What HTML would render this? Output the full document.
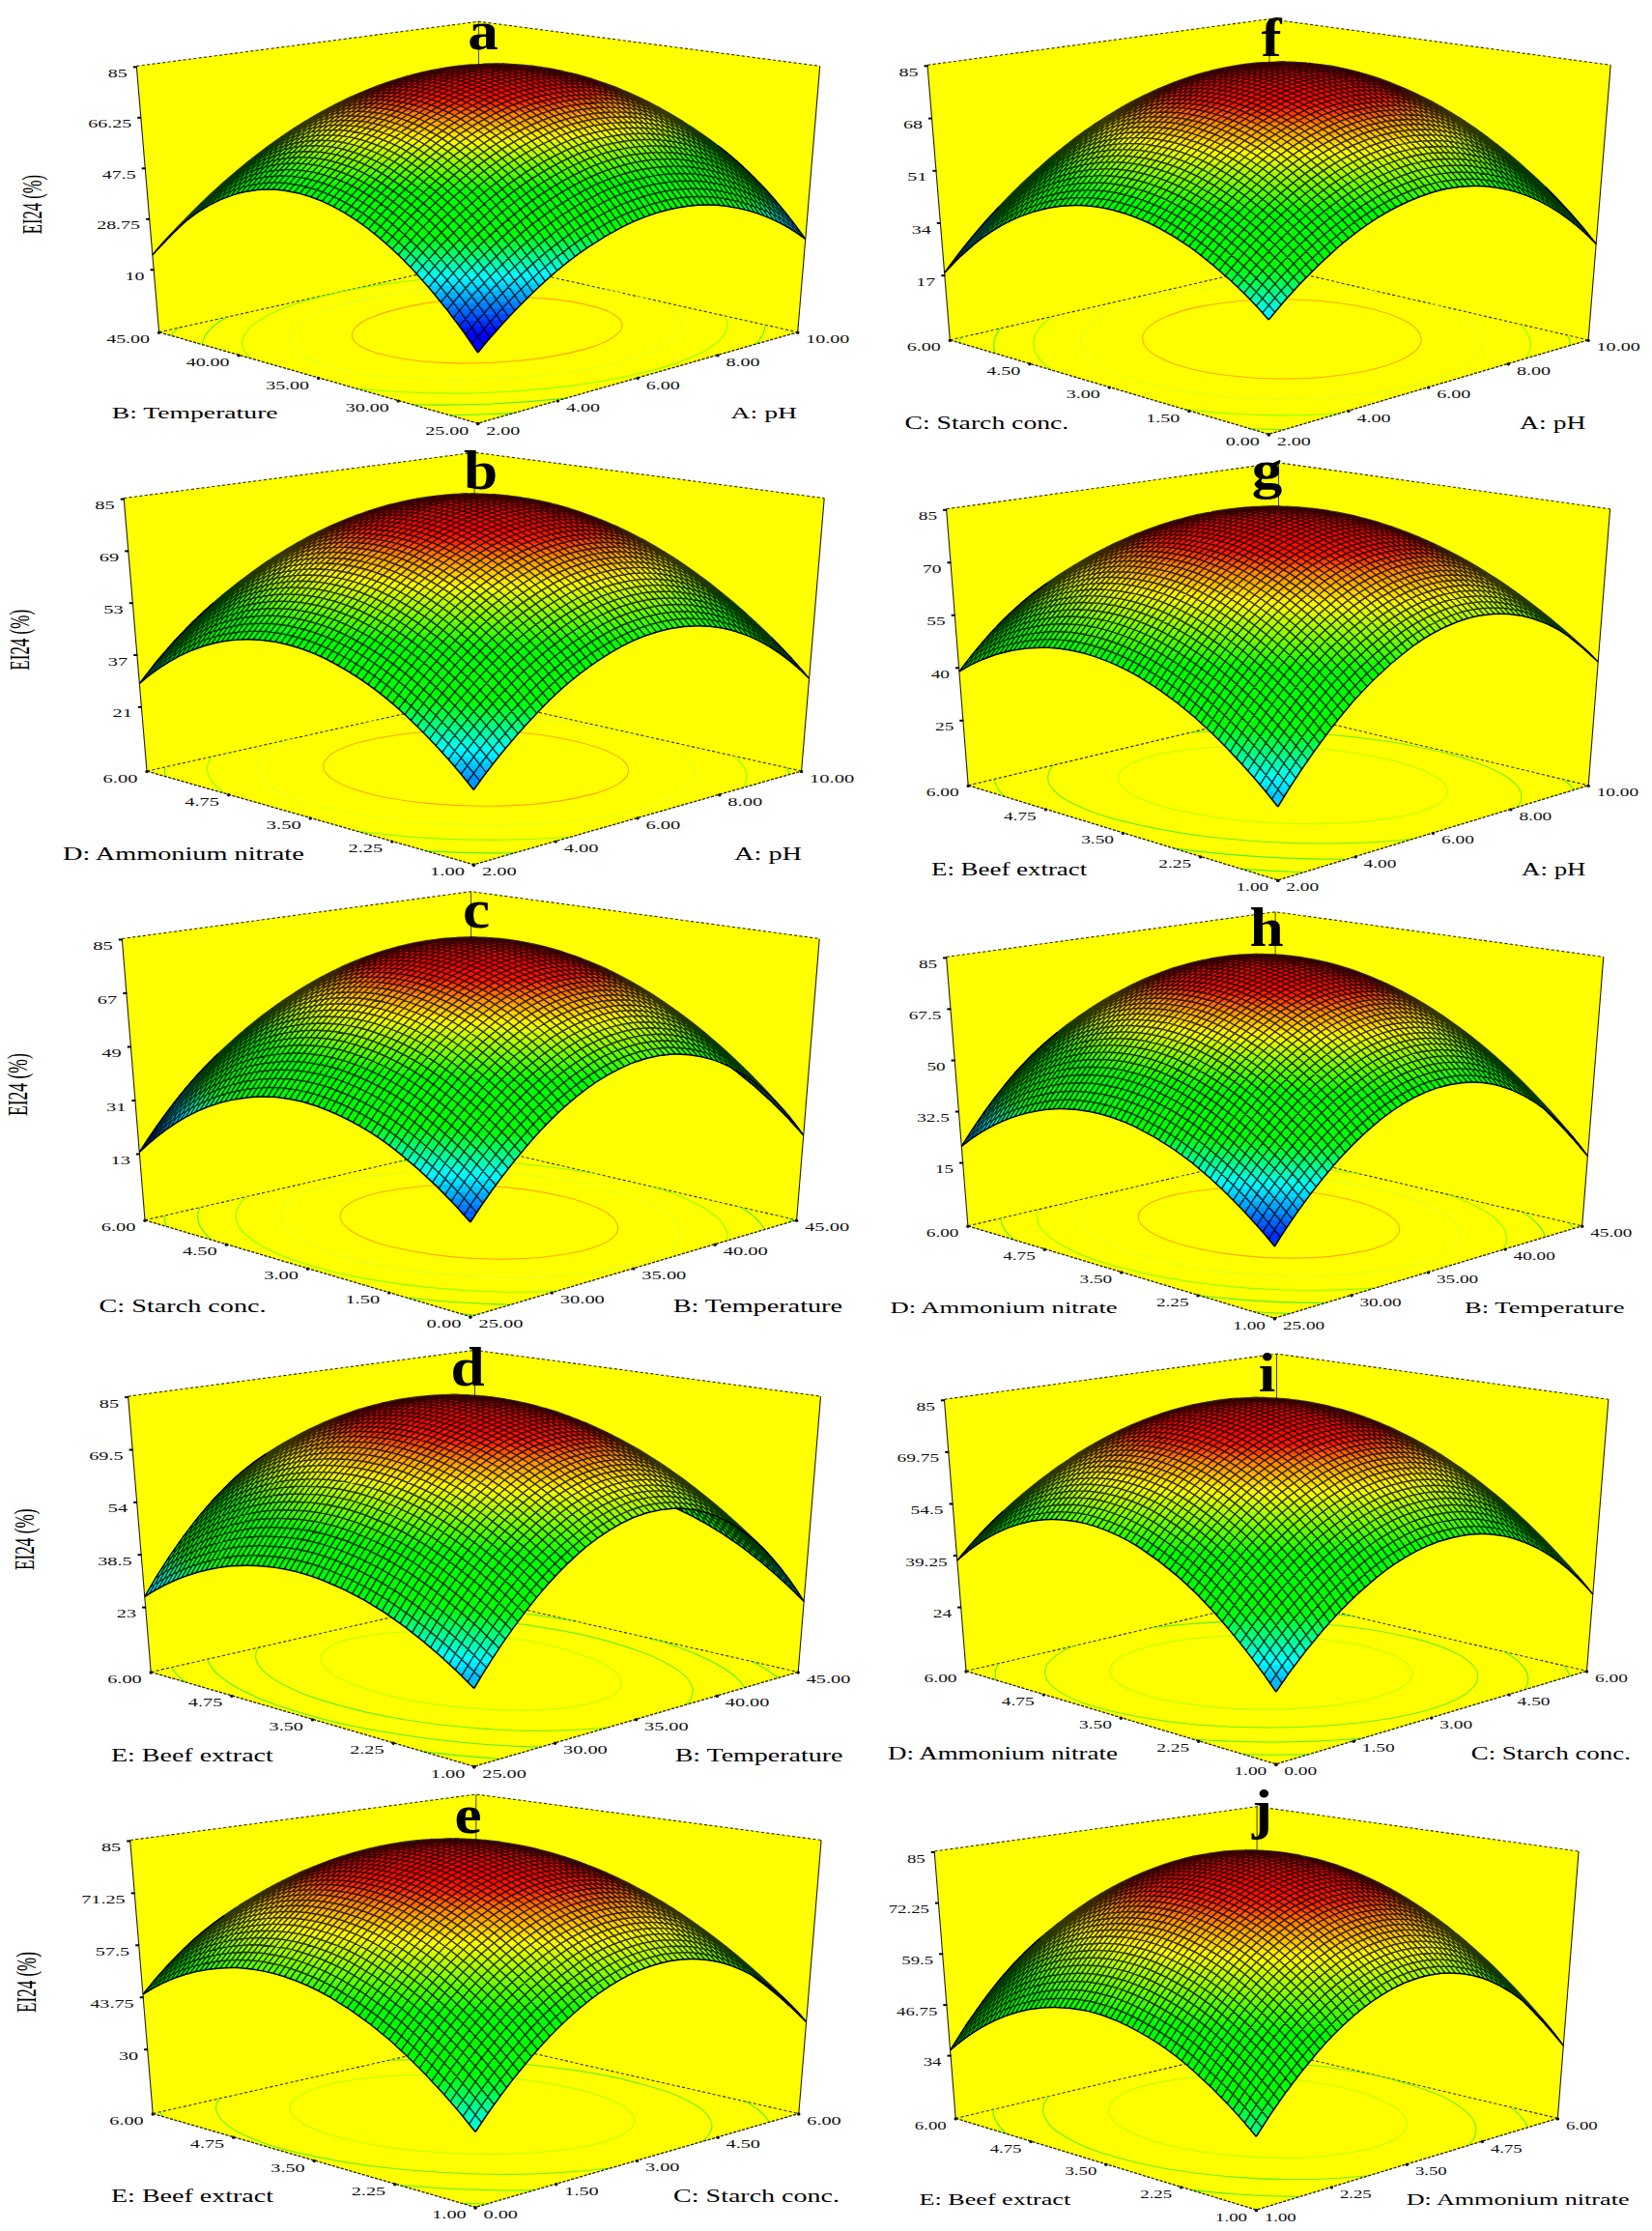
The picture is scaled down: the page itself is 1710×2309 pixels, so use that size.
<!DOCTYPE html>
<html><head><meta charset="utf-8"><title>Response surface plots</title>
<style>html,body{margin:0;padding:0;background:#fff}svg{display:block}text{font-family:"Liberation Serif",serif}</style>
</head><body>
<svg width="1710" height="2309" viewBox="0 0 1710 2309">
<rect width="1710" height="2309" fill="#fff"/>
<g id="pa">
<path d="M141.3 68.4L495.4 22.3L848.7 68.4L825.7 343.8L494.7 438.1L164.6 343.8z" fill="#ff0"/>
<path d="M141.3 68.4L495.4 22.3L848.7 68.4M164.6 343.8L495.5 270.1L825.7 343.8" fill="none" stroke="#330" stroke-width="1.1" stroke-dasharray="3.2 2.2"/>
<path d="M495.4 22.3L495.5 270.1" fill="none" stroke="#442" stroke-width="1"/>
<path d="M848.7 68.4L825.7 343.8M141.3 68.4L164.6 343.8" fill="none" stroke="#221" stroke-width="1.1"/>
<g fill="none" stroke-width="1.1" opacity=".85"><path d="M177.2 347.4q3.2-4.4 7.3-8M495.1 270.2l.7 0M532.4 427.4q-33.4 2-66.8 2.4" stroke="#3e3"/><path d="M209.1 356.5q1.8-10.3 10.1-17.2 7.1-6.4 15.6-11.1M453.4 279.5q34.7-2.6 69.5-3.2M792.2 336.3q-.9 12.2-10.8 20.1M586.2 412.1q-79.6 8.7-159.7 6.6" stroke="#3e3"/><path d="M260.4 371.2q-5-3.8-8-9.2-2.6-5.1-1.4-10.8 3.8-10.8 13.7-17.1 17.9-11.9 38.5-18.5 41.9-13.8 85.5-20.2 84.7-12.9 170.4-11.1M749.6 326.8q4.6 6.3 2.8 13.8-2 6.2-6.8 10.8-10 9.3-22.5 15-24.3 11.2-50.3 17.6-50.2 12.5-101.8 17.6-101.4 10.9-202.9 .4" stroke="#7f0"/><path d="M334.3 377.2q-13-3.9-24.3-11.2-5.5-3.5-8.7-9.1-3-6.1 .2-12.2 3.6-6.2 9.7-10.3 5.2-3.7 11-6.6 10.9-5.4 22.5-9.2 48.3-14.9 98.8-19.7 50.4-5.5 101.1-4.8 49.5 .2 98.1 8.9M659.6 306.7q14.6 3.6 28.1 9.9 6.3 2.9 11.6 7.4 5.6 4.4 6.8 11.4-.1 7.6-5.9 12.9-5.3 5.1-11.7 8.7-11.6 6.4-24.2 10.7-26.9 9.1-54.9 14-27.6 5-55.4 7.7-56.4 5.5-112.9 3.3-27.3-1-54.4-4.5-26.7-3.2-52.4-11" stroke="#dcff2a"/><path d="M389.3 365.2q-9.6-2.7-18-8-4.4-2.8-6.5-7.4-1.6-4.8 1.5-8.9 6.8-7.8 16.4-11.6 8.2-3.6 16.7-6.2 36.1-10.2 73.6-13.2 37.8-3.4 75.6-1.8 36.4 .9 71.4 10.5 9.4 2.7 17.5 8.1 4.1 2.7 6.1 7.2 1.4 4.8-1.7 8.8-6.5 7.5-15.8 11.2-8.5 3.9-17.4 6.5-35.9 10.2-73.1 13.1-37.9 3.5-76 1.9-35.8-.9-70.3-10.2" stroke="#ff9a00"/></g>
<path d="M164.6 343.8L494.7 438.1L825.7 343.8" fill="none" stroke="#220" stroke-width="1.3" stroke-dasharray="3.2 1.4"/>
<g><path d="M833.7 247.5q-30.2-43.4-69.2-79.1-37.6-35.2-86.3-50.9-52-14.7-101.7 6.5-46.5 21.5-81 59.5-40.4-28.2-88.7-37.3-48.4-7.9-95 7.5-45.7 15.6-84 45.1-38.2 29.2-70 65.2 17.4-21.8 39.4-38.9 21.3-16.5 46.9-24.3 26-7.5 52.8-3.3 26.5 4.4 50.1 17.2 47.5 26.9 83.7 68 35.1 38.7 64 82.3 32.4-40.1 70.5-74.8 36.7-33.7 80.9-56.4 45.8-23.6 97.1-21.4 50.2 4.4 90.5 35.1z" fill="#00f"/><path d="M484.8 350.6q-29.6-42.9-65.9-80.3-36-38.1-83-61-48.7-22.9-99.4-6-24.4 9.2-44.5 25.9-18.8 15.6-34.2 34.8 32.7-37 72.1-66.7 38.3-29.2 83.9-44.3 46.8-14.9 95-6.4 47.1 9.4 86.7 36.9 18.6-19.9 40.5-36.1 20.7-15.3 44.5-25 49.1-19.5 99.8-4.3 25.7 8.1 48.3 22.8 21.5 13.9 40.2 31.3 36.3 34.3 64.9 75.3-39.3-30-88.3-34.9-48.4-2.9-92.3 17.9-43.8 20.9-80.2 53-35.3 30.7-65.6 66.4l-22.5 .7z" fill="#00f"/><path d="M480.5 344.6q-29.5-42.1-65.8-78.5-35.2-36.2-80.7-57.6-48.9-22.2-99.3-4.5-23.3 9.1-42.6 25.1-18.9 15.7-34.3 34.9 32.7-37 72.1-66.7 38.3-29.2 83.9-44.3 46.8-14.9 95-6.4 47.1 9.4 86.7 36.9 18.6-19.9 40.5-36.1 20.7-15.3 44.5-25 49.1-19.5 99.8-4.3 25.7 8.1 48.3 22.8 21.5 13.9 40.2 31.3 36.3 34.3 64.9 75.3-38.6-29.5-86.8-34.8-47.1-3.4-90.3 16.3-42.6 19.4-78.2 49.8-35.3 29.8-65.6 64.8l-32.3 1z" fill="#0016ff"/><path d="M476.2 338.6q-29.5-41.3-65.8-76.7-35.1-35.1-80.5-55.1-48.2-20.3-97-2.1-23.3 9.5-42.5 25.8-17.9 15.2-32.6 33.5 32.7-37 72.1-66.7 38.3-29.2 83.9-44.3 46.8-14.9 95-6.4 47.1 9.4 86.7 36.9 18.6-19.9 40.5-36.1 20.7-15.3 44.5-25 49.1-19.5 99.8-4.3 25.7 8.1 48.3 22.8 21.5 13.9 40.2 31.3 36.3 34.3 64.9 75.3-37.7-28.7-84.6-34.6-45.6-4-87.8 14.1-42.2 18.1-77.6 47.5-35.2 28.8-65.3 62.7l-42.2 1.4z" fill="#0030ff"/><path d="M495.5 183.5q18.6-19.9 40.5-36.1 20.7-15.3 44.5-25 49.1-19.5 99.8-4.3 25.7 8.1 48.3 22.8 21.5 13.9 40.2 31.3 36.3 34.3 64.9 75.3-37-28.2-83-34.4-44.4-4.4-85.8 12.4-42.2 17.4-77.6 46.1-33.9 27.2-63.1 59.3-26.2 1.2-52.5 1.6-29.4-40.2-65.5-74.5-34.3-33.3-78-51.9-47.2-19.2-94.8-1.6-22.3 8.9-40.8 24.2-17.9 14.8-32.7 32.8 32.4-35.9 71-65 38.2-28.8 83.6-43.7 46.6-14.7 94.6-6.2 47 9.5 86.4 36.9z" fill="#004aff"/><path d="M495.5 183.5q18.6-19.9 40.5-36.1 20.7-15.3 44.5-25 49.1-19.5 99.8-4.3 25.7 8.1 48.3 22.8 21.5 13.9 40.2 31.3 36.3 34.3 64.9 75.3-76.7-55.9-166-23-40.5 16-74.9 42.9-33.7 26-62.7 57.1-31.4 1.6-62.9 2-28.5-38.1-63.2-70.6-34.3-32.7-77.9-50.6-45.3-17.7-90.9-1.5-22.3 8.6-40.9 23.6-17.1 13.6-31.2 30.3 17-17.6 35-34.3 17.2-15.6 36-29.2 38.4-28.4 83.9-42.4 45.8-13.6 92.7-4.8 46.1 9.6 84.8 36.5z" fill="#0065ff"/><path d="M495.5 183.5q18.6-19.9 40.5-36.1 20.7-15.3 44.5-25 49.1-19.5 99.8-4.3 25.7 8.1 48.3 22.8 21.5 13.9 40.2 31.3 36.3 34.3 64.9 75.3-73.5-54-160.1-25.1-40.4 14.6-74.7 40.4-33.7 25-62.6 55.3-36.9 1.9-73.8 2.3-28.4-37.2-63-68.5-32.6-30-73.4-46.6-44.2-17.3-89-2.2-41.7 16.5-70.8 50.9 17.1-16.9 34.8-33.3 17.1-15.3 35.9-28.6 38.3-27.7 83.6-41.1 45.7-12.9 92.3-3.6 44.8 9.9 82.6 36.1z" fill="#007fff"/><path d="M495.5 183.5q35.3-39 83.1-60.3 49-20.2 99.9-5.7 25.7 7.8 48.3 22.3 21.5 13.6 40.2 30.8 36.4 33.9 65.1 74.6l-.4 .8q-72.1-51.7-156.5-24.2-39 13.7-72.4 38.2-32.2 23.3-60.2 51.6-42.4 2.4-84.9 2.7-27.4-35-60.6-64.5-32.5-29.4-73.1-45.3-42.2-15.8-85-2.1-40.5 15.2-69.3 47.9 17-16.6 34.7-32.5 17.2-15.1 36-28.1 37.6-26.4 81.7-39.1 44.9-12.3 90.6-3.3 44.9 9.9 82.8 36.2z" fill="#09f"/><path d="M495.5 183.5q35.1-38.8 82.7-60.2 47.5-19.7 97.2-6.6 49.7 15.2 88.1 50.7 36.2 32.9 64.8 72.6l-1.4 2.7q-69.6-47-149.6-21.6-37.7 12.8-70.2 35.9-31 21.7-57.9 48.1-48.2 2.9-96.4 3.1-26.5-33.1-58.5-60.8-31.8-28.1-71.3-43.2-40.4-14.8-81.4-2.6-39.8 13.9-68.4 45 3.9-4.9 9.2-8.4l8.4-8.1 16.9-15.2q17.2-14.7 35.9-27.3 37.5-25.8 81.3-37.7 44.8-11.7 90.1-2.1 43.6 10.1 80.5 35.7z" fill="#00b3ff"/><path d="M490.7 180.3l8.1-.3q34.7-37.2 81.2-57.4 46.7-18.8 95.4-5.9 47.1 14.2 84 47.2 36.3 31.9 65 70.8-.9 2.5-2.5 4.6-66.9-42.2-142.5-18.8-36.4 11.8-67.9 33.5-29.6 20-55.5 44.6-54.1 3.4-108.3 3.5-26.4-32.1-58.2-58.7-30.8-26.2-68.6-40-39.4-13.7-79.1-1.9-37.4 12.9-65 41.4 3.8-5.2 9.2-8.8 4.6-3.3 8.5-7.4l16.9-14.9q16.3-13.6 33.9-25.4 36.8-24.9 79.5-36.5 43-11.2 86.6-2.8 42.8 9 79.3 33.2z" fill="#00ceff"/><path d="M485.6 177.1l16.7-.6q34.2-35.6 79.6-54.6 44.8-17.5 91.4-5.8 47.1 13.6 84.1 46.1 35.1 30.2 63 67.3-1.3 3.6-3.9 6.5-63.9-37.4-135-16.2-33.7 10.6-63.3 29.8-29.3 18.9-55 42.4-60.3 4.1-120.7 3.9-25.5-30.1-56-55-30-24.8-66.6-37.8-37.5-12.8-75.5-2.4-36.4 11.6-63.8 38.5 3.3-5.1 8.3-8.6 5-3.2 9.4-7.4l14.8-12.8q16.1-13.4 33.7-24.9 35.7-24 77.1-35.4 41.8-11.1 84.3-3.6 41.5 7.9 77.4 30.6z" fill="#00e8ff"/><path d="M480.2 173.8l25.7-.8q33.7-34 77.9-51.9 44-16.4 89.5-5 44.5 12.7 79.9 42.6 35.1 29.2 63.1 65.5-1.6 5-5.5 8.5-61.4-33-128.4-13.2-32.4 10-61.1 28.1-26.8 16.9-50.6 37.7-66.7 4.8-133.6 4.4-24.6-28.1-53.8-51.3-29.2-23.4-64.4-35.6-35.5-11.9-71.8-2.8-35.4 10.2-62.5 35.5 2.9-5.4 7.9-9 5.1-3.3 9.8-6.9l14.9-12.5q16.1-13.1 33.7-24.3 34-22 73-32.7 40.8-10.8 82.4-4 39.5 7.1 73.9 27.7z" fill="#00fffa"/><path d="M474.6 170.6l35-1.2q32.4-31.5 74.3-48.3 42.8-16 87.4-5.5 44.3 12 79.8 41.4 33.8 27.6 60.9 61.9-1.8 6.5-7.3 10.6-58.6-28.6-121.2-10.3-29.9 9-56.7 25.1-25.4 15.3-48.2 34.3-73.5 5.6-147.2 4.8-24.3-26.9-53.1-48.8-27.2-20.8-59.6-31.9-34.2-11.4-69.3-3.3-34 9.1-60.6 32.5 5.3-10 15.7-14.9 5.7-3.6 10.7-8.3l6.3-5.1q15.2-11.9 31.6-22.2 33.1-20.9 70.8-31.3 79.3-19.6 150.7 20.5z" fill="#00ffd4"/><path d="M468.7 167.5l44.7-1.6q32.6-30.7 74.5-46.2 41.1-14.2 83.3-4.1 43 11.5 77.6 39.6 32.6 26 58.9 58.3-2.2 8.3-9.7 12.9-54.8-24.1-112.5-7.7-54.4 16.7-98.4 53.1-80.7 6.6-161.5 5.4-23.5-25.1-51.2-45.4-26.4-19.5-57.6-29.7-32.5-10.3-65.8-3.1-32.2 8-57.8 29.2 3.8-9.5 13.3-14.3 8.4-4.3 15.5-10.6 15.2-12 31.7-22.2 32.3-20.4 69-30.7 76.2-19.5 146 17.1z" fill="#00ffae"/><path d="M462.4 164.3q27.5-1.4 54.9-1.9 32.1-29.1 72.7-43.4 40.1-13.2 81.2-3.4 40.2 10.7 73.2 36.3 32.5 24.9 58.8 56.3-.7 5.4-4.8 9.2-3.5 3.4-7.6 5.9-50.7-19.5-103.3-5.2-50 14.7-91.4 46.8-88.2 7.7-176.7 5.9-22.3-23-48.5-41.5-25.5-18.1-55.2-27.5-31.4-9.7-63.5-3-30 7-54.3 25.8 .9-5.4 5-9.1 3.3-3.2 7.3-5.6l9.4-5.1q3.8-2.4 7.3-5.3 14.2-10.8 29.5-20.1 30.3-18.6 64.4-28.4 73.3-19.8 141.6 13.3z" fill="#00ff87"/><path d="M455.8 161.2q32.8-1.8 65.6-2.3 30.8-26.9 69.3-40.2 39.3-12.7 79.5-3.3 39.1 10 71.4 34.4 31.4 23.4 56.9 53-.5 6.6-5.8 10.8-4.5 4-9.8 6.8-46.8-15.3-94.3-2.6-44.8 12.7-82.7 40-96.2 9-192.9 6.7-21.4-21.2-46.3-38-24.6-16.8-53.1-25.3-59.9-16.1-110.8 19.8 1.2-9.4 10-14.3 7.3-4.8 15.4-8.2 14.1-10.6 29.4-19.8 29.3-17.9 62.2-27.5 69.8-19.3 136 10z" fill="#00ff61"/><path d="M448.6 158.2q38.5-2.3 77.1-2.9 30.1-25.1 67.3-37.3 37.1-11.4 75.1-3.1 38.8 9.3 71.1 33.1 29.9 21.8 54.5 49.5-.3 8-7.4 12.7-5.8 4.4-12.5 7.4-41.5-11-83.2-.3-39.6 10.6-73.8 33.2-105 10.6-210.5 7.5-21.4-20.1-46.2-35.7-22.7-14.4-48.5-21.7-55.4-14.2-103.5 16.9-.8-4.8 2.1-8.6 2.6-3.4 6.1-5.9 6.7-4.7 14.2-7.9 8.7-3.7 16.3-9.6l12.6-7.9q28.5-17 60.4-26.3 65.5-18.4 128.8 6.9z" fill="#00ff3b"/><path d="M440.8 155.2q44.6-2.9 89.3-3.4 29.6-23.6 65.8-34.6 35.3-10.1 71.2-2.5 36.3 8.4 66.9 29.8 30 20.7 54.8 47.6 .7 4.9-2.7 8.8-3 3.6-7.1 6.2-7.4 4.8-15.7 8-34.9-6.8-69.6 1.5-34.3 8.3-64.6 26.4-114.7 12.6-230 8.5-19.3-17.2-41.4-30.7-21.7-13.4-46.2-20.2-51.6-13.5-97.7 13.4-2.2-8.8 5.7-14.3 6.4-5 13.7-8.2l8.9-3.8q3.8-1.2 7-3.7l12.6-7.7q26.6-15.6 56.1-24.5 62-18.2 123 3.4z" fill="#00ff15"/><path d="M432.2 152.3q51.2-3.6 102.6-4 29-22.1 64-32 34.5-9.1 69.3-1.4 33.9 8 62.8 27.5 28.8 19.2 52.7 44.2 1.3 6.3-3.6 10.9-3.9 3.8-8.7 6.4-10 5.6-20.9 9.2-28.7-3.2-56.7 3.5-26 6.2-49.8 18.4-125.9 15.2-252.5 9.9-18.3-15.4-39.1-27.3-20.7-11.9-43.8-17.8-46.2-11.1-88.4 10.7-4.2-7.7 2.6-13.8 5.7-5.2 12.7-8.4 7.1-3.5 14.5-6.1 6.9-2.4 12.9-6.5 25.6-14.9 53.9-23.6 57.8-17.3 115.5 .2z" fill="#0f0"/><path d="M422.5 149.6q58.5-4.5 117.1-4.8 28.4-20.5 62.3-29.2 32.5-7.9 65.2-.9 32.5 7.4 60.6 25.6 27.4 17.7 50.5 40.9 2.1 8.4-5.6 13.6-6 4.5-12.9 7.5-13.4 5.9-27.6 9.7-23.2 .2-45.5 6.4-11.5 3.1-22.6 7.5l-19.7 2.8q-42.8 5.4-85.9 8.1-87.7 5.6-175.4 1.4-33.3-27-74.5-38.4-42.1-10.3-81.6 7.4-5.7-6.3-.8-13.1 4.7-5.5 11.1-8.7 12.7-6.6 26.4-10.6 24.5-13.4 51.1-22.1 53.5-16.7 107.8-3.1z" fill="#0f0"/><path d="M411.3 147.1q66.6-5.7 133.4-5.7 26.9-18.3 58.4-26.1 31.3-7.4 62.9-.9 31.2 6.9 58.3 23.8 26.1 16.2 48.2 37.5 3.2 7.3-3.2 12.6-5 4.5-11.2 7.3-11.7 5.6-24.2 9.2-25.3 7.4-51.3 11.8-51 8.6-102.6 12.4-103 8.1-206.2 2.4-30.6-22.7-67.4-32.1-36.6-8.4-71.7 4.7-6.6-4.6-4.8-11.9 3.1-6 9-9.3 11.2-6.6 23.5-10.4l13.1-4q6.1-2.4 12-5.4 11.2-5 22.9-8.9 49.6-16.7 100.9-7z" fill="#0f0"/><path d="M550.1 137.9q36.2-23.3 79-26.3 41.5-1.5 78.6 17.4 18.9 9.5 35.7 22.1 8.7 6.5 16.9 13.5 3.8 3 6.9 6.6 2.5 4.4-.2 8.8-7 8.3-17.4 12.2-9.4 4-19.2 6.9-19.3 5.7-39 9.4-82.1 14.7-165.6 17.5-81.3 3.7-162.5-1.7-27.2-18.1-58.9-25.4-30.7-6.7-60.8 2.1-5.2-2.8-8-7.9-1.9-5.9 2.8-10.3 8.3-7.3 18.8-11.1 10.6-4.2 21.5-7.1 9.9-2.2 19.3-6 39.3-15.8 81.6-15.1l11.9 .7q5.3 1 10.5 .2l22.2-1.9 41.4-2.6q42.2-2.1 84.5-2z" fill="#0f0"/><path d="M555.8 134.4q77.1-43.9 156.1-3.2 18.9 10 35.8 23.1l8.4 6.8q4.2 2.5 6.3 6.7 1.7 5.3-2.3 9.4-3.3 3.4-7.4 5.7-18.5 9.6-39 14.2-19.2 4.8-38.8 8.1-80.5 12.8-162.1 15.1-81 3.1-161.9-3.4-22.4-12.8-47.5-18.2-24.4-5.1-48.9-.4-5.2-2.3-9.6-5.9-5-3.8-3.8-9.8 2.4-5.3 7.5-8.3 4.5-3 9.5-5.2 20.4-8.5 42-13 11.3-2.2 22.2-5.5 9.9-2.7 20.1-4.4 10.8-1.9 21.8-2.5 10.3 .1 20.6-1 85.3-9 171-8.3z" fill="#0f0"/><path d="M561.9 131q37.2-20.4 79.5-19.5 41 2.2 76.6 23 18.8 10.8 35.6 24.5 4.5 3.6 3.5 9-1.8 4.6-6 7.3-7.7 5.3-16.6 8.5-38.2 12.9-78.2 18-80 11.2-160.7 12.7-80.8 2.4-161.1-5.8-31.1-14.1-65.1-12.4-11-3-19.7-10.2-4.7-4.5-1.9-10.3 3.2-4.6 8.1-7.3 19.9-10.4 42-15 43.3-9.8 87.6-14.3 87.9-9.3 176.4-8.2z" fill="#0f0"/><path d="M568.5 127.7q63-30.3 127.6-3.9 15.3 6.4 29.3 15.1l14.7 9.8q6.5 3.6 10.7 9.5 2 4.2-.9 8-2.6 3.2-6.1 5.3-7 4.3-14.8 7.1-14.9 5.4-30.5 8.9-64.2 13.4-129.7 17.3-64.7 4.6-129.6 3.6-65.8-.2-130.9-10-16.2-2.6-31.9-7.3-7.8-2.3-14.9-6.2-3.6-1.8-6.4-4.7-2.9-3.1-2.2-7.1 3.7-7.6 11.8-11 7.1-3.6 14.6-6.1 15.2-5.1 30.9-8.4 64.6-12.9 130.4-16.7 63.9-4.3 127.9-3.2z" fill="#0f0"/><path d="M575.8 124.4q62.6-26.4 124.8 1.3 15.4 6.9 29.6 16.2 6.4 4 12.3 8.6 6.3 6.3-.1 12.6-13 9.8-29 13.7-14.8 4.3-29.9 7.3-62.1 11.7-125.3 15.2-63 4-126.1 2.7-64-.5-127-11-15.7-2.8-30.6-8.3-7.9-2.6-13.7-8.5-2.8-3.4-1.1-7.5 1.7-3.3 4.8-5.5 13.5-8.5 29.1-12.4 15.1-4.3 30.6-7.3 62.2-11.3 125.5-14.7 63-3.9 126.1-2.4z" fill="#0f0"/><path d="M583.8 121.1q61.7-22 121 6.5 14 6.9 27.1 15.2 3.7 2 6.3 5.2 2.4 3.3 .7 7-4.4 6.3-11.8 9.3-28.4 11.7-58.9 16.2-60.9 10.2-122.5 13.2-61.1 3.4-122.3 1.7-31.6-.9-63.1-3.7-30.6-2.4-60.6-8.9-15.7-2.9-29.2-10.9-8.1-5.4-2.7-12.8 5.5-5.3 12.7-8.1 28.7-11 59.2-15.6 60.9-9.9 122.5-12.8 60.8-3.2 121.6-1.5z" fill="#1cff00"/><path d="M592.9 118q60.7-17.3 116.9 12.1 6.7 3.7 13.5 7.1 3.5 1.6 6.4 3.9 3.1 2.3 3.6 6.1-.3 4-3.6 6.6-2.9 2.4-6.2 4.1-6.5 3.4-13.5 5.7-28.2 8.9-57.5 13-118.9 16.9-238.9 12-30.5-1.1-60.9-4.2-29.5-2.7-58.2-10.3-7.5-2.1-14.5-5.7-3.4-1.8-6-4.6-2.7-3-1.5-6.7 4-6.5 11.4-9.4 6.7-3.2 13.8-5.5 28.3-8.5 57.7-12.6 118.2-16.4 237.5-11.6z" fill="#3bff00"/><path d="M603.7 115.1q29.5-6.7 59.3-1.3 14.9 2.9 29.1 8.4 12.3 5.4 24.6 10.5 3.6 1.6 6.7 4.1 3.2 2.3 3.4 6.1-2.2 7.1-9.7 10-13 6.3-27.1 9.6-28 6.8-56.7 10.5-115.7 14.4-232.2 8.6-29.5-1.4-58.9-5.2-14.2-1.8-28.3-4.7-14.2-2.7-27.2-8.8-3.5-1.7-6.1-4.7-2.6-3-1-6.6 4.2-6.1 11.2-8.8 13.2-5.8 27.3-9.1 27.8-6.6 56.1-10.1 114.4-14.1 229.5-8.5z" fill="#5aff00"/><path d="M321.2 166q-14.3-2.5-27.5-8.5-3.4-1.7-6-4.5-2.6-2.9-1.1-6.4 4-5.8 10.8-8.4 26.2-10.5 54.4-14.5 55.7-9 112.1-11.6 56-3 112.1-1.5l28.8 1.2q13.5 1.2 26.8-.3 28.1-.8 54.6 8.5 6.8 2.7 13.8 4.6 6.7 1.9 13 5.2 3.1 1.6 5.5 4.2 2.5 3 .9 6.5-4 5.6-10.6 8.2-25.9 10.4-53.6 14.4-55.2 9-111.1 11.6-56.5 3.1-113.2 1.6-55.3-.7-109.7-10.3z" fill="#79ff00"/><path d="M327.6 160.2q-13.9-2.5-26.7-8.2-3.1-1.6-5.6-4-2.7-2.7-1.5-6.1 3.7-5.8 10.4-8.3 25.3-10.1 52.4-13.9 53.1-8.5 106.9-11.1 54.4-2.9 108.8-1.5 27.1 .7 54.1 2.9 26.8 1.6 53.1 7 13.8 2.4 26.4 8.3 3.1 1.5 5.5 4 2.6 2.8 1.2 6.2-4 5.6-10.6 8.1-25.1 9.9-51.9 13.7-53.4 8.6-107.4 11.1-54.5 3-109.1 1.5-53.4-.6-106-9.7z" fill="#98ff00"/><path d="M334.3 154.2q-13.5-2.2-25.9-7.7-3.1-1.5-5.5-3.8-2.6-2.5-1.6-5.8 3.5-5.6 9.9-8 24.4-9.6 50.5-13.2 51.3-8.2 103.2-10.6 52.6-2.8 105.2-1.5 51.7 .6 102.7 9.3 13.1 2.3 25.3 7.6 3.2 1.5 5.7 3.9 2.7 2.5 1.7 5.9-3.5 5.6-10 8-24.5 9.6-50.8 13.2-51.4 8.2-103.4 10.6-52.4 2.8-104.9 1.4-51.5-.6-102.1-9.3z" fill="#b8ff00"/><path d="M341.2 148.3q-12.7-2.1-24.5-7.1-3.1-1.4-5.6-3.6-2.7-2.2-2-5.5 3.2-5.5 9.5-7.8 23.4-9.2 48.4-12.6 49.4-7.8 99.4-10.1 50.7-2.7 101.4-1.5 49.8 .6 98.9 9 12.6 2.1 24.2 7.2 3.1 1.4 5.5 3.7 2.5 2.3 1.5 5.6-3.5 5.3-9.7 7.5-23.8 9.2-49 12.6-49.4 7.7-99.3 10-50.3 2.7-100.7 1.4-49.4-.6-98-8.8z" fill="#d7ff00"/><path d="M348.3 142.4q-12.1-2.1-23.5-6.8-3-1.3-5.4-3.4-2.6-2.1-2-5.2 3-5.2 8.9-7.3 22.3-8.8 46.2-12 47.4-7.4 95.4-9.6 48-2.6 96-1.4 48.1 .5 95.5 8.3 12.2 2.1 23.6 6.8 2.8 1.3 5.1 3.3 2.7 2.1 2 5.3-3.1 5.2-9.1 7.4-22.5 8.7-46.4 11.9-47.8 7.4-96.2 9.6-48.1 2.5-96.2 1.3-47.3-.6-93.9-8.2z" fill="#f6ff00"/><path d="M355.8 136.4q-11.8-2-22.9-6.6-2.8-1.2-5.1-3.2-2.4-2-1.7-4.9 3.1-4.9 8.8-6.9 21.6-8.2 44.5-11.3 45.5-6.9 91.6-9 45.9-2.3 91.8-1.2 45.3 .5 89.9 7.9 11.6 1.9 22.4 6.4 2.8 1.2 5.1 3.3 2.4 2.1 1.5 5-3.2 4.8-8.8 6.7-21.5 8.2-44.4 11.3-45.6 6.9-91.7 9-45.7 2.3-91.5 1.2-45.1-.5-89.5-7.7z" fill="#ffe900"/><path d="M363.7 130.3q-11-1.8-21.5-5.9-2.7-1.1-5-3-2.4-1.7-2-4.5 2.7-4.9 8.2-6.8 20.4-7.7 42.2-10.6 42.6-6.4 85.7-8.4 43.7-2.3 87.5-1.2 43.3 .4 86 7.3 11.2 1.8 21.6 6 2.6 1.1 4.7 2.9 2.4 1.8 1.9 4.6-2.7 4.7-8.1 6.6-20.2 7.7-41.7 10.5-43 6.6-86.5 8.5-43.3 2.3-86.7 1.3-43.4-.5-86.3-7.3z" fill="#ffc900"/><path d="M372 124.3q-10.4-1.7-20.3-5.5-5.6-1.6-6.9-6.7 2-4.7 7.3-6.4 19.3-7.5 40-10.1 40.3-6.1 81-7.9 41.4-2.1 82.9-1.2 40.6 .5 80.6 6.7 10.4 1.7 20.2 5.4l4.8 2.7q2.2 1.5 2.2 4.1-2.2 4.8-7.5 6.5-19.4 7.4-40 10-40.5 6.1-81.4 7.9-41.5 2.1-83 1.1-40.2-.4-79.9-6.6z" fill="#fa0"/><path d="M380.9 118.1q-9.9-1.5-19.2-5-5.4-1.4-6.6-6.3 2.1-4.4 7.1-6 18.3-6.8 37.8-9.3 37.9-5.6 76.3-7.3 38.3-1.9 76.7-1 38 .4 75.6 6.2 9.7 1.6 18.8 5.1l4.4 2.4q2.2 1.5 2 4.1-2.4 4.2-7.2 5.8-18.2 6.7-37.6 9.2-37.8 5.6-76.1 7.2-38.6 2-77.3 1.1-37.6-.5-74.7-6.2z" fill="#ff8900"/><path d="M390.4 112q-9.2-1.4-17.9-4.6-4.9-1.3-6.3-5.6 1.7-4.2 6.4-5.7 16.9-6.3 34.9-8.5 35.3-5.1 70.9-6.7 35.6-1.7 71.3-.9 35 .3 69.5 5.6 9.1 1.4 17.7 4.6 5.2 1.3 6.1 5.9-2.2 4-6.8 5.5-17 6.1-35 8.4-35 5.1-70.4 6.6-35.7 1.7-71.4 .9-34.7-.4-69-5.5z" fill="#ff5900"/><path d="M400.6 105.7q-8.2-1.2-16-4-4.3-1.1-6.2-4.7 .9-4 5.3-5.4 15.1-5.7 31.3-7.7 32.1-4.8 64.6-6.2 32.7-1.6 65.5-.9 32.2 .3 64 5 8.3 1.2 16.1 4 4.4 1.1 6.1 4.9-1.1 3.9-5.4 5.2-15.3 5.7-31.5 7.8-32.2 4.7-64.7 6.1-32.5 1.6-65 .9-32.2-.3-64.1-5z" fill="#ff2a00"/><path d="M412 99.3q-7.4-1.1-14.5-3.5-3.9-.9-5.7-4.2 .9-3.6 4.9-4.8 13.7-5.1 28.2-6.9 29-4.1 58.3-5.4 28.9-1.4 58-.8 28.9 .3 57.4 4.5 7.4 1.1 14.3 3.6 4.2 1 5.4 4.6-1.6 3.3-5.4 4.4-13.6 5-28 6.7-28.8 4.2-57.8 5.4-57.8 3.6-115.1-3.6z" fill="#ff1000"/><path d="M424.8 92.8q-6.5-.9-12.6-3-3.5-.8-5.1-3.6 .7-3.2 4.3-4.2 12-4.3 24.7-5.8 24.9-3.5 50-4.6 50.2-3.1 100 3.1 6.4 .9 12.5 3 3.5 .8 4.8 3.8-1.2 3-4.6 4-12 4.3-24.7 5.8-24.8 3.5-49.9 4.5-49.9 3.1-99.4-3z" fill="#ff0200"/><path d="M439.9 86.1q-5.2-.8-10.1-2.3-2.7-.7-4.4-2.7-.2-2.6 2.8-3.5 9.6-3.7 19.9-4.9 20.3-2.9 40.8-3.7 41.2-2.6 82 2.3 5.3 .8 10.3 2.4 2.8 .6 4.3 2.7-.2 2.7-3.1 3.5-9.7 3.6-20 4.8-20.4 2.9-41 3.7-40.9 2.5-81.5-2.3z" fill="#fb0000"/><path d="M459.4 78.8l-7.2-1.6q-1.9-.4-3.2-1.7-.4-2 1.9-2.6 6.9-2.6 14.2-3.4 14.5-2.1 29.1-2.7 28.9-1.7 57.7 1.7l7.2 1.6q5.4 1.7 1.1 4.3-6.9 2.6-14.2 3.4-14.3 2-28.7 2.6-29.1 1.8-57.9-1.6z" fill="#f70000"/></g>
<path d="M501.1 357.3q-30-45.3-66.7-85.1-18.2-19.6-38.9-36.6-20.4-16.8-43.9-29.1-24.6-12.9-52.1-16.6-26.4-3.2-51.7 4.8-26.1 8.6-47.5 26-20.3 16.4-36.6 36.8M488.3 355.6q32-39.6 69.7-73.8 37.2-34.3 82.3-57.1 22.9-11.2 47.7-17 24.5-5.5 49.5-3.7 50.2 4.7 90.5 35.5M507.5 349.7q-29.4-44.1-65.1-83.2-17.6-19-37.4-35.6-19.2-16.1-41.1-28.3-22.7-12.8-48.2-18.1-25.7-5.1-51.1 .6-24.9 5.9-46.1 20.3-20.9 14.2-37.8 32.9M176.2 243.3l-6.6 7.9M481.9 346.5q32-39.5 69.7-73.6 37.3-34.2 82.4-56.8 23-11.2 47.9-16.8 24.5-5.5 49.5-3.6 50.5 5.1 90.8 36.1M513.8 342.4q-28.6-43.1-63.5-81.4-17.5-19.1-37.4-35.8-19.2-16.3-41.1-28.7-22.8-13-48.4-18.4-25-5.2-50-.1-25 5.4-46.4 19.4-21 13.8-38.1 32.3M179.9 239.8l-4.4 5.3M475.5 337.6q32.1-39.4 69.8-73.4 37.3-34 82.5-56.5 23-11.1 47.9-16.6 24.6-5.4 49.7-3.3 50.6 5.2 91 36.5M520.2 335.3q-28.6-43.1-63.5-81.2-33.7-37.7-77.1-63.5-22.1-12.7-47.1-18.5-25-5.6-50.2-1-25.1 4.9-46.7 18.6-21.2 13.4-38.4 31.6M184.7 235.1l-3.3 4.1M469.1 329.1q32.1-39.4 69.9-73.3 37.3-33.9 82.5-56.2 23.1-11 48-16.4 24.7-5.3 49.8-3.2 50.8 5.6 91.2 37M526.6 328.3q-28-42-61.9-79.3-33.8-37.9-77.2-64-22.2-13-47.2-18.9-24.4-5.7-49.1-1.7-25.2 4.4-47 17.8-20.6 12.5-37.6 29.7M462.8 320.7q32-39.2 69.8-73 37.4-33.9 82.7-56 23.1-10.9 48-16.2 24.8-5.2 49.9-2.9 50.9 5.7 91.5 37.4M532.9 321.6q-28-41.9-61.9-79.2-33.2-37.1-75.7-62.9-21.6-12.7-45.8-18.9-24.4-6.1-49.3-2.6-25.3 3.9-47.4 16.9-20.7 12.1-37.9 29M456.4 312.7q32.7-40 71.5-74.3 37.4-33.4 82.6-54.9 23.1-10.7 48.1-15.7 24.8-4.9 49.9-2.3 50.3 6.3 90.4 37.7M539.2 315.1q-27.9-41.9-61.8-79-32.6-36.4-74.2-61.9-21.7-12.8-46-19.2-23.8-6.1-48.1-3.2-24.6 3.3-46.4 15.3-20.9 11.5-38.2 28M450.1 304.9q32.7-40 71.4-74 37.5-33.4 82.7-54.7 46.8-22.1 98.2-17.6 50.4 6.5 90.6 38.1M545.5 308.7q-27.3-40.7-60.2-77.1-32.7-36.6-74.3-62.4-21.7-13-46.1-19.6-23.1-6.1-46.8-3.7-24.7 2.8-46.7 14.4-21.1 11.1-38.6 27.3M443.7 297.4q32.8-39.9 71.5-73.9 37.5-33.2 82.8-54.4 46.9-21.9 98.3-17.2 50.6 6.7 90.9 38.5M551.8 302.6q-27.3-40.7-60.2-76.9-32.1-35.9-72.8-61.3-21-12.8-44.7-19.6-23.1-6.6-47-4.6-24.8 2.3-47 13.5-21.2 10.7-38.8 26.6M437.4 290.1q32.8-39.8 71.5-73.6 37.5-33.1 82.9-54.2 47-21.8 98.4-16.9 50.8 7 91.1 38.9M558.1 296.7q-27.3-40.6-60.2-76.7-31.5-35.1-71.3-60.2-21-13-44.8-20-22.4-6.5-45.8-5.1-24 1.8-45.9 12-21.3 10.1-39.2 25.5M431.1 283.1q32.8-39.6 71.5-73.4 37.6-33 82.9-53.9 47.2-21.6 98.6-16.5 50.9 7.2 91.3 39.2M564.3 291q-26.5-39.6-58.5-74.9-31.5-35.3-71.3-60.7-20.5-12.7-43.5-19.9-22.5-7-46-6-24.1 1.3-46.2 11.1-21.4 9.7-39.4 24.8M424.8 276.4q32.8-39.6 71.6-73.2 38.2-33.5 84.4-54.3 47.3-21.1 98.6-15.4 50.2 7.7 90.2 39.4M570.6 285.5q-26.6-39.5-58.5-74.7-31-34.5-69.8-59.6-20.5-12.9-43.5-20.3-21.9-6.9-44.8-6.4-23.4 .8-45.1 9.7-21.5 9-39.8 23.6M418.6 270q32.7-39.5 71.5-73 38.2-33.4 84.5-54.1 47.4-20.9 98.7-15 50.4 7.9 90.4 39.7M576.8 280.2q-26.5-39.4-58.5-74.5-30.9-34.5-69.8-59.4-19.8-12.4-42-19.7-21.9-7.1-44.9-6.8-23.5 .6-45.3 9.4-20.9 8.5-38.7 22.2M412.3 263.8q32.7-39.4 71.5-72.8 38.3-33.3 84.6-53.8 47.5-20.8 98.8-14.7 50.5 8 90.6 40M583 275.1q-25.9-38.4-56.9-72.6-30.3-34-68.3-59-19.9-12.8-42.2-20.5-21.2-7.3-43.5-7.7-23.6-.1-45.7 8-20.9 7.8-39 21.1M406.1 257.9q32.7-39.3 71.5-72.6 38.3-33.2 84.6-53.5 47.6-20.7 98.9-14.4 50.6 8.2 90.8 40.3M589.2 270.2q-25.9-38.3-56.9-72.5-30.3-33.9-68.3-58.8-19.2-12.2-40.7-19.8-21.2-7.5-43.6-8-46.2 .2-83.8 27.4M399.9 252.3q32.7-39.2 71.5-72.4 38.3-33.1 84.6-53.2 47.7-20.6 99-14.2 50.8 8.4 91.1 40.6M595.3 265.5q-25.8-38.2-56.8-72.3-29.7-33.1-66.7-57.6-19.3-12.5-40.8-20.2-20.5-7.4-42.3-8.3-45.4-.8-82.9 24.9M393.7 246.9q32.7-39.1 71.5-72.1 38.3-33 84.6-53 47.1-20.2 97.8-14.1 50.1 7.9 90.2 39.2M601.4 261q-25.1-37.1-55.1-70.4-29.7-33.4-66.8-58.1-19.2-12.7-40.8-20.6-20.6-7.5-42.4-8.7-44.6-1.2-81.9 23.4M387.6 241.8q32-38.2 69.8-70.6 37.8-32.6 83.2-52.8 46.5-20.5 96.8-15.6 49.5 6.6 89.6 36.4M607.5 256.7q-25.1-37.1-55.1-70.2-29.1-32.6-65.2-57-18.6-12.3-39.4-20.3-19.9-7.7-41.1-9.4-44.5-2.7-82.4 20.9M381.5 237q31.9-38.1 69.8-70.4 36.5-31.4 80.2-51.3 45.1-20.5 94.3-17.2 48.8 5 89.2 33M613.6 252.6q-25.1-37-55-70-28.5-31.8-63.7-55.8-18.6-12.4-39.4-20.7-19.9-7.8-41.2-9.7-43.7-3.1-81.4 19.4M375.4 232.5q31.3-37.2 68.2-68.9 35.8-31 78.7-51.1 44.5-20.7 93.3-18.5 48.1 3.7 88.6 30.1M619.7 248.7q-24.5-35.9-53.5-68.1-28.4-32-63.6-56.3-18-12.1-38-20.4-19.9-8.2-41.3-10.6-42.8-3.9-80.5 17.1M369.3 228.2q30.6-36.3 66.6-67.3 35.2-30.6 77.3-50.8 43.1-20.7 90.7-20 47.4 2.1 88.1 26.8M625.7 245q-24.4-35.8-53.4-67.9-27.8-31.2-62.1-55.1-35.3-25-77.9-31.5-42-4.7-79.5 14.8M363.2 224.2q30.6-36.2 66.6-67.1 34.6-30 75.8-49.9 42.4-20.6 89.5-20.6 45.9 1.3 85.9 24.2M631.7 241.5q-23.7-34.7-51.8-66-27.8-31.4-62.1-55.6-34.7-24.8-76.5-31.9-41.9-5.7-79.9 13.2M357.2 220.5q29.9-35.4 65-65.6 33.9-29.6 74.2-49.6 41.2-20.4 87-21.8 45.2-.2 85.3 20.9M637.6 238.2q-23.6-34.6-51.6-65.8-27.3-30.6-60.6-54.4-34-24.6-75.1-32.3-41.1-6.4-78.9 11M351.2 217q29.2-34.4 63.3-64 33.4-29.2 72.8-49.3 39.8-20.3 84.3-22.9 44.5-1.6 84.7 17.6M643.6 235.1q-23.7-34.5-51.6-65.7-26.6-29.7-59-53-33.4-24.4-73.8-32.8-40.2-7.1-77.7 8.9M345.3 213.8q28.5-33.5 61.7-62.5 32.7-28.7 71.3-48.8 39.1-20.5 83-24.1 43-2.6 82.6 14.6M649.5 232.2q-23-33.5-50-63.8-26.6-29.9-58.9-53.5-32.8-24.1-72.4-33.1-40.1-7.9-78.1 7.3M339.3 210.9q27.9-32.7 60.1-60.9 32.1-28.4 69.8-48.5 38.5-20.7 81.8-25.1 42.3-3.6 81.7 12.2M655.4 229.5q-22.9-33.4-50-63.6-25.9-29.2-57.3-52.2-32.2-24-70.9-33.4-39.3-8.7-77 5.2M333.4 208.2q27.8-32.5 60.1-60.7 30.7-27.1 66.7-46.7 37.1-20.4 79-25.9 41.6-4.9 80.9 9.2M661.2 227q-22.2-32.3-48.3-61.7-25.9-29.4-57.3-52.7-31.5-23.7-69.5-33.7-38.4-9.2-75.9 3.3M327.6 205.8q27.1-31.6 58.4-59.2 30.1-26.6 65.1-46.2 35.9-20.1 76.4-26.6 40.7-6.1 80 6.3M667 224.7q-22.2-32.3-48.2-61.5-25.2-28.6-55.7-51.4-30.9-23.4-68.1-33.9-37.5-9.8-74.7 1.2M321.8 203.7q26.4-30.8 56.7-57.6 29.5-26.2 63.6-45.8 35.2-20.2 75-27.5 39.3-6.7 77.8 3.8M672.8 222.6q-22.1-32.2-48.1-61.3-24.6-27.8-54.2-50.2-30.2-23.1-66.6-34-36.7-10.4-73.5-.7M316 201.8q25.7-29.8 55.1-56.1 28.8-25.7 62.1-45.2 33.8-19.8 72.2-28 38.5-7.7 76.8 1.1M678.6 220.7q-21.5-31.1-46.6-59.4-24.5-28-54.1-50.6-30.2-23.4-66.6-34.6-35.9-10.5-72.3-1.7M310.2 200.2q25-29 53.5-54.5 28.1-25.3 60.5-44.7 33.2-19.9 70.8-28.7 37.1-8.3 74.4-1.3M684.3 219q-21.4-31.1-46.5-59.3-23.9-27.1-52.5-49.2-29.5-23.1-65.1-34.8-35.1-11-71.1-3.4M304.5 198.9q24.9-28.9 53.4-54.4 27.4-24.6 59-43.6 31.8-19.2 67.8-28.4 35.7-8.8 71.9-3.5M690 217.5q-20.8-30-44.9-57.4-23.9-27.3-52.4-49.6-28.9-22.9-63.7-34.9-34.3-11.4-69.8-5.2M298.8 197.8q24.2-28 51.8-52.8 26.1-23.5 55.8-42 31.2-19.6 66.6-29.6 34.1-9.5 69.4-6M695.6 216.1q-20.7-29.9-44.7-57.2-23.3-26.5-50.9-48.3-28.3-22.5-62.2-34.9-33.5-11.8-68.6-6.8M293.2 197q23.5-27.2 50.1-51.3 25.4-23 54.3-41.4 29.8-19 63.6-29.6 33.4-10.3 68.3-8.2M701.2 215q-20.6-29.9-44.6-57.1-22.6-25.6-49.3-46.9-27.6-22.2-60.7-34.9-32.7-12.2-67.3-8.4M287.6 196.4q22.8-26.3 48.5-49.7 24.7-22.5 52.7-40.7 29.2-19 62.2-30.1 32-10.5 65.6-9.8M706.8 214q-19.9-28.8-43-55.1-22.6-25.8-49.3-47.3-26.9-21.9-59.1-34.9-31.9-12.6-66-9.8M282 196.1q22.1-25.4 46.9-48.1 24.6-22.7 52.6-41 27.9-18.3 59.2-29.5 30.6-10.8 63-11.3M712.4 213.3q-20-28.8-43-55-21.9-25-47.6-46-26.3-21.6-57.7-34.7-31.1-12.9-64.7-11.3M276.5 196q41.8-49.1 94.8-85.8 26.5-17.9 56.2-29.6 29.9-11.7 61.9-13.7M717.9 212.7q-19.3-27.7-41.4-53.1-21.8-25.1-47.5-46.3-25.7-21.3-56.2-34.6-30.3-13.2-63.3-12.7M271 196.2q40.6-47.5 91.6-83.4 25.8-17.9 54.7-29.8 28.5-11.8 59.1-14.9M723.4 212.3q-19.2-27.6-41.3-52.9-21.2-24.4-46-44.9-25-20.9-54.6-34.5-29.6-13.4-62-13.9M265.6 196.6q39.3-45.8 88.3-81 24.5-17.2 51.8-29.3 27.1-12 56.3-16.3M728.8 212.1q-18.5-26.6-39.7-51-21.1-24.5-45.9-45.3-24.3-20.5-53-34.2-28.9-13.7-60.7-15.1M260.2 197.3q38.1-44.2 85.1-78.6 23.8-17.1 50.3-29.4 25.7-11.9 53.5-17M734.2 212.1q-18.5-26.5-39.6-50.9-20.5-23.6-44.3-43.8-23.7-20.2-51.5-34-28.1-13.9-59.3-16.2M254.8 198.2q36.8-42.6 81.9-76.1 22.4-16.4 47.3-28.6 24.3-12 50.7-18.1M739.6 212.2q-35.3-51.8-82.3-93.1-23.6-20.4-51.5-34.4-26.6-13.4-56.3-16.6M249.5 199.4q35.5-41 78.7-73.7 42.4-32.4 93.6-47M744.9 212.5q-34.7-50.8-80.6-91.5-23-20-49.9-34.1-26-13.5-54.9-17.5M244.3 200.8q33.5-38.7 73.9-70 40.5-31.7 89.2-47.7M750.2 213q-34.1-49.7-78.9-89.9-22.3-19.6-48.4-33.7-25.2-13.6-53.5-18.4M239.1 202.4q32.2-37 70.7-67.4 37.9-30.1 83.2-47M755.4 213.7q-32.8-47.9-75.7-87-21.6-19.4-46.8-33.7-25.2-14.4-53.6-20M233.9 204.3q30.9-35.4 67.5-64.8 35.4-28.5 77.2-45.8M760.6 214.6q-32.2-46.9-74-85.4-21-18.9-45.3-33.3-23.8-14-50.6-20.4M228.8 206.4q28.9-33.1 62.8-60.9 33.4-27.6 72.7-45.6M765.8 215.6q-31.6-45.9-72.4-83.7-20.3-18.5-43.7-32.8-23.1-14.1-49.2-21M223.7 208.7q27.6-31.4 59.6-58.2 30.8-25.8 66.7-43.7M770.9 216.8q-31-44.8-70.7-82.1-19.6-18-42.2-32.2-22.3-14-47.6-21.6M218.7 211.3q25.5-29.1 54.9-54.2 28.8-24.7 62.1-42.9M776 218.2q-30.3-43.9-69.1-80.4-18.9-17.6-40.6-31.6-21.6-14.1-46.2-22.1M213.7 214.1q24.2-27.5 51.8-51.4 26.1-22.8 56-40.3M781 219.8q-29.1-42-65.9-77.4-18.9-18-40.5-32.4-20.3-13.5-43.2-21.9M208.8 217.1q22.1-25.1 47.1-47.3 24.1-21.5 51.4-38.7M786 221.5q-28.4-41-64.2-75.7-18.2-17.5-39-31.7-19.6-13.5-41.7-22.2M203.9 220.3q39-44.9 87.7-78.9M791 223.4q-27.8-40-62.6-74.1-34-33.8-77.6-53.3M199.1 223.7q35.3-40.4 78.5-72.3M795.9 225.4q-26.6-38.1-59.5-70.9-32.7-33.2-74.5-53.5M194.3 227.4q31.6-36 69.3-65.4M800.8 227.6q-25.9-37.1-57.9-69.2-31.5-32.1-71.4-52.7M189.5 231.3q27.1-30.7 58.7-56.9M805.6 230q-25.2-36.1-56.2-67.5-30.3-31.1-68.4-51.7M184.9 235.3q22.5-25.3 47.9-47.7M810.4 232.5q-24-34.2-53.1-64.3-29-30.3-65.3-51.3M180.2 239.6q18.5-20.7 38.9-39.6M815.2 235.2q-23.4-33.2-51.5-62.5-27.8-29.3-62.2-50.2M175.6 244.1q13.7-15.3 28.4-29.6M819.9 238.1q-22.7-32.3-49.9-60.9-26-27.4-57.7-47.9M171.1 248.8q8.7-9.8 17.8-19.1M824.5 241.1q-21.4-30.4-46.8-57.6-25.3-27.2-56-48M166.6 253.7l7.4-8.2M829.2 244.2q-20.8-29.4-45.3-55.8-23.4-25.3-51.5-45.4M162.2 258.7q10.1-11.2 20.7-21.9" fill="none" stroke="#000" stroke-opacity=".78" stroke-width="1.5"/>
<path d="M494.7 365q-30-45.3-66.7-85.3-18.2-19.6-38.9-36.6-20.4-16.9-43.8-29.3-24-12.6-50.7-16.6-27-3.7-52.9 4.4-26.1 8.5-47.4 25.8-20.3 16.3-36.5 36.6M494.7 365q32-39.7 69.6-74 36.6-33.8 80.8-56.6 22.8-11.6 47.7-17.6 24.4-5.9 49.4-4.5 50.8 4.2 91.5 35.2M833.7 247.5q-19.4-27.5-42.1-52.4-22.2-24.4-48.5-44.2M157.8 264q16.9-18.9 35.4-36.1" fill="none" stroke="#000" stroke-width="1.5" stroke-linejoin="round"/>
<g font-size="11.5" fill="#111"><path d="M159.5 279.3h-4" stroke="#000" stroke-width="2"/><text transform="translate(149.5,289.8) scale(1.740,1)" text-anchor="end">10</text><path d="M155.1 226.8h-4" stroke="#000" stroke-width="2"/><text transform="translate(145.1,237.3) scale(1.740,1)" text-anchor="end">28.75</text><path d="M150.7 174.3h-4" stroke="#000" stroke-width="2"/><text transform="translate(140.7,184.8) scale(1.740,1)" text-anchor="end">47.5</text><path d="M146.2 121.8h-4" stroke="#000" stroke-width="2"/><text transform="translate(136.2,132.3) scale(1.740,1)" text-anchor="end">66.25</text><path d="M141.8 69.4h-4" stroke="#000" stroke-width="2"/><text transform="translate(131.8,79.9) scale(1.740,1)" text-anchor="end">85</text><circle cx="494.7" cy="438.6" r="1.7"/><text transform="translate(503.2,449.6) scale(1.740,1)">2.00</text><circle cx="577.4" cy="415.1" r="1.7"/><text transform="translate(585.9,426.1) scale(1.740,1)">4.00</text><circle cx="660.2" cy="391.5" r="1.7"/><text transform="translate(668.7,402.5) scale(1.740,1)">6.00</text><circle cx="742.9" cy="367.9" r="1.7"/><text transform="translate(751.4,378.9) scale(1.740,1)">8.00</text><circle cx="825.7" cy="344.3" r="1.7"/><text transform="translate(834.2,355.3) scale(1.740,1)">10.00</text><circle cx="494.7" cy="438.6" r="1.7"/><text transform="translate(485.2,449.6) scale(1.740,1)" text-anchor="end">25.00</text><circle cx="412.2" cy="415.1" r="1.7"/><text transform="translate(402.7,426.1) scale(1.740,1)" text-anchor="end">30.00</text><circle cx="329.6" cy="391.5" r="1.7"/><text transform="translate(320.1,402.5) scale(1.740,1)" text-anchor="end">35.00</text><circle cx="247.1" cy="367.9" r="1.7"/><text transform="translate(237.6,378.9) scale(1.740,1)" text-anchor="end">40.00</text><circle cx="164.6" cy="344.3" r="1.7"/><text transform="translate(155.1,355.3) scale(1.740,1)" text-anchor="end">45.00</text></g>
<text transform="translate(825,433.1) scale(1.590,1)" font-size="17.4" text-anchor="end">A: pH</text>
<text transform="translate(115.7,433.1) scale(1.590,1)" font-size="17.4">B: Temperature</text>
<text transform="translate(500,51) scale(1.11,1)" font-size="57" font-weight="bold" text-anchor="middle">a</text>
<text transform="translate(43.3,211.6) rotate(-90) scale(0.566,1)" font-size="29.3" text-anchor="middle">EI24 (%)</text>
</g>
<g id="pf">
<path d="M960 67.3L1314 19.7L1667.2 67.3L1644.1 351.9L1313.3 449.4L983.3 351.9z" fill="#ff0"/>
<path d="M960 67.3L1314 19.7L1667.2 67.3M983.3 351.9L1314.1 275.8L1644.1 351.9" fill="none" stroke="#330" stroke-width="1.1" stroke-dasharray="3.2 2.2"/>
<path d="M1314 19.7L1314.1 275.8" fill="none" stroke="#442" stroke-width="1"/>
<path d="M1667.2 67.3L1644.1 351.9M960 67.3L983.3 351.9" fill="none" stroke="#221" stroke-width="1.1"/>
<g fill="none" stroke-width="1.1" opacity=".85"><path d="M992.8 354.7l1.7-5.4" stroke="#3e3"/><path d="M1329.9 444.5q-17.6 0-35.3-.7M1029.8 365.6q-3.7-14.1 5.5-25.7M1622.3 346.8q2.7 4.9 3.4 10.5" stroke="#3e3"/><path d="M1339 429.8q-56.8 .6-113.1-6.3M1088.4 382.9q-7.4-5-12.9-12.1-5.7-7.1-5.7-16.2 .7-8.9 6.6-15.7 5.5-6.5 12.5-11.3M1279.5 283.8q32.6-1.7 65.2-.9M1573.2 335.5q8 6.9 10.7 17 1.8 10-4.1 18.3M1385.6 428q-23.2 1.5-46.6 1.8" stroke="#7f0"/><path d="M1336.5 413q-72.1 1.4-142.4-14.1-17.6-4-34.5-10.4-16.2-5.9-29.8-16.4-7.5-5.7-10.6-14.5-2-8.3 2.8-15.4 10.4-13.2 26-19.7 33.3-14.4 69.1-19.8 34-5.8 68.4-7.6 70-4 139.4 6.2M1484.4 315q18.2 5.7 34.3 15.8 8 5.1 13.3 12.7 4.8 7.2 2.7 15.5-3.5 9.6-11.9 15.5-6.7 5.1-14.2 8.8-15.5 7.5-32.1 12.1-34.8 9.7-70.8 13.5-34.5 3.8-69.2 4.1" stroke="#dcff2a"/><path d="M1333.3 392q-39.8 .5-79.1-5.8-19.4-3.1-38.1-9.3-9.6-3.2-18.4-8.1-8.7-4.4-13.7-12.6-2.6-5.3-.4-10.7 2.1-4.4 5.9-7.6 7.7-6.3 16.9-10 17.9-7.2 36.8-10.8 38.5-7.2 77.8-7.3 40.1-.5 79.6 6 19.5 3.2 38.2 9.5 9.5 3.2 18.3 8.2 8.1 4.4 12.8 12.2 2.5 5.4 .2 10.8-2.3 4.6-6.2 7.8-7.8 6.2-17.1 9.8-17.7 7.1-36.4 10.6-38.2 7.1-77.1 7.3" stroke="#ff9a00"/></g>
<path d="M983.3 351.9L1313.3 449.4L1644.1 351.9" fill="none" stroke="#220" stroke-width="1.3" stroke-dasharray="3.2 1.4"/>
<g><path d="M1652.2 252.5q-31.2-40.6-69.6-74.4-36.7-32.7-82-51.4-47.3-19-97.5-10.6-49.2 10.1-89 41-43-29.9-95.1-34.1-51.7-2-97.4 22.7-45.4 24.8-81.4 62.1-34.3 34.8-62.6 74.7 33.5-39.2 80.6-59.5 47.7-18.3 97-4.8 47.9 14.1 87.1 45.3 38.7 30.3 70.9 67.5 32.3-40.5 71.2-74.6 38.3-34.1 85.7-53.1 49.5-19 100.2-4.4 47.6 16.4 81.9 53.6z" fill="#0056ff"/><path d="M981.8 276.7q30-41.5 66.8-77.2 35.2-34.6 79.2-56.9 45.1-22.6 95.2-19.4 49.8 5.2 91.1 33.9 40.6-31.6 91-41.3 50.3-7.9 97.6 11.7 46.6 19.9 84.1 54.3 35.8 32.4 65.4 70.7-18.2-19.1-40.2-33.7-21.1-14-45.4-21-50.2-13-98.6 6.3-47.6 19.6-85.8 54.2-37.6 33.4-69 72.7-33-38.2-73-69.1-38.3-30-84.8-43.7-49.2-13.5-96.8 4.7-44.9 19-77.4 55.7l.6-1.9z" fill="#006eff"/><path d="M1314.1 157.1q40.6-31.6 91-41.3 50.3-7.9 97.6 11.7 46.6 19.9 84.1 54.3 35.8 32.4 65.4 70.7-18.2-19.1-40.2-33.7-21.1-14-45.4-21-50.2-13-98.6 6.3-47.6 19.6-85.8 54.2-37.6 33.4-69 72.7-32.1-37.1-70.7-67.3-38.3-30.5-84.8-44.9-48.1-13.8-95.2 2.6-45 17.7-77.9 53.5 .7-3.6 3.3-6.4l4.2-5.4 8.3-10.6 14.6-17.5q15.9-18.5 33.5-35.4 35.2-34.6 79.2-57 45.1-22.6 95.3-19.4 49.8 5.2 91.1 33.9z" fill="#0086ff"/><path d="M1314.1 157.1q40.6-31.6 91-41.3 50.3-7.9 97.6 11.7 46.6 19.9 84.1 54.3 35.8 32.4 65.4 70.7-18.2-19.1-40.2-33.7-21.1-14-45.4-21-50.2-13-98.6 6.3-47.6 19.6-85.8 54.2-37.6 33.4-69 72.7-32.1-37.1-70.6-67.3-37.4-29.6-82.6-44.2-46.9-14.3-93.5 .5-45.1 16.3-78.3 51.3 .7-4.7 3.8-8.1l4.2-5.4 6.2-7.8 16.7-19.8q15.9-18 33.5-34.5 34.5-32.9 77.2-54.1 45.1-22.1 95.1-18.2 48.7 5.6 89.2 33.7z" fill="#009dff"/><path d="M1314.1 157.1q40.6-31.6 91-41.3 50.3-7.9 97.6 11.7 46.6 19.9 84.1 54.3 35.8 32.4 65.4 70.7-18.2-19.1-40.2-33.7-21.1-14-45.4-21-50.2-13-98.6 6.3-47.6 19.6-85.8 54.2-37.6 33.4-69 72.7-31.3-36.1-68.7-65.8-36.6-29.4-81-44.6-46.9-15.4-94.2-1.4-44.4 15-77.4 48.4 .9-7.3 6.4-12.5l8.3-10.3 14.7-17q15.9-17.8 33.4-34 35.4-33.4 79.2-54.1 44.4-20.6 93-16.1 47.6 6 87.2 33.5z" fill="#00b5ff"/><path d="M1314.1 157.1q40.6-31.6 91-41.3 50.3-7.9 97.6 11.7 46.6 19.9 84.1 54.3 35.8 32.4 65.4 70.7-18.2-19.1-40.2-33.7-21.1-14-45.4-21-50.2-13-98.6 6.3-47.6 19.6-85.8 54.2-37.6 33.4-69 72.7-31.2-36-68.5-65.7-35.7-28.6-78.8-43.9-45.7-15.8-92.4-3.5-44.4 13.6-77.8 46 .7-8.3 6.9-14.1l6.3-7.6 14.6-16.8q15.9-17.7 33.4-33.6 35.4-32.9 79.2-53 44.4-20 92.8-15 46.5 6.5 85.2 33.3z" fill="#00cdff"/><path d="M1314.1 157.1q40.6-31.6 91-41.3 50.3-7.9 97.6 11.7 46.6 19.9 84.1 54.3 35.8 32.4 65.4 70.7-18.2-19.1-40.2-33.7-21.1-14-45.4-21-50.2-13-98.6 6.3-47.6 19.6-85.8 54.2-37.6 33.4-69 72.7-30.2-34.8-66.1-63.8-35.6-29-78.7-45-44.5-16-90.5-5.4-44.4 12-78.2 43.5 0-7.7 5.2-13.4l8.4-9.9 14.6-16.4q15.9-17.2 33.4-32.7 34.6-31.2 77-50.1 43.5-19 90.7-14 46.4 6.5 85.1 33.3z" fill="#00e4ff"/><path d="M1311.7 329.2q-30.4-34.7-66.5-63.4-34.9-28.1-76.8-43.6-42.8-15.4-87.2-6.2-43.6 10.7-77.4 40.7-.5-7 3.6-12.7l8.3-9.8 14.6-16.2q15.9-17 33.4-32.2 34.5-30.7 76.8-48.9 43.6-18.4 90.5-12.8 45.3 6.8 83.1 33 40.6-31.6 90.9-41.3 49.1-7.7 95.4 10.8 46.5 19.3 84 53.1 35.8 31.9 65.4 69.7l.4 1q-18.3-18.8-40.4-33.1-21.3-13.6-45.7-20.1-49.4-11.9-96.8 7.2-47.7 19.8-85.9 54.7-36.3 32.3-66.7 70.2l-3-.1z" fill="#00fcff"/><path d="M1305.7 322.6q-29.3-32.6-64-59.5-33.9-26.6-74.4-41.3-41.8-14.7-85.1-6-41.4 9.7-74 37.2-1.1-6.5 2.3-12.3 3.4-5.1 7.7-9.5l14.6-15.9q15.9-16.7 33.4-31.6 34.5-30.1 76.6-47.8 42.7-17.3 88.4-11.8 45.2 6.9 82.9 33 39.7-30.9 88.8-40.9 48.9-8.4 95.3 9.6 46.4 18.6 83.9 51.9 18.9 16.3 35.9 34.6l16.8 18.9 6.3 7.6q3.9 3.3 5.3 7.9-34.8-35.7-82.5-49.6-48.1-11.6-94.4 6.5-45.9 18.4-83.2 51.2-36 31.1-66.3 68l-14.3-.2z" fill="#00ffe1"/><path d="M1299.5 315.9q-28.2-30.5-61.4-55.5-32.9-25.2-71.9-38.9-39.7-13.7-81-6.4-40.2 8.6-72.5 34.3-1.8-7 1.9-13.3 3.6-5.6 8.4-10.3l14.7-15.5q15-15.4 31.4-29.1 33.9-28.9 74.9-45.7 43-17.2 88.7-11.2 44.3 7.2 81.4 32.8 38.8-30.2 86.8-40.5 48.6-9 95.1 8.3 45 17.4 81.6 49 18.9 15.8 35.9 33.7l16.8 18.4 8.4 9.8q3 3.1 3.9 7.2-34.7-34-81.5-46.6-46.2-10.2-90.6 6.8-44.6 17.5-81 48.9-34.7 29.4-64 64.2l-26-.4z" fill="#00ffbe"/><path d="M1293.1 309.2q-28.2-29.6-61.4-53.5-31.2-22.6-67.6-34.9-37.9-12.6-77.1-6-38.3 7.6-69.6 31.1-2.4-6.6 .6-12.9 3-5.8 7.8-10.2l14.7-15.3q14.9-15.1 31.3-28.5 33.8-28.3 74.7-44.5 42.9-16.5 88.4-9.8 43.1 7.4 79.2 32.4 38.8-30.1 86.7-40.5 47.4-8.8 92.8 7.5 44.9 16.7 81.5 47.7 18.9 15.6 35.8 33.1l16.9 18.2 8.4 9.7q1.8 3 2.4 6.5-33.8-31.6-78.4-43.1-45.2-9.7-88.6 6.6-43.3 16.7-78.8 46.6-33.3 27.6-61.6 60.3l-38.1-.5z" fill="#00ff9c"/><path d="M1286.4 302.5q-27-27.4-58.6-49.5-30-21.1-64.9-32.6-75.4-22.8-140.5 21.9-3-6.1-.8-12.6 2.5-5.8 7.2-10.2l14.6-15q14.9-14.7 31.3-27.8 33.7-27.7 74.4-43.1 41.9-15.4 86-8.9 43 7.5 79 32.4 38.1-29.6 85.1-40.2 46.4-9.1 91.1 6.1 45 15.9 81.9 46.4 18.9 15.3 35.9 32.7l16.9 18 6.4 7.1q2.5 3.9 3 8.4-33.5-29.8-77-40-43.3-8.5-84.8 6.8-40.4 15.3-74.1 42.5-33.3 26.5-61.5 58.3-25.3 .1-50.6-.7z" fill="#00ff79"/><path d="M1279.5 295.6q-26-25.3-56.2-45.6-29-19.7-62.5-30.2-70.8-20.8-133.1 19-6.1-11.4 2.9-21.1l16-16.3q15-14.5 31.4-27.3 33.8-27.1 74.6-41.7 41.2-14.3 84.2-7.4 42 7.7 77.3 32.1 37.2-28.9 83-39.8 46-9.6 90.8 4.9 44.8 15.2 81.6 45.1 17.7 14 33.8 29.9l16.8 17.5 6.8 7.6q3 4.4 3.1 9.7-33.2-28.1-75.6-37-41.2-7.2-80.7 7-39 14.4-71.7 40.2-31.8 24.6-59 54.3-31.7 .3-63.5-.9z" fill="#00ff57"/><path d="M1272.2 288.8q-25.1-23.5-54-42.1-27.3-17.6-58.3-27.2-66.7-19.4-126.5 15.8-7.8-10.9 .8-21.4l15.7-15.6q14.9-14.2 31.2-26.6 32.9-25.7 72.2-39.6 41.1-14 83.8-7.1 41.9 7.8 77 32.1 37.1-28.8 82.7-39.7 44.8-9.5 88.5 4 44.6 14.4 81.4 43.7 17.6 13.7 33.7 29.3l16.8 17.1q8.4 6.6 8.2 16.8-32.3-25.7-72.7-33.6-39.3-6.4-77 6.7-37.7 13.4-69.6 37.7-30.6 23-56.8 50.8-38.6 .5-77.1-1.1z" fill="#00ff34"/><path d="M1264.5 281.8q-24.1-21.5-51.7-38.4-25.4-15.6-54-24.2-62.3-18-119.4 12.7-9.1-9.9-2-21 7.4-8.5 16.1-16 14.9-13.8 31.2-26 33.1-25 72.3-38 40.3-12.8 81.9-5.6 40.8 8.1 75.2 31.8 36.4-28.2 81.1-39.3 44.7-10 88.7 3.1 43.4 13.7 79.5 41.7 17.7 13.4 33.8 28.7l16.8 16.9q7.8 6.6 6.6 16.5-66-48.2-143.7-23.7-36.2 12.5-67 35.3-29 21.2-54.1 46.9-45.7 .8-91.3-1.4z" fill="#00ff12"/><path d="M1256.3 274.8q-23-19.6-49.1-34.7-24.4-14.2-51.5-21.8-56.9-15.4-109.8 10.2-9.8-8.2-5.5-19.6 2.7-5.1 7.3-8.7l7.5-6.8q14.9-13.8 31.3-25.8 32.3-24.1 70.5-36.7 39.3-12.5 80.1-5.9 39.9 7.4 73.7 30l6.2-.1q35.8-26.9 79.3-37.4 43.7-9.4 86.6 3.1 42 13 77.2 39.6 17.7 13 33.8 28l16.8 16.5q7.2 7 4.8 16.4-63.3-43.1-136.5-20.8-33.5 11.1-62.5 31.4-28.9 20-53.9 44.8-53.2 1.2-106.3-1.7z" fill="#0f0"/><path d="M1247.6 267.6q-41.6-34.4-93.1-49.6-52.1-13.9-101.6 7.2-4.4-3.3-7.3-8-2.7-4.7-1.6-9.9 1.5-5.4 5.5-9.2l7.6-6.5q14-12.7 29.3-23.9 31.4-23.4 68.5-36.1 38.3-12.7 78.3-7.2 38.9 6.2 72.3 27.2l16.4-.1q35.2-25.3 77.5-34.6 41.6-8.3 82.4 3.4 41.9 12.7 77 38.9 17.7 12.9 33.7 27.7l14.1 13.6q7.2 7.6 3.4 17-60.4-38.1-128.9-17.9-32.1 10.2-60.1 29-27.4 18.3-51.3 41.1-61.1 1.8-122.1-2.1z" fill="#0f0"/><path d="M1238.1 260.3q-38.3-29.4-84.6-42.6-47.1-12.3-92.8 4.4-9.5-5.4-12.1-15.6 .3-10.4 9.4-16.3 15-12.4 30.6-24.1 30.5-22.3 66.3-34.5 76-23.5 144.9 16.6l27.1-.2q34.9-23.8 76.2-31.9 41-7.1 80.9 4.9 39.6 12.3 73.1 37 16.5 11.9 31.6 25.5 7.4 6.4 14 13.4 6.8 8.1 1.5 17.1-57.9-33.5-122.1-14.7-30.9 9.6-58 27.4-25 16.1-47 36.1-69.6 2.5-139-2.5z" fill="#0f0"/><path d="M1227.6 252.9q-35.4-25.1-77.2-35.9-40.8-10-80.9 2.1-9.1-4.6-14.5-13.1-4-9.7 3.9-17.1 14.8-11.8 30.1-23.1 29.5-21.5 64-33.6 73.1-23.8 140.8 12.7l38.4-.3q34.5-22.2 74.8-29.1 39.1-5.9 77 5.5 38.5 11.9 71.2 35.6 16.5 11.7 31.7 25.2 7.3 5.6 12.7 12.8 4.6 8.4-1.6 15.9-55.1-28.8-114.8-11.5-28.4 8.6-53.7 24.2-23.5 14.6-44.5 32.7-78.8 3.3-157.4-3z" fill="#0f0"/><path d="M1215.7 245.2q-30.9-19.7-66.3-28.5-34.9-8.2-69.8-.4-8.8-3.9-15.9-10.5-7.5-7.1-3.7-16.3 5-8 13.5-12.3 7.3-5.1 14.4-10.5 28.6-21.1 62-33.4 70.5-24.6 137.6 8.3 25.1-.7 50.3-.4 33.1-20 71.2-26 38.1-5.3 75 5.8 37.2 11.5 69 34.1 15.4 10.7 29.6 23l7.3 6.2q3.4 2.9 5.5 7 3.3 9.1-4.1 15.8-50.8-23.7-104.9-9-51.6 15.7-92.9 50.8-89 4.3-177.8-3.7z" fill="#0f0"/><path d="M1201.6 237q-25.2-13.9-53.3-20.5-27.9-6.5-56.3-2.5-8.7-3.4-16.7-8.4-8.4-4.6-11.4-13.5-.3-9.8 8.4-15.4 3.9-2.9 8.2-5.2 3.6-1.7 6.7-4.4 27.7-20.4 59.7-32.7 67.7-25.1 133.7 4 31.5-1.1 63.1-.6 67.9-38 142.3-16.2 34.7 11.1 64.7 31.9 15.3 10.4 29.4 22.5 8.2 4.6 11 13.2 .6 9.1-7.2 14.6-46.7-18.9-95.5-6.2-47.2 13.5-85.8 44.1-100.7 5.8-201-4.7z" fill="#0f0"/><path d="M1183 227.9q-35.4-15.9-74.1-15.4-17.4-4.8-32.1-15-8.2-5.5-7.4-14.9 3-8.2 11-12.6l8-4.5q3.8-1.6 7.1-4.1l14.5-9.2q14.8-8.8 30.8-15.4 65.9-27.2 132.3-1.6 38.4-1.5 76.9-.7 66.1-34.1 137.1-12.6 33.6 11 62.7 31 14.1 10.1 28 20.4 8.2 5.4 8.1 14.7-2.6 8.2-10.3 12.7-42.5-14.5-86.1-3.4-41.8 11.5-76.9 37.1-115.1 7.8-229.6-6.5z" fill="#0f0"/><path d="M1264.8 132.2q46-2.2 91.9-1.1 65.1-30.4 133.5-8.2 32.4 11.1 60.6 30.6l14.7 10.7q6.6 3.4 11.6 8.8 6.1 7 1.2 14.8-4.9 6.3-12.1 9.9-37.2-10-74.6-.9-36.5 9.3-67.9 30.1-72.6 5.5-145.3 2.4-70.8-2.1-140.1-16.1-17.7-3.8-34.7-10-8.8-3.2-16.9-8-8.1-4.2-11.7-12.2-1.3-4.9 1.4-9.1 2.5-3.7 6.1-6.3 7.4-5.3 15.9-8.7 8.3-4.6 16.5-9.6l14.5-7.5q65.9-32.2 135.4-9.6z" fill="#0f0"/><path d="M1255.5 129.2q54.2-3 108.5-1.3 63.7-26.6 129-4 31 11.1 58.2 29.9 6.4 4.6 13.3 8.4 7.2 4 10.2 11.5 .9 8.4-6.5 13.5-6.1 4.8-13.3 7.9-30.8-5.8-61.3 1.2-30.1 7.2-56.9 22.7-70.2 6.3-140.6 4.3-69.9-1.4-138.8-13.2-18-3.3-35.7-8.3-16.7-4.4-31.4-13.2-8.4-4.6-10.1-13.6 1.5-9 9.9-13.5 7.6-4.8 15.9-7.9 7.8-3.1 15-7.5 31.8-17.2 67.6-22.1 34-4.2 67 5.2z" fill="#02ff00"/><path d="M1244.6 126.5q63.6-4.2 127.4-1.8 62.2-22.6 124.4 .4 15 5.5 29.1 13.1l14.7 8.5q5.9 4.2 12.3 7.2 7.5 3.4 13.3 9.2 6.1 6.8 1.1 14.3-5.2 6.2-12.6 9.7-6.8 3.4-14 5.9-45.9-2.9-87.3 17.5-138.3 15.1-276-4-34.9-4.6-67.8-16.6-8-3.1-15.1-8-8.3-4.9-8-13.9 3.2-8.5 11.7-12.6 7.1-4 14.9-6.8 9.2-2.8 17.8-7.3l14.4-6.1q15.8-6.2 32.5-9.4 33.6-6.5 67.2 .7z" fill="#1eff00"/><path d="M1380.9 121.7q62.3-18.9 122.6 6.1 15 6.2 29.1 14.4 6.6 4.1 13.9 6.9 6.6 3 12.1 7.8 7.1 6 3.2 14.1-4.6 6.3-11.8 9.7-13.6 6.9-28.3 10.6-7.9 2.3-16.2 2.8-7.9 1.2-15.7 3.1-15 4.3-30.7 5.8-30.2 3.7-60.5 5.4-61.6 3.5-123.2 .7-62.3-2.2-123.4-14.1-15.4-3.2-30.3-8.2-15.5-4.3-27-15-5.7-7.1 .1-14.1 5.3-5.6 12.4-8.9 13.9-6.5 28.9-10.1 29.4-12.9 61.3-15.6 15.9-1.1 31.6 .7 7.2 .2 14.4-.7l14.1-.9q61.7-3.4 123.4-.5z" fill="#3aff00"/><path d="M1391.1 118.7q62.2-14.6 120.3 12.5 13.3 7 27.4 12.5 7.1 3 13.1 7.8 6.8 5 4.6 12.8-3.9 6.7-11.1 10.2-6.6 3.6-13.8 6.1-13.8 4.8-28.1 7.9-59.2 11.9-119.6 13.9-59.9 2.7-119.8-.6-60.5-2.6-119.5-15.8-15.1-3.5-29.3-9.7-6.9-2.9-12.7-7.8-6.6-5.4-3.7-12.9 4.2-6.4 11.2-9.8 6.6-3.5 13.7-6 14-4.9 28.6-8 15.4-4.2 31-7.1 14.3-2.1 28.8-2.2 29.6-3.1 59.3-4.4 59.8-2.7 119.6 .6z" fill="#56ff00"/><path d="M1335.7 196.8q-59.4 .5-118.5-5.6-29.3-3-58.2-9.1-14.2-2.9-28-7.6-13.6-3.8-23.9-13.1-5.7-6.8 0-13.5 5.2-5.2 12-8.2 13.3-6 27.5-9.4 28.6-6.9 57.8-10.2 57.8-6.6 116-6.6 30-.2 59.9 1.3l17.2 .9q6.9 .8 13.7-.8 13.9-1.8 27.9-1.4 29.5 1.2 57.1 11.5l14.5 5.9q6.2 2.8 12.7 4.6 13.4 3.9 24 12.7 6.3 6.3 1.2 13.5-5 5.6-12 8.6-13.5 6.2-28 9.7-28.1 6.8-56.9 10.1-57.8 6.7-116 6.7z" fill="#73ff00"/><path d="M1335.5 190.1q-57.6 .4-114.9-5.5-28.4-2.8-56.4-8.6-13.8-2.8-27.3-7.3-13.2-3.7-23.4-12.6-5.7-6.7 .2-13.2 5.2-5.1 11.9-7.9 13.1-5.8 27.1-9 27.2-6.5 55-9.6 56.2-6.4 112.9-6.4 29.2-.1 58.3 1.3l29.8 1.8q13.3 1.2 26.7 .3 28.9 .6 56.3 10 6.8 2.6 13.9 4.2l12.4 3.7q13.2 3.7 23.5 12.5 5.8 6.7 0 13.3-5.2 5.1-11.9 7.9-12.8 5.7-26.5 9-27.3 6.5-55.2 9.6-56 6.4-112.4 6.5z" fill="#8fff00"/><path d="M1335.2 183.3q-55.6 .4-111-5.2-27.5-2.7-54.6-8.2-13.5-2.7-26.5-7-12.9-3.5-22.8-12.1-5.7-6.3-.1-12.7 5-4.8 11.4-7.5 12.7-5.6 26.2-8.7 27.1-6.3 54.7-9.3 54-6 108.3-6 55.1-.4 110.1 5.1 27.4 2.8 54.4 8.2 13.3 2.7 26.2 6.9 13.2 3.5 23.4 12.3 5.6 6.4-.1 12.7-5.1 4.9-11.6 7.6-12.5 5.4-25.8 8.5-26.5 6.2-53.5 9.2-54.2 6.1-108.7 6.2z" fill="#abff00"/><path d="M1335 176.5q-53.7 .3-107.1-4.9-26.6-2.7-52.8-7.9-13-2.6-25.7-6.6-12.4-3.4-22.2-11.5-5.7-6.3 .1-12.5 4.9-4.6 11.2-7.2 12.5-5.3 25.6-8.3 25.7-5.9 52-8.7 52.3-5.7 104.9-5.8 53.5-.3 106.7 5 26.6 2.6 52.7 7.9 12.8 2.5 25.3 6.5 12.7 3.4 22.5 11.8 5.3 6.2-.3 12.2-5 4.6-11.4 7.2-12.1 5.2-25 8.2-25.6 5.9-51.7 8.7-52.3 5.8-104.8 5.9z" fill="#c7ff00"/><path d="M1334.7 169.6q-51.6 .4-103-4.6-25.6-2.5-50.9-7.5-12.6-2.4-24.8-6.3-12.3-3.2-21.9-11.2-5.1-5.9 .2-11.6 4.7-4.4 10.8-6.9 11.9-5 24.6-7.9 24.8-5.6 50.1-8.4 50.5-5.5 101.4-5.5 51.7-.3 103.2 4.8 25.6 2.5 50.9 7.5 12.3 2.5 24.3 6.3 11.9 3.2 21.3 11 5.4 6-.2 11.9-4.9 4.4-11.1 6.8-11.7 5-24.2 7.8-24.7 5.6-49.9 8.3-50.2 5.5-100.8 5.5z" fill="#e3ff00"/><path d="M1334.4 162.8q-49.5 .3-98.8-4.4-24.6-2.4-48.9-7.1-12.1-2.3-23.9-5.9-11.8-3.1-21.2-10.7-5.1-5.8 .3-11.3 4.7-4.2 10.5-6.5 11.2-4.7 23-7.3 23.9-5.4 48.2-8 48.8-5.3 97.8-5.3 49.2-.3 98.2 4.4 24.8 2.4 49.3 7.1 11.9 2.4 23.6 6 11.8 3 21.1 10.7 5.1 5.8-.5 11.3-4.7 4.2-10.7 6.5-11.3 4.7-23.3 7.3-23.8 5.4-48 7.9-48.2 5.2-96.7 5.3z" fill="#ff0"/><path d="M1334.1 155.9q-47.3 .3-94.4-4.2-23.6-2.2-46.8-6.6-11.6-2.2-23-5.6-11.3-2.9-20.4-10.1-5.1-5.4 0-10.7 4.5-4 10-6.2 11.2-4.6 22.9-7.1 23.1-5.1 46.5-7.6 46.3-4.8 92.8-4.9 47.3-.2 94.3 4.3 23.3 2.2 46.3 6.5 11.5 2.2 22.8 5.6 11.4 2.9 20.5 10.2 5.2 5.6-.3 10.9-4.6 4-10.4 6.2-10.9 4.4-22.4 6.9-22.8 5-46 7.4-46 4.9-92.4 5z" fill="#ffe300"/><path d="M1333.8 148.9q-45 .3-89.8-3.9-22.5-2-44.7-6.2-11.1-2.1-21.9-5.3-10.9-2.7-19.7-9.5-5-5.2 .1-10.3 4.4-3.7 9.8-5.8 10.3-4.2 21.2-6.5 22-4.9 44.4-7.2 44.2-4.6 88.7-4.6 45.3-.3 90.3 4 22.3 2.1 44.2 6.2 11 2.1 21.8 5.3 10.6 2.7 19.1 9.3 5.1 5.2 .1 10.4-4.4 3.7-9.7 5.8-10.3 4.2-21.2 6.5-21.5 4.8-43.4 7.1-44.5 4.7-89.3 4.7z" fill="#ffc600"/><path d="M1333.5 141.9q-43.3 .3-86.4-3.7-21.1-2-42-5.9-10.4-1.9-20.6-5-10.2-2.5-18.3-8.9-4.7-4.9 .3-9.6 4.3-3.6 9.5-5.5 9.9-3.9 20.3-6.1 20.5-4.4 41.4-6.5 42.1-4.4 84.5-4.4 43.1-.3 86 3.8 21.2 1.9 42 5.8 10.4 2 20.6 5 10 2.5 18.1 8.8 4.7 4.9-.2 9.7-4.2 3.5-9.3 5.4-9.8 3.9-20.2 6.1-20.4 4.4-41.2 6.6-42.2 4.4-84.5 4.4z" fill="#fa0"/><path d="M1333.1 134.9q-40.7 .2-81.2-3.5-19.9-1.8-39.6-5.4-9.9-1.8-19.5-4.7-9.6-2.3-17.4-8.2-4.5-4.6 .1-9.1 4-3.2 8.8-5.1 9.3-3.6 19.1-5.6 19.4-4.2 39.1-6.2 39.9-4.1 80-4.1 40.2-.2 80.3 3.4 20.1 1.9 39.9 5.5 10 1.8 19.7 4.6 9.5 2.4 17.3 8.2 4.7 4.7-.2 9.2-4 3.3-8.9 5.1-9.3 3.6-19.1 5.7-19.3 4.1-38.9 6.1-39.6 4-79.5 4.1z" fill="#ff8d00"/><path d="M1332.7 127.7q-37.9 .3-75.7-3.1-18.6-1.7-37-5-9.3-1.7-18.3-4.3-9.1-2.1-16.5-7.6-4.4-4.4 .1-8.6 3.8-3 8.4-4.7 8.8-3.3 18.1-5.2 18.3-3.8 36.8-5.7 37-3.7 74.2-3.7 37.8-.2 75.5 3.2 18.8 1.7 37.4 5.1 9.3 1.6 18.3 4.3 8.9 2.1 16.1 7.5 4.2 4.3-.2 8.4-3.6 3-8.1 4.7-8.6 3.3-17.7 5.2-18.4 3.9-37.2 5.8-37 3.7-74.2 3.7z" fill="#ff6300"/><path d="M1332.4 120.5q-35.1 .2-70-2.9-17.2-1.5-34.2-4.5-8.6-1.5-17-3.9-8.5-1.9-15.5-6.9-4.1-3.9-.1-7.9 3.5-2.7 7.7-4.3 8.1-3.1 16.7-4.8 16.9-3.5 34.2-5.2 34.4-3.4 68.9-3.4 35.2-.2 70.3 2.9 17.4 1.6 34.7 4.7 8.2 1.5 16.3 3.8 8.3 1.9 15.1 6.9 4.1 3.9-.1 7.8-3.5 2.8-7.7 4.3-8 3-16.4 4.8-17.1 3.5-34.4 5.2-34.2 3.4-68.5 3.4z" fill="#ff3800"/><path d="M1331.9 113.2q-31.8 .2-63.6-2.6-16.1-1.4-32-4.2-7.8-1.4-15.4-3.5-7.6-1.7-13.9-6.3-3.6-3.4-.1-6.8 3.1-2.6 6.9-4 7.4-2.8 15.2-4.3 15.5-3.2 31.2-4.7 31.6-3.2 63.3-3.2 31.8-.1 63.5 2.6 16.1 1.4 32 4.2 7.6 1.4 15.1 3.5 7.6 1.7 13.9 6.2 3.8 3.5 .1 7-3.1 2.5-6.9 3.9-7.5 2.8-15.5 4.4-15.6 3.2-31.4 4.7-31.1 3.1-62.4 3.1z" fill="#ff1600"/><path d="M1331.5 105.7q-28.9 .2-57.6-2.4-14.3-1.2-28.4-3.7-13.9-1.6-25.8-8.4-3.4-3.1-.1-6.3 2.9-2.2 6.3-3.4 6.7-2.5 13.7-3.9 14-2.8 28.2-4.2 28-2.7 56.1-2.7 28.6-.1 57.2 2.4 14.1 1.2 28 3.6l14.1 3.2q6.7 1.5 12.3 5.5 3.3 3.1-.1 6.2-2.9 2.2-6.3 3.4-6.5 2.4-13.4 3.8-13.8 2.8-27.8 4.1-28.2 2.8-56.4 2.8z" fill="#ff0900"/><path d="M1330.9 98q-24.8 .1-49.6-2-12.4-1.1-24.6-3.2-12.2-1.3-22.6-7.3-3-2.7 0-5.3 2.5-1.9 5.4-3 5.9-2.1 12-3.3 11.9-2.3 24-3.5 24.4-2.3 48.9-2.3 24.9-.2 49.8 2 12.2 1 24.3 3.1 12.2 1.4 22.6 7.3 3 2.8-.2 5.5-2.5 1.9-5.5 2.9-5.7 2-11.7 3.2-12 2.4-24.1 3.5-24.3 2.3-48.7 2.4z" fill="#fe0000"/><path d="M1330.3 89.9q-20.2 .1-40.3-1.6-10.1-.9-20.1-2.5-10-1.1-18.7-5.9-2.5-2.2 0-4.4 2-1.6 4.5-2.4 4.8-1.7 9.9-2.7 9.8-1.9 19.7-2.8 19.8-1.8 39.7-1.8 20.2-.1 40.3 1.6 10.1 .8 20.1 2.5 10 1.1 18.6 5.9 2.4 2.2-.1 4.4-2.1 1.5-4.5 2.3-4.8 1.7-9.9 2.7-9.8 1.9-19.7 2.8-19.7 1.8-39.5 1.9z" fill="#fa0000"/><path d="M1329.5 81q-14.4 .1-28.7-1.1l-14.1-1.8q-7-.7-13.1-4-1.8-1.6-.1-3.1l3.2-1.7 6.7-1.8 14-2q14.1-1.3 28.3-1.3 14.2-.1 28.4 1.1l14.3 1.8q7.1 .7 13.3 4.1 1.7 1.6-.1 3.1l-3.2 1.6-6.9 1.8-13.9 2q-14 1.3-28.1 1.3z" fill="#f60000"/></g>
<path d="M1319.7 323.1q-33.1-38.3-73.2-69.2-20.5-15.5-43.2-27.4-21.4-11.1-44.7-17.1-50-12.6-97.6 7-22.6 9.7-42.1 24.8-19.3 15.1-35.5 33.4M1306.8 323.8q31.9-40.1 70.3-74 19.9-17.2 42-31.4 20.8-13.3 43.8-22.1 48.9-19.1 99.4-5.3 24.4 7.3 45.5 21.6 21 14.2 38.5 32.5M1326.2 315.5q-33.2-38.4-73.3-69.3-20.4-15.6-43.2-27.4-21.4-11.2-44.8-17.1-50.1-12.7-97.8 6.9-22.7 9.7-42.2 24.9-19.4 15-35.7 33.4M1300.3 316.8q32-40.1 70.4-74 19.8-17.3 42-31.5 20.8-13.3 43.8-22.1 49.1-19.2 99.6-5.4 24.5 7.3 45.7 21.6 21.1 14.2 38.7 32.6M1332.6 308.1q-33.1-38.5-73.3-69.4-20.5-15.6-43.2-27.4-21.5-11.2-44.8-17.2-50.3-12.7-98.1 6.9-22.8 9.7-42.4 24.9-19.5 15.1-35.8 33.5M1293.9 310q31.9-40.1 70.4-74.1 19.8-17.3 42-31.5 20.8-13.3 43.9-22.1 49.1-19.3 99.8-5.5 24.5 7.3 45.8 21.6 21.1 14.2 38.8 32.6M1339 300.9q-33.1-38.5-73.3-69.5-20.5-15.6-43.3-27.4-21.4-11.2-44.8-17.2-50.4-12.7-98.4 6.9-22.8 9.7-42.5 24.9-19.5 15.1-35.9 33.4M1287.5 303.5q31.9-40.2 70.4-74.2 19.8-17.3 42-31.5 20.9-13.4 43.9-22.2 49.2-19.3 100-5.5 24.6 7.3 46 21.5 21.2 14.2 39 32.6M1345.5 293.9q-33.2-38.5-73.4-69.5-20.5-15.6-43.3-27.5-21.5-11.2-44.9-17.2-50.5-12.7-98.6 6.9-22.9 9.6-42.6 24.9-19.6 15-36.1 33.4M1281.1 297.2q31.9-40.2 70.4-74.2 19.8-17.4 42.1-31.6 20.8-13.4 43.9-22.3 49.3-19.3 100.2-5.6 24.7 7.3 46.1 21.6 21.3 14.2 39.1 32.6M1351.9 287.2q-33.2-38.5-73.4-69.6-20.5-15.6-43.4-27.5-21.5-11.2-44.9-17.3-50.6-12.7-98.8 6.8-23 9.7-42.8 24.9-19.6 15.1-36.2 33.5M1274.7 291.1q32.6-41.1 72-75.6 19.8-17.3 42-31.3 20.9-13.2 43.9-21.9 49.5-18.9 100.3-4.7 24.7 7.5 46.1 21.9 20.6 14 38 31.8M1358.2 280.7q-33.1-38.6-73.3-69.7-20.5-15.6-43.4-27.5-21.6-11.3-45.1-17.3-50.6-12.8-98.9 6.7-23.1 9.7-42.9 24.9-19.8 15.1-36.4 33.5M1268.4 285.3q32.5-41.2 71.9-75.8 19.9-17.2 42.1-31.3 20.8-13.2 43.9-21.9 49.5-18.9 100.4-4.8 24.8 7.5 46.3 21.9 20.7 13.9 38.1 31.7M1364.6 274.5q-33.1-38.7-73.4-69.8-20.5-15.6-43.4-27.6-21.5-11.2-45.1-17.3-50.7-12.9-99.1 6.6-23.2 9.7-43.1 24.9-19.8 15.1-36.5 33.5M1262 279.7q32.5-41.2 71.9-75.8 19.9-17.3 42.1-31.4 20.9-13.2 44-22 49.6-19 100.6-4.9 24.8 7.5 46.4 21.9 20.7 13.8 38.2 31.7M1370.9 268.5q-33.1-38.7-73.3-69.9-20.6-15.7-43.5-27.6-21.5-11.3-45.1-17.4-50.8-12.9-99.3 6.6-23.2 9.6-43.2 24.8-19.9 15.1-36.7 33.5M1255.7 274.3q32.5-41.2 71.9-75.9 19.9-17.3 42.1-31.4 20.9-13.3 44-22 49.7-19.1 100.8-5.1 24.8 7.5 46.5 21.8 20.8 13.9 38.4 31.7M1377.3 262.7q-33.1-38.7-73.4-69.9-20.5-15.7-43.5-27.7-21.6-11.3-45.1-17.5-50.1-12.7-98.2 6-23.3 9.4-43.5 24.4-19.9 14.9-36.8 33.2M1249.4 269.1q31.9-40.4 70.3-74.6 37.8-34.1 84.7-53.7 48.9-19.8 99.9-7.5 25 6.7 46.9 20.5 21 13.3 38.8 30.6M1383.6 257.1q-32.5-38-71.8-68.8-19.9-15.3-42-27.3-21.6-11.7-45.3-18.3-49.3-13.6-97.4 3.5-23.4 8.8-43.8 23.3-20.1 14.3-37.2 32.1M1243.2 264.2q31.8-40.5 70.2-74.6 37.2-33.7 83.3-53.3 48.1-20 98.8-8.9 24.3 6 45.9 18.8 21.2 12.7 39.2 29.5M1389.9 251.8q-32.5-38-71.8-68.9-38.7-30.8-85.9-45.3-48.5-13.9-96.3 2.1-23.6 8.2-44.1 22.4-19.6 13.4-36.4 30.3M1236.9 259.5q31.2-39.6 68.6-73.3 36.7-33.5 81.9-53.5 47.3-20.7 97.8-11.2 24.5 5.3 46.3 17.5 21.4 12 39.6 28.4M1396.1 246.7q-31.8-37.3-70.1-67.7-38.1-30.7-84.6-45.8-47.7-14.6-95.4-.2-23.7 7.5-44.5 21.1-19.7 13-36.7 29.4M1230.7 255q31.1-39.6 68.5-73.4 36.1-32.9 80.4-52.9 46.6-20.9 96.8-12.5 24.5 4.7 46.5 16.5 20.8 11.2 38.7 26.6M1402.4 241.9q-31.2-36.6-68.6-66.6-37.5-30.5-83.1-46.2-47-15.4-94.6-2.5-45.7 14.1-80.7 47.1M1224.5 250.8q30.4-38.9 66.9-72.1 36.1-33.2 80.5-53.8 45.2-20.6 94.2-14 24.6 4 46.9 15.2 20.9 10.6 39 25.5M1408.6 237.2q-31.2-36.5-68.6-66.6-36.8-30-81.6-45.8-46.2-15.6-93.4-3.9-45.2 12.9-80.1 44.5M1218.3 246.8q29.8-38 65.3-70.7 35.5-33 79-54 44.5-21.2 93.2-16.1 47.6 7.1 85.4 37.2M1414.8 232.9q-30.5-35.8-67-65.5-36.2-29.9-80.2-46.2-45.4-16.2-92.4-6-45.3 11.5-80.7 42.3M1212.2 243q29.7-38.1 65.2-70.8 34.2-31.8 76-52.6 43.7-21.8 92.1-18.2 47.7 5.6 86 34.7M1420.9 228.7q-30.4-35.8-66.9-65.5-35.6-29.4-78.7-45.8-44.7-16.4-91.3-7.3-44.6 10.3-79.9 39.7M1206 239.4q29.1-37.2 63.7-69.3 34.2-32.2 76-53.5 43-21.9 90.9-19.3 46.9 4.4 85.2 32M1427.1 224.8q-29.8-35.1-65.3-64.3-35-29.2-77.3-46-43.9-17.1-90.2-9.5-44.8 9-80.6 37.4M1200 236.1q29-37.2 63.5-69.4 33.6-31.7 74.5-52.9 42.3-21.9 89.7-20.4 46.1 3.3 84.4 29.5M1433.2 221.1q-29.1-34.3-63.7-63.1-34.4-29-75.8-46.2-42.5-17.4-87.8-11.7-44.8 7.2-81.3 34.4M1193.9 233q29-37.3 63.5-69.5 32.9-31 72.9-52.2 40.9-21.6 87-21.5 46.2 1.9 85 27M1439.3 217.6q-29.1-34.3-63.6-63.1-33.8-28.5-74.4-45.8-41.7-17.5-86.5-12.8-44.1 6.1-80.5 31.9M1187.9 230.1q28.3-36.4 61.8-68.1 32.3-30.7 71.4-52.1 40.2-22.1 85.9-23.3 45.3 .3 84.3 23.7M1445.3 214.4q-28.4-33.6-61.9-61.9-33.2-28.3-72.9-45.9-41-18-85.4-14.7-43.4 4.6-79.8 28.8M1181.9 227.4q27.6-35.5 60.2-66.6 32.3-31.1 71.4-52.9 39.5-22.1 84.5-24.2 44.6-.7 83.4 21.2M1451.3 211.3q-28.3-33.5-61.9-61.9-32.5-27.7-71.3-45.3-40.2-18.2-84.1-15.8-42.6 3.6-78.9 26.4M1175.9 225q27.6-35.6 60.1-66.7 31.1-29.9 68.4-51.3 38.7-22.5 83.3-25.9 44.4-2.1 83.9 18.7M1457.3 208.6q-27.6-32.8-60.2-60.7-32.5-28.1-71.4-46.1-38.8-17.9-81.4-16.8-42.6 2.2-79.4 24M1169.9 222.8q26.9-34.8 58.5-65.3 31.1-30.2 68.4-52 38.1-22.5 81.9-26.7 42.9-3 81.7 15.6M1463.3 206q-27.7-32.8-60.2-60.7-31.2-27-68.3-44.9-38.1-18.2-80.2-18.4-41.8 .9-78.5 21M1164 220.8q26.9-34.8 58.4-65.3 30.4-29.6 66.8-51.3 36.8-22 79.2-27.3 42.8-4.4 82.1 13.2M1469.2 203.7q-26.9-32.1-58.5-59.5-30.6-26.7-66.8-44.8-37.4-18.7-79-20.1-41.7-.4-79 18.8M1158.2 219q26.1-33.9 56.7-63.8 29.7-29.3 65.3-51.1 36-22.3 77.8-28.8 41.9-5.6 81.2 10.2M1475.1 201.6q-26.2-31.3-56.9-58.2-30.5-27-66.8-45.5-36.6-18.7-77.6-20.9-40.2-1.3-76.7 15.8M1152.3 217.4q26.1-33.9 56.7-63.8 29.1-28.6 63.6-50.2 35.4-22.3 76.5-29.5 41.1-6.4 80.2 8M1481 199.7q-26.2-31.3-56.9-58.2-29.2-25.9-63.7-44.1-35.9-19-76.2-22.4-39.5-2.5-75.8 13M1146.5 216.1q25.4-33.1 55-62.4 28.4-28.2 62.1-49.9 34.7-22.5 75.1-30.8 40.3-7.5 79.2 5.1M1486.8 198q-25.5-30.5-55.2-56.9-29.2-26.1-63.7-44.7-35.2-19-74.9-23.2-38.6-3.2-74.7 11M1140.8 214.9q24.7-32.1 53.3-60.8 28.4-28.5 62.1-50.6 34-22.4 73.7-31.3 39.4-8.2 78.1 3M1492.6 196.6q-24.8-29.7-53.6-55.6-28.5-25.8-62.1-44.5-33.8-19-72.1-24.4-38.5-4.7-75.1 8.1M1135 214q24.7-32.1 53.3-60.8 27.7-28 60.4-49.7 32.8-21.9 70.8-31.5 38.6-9.3 77.1 .3M1498.4 195.3q-24.8-29.7-53.5-55.5-27.9-25.3-60.6-43.9-33.1-18.8-70.7-24.9-36.9-5.4-72.6 5.6M1129.3 213.3q24-31.3 51.7-59.3 27-27.5 58.8-49.3 32.7-22.5 70.9-33 37.8-9.8 75.9-1.6M1504.1 194.3q-24.1-28.9-51.9-54.2-27.1-24.9-58.9-43.6-32.4-19.1-69.4-26.1-36.1-6.3-71.5 3.1M1123.7 212.8q23.9-31.3 51.5-59.3 26.4-26.9 57.3-48.3 31.3-22 67.9-33 36.9-10.8 74.8-4.2M1509.8 193.6q-24.1-29-51.8-54.3-26.5-24.3-57.4-42.8-31.7-19-67.8-26.6-35.4-7-70.4 1.3M1118 212.6q23.2-30.5 49.9-57.8 25.7-26.5 55.7-47.9 30.7-22 66.5-33.9 36.1-11.6 73.7-6.6M1515.4 193q-23.3-28.1-50.1-52.9-25.8-24-55.8-42.4-31-19.3-66.5-27.7-34.5-7.9-69.2-1.1M1112.5 212.5q22.4-29.5 48.2-56.2 25.6-26.8 55.6-48.5 30-21.9 65-34.1 34.6-11.9 71-8.6M1521 192.6q-22.6-27.3-48.4-51.5-25.8-24.2-55.8-43-29.7-18.7-63.5-27.7-33.7-8.7-68.1-3.4M1106.9 212.6q22.4-29.5 48.2-56.2 24.9-26.1 54-47.4 29.3-21.7 63.5-34.4 33.8-12.3 69.7-10.1M1526.6 192.5q-22.6-27.3-48.4-51.5-24.4-23-52.6-41.2-29-18.8-62.1-28.6-32.9-9.4-66.9-5.6M1101.4 212.9q21.7-28.6 46.5-54.6 24.3-25.6 52.4-46.8 28.7-21.8 62.1-35.1 33-13 68.5-12.3M1532.1 192.5q-21.8-26.4-46.7-50-24.4-23.3-52.6-41.8-28.3-18.6-60.6-28.8-31.4-9.7-64.2-7.2M1095.9 213.5q21.7-28.6 46.4-54.7 23.6-24.9 50.8-45.7 28-21.5 60.6-35.2 31.6-13.1 65.8-13.7M1537.6 192.8q-21.1-25.6-45.1-48.6-23.7-22.9-50.9-41.3-27.6-18.7-59.2-29.5-30.6-10.4-62.9-9.2M1090.5 214.2q21-27.7 44.8-53 22.8-24.4 49.2-45.1 27.3-21.5 59-35.7 30.8-13.8 64.5-15.7M1543.1 193.3q-21.1-25.7-45-48.7-23-22.2-49.4-40.3-26.2-18.1-56.1-29.1-29.9-11-61.7-11.1M1085.1 215.2q40.1-54.4 92.3-97 25.9-20.8 56-35.1 30.1-14.2 63.2-17.5M1548.5 194q-39.8-49.6-91.1-87-25.6-18.1-54.7-29.7-29.1-11.5-60.4-12.8M1079.8 216.3q39.4-53.5 90.5-95.8 25.3-20.5 54.5-35 28.7-14.2 60.4-18.5M1553.9 194.9q-38.6-48.1-87.9-84.9-24.9-18.1-53.2-30.2-27.7-11.7-57.6-14.4M1074.5 217.6q38.1-51.8 87.3-93.4 24.6-20.4 52.9-35.2 28-14.7 59.1-20.1M1559.2 196q-37.9-47.4-86.2-83.9-24.2-17.8-51.6-30.1-26.3-11.7-54.8-15.3M1069.2 219.2q37.5-51.1 85.6-92.2 23.9-20.1 51.4-35.1 26.6-14.4 56.2-20.7M1564.5 197.3q-36.6-45.8-83-81.7-23.5-17.8-50.1-30.4-25.5-12.1-53.4-16.7M1064 220.9q36.3-49.4 82.3-89.7 23.3-20 49.9-35.2 25.2-14.5 53.3-21.7M1569.7 198.8q-35.3-44.3-79.7-79.4-22.8-17.7-48.6-30.7-24.8-12.5-52-18M1058.8 222.8q35-47.7 79.1-87.1 22.6-19.8 48.3-35.3 24.6-14.8 52-22.9M1574.9 200.4q-34.7-43.4-78-78.2-21.4-16.9-45.5-29.7-23.4-12.4-49.1-18.8M1053.7 224.9q34.3-46.8 77.4-85.8 21.2-18.9 45.2-34 23.9-15 50.5-23.9M1580.1 202.3q-33.4-41.9-74.8-75.9-20.7-16.7-44-29.7-22.7-12.7-47.7-19.9M1048.6 227.2q33.1-45.2 74.2-83.1 20.5-18.7 43.7-33.9 23.1-15.3 49-24.9M1585.2 204.4q-32.1-40.3-71.6-73.5-39-33.1-87.2-50M1043.5 229.7q31.9-43.5 71-80.4 19.9-18.4 42.2-33.8 21.7-14.9 46.1-25.1M1590.3 206.7q-30.9-38.8-68.4-71-37.7-32.8-84.2-50.7M1038.5 232.3q31.2-42.6 69.4-78.9 37.1-35.9 83.6-58M1595.3 209.1q-30.1-37.9-66.7-69.7-35.2-30.9-78.1-49.3M1033.6 235.2q29.8-40.9 66.1-76.2 35.3-34.7 79.2-57.4M1600.3 211.8q-28.8-36.4-63.5-67.2-33.3-29.8-73.6-48.9M1028.7 238.2q28.5-39.1 62.9-73.2 34-34.2 76.1-57.5M1605.3 214.6q-27.6-34.8-60.4-64.5-32-29.3-70.5-48.9M1023.8 241.4q27.3-37.4 59.8-70.3 32.1-32.8 71.5-56.4M1610.2 217.6q-26.3-33.1-57.3-61.8-30-28-65.9-47.9M1019 244.7q25.9-35.6 56.6-67.2 30.3-31.5 67-55.1M1615 220.8q-24.9-31.5-54-59.1-28.2-26.7-61.4-46.6M1014.2 248.3q25.2-34.8 55-65.7 28.4-29.8 62.4-52.9M1619.8 224.1q-23.5-29.8-50.9-56.2-26.2-25.3-56.8-45M1009.5 252q23.9-33 51.8-62.6 26.5-28.3 57.8-51M1624.6 227.7q-22.2-28.2-47.8-53.3-24.2-23.9-52.2-43.2M1004.8 255.9q21.9-30.3 47.2-57.9 25.2-27.6 54.8-50.3M1629.3 231.4q-20.2-25.7-43.2-48.9-22.8-23.2-49.1-42.4M1000.1 259.9q20.7-28.5 44.2-54.6 23.2-25.9 50.2-47.8M1634 235.3q-37.1-48.2-84.7-85.9M995.5 264.1q37.8-53.3 86.8-96.4M1638.6 239.3q-34.2-44.2-77-80M991 268.5q34.9-49.2 79.1-90M1643.2 243.6q-30.6-39.5-68-72.6M986.5 273q31.9-44.9 71.6-83.2M1647.7 248q-27.5-35.5-60.4-66.1M982 277.7q29-40.7 64.1-76.1" fill="none" stroke="#000" stroke-opacity=".78" stroke-width="1.5"/>
<path d="M1313.2 331q-33.1-38.3-73.2-69.2-20.4-15.5-43.1-27.3-21.3-11.1-44.6-17.1-49.8-12.6-97.3 7-22.6 9.6-42 24.8-19.2 15-35.4 33.3M1313.2 331q32-40 70.4-73.9 19.8-17.2 41.9-31.4 20.8-13.2 43.7-22 48.9-19.1 99.2-5.3 24.4 7.3 45.4 21.6 20.9 14.2 38.4 32.5M1652.2 252.5q-24.4-31.4-52.8-59.1M977.6 282.5q25.9-36.3 56.6-68.6" fill="none" stroke="#000" stroke-width="1.5" stroke-linejoin="round"/>
<g font-size="11.9" fill="#111"><path d="M978.3 285.2h-4" stroke="#000" stroke-width="2"/><text transform="translate(968.3,295.7) scale(1.684,1)" text-anchor="end">17</text><path d="M973.8 231h-4" stroke="#000" stroke-width="2"/><text transform="translate(963.8,241.5) scale(1.684,1)" text-anchor="end">34</text><path d="M969.4 176.8h-4" stroke="#000" stroke-width="2"/><text transform="translate(959.4,187.3) scale(1.684,1)" text-anchor="end">51</text><path d="M965 122.6h-4" stroke="#000" stroke-width="2"/><text transform="translate(955,133.1) scale(1.684,1)" text-anchor="end">68</text><path d="M960.5 68.3h-4" stroke="#000" stroke-width="2"/><text transform="translate(950.5,78.8) scale(1.684,1)" text-anchor="end">85</text><circle cx="1313.3" cy="449.9" r="1.7"/><text transform="translate(1321.8,460.9) scale(1.684,1)">2.00</text><circle cx="1396" cy="425.5" r="1.7"/><text transform="translate(1404.5,436.5) scale(1.684,1)">4.00</text><circle cx="1478.7" cy="401.1" r="1.7"/><text transform="translate(1487.2,412.1) scale(1.684,1)">6.00</text><circle cx="1561.4" cy="376.7" r="1.7"/><text transform="translate(1569.9,387.7) scale(1.684,1)">8.00</text><circle cx="1644.1" cy="352.4" r="1.7"/><text transform="translate(1652.6,363.4) scale(1.684,1)">10.00</text><circle cx="1313.3" cy="449.9" r="1.7"/><text transform="translate(1303.8,460.9) scale(1.684,1)" text-anchor="end">0.00</text><circle cx="1230.8" cy="425.5" r="1.7"/><text transform="translate(1221.3,436.5) scale(1.684,1)" text-anchor="end">1.50</text><circle cx="1148.3" cy="401.1" r="1.7"/><text transform="translate(1138.8,412.1) scale(1.684,1)" text-anchor="end">3.00</text><circle cx="1065.8" cy="376.8" r="1.7"/><text transform="translate(1056.3,387.8) scale(1.684,1)" text-anchor="end">4.50</text><circle cx="983.3" cy="352.4" r="1.7"/><text transform="translate(973.8,363.4) scale(1.684,1)" text-anchor="end">6.00</text></g>
<text transform="translate(1641.5,444.4) scale(1.538,1)" font-size="18" text-anchor="end">A: pH</text>
<text transform="translate(936.5,444.4) scale(1.538,1)" font-size="18">C: Starch conc.</text>
<text transform="translate(1316,57.5) scale(1.11,1)" font-size="57" font-weight="bold" text-anchor="middle">f</text>
</g>
<g id="pb">
<path d="M128.2 515.6L491.1 468.3L853.2 515.6L829.6 798L490.4 894.8L152 798.1z" fill="#ff0"/>
<path d="M128.2 515.6L491.1 468.3L853.2 515.6M152 798.1L491.2 722.5L829.6 798" fill="none" stroke="#330" stroke-width="1.1" stroke-dasharray="3.2 2.2"/>
<path d="M491.1 468.3L491.2 722.5" fill="none" stroke="#442" stroke-width="1"/>
<path d="M853.2 515.6L829.6 798M128.2 515.6L152 798.1" fill="none" stroke="#221" stroke-width="1.1"/>
<g fill="none" stroke-width="1.1" opacity=".85"><path d="M532.8 882.7q-45.5 .7-91-1.8M171.4 803.6q-1.5-4.8-.5-9.7M814.3 794.6q2 3.3 3 6.9" stroke="#3e3"/><path d="M590.6 866.2q-111.1 8.5-221.6-6.1M233.5 821.4q-10.7-6.3-16.9-16.8-5.3-11.5 2.7-21.5M454.3 730.7q39.3-.8 78.6 1.1M759.6 782.4q8.3 6 12.3 15.2 3.1 9.5-2.8 17.7" stroke="#7f0"/><path d="M673.8 834q-30.6 9-62.2 13-29.2 4-58.6 5.5-57.4 3-114.6-1.3-59.6-3.7-117.1-19.5-14.4-4.2-28-10.5-14-5.8-23.6-17.4-4.9-6.8-2.2-14.7 3-6.7 9-11.2 11.7-8.5 25.4-13.2M380.2 747.2q105-12.4 209.9 .9 26.5 3.4 52.6 9.3 24.5 5.3 47.5 15.1 12.8 5.3 22.9 14.5 4.8 4.5 6.4 10.7 1.2 6.4-2.5 11.8-8.5 10.7-21.2 16-10.7 5-22 8.5" stroke="#dcff2a"/><path d="M616.7 821.1q-42.2 11.2-86 12.5-41.9 1.9-83.6-1.7-22.2-1.9-44.2-5.9-20.6-3.5-40.3-10.5-10.2-3.6-19.1-9.6-4.4-3-7.3-7.5-2.6-4.6-.7-9.5 5.5-9.1 15.8-13.2 9.1-4.2 18.8-6.9 41.8-10.8 85-12.1 41.3-1.9 82.5 1.6 42.3 2.9 82.6 15.6 10.2 3.4 19.4 9 4.8 2.9 8.3 7.2 3.2 4 2.6 8.9-1.3 5.3-5.7 8.8-4 3.4-8.8 5.7-9.3 4.7-19.3 7.6" stroke="#ff9a00"/></g>
<path d="M152 798.1L490.4 894.8L829.6 798" fill="none" stroke="#220" stroke-width="1.3" stroke-dasharray="3.2 1.4"/>
<g><path d="M837.6 702.2q-33.1-40.3-73.7-72.8-38.9-31.5-86.2-47.5-49.2-15.9-99.6-4.6-47.9 12.1-86.9 42.6-40-35.9-91.4-50.1-51.1-12.1-100.3 6.4-49.5 19.7-88.4 56.4-36.9 34.3-66.7 74.8 40.2-36.6 93.8-44.7 52.2-4.8 99.2 19.3 47.1 24.1 85.3 60.9 36.6 34.8 67.6 74.6 31.8-45 70.2-84.5 36.9-38.6 83.5-64.3 24.3-13 51.4-18.4 26.2-5.1 52.4-.2 27 5.4 50.4 20.1 21.6 13.6 39.4 32z" fill="#0096ff"/><path d="M478.1 802.3q-31.8-38.9-69.6-72.1-37-33-82.1-53.3-46.3-20.6-96.1-13-48.8 9.9-85.9 43.5 31.5-42.9 71.1-78.6 38.1-34.9 86.2-53.4 50.4-18.3 102.1-4.6 49.1 14.8 87.4 49.1 40.7-31.9 91-43.5 49.6-10 97.7 6.2 48.6 17.1 88.3 50.2 38 31.4 69.4 69.4-18.5-19.1-41.1-33-22.5-13.8-48.4-19-26.1-5-52.2 0-24.4 4.7-46.7 15.9-46.3 24-82.9 61.2-35.5 35.2-65.1 75.4l-23.1-.4z" fill="#00acff"/><path d="M472.8 796q-31.7-38-69.3-70.1-36.9-31.9-81.8-50.9-45.3-18.9-93.5-10.7-47.6 10.3-83.8 43.1 31.5-42.9 71.1-78.6 38.1-34.9 86.2-53.4 50.4-18.3 102.1-4.6 49.1 14.8 87.4 49.1 40.7-31.9 91-43.5 49.6-10 97.7 6.2 48.6 17.1 88.3 50.2 38 31.4 69.4 69.4-18.5-19.1-41.1-33-21.6-13.2-46.4-18.6-50.3-9.2-96.6 13.4-46 22.7-82.6 58.8-35.4 34.3-65 73.7l-33.1-.5z" fill="#00c2ff"/><path d="M467.3 789.6q-31.7-37.2-69.4-68.3-36.1-30.2-79.6-47.6-45.6-18.1-93.5-8.7-45.6 10.9-80.4 42.4 31.5-42.9 71.1-78.6 38.1-34.9 86.2-53.4 50.4-18.3 102.1-4.6 49.1 14.8 87.4 49.1 40.7-31.9 91-43.5 49.6-10 97.7 6.2 48.6 17.1 88.3 50.2 38 31.4 69.4 69.4-17.8-18.3-39.3-31.9-20.7-13-44.4-18.9-49.6-10.6-96 10.6-45.8 21.3-82.4 56.4-35.3 33.3-64.8 71.9l-43.4-.7z" fill="#00d9ff"/><path d="M461.7 783.2q-30.7-35.1-66.8-64.3-36-29.5-79.3-46.2-44.5-16.9-91.1-7.7-45.4 11-80.1 42.4 31.5-42.9 71.1-78.6 38.1-34.9 86.2-53.4 50.4-18.3 102.1-4.6 49.1 14.8 87.4 49.1 40.7-31.9 91-43.5 49.6-10 97.7 6.2 48.6 17.1 88.3 50.2 38 31.4 69.4 69.4-17.1-17.6-37.7-30.9-20.7-13.3-44.6-19.5-48.4-11-94.2 8.9-44.6 19.7-80.4 53-35.5 32.4-65.1 70.3-27 0-53.9-.8z" fill="#00efff"/><path d="M455.9 776.7q-30.6-34.1-66.7-62.3-35.1-27.6-77-42.9-43.6-15.6-88.9-6.2-43.3 10.7-76.8 40.3l0-.9q31.5-42.6 71.1-77.8 38.1-34.4 86.2-52.2 49.4-17.3 100-3.9 49.1 14.8 87.4 49.1 40.7-31.9 91-43.5 49.6-10 97.7 6.2 48.6 17.1 88.3 50.2 38 31.4 69.4 69.4-17.1-17.6-37.7-30.9-20.7-13.3-44.5-19.5-47.1-10.8-92 7.9-44.4 19-80.1 51.8-34.1 30.5-62.7 66.2-32.4 .1-64.7-1z" fill="#00fff6"/><path d="M449.9 770.2q-29.5-32-64.2-58.4-34.1-26.2-74.5-40.7-41.7-14.6-85-6.4-42.2 9.5-75.4 37.4l-.2-2.8q30.7-40.6 69-74.1 38.2-34 86.2-51.2 49.6-16.7 100-2.6 47.8 14.9 85.4 48.5 40.6-31.8 90.7-43.4 49.4-10.1 97.4 5.9 48.4 16.9 88.1 49.7 38.1 31.2 69.3 69.2-32.8-34.5-78-48.6-46.4-12-91.2 5.4-43.9 17.7-79.5 49.2-33.8 29.4-62.2 64.1-38 .2-75.9-1.2z" fill="#00ffd5"/><path d="M443.7 763.7q-29.4-31-63.9-56.2-33-24.3-71.9-37.4-39.6-13.1-80.6-5.6-40 8.5-72 34-.7-2.3-.5-4.6 30.8-39.8 69.1-72.4 38.3-33 86.1-48.9 48.8-15 97.8-.6 46.7 15.1 83.4 47.9 39.7-31.1 88.6-43 49.2-10.6 97.1 4.7 48.4 16.3 88 48.6 19.3 15.3 36.7 32.7l17.3 18 8.6 9.6q3.5 3 5.5 7.1-32.7-32.9-77-45.6-44.6-10.6-87.5 5.8-42.7 16.8-77.4 46.9-32.5 27.7-60 60.4-43.7 .4-87.4-1.4z" fill="#00ffb5"/><path d="M437.3 757.1q-28.4-29.1-61.6-52.5-31.3-22.3-67.7-34.5-80.2-24.6-148.1 24.9-1.2-3.2-.8-6.6 30.9-38.9 69.1-70.4 37.6-31.3 84-46 47.8-14.1 95.6 0 46.7 15.1 83.4 47.9 39.9-31.2 89-43.1 48.3-10.3 95.5 4.5 47.3 15.5 86.2 46.5 19.4 15.1 36.9 32.3l17.4 17.8 8.6 9.5q3 2.8 4.3 6.5-32.5-31.2-75.9-42.6-42.7-9.3-83.7 6.1-40 15.4-72.9 42.8-32.5 26.7-60 58.5-49.7 .7-99.3-1.6z" fill="#00ff94"/><path d="M430.6 750.5q-27.2-26.9-58.8-48.6-30.2-20.8-65-32.2-76.1-23.1-141.9 21.8-2.1-4-1.3-8.5 30.8-38.1 69.1-68.5 37.6-30.3 83.8-43.7 48.1-12.8 95.3 2.4 44.3 15.5 79.4 46.7 39-30.5 86.8-42.6 48-10.9 95.3 3.2 47 14.8 85.9 45.3 19.4 14.8 36.9 31.7l17.3 17.5 8.7 9.3q2 2.7 2.9 6-31.3-28.6-72.1-39.1-41.3-8.9-81.1 5.4-39.6 14.6-72.3 41.3-30.9 24.8-57.2 54.5-55.9 .9-111.7-1.9z" fill="#00ff74"/><path d="M423.7 743.9q-26.2-25-56.4-44.9-29.2-19.4-62.6-29.9-71.6-21.1-134.6 18.9-3.2-4.8-1.9-10.5 30.8-37.1 69-66.5 36.8-28.5 81.6-40.8 47-11.9 93.1 3.1 44.2 15.4 79.3 46.6 38.9-30.4 86.6-42.5 46.8-10.7 92.9 2.4 45.5 13.6 83.6 42.3 19.2 14.2 36.7 30.6l17.3 17 8.7 9.1q2.9 3.4 3.7 7.8-30.4-26.3-69.4-35.8-39.4-8-77.5 5.1-37.1 13.1-68.3 37.3-31 23.8-57.4 52.7-62.2 1.3-124.4-2z" fill="#00ff53"/><path d="M416.4 737.1q-25.3-23.1-54.2-41.4-28.3-18-60.5-27.5-66.6-18.6-126 16.4-4.7-5.6-2.8-12.5 30-35.3 67.1-63.1 36.9-28 81.7-39.5 46.1-10.8 91.1 4.1 43.2 15.2 77.5 45.6l1.8 0q38.1-29.6 84.8-41.6 45.5-10.7 90.7 1.3 45.4 12.9 83.5 40.9 19.3 13.9 36.8 30l17.3 16.7 7.4 7.7q3.2 3.8 3.6 8.7-30.1-24.5-67.9-32.7-37.3-6.8-73.4 5.4-35.7 12.3-65.8 35-29.6 22-54.9 48.9-69 1.6-137.8-2.4z" fill="#0f3"/><path d="M408.7 730.3q-24.3-21.2-51.8-37.8-26.5-16.1-56.3-24.6-62.2-17.2-119 13.3-6.5-6.3-3.9-14.6 30-34.3 66.9-60.9 36-26.2 79.2-36.7 43.9-9.7 86.8 3.8 41.8 14.2 75.5 42.9l10.6 .1q37.7-28 83.2-38.9 44.6-9.7 88.8 2.3 44.1 12.7 81.3 39.8 18.1 13 34.6 27.8l17.3 16.4q3.8 3.4 6.9 7.4 2.9 3.9 2.7 8.7-29.7-22.7-66.3-29.7-35.2-5.6-69.2 5.6-34.1 11.5-63.2 32.7-28.1 20.3-52.3 45.1-75.9 2.1-151.8-2.7z" fill="#00ff12"/><path d="M400.6 723.5q-23.2-19.3-49.3-34.3-24.5-14-51.7-21.6-57.8-15.7-111.6 10.3-8.8-6.9-5.3-16.9 29.2-32.4 64.9-57.4 35.3-25 77.2-34.8 43-9.3 85 3.8 39.6 13.1 72 39.6l19.8 .2q36.2-25.7 79.4-35.8 43.5-9.2 86.6 2.3 42.8 12 79.1 37.8 18 12.5 34.5 27.1l17.3 16q3.6 3.1 6.3 7.1 2.6 4.1 1.7 8.8-59.2-41.4-128.4-21.2-32.8 10.6-61 30.4-26.8 18.7-50 41.5-83.3 2.7-166.5-2.9z" fill="#0f0"/><path d="M391.8 716.5q-41.8-34.1-93.4-49.2-53-14.2-103.5 7.4-4.8-3.4-7.6-8.6-2.5-5.4 .6-10.6 28.2-30.3 62.4-53.7 34.2-23.6 74.6-33.1 41.6-8.9 82.5 3.2 38.3 12 69.9 36.8l29.3 .3q35.9-24.3 78.1-33.1 41.8-8 83 3.1 41.7 11.6 77.2 36.5 18.2 12.4 34.7 26.9l15.2 13.9q8.6 6.1 6.4 15.8-56.4-36.4-121-18.2-31.4 9.6-58.7 28-25.3 17-47.4 37.9-91.2 3.4-182.3-3.3z" fill="#0f0"/><path d="M382.4 709.4q-39.4-30-87-42.9-47.2-11.8-92.8 5.1-4.9-3-8.6-7.4-3.9-4.7-2.6-10.6 1-3.5 4-5.8l4.3-4.3 6.4-6.2q15.4-14.5 32.3-27.2 34.1-26 74.9-38.4 42.2-12.3 85-2.3 40.7 10.5 74.3 35.8l39.3 .4q35.1-22.6 76.1-30.3 40.8-7 80.6 3.9 40.3 11.5 74.8 35.3 16.9 11.4 32.4 24.6l14.9 13.1q8.7 6.7 4.8 16.4-54.5-32.1-115.2-14.7-28.8 8.7-54.1 25-23.8 15.3-44.9 34.3-99.5 4.2-198.9-3.8z" fill="#0f0"/><path d="M372.1 702.1q-35.7-24.9-77.8-35.8-41.9-10.3-83.1 2.3-5.2-2.7-9.5-6.5-4.4-3.6-5.6-9-.5-6.6 4.8-10.9l6.5-6.2q14.5-13.5 30.4-25.4 33.3-25.5 73.2-38.3 41.4-12.5 83.6-3.7 39.8 9.2 73.1 33.1 24.9-.1 49.7 .5 34.7-21 74.6-27.6 38.8-5.7 76.7 4.6 39 11.1 72.7 33.9 16.8 11.2 32.4 24.3l13.9 12q7.2 7.3 1.7 15.7-50.6-26.9-106-12.1-27.4 7.7-51.8 22.6-22.5 13.6-42.5 30.8-108.7 5.2-217-4.3z" fill="#0f0"/><path d="M360.4 694.6q-31.8-20-68.2-28.8-35.6-8.3-71.1 0-10.8-4.2-18.1-12.9-3.4-5-1-10.4 2.5-4.6 6.9-7.8 14.4-13.4 30.3-25.1 32.3-24.5 70.8-37 39.1-12.1 79.4-5 39.7 7.8 73.2 30.6 30.3-.2 60.7 .6 70-39.6 147.4-19 36.6 10.7 68.4 31.8 15.7 10.3 30.2 22.1 7.5 5.5 14.2 11.9 6.6 8.4-.8 16.1-47.4-22.4-98.2-9-48.3 14.3-87.1 46.9-118.7 6.4-237-5z" fill="#0f0"/><path d="M346.6 686.7q-26.2-14.4-55.4-21.2-28.9-6.4-58.1-2-10.2-3.7-19-9.8-4.4-2.9-6.9-7.5-2.2-4.7 .3-9.2 6.9-8.6 16-15.2l15.1-11.8q31.3-23.8 68.4-36.4 38.8-12.8 79.1-6.6 38.3 6.7 71.1 27.7 36.1-.4 72.2 .8 68.3-35.8 142.5-15.4 35.5 10.7 66.5 31.1 15.8 10.2 30.4 22.1 7.6 3.8 11.8 11.1 2.5 8.6-5.2 14.1-43.4-17.7-88.8-6.3-44.1 12.2-80.2 40.4-130.2 8.1-259.8-5.9z" fill="#0f0"/><path d="M328.9 678q-38.1-17.4-79.9-16.2-9.8-2.9-19.2-7.2-9.6-3.9-16.3-11.6-3.4-4.6-1.2-9.8 2.5-4.6 6.9-7.7l15-12.2q30.4-23.8 66.4-37.5 37.5-13.9 77.3-9.9 39.5 4.9 73.6 25.4 42.3-.6 84.5 .9 66.3-31.9 137-11.8 34.4 10.5 64.5 30.2l15.2 10.3q6.1 5 12.9 8.9 8.2 4.2 10.4 12.7-.9 8.6-8.9 12.8-39.2-13.3-79.5-3.4-38.7 10.2-71.3 33.6-144.1 10.2-287.4-7.5z" fill="#0f0"/><path d="M445.5 587.9q48.8-1 97.6 1.1 65.1-28.4 133-7.6 31.9 10.2 60.1 28.3l15.1 10.3q6.4 3.6 12.6 7.7 3.4 2.5 5.5 6.1 2.1 4 .3 8-4.4 7.1-12.2 10.6-33.7-8.9-67.8-1-33.3 8.2-62.2 26.7-85.3 6.8-170.9 3.7-84.2-2-167-16.8-20.9-3.9-41.1-10.4-10.4-3.4-19.9-8.6-4.6-2.5-8.3-6.3-3.8-3.6-3.4-8.7 1.5-5.9 6.8-9.3l8.7-7q8.4-6.6 17.3-12.6 16.5-11.1 34.5-19.6 82-37.3 161.3 5.4z" fill="#0f0"/><path d="M439.1 584.5q55.9-1.3 111.7 1.3 63.1-24.4 127.5-3.7 32 10.6 60.2 29.1 6.6 4.6 14 7.9 7.1 3.4 11.4 9.9 2.9 8.1-4.7 13.4-6.1 4.6-13.3 7.4-28.2-4.9-56.2 1.6-25.8 6.2-49 19-83.7 7.7-167.7 5.4-83.9-1.3-166.7-14.3-20.9-3.5-41.4-9-10.1-2.7-19.8-6.5-9.9-3.6-18-10.1-9.7-9.7 1.3-18.3l17.5-12.9q16.4-11.5 34.4-20.3 79.5-38.6 158.8 .1z" fill="#0f0"/><path d="M432.1 581.2q63.6-1.9 127.2 1.5 62.8-20.9 125.1 1.4 15.4 5.5 29.8 13l15 8.4q5.6 3.8 11.9 6.2 7.5 3 13.7 8.2 7.1 6.1 2.2 13.7-5.2 5.8-12.5 8.8-7 3.2-14.3 5.5-37.6-1.5-72.1 14-166.6 18-332.7-4-20.8-3-41.4-7.5-20.6-4.3-39.8-12.5-5-2.3-9.5-5.5-4.7-3-6.5-8.2-.8-5.8 3.9-9.6 4.1-3.3 8.6-6.1 16.3-12 34.3-21.4 36.7-19.6 78.2-22 41.3-1.4 78.9 16.1z" fill="#0eff00"/><path d="M424.5 577.9q72.2-2.5 144.3 1.8 59.8-16.5 118 5.3 14.3 5.3 27.8 12.3 6.5 3.8 13.4 6.8 6.7 2.3 13 5.6 7.1 3.2 11.3 9.6 2.5 7.7-4.7 12.5-12.1 7.9-26.2 11.5-29.1 7.9-59.1 11.5-28.8 3.7-57.8 5.6-59 3.8-118.2 2.8-59.3-.7-118.4-6.6-29.3-2.9-58.3-7.9-29-4.5-56.4-14.6-7.1-2.8-13.2-7.2-7.4-4.6-5.6-12.5 4-6.5 11.1-9.6l12.1-7.8q25.1-15.9 53.5-24.7 57.7-17.1 113.4 5.6z" fill="#28ff00"/><path d="M416.1 574.7q81.9-3.4 163.7 2.2 57.6-12.1 112.3 10.1l15 6.6q5.1 2.9 10.8 4.5 13.6 3.7 24.9 12 6.6 5.3 2.7 12.4-4.6 5.5-11.2 8.3-12.3 5.6-25.5 8.7-55.1 12.2-111.5 14.8-55.4 3.4-110.8 2.5-56.9-.7-113.4-6.1-28-2.7-55.6-7.3-27.1-4.1-53-12.6-6.9-2.4-13.3-5.7-6.8-3.1-10.7-9.2-2.2-7.7 5.1-12.2 6-3.8 12.4-6.9 23.1-14.6 49-23.2 54.8-17.8 109.1 1.1z" fill="#43ff00"/><path d="M406.6 571.6q65.7-3.2 131.4-.5l34.5 1.8 16.7 1.2q7.1 .4 14.2-.9 31.4-2.6 62 5.2 16.2 4.1 31.7 10.7 7.7 2.5 15.5 4.7 7.3 2.3 14.2 5.4 8.1 3.2 13.1 10 2.1 4-.4 7.8-2.4 3.2-5.7 5.2-13.8 7.8-29.4 11.2-31.4 7.4-63.5 10.6-31.8 3.4-63.8 4.9-65.2 3-130.3 .3-63.6-2.2-126.5-12-16.2-2.7-32.1-6.6-15.8-3.6-30.4-10.4-8.2-3.3-11.8-11-.6-4.5 2.8-7.6 2.7-2.8 6.2-4.7 14.3-6.7 28.3-13.9 59.7-28.7 123.3-11.4z" fill="#5dff00"/><path d="M395.4 568.8q63.1-3.7 126.2-1.8 31.8 .9 63.5 3.3l16 1.3q7.5 1 15.1 1 15.2-.3 30.4 2 15.7 2.4 30.8 7.2 15.5 3.4 30.6 7.9 7.7 2.4 14.9 6 7.5 3.1 11.2 10 1 4.3-2.2 7.5-2.7 2.8-6.2 4.7-6.5 3.5-13.5 5.8-30 9-61.3 12.4-30.5 3.8-61.3 5.6-125.2 7.6-249.6-8.1-31.5-4-61.9-13.1-7.6-2.4-14.7-6-7.7-3.1-11-10.2-.7-4.3 2.5-7.3 2.7-2.7 6-4.5 6.8-3.7 14.2-6 8-3.1 15.7-6.9l15-5.6q14.5-4.9 29.6-7.2 30.2-4.6 60 2z" fill="#78ff00"/><path d="M679.2 624.8q-60.4 10.5-121.8 11.9-60.6 2.1-121.1-.9-61.1-2.5-121.3-13.2-15.2-2.8-29.9-7.3-7.2-2.2-14.1-5.4-7-2.8-11.4-8.9-2-3.9 .6-7.4 2.4-3 5.9-5 6.6-3.8 13.8-6.1 14.2-4 27.9-9.2 29.8-9.7 61.1-8.2 8.4 1.1 16.9 .9l13.7-.9 30.1-1.4q60.5-2.1 120.9 .9 60.5 2.5 120.2 13 15.1 2.8 29.8 7.2 7.4 2.2 14.3 5.4 6.9 2.7 11.6 8.3 2.5 3.6 .4 7.5-2.2 3.2-5.5 5.2-6.4 3.9-13.6 6.2-14 4.7-28.5 7.4z" fill="#92ff00"/><path d="M673.5 618.8q-58.6 10-118.1 11.4-58.7 2-117.4-.9-59.2-2.3-117.6-12.5-14.7-2.8-29.1-7.1-7-2.1-13.7-5.2-6.7-2.6-11.1-8.1-2.2-3.6 .1-7.2 2.2-2.9 5.4-4.8 6.2-3.6 13.1-5.9 13.9-4.5 28.2-7.1 15.5-4 31.3-5.7 14-.7 28-2.1 29.3-2.5 58.7-3.5 58.8-2 117.6 .9 58.9 2.4 116.9 12.5 14.6 2.7 28.9 7 7.1 2.1 13.8 5.1 6.6 2.7 11.1 8 2.4 3.5 .3 7.2-2.1 3.1-5.4 5-6.3 3.7-13.3 6-13.6 4.4-27.7 7z" fill="#adff00"/><path d="M667.6 612.8q-57.7 9.7-116.3 11-56.8 1.8-113.5-1-57-2.3-113.2-12.2-14.1-2.6-27.8-6.7-6.7-2.1-13.1-5-6.7-2.6-10.7-8.4-1.6-4 1.4-7.1 2.4-2.6 5.6-4.3 6.1-3.3 12.8-5.3 13.2-4.2 26.9-6.6 57.1-9.5 115-10.7 56.3-1.8 112.6 .9 57.1 2.3 113.4 12 14.2 2.7 28 6.7 6.8 2.1 13.3 5 6.5 2.5 10.8 7.9 2.1 3.5-.2 6.9-2.1 2.8-5.1 4.5-6.2 3.6-12.9 5.7-13.3 4.3-27 6.7z" fill="#c7ff00"/><path d="M661.5 606.8q-55.7 9.3-112.3 10.4-54.8 1.8-109.5-.9-55-2.2-109.3-11.6-13.6-2.5-27-6.4-6.5-2-12.7-4.7-6.5-2.5-10.5-8.1-1.6-3.7 1.3-6.8 2.3-2.5 5.3-4.1 5.9-3.1 12.3-5.1 12.8-4 26-6.3 55.3-9.1 111.4-10.3 54.6-1.7 109.1 .9 55.3 2.2 109.8 11.6 13.7 2.5 27 6.4 6.6 1.9 12.8 4.7 6.3 2.5 10.4 7.6 2 3.6-.6 6.9-2.2 2.6-5.3 4.3-5.7 3.2-12.1 5.1-12.8 4.1-26.1 6.4z" fill="#e2ff00"/><path d="M655.2 600.8q-53.7 8.8-108.2 9.9-52.6 1.6-105.3-.9-53.6-2.1-106.5-11.2-13-2.4-25.7-6.2-6.5-1.9-12.6-4.8-6.3-2.3-9.5-7.9-.9-3.6 1.9-6.2 2.3-2.2 5.1-3.6 5.8-3 12-4.9 12.5-3.7 25.4-6 52.9-8.5 106.5-9.6 52.8-1.7 105.6 .9 53.3 2 105.9 11 13.2 2.4 26 6.1 6.4 1.9 12.4 4.6 6.1 2.3 10 7.5 1.6 3.4-.9 6.3-2.2 2.5-5.1 4-5.6 3.1-11.7 4.9-12.5 3.9-25.3 6.1z" fill="#fcff00"/><path d="M648.7 594.8q-51.6 8.3-104 9.3-50.4 1.6-100.9-.8-51.5-2-102.3-10.7-12.6-2.2-24.8-5.8-6.3-1.8-12.2-4.5-5.8-2.2-9.1-7.3-1.2-3.3 1.4-5.9 2.2-2.3 5-3.7 5.5-2.9 11.5-4.6 12-3.6 24.3-5.7 51-8.2 102.6-9.2 50.9-1.6 101.8 .8 50.8 2 101 10.3 12.8 2.3 25.2 5.9 6.2 1.7 12 4.3 5.9 2.1 9.8 6.8 1.9 3.3-.4 6.3-2 2.3-4.8 3.8-5.6 3.1-11.8 4.9-12 3.7-24.3 5.8z" fill="#ffe700"/><path d="M641.9 588.7q-48.6 7.7-97.8 8.8-49.1 1.5-98.2-.8-49.2-1.9-97.9-10-12-2.1-23.8-5.5-6-1.7-11.7-4.3-5.8-2.1-9-7.1-1-3.2 1.5-5.6 2.2-2.1 5-3.5 5.4-2.7 11.2-4.4 11.6-3.4 23.6-5.4 48.4-7.5 97.4-8.5 49-1.6 97.9 .7 48.7 1.9 96.9 9.9 12.2 2.1 24.1 5.5 5.9 1.7 11.4 4.1 5.7 2.1 9.4 6.7 1.6 3.2-.9 5.9-2.1 2.3-4.8 3.7-5.3 2.7-11 4.4-11.5 3.4-23.3 5.4z" fill="#fc0"/><path d="M634.7 582.6q-46.3 7.2-93.1 8.2-46.7 1.4-93.4-.7-47-1.8-93.3-9.4-11.6-2-22.8-5.2-5.8-1.6-11.3-4-5.4-1.9-8.6-6.5-1.2-3.1 1.2-5.5 2.1-2 4.7-3.3 5.2-2.5 10.7-4.1 11-3.2 22.4-5.1 47-7.2 94.6-8.2 46.1-1.3 92.2 .8 46.6 1.8 92.6 9.4 11.6 2 23 5.2 5.6 1.5 10.9 3.8 5.5 2 8.9 6.6 1.2 3.2-1.3 5.6-2 1.9-4.5 3.2-5.1 2.5-10.5 4.1-11.1 3.2-22.4 5.1z" fill="#ffb100"/><path d="M627.2 576.5q-44.6 6.8-89.8 7.7-44.2 1.2-88.4-.8-44.3-1.7-88-8.9-11.1-1.9-22-5-5.3-1.6-10.4-3.8-5.2-1.9-7.7-6.6-.4-3.1 2.3-5.1l4.7-2.8q4.9-2.3 10.1-3.7 10.3-2.9 20.9-4.6 44.3-6.7 89.1-7.5 43.9-1.3 87.8 .7 44.4 1.7 88.1 8.8 11 1.9 21.8 4.9l10.2 3.6q5.2 1.9 8.3 6.2 1.2 3-1.3 5.3-1.9 1.8-4.3 2.9-4.9 2.4-10.1 3.9-10.5 3-21.3 4.8z" fill="#ff9700"/><path d="M619.3 570.3q-42 6.3-84.6 7.1-41.6 1.2-83.1-.7-41.7-1.6-82.9-8.2-10.2-1.8-20.3-4.5-5.1-1.4-10-3.5-5.1-1.8-7.8-6.1-.6-2.9 1.8-4.8l4.2-2.7q4.8-2.2 9.8-3.6 9.7-2.7 19.7-4.3 41.9-6.2 84.2-7.1 41.6-1.2 83.2 .8 41.9 1.5 83.2 8.2 10.4 1.8 20.5 4.6l9.6 3.4q5 1.7 7.8 5.9 .8 2.9-1.6 4.9l-4.4 2.8q-4.7 2.2-9.8 3.6-9.6 2.6-19.5 4.2z" fill="#ff7300"/><path d="M610.9 564.1q-39.3 5.8-79.1 6.5-38.8 1.1-77.5-.7-39.4-1.4-78.4-7.7-9.8-1.6-19.3-4.3l-9.1-3.3q-4.7-1.6-6.8-5.8 .9-5 6.4-6.7 4.3-1.9 8.9-3.1 9.2-2.5 18.6-4 38.9-5.7 78.3-6.4 39-1.1 78.1 .6 39.3 1.5 78.1 7.7 9.6 1.6 19.1 4.3l8.9 3.1q4.8 1.6 7.2 5.7 .5 2.8-1.9 4.5l-4.3 2.5-8.9 3.2q-9 2.4-18.3 3.9z" fill="#ff4b00"/><path d="M601.9 557.8q-72.1 9.3-144.7 5.3-36.5-1.3-72.5-7-9.1-1.5-18-4l-8.4-2.9q-4.6-1.5-6.5-5.5 .9-4.6 6.1-6.1l8.4-2.9q8.6-2.3 17.4-3.6 72-9.2 144.6-5.2 36.1 1.3 71.7 6.9 9 1.5 17.9 3.9l8.3 2.9q4.5 1.4 6.9 5.2 .5 2.5-1.7 4.1l-3.8 2.3q-4.2 1.9-8.7 3-8.4 2.2-17 3.6z" fill="#ff2300"/><path d="M592.1 551.4q-66.2 8.4-132.9 4.7-33.1-1.2-65.7-6.3-8.2-1.4-16.3-3.6l-7.9-2.8q-4.2-1.4-5.5-5.1 1.5-4.1 6.1-5.4l8-2.6q7.7-1.9 15.5-3.1 65.7-8.2 131.9-4.6 33 1.2 65.6 6.3 8.3 1.4 16.3 3.5l7.9 2.8q4 1.2 5.9 4.7-.7 4.4-5.6 5.8l-7.7 2.5q-7.7 2-15.6 3.2z" fill="#ff1000"/><path d="M581.4 544.9q-59.1 7.4-118.6 4.2-29.5-1.1-58.7-5.6-7.4-1.2-14.6-3.2l-6.9-2.3q-3.8-1.2-5.4-4.5 1.1-3.8 5.3-4.9l7.1-2.3 13.9-2.7q59-7.3 118.5-4.1 29.6 1 58.9 5.6 7.3 1.2 14.5 3.1l7 2.4q3.7 1.2 5.1 4.5-1.1 3.7-5.2 4.8l-6.9 2.2-14 2.8z" fill="#ff0400"/><path d="M569.2 538.3q-51 6.2-102.4 3.5-25.8-.9-51.3-4.8l-12.6-2.7-6.1-2.1q-3.3-1-4.3-4 1.3-3.1 5-4l5.9-1.9 12.1-2.3q51.2-6.3 102.6-3.5 25.8 .9 51.2 4.8l12.5 2.7 6 2.1q3.3 1 4.3 3.9-1.2 3.1-4.7 4l-6 1.9-12.2 2.4z" fill="#fd0000"/><path d="M554.8 531.4q-41.8 5-83.9 2.8-21.2-.8-42.1-4l-10.3-2.2-4.8-1.8q-3-.9-2.9-3.5 3.8-3.6 9.2-4.3l10.1-1.9q41.6-4.9 83.4-2.7 20.9 .8 41.5 3.9l10.3 2.1 5 1.7q2.7 .8 3.5 3.3-1.1 2.5-4 3.2l-5 1.5-10 1.9z" fill="#f90000"/><path d="M536.2 524.1q-29.6 3.4-59.5 1.8-14.8-.5-29.5-2.7l-7.3-1.6-3.4-1.3q-2.1-.6-1.9-2.4 2.8-2.5 6.7-3l7-1.3q29.5-3.4 59.1-1.8 14.8 .5 29.4 2.7l7.3 1.5 3.6 1.3q2 .5 2.2 2.4-2.6 2.6-6.6 3.1l-7.1 1.3z" fill="#f60000"/></g>
<path d="M496.9 808.4q-32.6-41.7-71.4-77.8-37.8-35.6-84.2-58.5-24.1-11.5-50.3-16.3-25.1-4.5-50.3-.8-26.1 4-49.5 16.3-22.1 11.7-40.9 28.3M483.8 809.3q31.7-44.9 70-84.2 36.8-38.4 83.3-64 24-12.8 50.7-18.3 26.7-5.3 53.5-.2 26.5 5.4 49.5 19.6 22.4 14 40.8 32.9M503.5 799.6q-32.6-41.7-71.5-77.6-37.8-35.6-84.3-58.3-24.1-11.4-50.3-16.2-25.2-4.4-50.5-.6-26.1 4.2-49.6 16.6-22.2 11.8-41 28.5M477.2 801.3q31.7-44.8 70.1-84 36.8-38.4 83.3-63.8 24.1-12.8 50.8-18.1 26.8-5.2 53.6-.1 26.6 5.5 49.7 19.9 22.4 14 40.8 33M510 791.1q-32.6-41.7-71.4-77.5-37.9-35.5-84.4-58.1-24.2-11.3-50.5-16-25.2-4.3-50.5-.4-26.3 4.3-49.8 16.8-22.3 11.9-41.1 28.7M470.7 793.6q31.7-44.8 70-83.9 19.5-19.8 41.5-36.7 20.4-15.9 43.5-27.7 24.8-12.8 52.2-17.7 26.2-4.4 52.1 1 26.7 5.8 49.8 20.5 21.7 13.9 39.7 32.4M516.6 782.8q-32.6-41.6-71.5-77.4-37.9-35.3-84.5-57.8-24.2-11.3-50.5-15.8-25.3-4.2-50.7-.2-26.3 4.4-49.9 16.9-22.3 12-41.2 28.9M464.2 786q31.7-44.7 70-83.7 19.5-19.7 41.5-36.6 20.4-15.8 43.5-27.6 24.8-12.7 52.3-17.5 26.2-4.3 52.3 1.1 26.7 6 49.8 20.8 21.8 13.9 39.9 32.6M523.1 774.7q-32.6-41.5-71.5-77.2-37.9-35.3-84.6-57.6-24.2-11.2-50.5-15.6-25.4-4.2-50.8-.1-26.4 4.5-50 17.2-22.4 12.1-41.5 29.1M457.7 778.7q31.6-44.6 70-83.6 19.5-19.6 41.5-36.5 20.5-15.7 43.5-27.4 24.9-12.7 52.4-17.4 26.3-4.2 52.4 1.3 26.8 6.1 49.9 20.9 21.9 14.1 40.1 32.8M529.6 766.9q-32.6-41.5-71.5-77-38.6-35.8-86.1-58.1-24.3-10.9-50.6-15-25.5-3.9-50.8 .6-25.7 4.7-48.8 17.1-22.5 12.2-41.6 29.2M451.2 771.6q31.6-44.5 70-83.4 19.5-19.6 41.5-36.4 20.5-15.7 43.6-27.3 24.9-12.6 52.4-17.2 26.4-4.2 52.5 1.4 26.8 6.2 50.1 21.1 21.9 14.1 40.1 32.9M536.1 759.3q-32.6-41.4-71.5-76.8-38.6-35.8-86.2-57.9-24.4-10.8-50.7-14.8-25.5-3.8-50.8 .7-25.9 4.8-49 17.3-22.5 12.3-41.7 29.4M444.7 764.7q31.6-44.4 70-83.2 36.9-38 83.6-62.7 24.3-12.5 51.1-17.4 26.4-4.6 52.7 .6 27 5.6 50.5 20.2 22.1 13.7 40.4 32.3M542.6 752q-32.6-41.3-71.5-76.7-38.7-35.6-86.3-57.6-24.4-10.8-50.7-14.7-25.6-3.7-51 .9-25.9 4.9-49 17.5-22.6 12.3-41.9 29.5M438.2 758.1q31-43.5 68.4-81.5 36.9-38.3 83.7-63.3 24.3-12.7 51.2-17.8 25.8-4.7 51.6-.1 26.3 5.1 49.4 18.7 22.3 13.1 40.9 31.2M549.1 744.9q-32.6-41.2-71.5-76.5-38.7-35.6-86.4-57.4-24.4-10.7-50.8-14.5-25.6-3.6-51 1-26 5-49.2 17.6-22.7 12.5-41.9 29.8M431.8 751.7q30.9-43.4 68.3-81.3 36.4-37.6 82.2-62.4 23.7-12.4 49.9-17.8 25.8-5.2 51.8-1 26.4 4.5 49.8 17.8 22.4 12.7 41.2 30.5M555.5 738.1q-32.5-41.2-71.5-76.4-38.7-35.4-86.4-57.1-24.4-10.7-50.8-14.4-25.7-3.6-51.2 1.2-26 5-49.3 17.8-22.7 12.5-42 29.8M425.4 745.5q30.9-43.3 68.3-81.2 35.8-36.8 80.7-61.3 23.7-12.6 50-18.2 25.1-5.2 50.5-1.6 25.8 3.9 48.8 16.2 22.6 12.2 41.6 29.5M562 731.5q-33.2-41.9-73.1-77.6-38.8-35-86.4-56.1-49.3-21.5-102-12.1-26.1 5.4-49.3 18.4-22.1 12.4-40.9 29.3M419 739.5q30.2-42.3 66.6-79.4 35.8-37 80.8-61.9 23.1-12.4 48.6-18.3 25.2-5.6 50.8-2.5 25.8 3.5 49.1 15.4 22 11.4 40.6 27.7M568.4 725.2q-33.2-41.9-73.1-77.4-38.7-35-86.4-55.9-49.4-21.4-102.2-11.8-26.1 5.4-49.4 18.5-22.1 12.4-41 29.4M412.6 733.7q30.2-42.2 66.6-79.2 35.2-36.3 79.2-60.9 23.2-12.6 48.8-18.6 24.5-5.7 49.4-3.1 25.2 3 48.1 13.9 22.2 10.8 41 26.7M574.8 719.1q-33.2-41.8-73.1-77.2-38.8-34.9-86.4-55.7-49.5-21.3-102.3-11.5-25.5 5.3-48.2 17.9-22.2 12.3-41.3 29.2M406.2 728.2q29.6-41.2 65-77.4 35.2-36.6 79.3-61.5 22.5-12.4 47.3-18.7 23.8-5.9 48.3-4 25.2 2.2 48.4 12.6 22.3 10.1 41.4 25.5M581.2 713.3q-32.5-40.9-71.5-75.6-38.2-34.6-85-55.7-48.1-21.3-99.9-13.6-25.6 4.5-48.7 16.4-22.4 11.6-41.7 27.9M399.9 722.9q29.5-41.1 64.9-77.2 34-35.2 76.2-59.7 21.8-12.3 46-19.1 23.8-6.5 48.5-5.3 25.3 1.4 48.7 11.2 22.5 9.5 41.8 24.5M587.5 707.8q-32.5-40.9-71.4-75.5-37.6-33.9-83.5-54.8-47.4-21.3-98.8-14.5-24.9 4-47.6 15-22.6 11-42.1 26.9M393.6 717.8q28.8-40.1 63.2-75.4 34-35.4 76.3-60.2 21.8-12.6 46-19.5 23.2-6.5 47.2-5.8 24.7 1 47.7 9.9 22.6 8.8 42.1 23.3M593.8 702.4q-31.8-39.8-69.7-73.9-37-33.5-82.1-54.6-46.7-21.7-97.7-16.2-49.6 7.5-89.2 38.8M387.3 713q28.8-40 63.2-75.3 33.4-34.7 74.7-59.2 21.2-12.2 44.6-19.3 23.2-7 47.4-6.7 49 1.9 89 30.7M600.2 697.4q-31.2-39-68.2-72.3-36.3-33.2-80.6-54.5-45.3-21.7-95.2-18-49.7 5.7-90 35.8M381 708.4q28.1-39 61.6-73.6 33.4-34.8 74.7-59.7 21.2-12.4 44.6-19.7 22.6-6.9 46.1-7 48.2 .9 88.2 28.2M606.4 692.6q-31.1-38.9-68.1-72.2-35.7-32.4-79-53.5-44.6-21.7-94-18.8-49 4.8-89.2 33.6M374.8 704q28-39 61.5-73.4 32.7-34.1 73.1-58.6 20.5-12.2 43.2-19.6 22.5-7.3 46.2-7.9 47.4 0 87.4 25.9M612.7 688q-30.4-38-66.5-70.6-35.1-32-77.5-53.3-43.9-22-92.9-20.3-48.3 3.4-88.5 30.5M368.5 699.8q28.1-38.9 61.5-73.2 32.1-33.4 71.6-57.5 20.5-12.4 43.2-20 21.9-7.2 44.8-8.2 46.7-.9 86.5 23.5M618.9 683.7q-30.4-37.9-66.4-70.4-34.4-31.4-76-52.4-42.5-21.6-90.1-21.1-47.6 2.1-87.9 27.6M362.3 695.8q27.4-37.8 59.8-71.4 31.5-32.9 70-57.1 19.9-12.2 41.9-20.2 21.8-7.8 45-9.4 46.6-2.3 87 21.1M625.1 679.6q-29.7-36.9-64.7-68.8-33.8-31-74.5-52.1-41.9-21.9-89-22.6-46.8 .8-87.1 24.7M356.2 692.1q27.3-37.8 59.7-71.3 30.9-32.1 68.4-56 39.3-25.2 85.5-30.1 45.8-3.3 86.1 18.7M631.3 675.8q-29-36-63.1-67.2-33.2-30.6-72.9-51.8-41.2-22.1-87.8-24-46-.4-86.4 21.9M350.1 688.6q26.6-36.8 58-69.5 30.9-32.3 68.4-56.5 38.6-25.1 84.2-30.7 44.9-4.1 85.1 16.5M637.5 672.2q-29-35.9-63.1-67-32.5-29.9-71.3-50.8-39.9-21.6-85-24.5-45.2-1.6-85.6 19M343.9 685.3q26.6-36.7 58.1-69.3 30.1-31.6 66.8-55.4 37.2-24.5 81.2-31 44-5.3 84.3 13.5M643.6 668.9q-28.3-35-61.4-65.4-31.9-29.5-69.8-50.5-39.2-21.8-83.7-25.7-44.5-2.8-84.8 16.3M337.9 682.2q25.9-35.7 56.3-67.5 30.2-31.8 66.8-55.8 36.6-24.3 79.9-31.6 43.1-6 83.2 11.4M649.7 665.8q-27.6-34-59.8-63.8-31.8-29.6-69.8-50.9-38.5-21.7-82.3-26.2-42.9-3.5-82.4 13.7M331.8 679.3q25.9-35.5 56.3-67.3 28.9-30.3 63.6-53.6 36-24.5 78.5-32.8 43.1-7.2 83.7 9.1M655.7 663q-27.5-34-59.6-63.6-30.6-28.4-66.7-49.1-37.1-21.5-79.5-27.2-42.9-4.9-83 10.9M325.8 676.7q25.2-34.6 54.6-65.5 28.9-30.5 63.6-54.1 35.3-24.3 77.1-33.1 42.2-8 82.5 6.9M661.7 660.4q-26.8-33.1-58-62-30.5-28.5-66.6-49.5-36.5-21.3-78.1-27.6-41.3-5.5-80.5 8.6M319.8 674.3q25.1-34.5 54.6-65.3 28.2-29.8 61.9-53 34.7-24 75.6-33.4 40.7-8.4 80.1 4.5M667.7 658q-26.1-32.1-56.3-60.3-29.9-28.1-65.1-49.1-35.7-21.4-76.7-28.6-40.5-6.4-79.5 6.1M313.9 672.1q24.4-33.5 52.8-63.5 28.2-30 62-53.4 33.9-23.9 74.1-33.7 39.8-9.1 79 2.5M673.7 655.9q-26.1-32-56.3-60.2-29.2-27.3-63.4-47.9-34.5-20.9-73.9-28.7-39.6-7.3-78.4 3.7M308 670.1q24.3-33.4 52.8-63.4 27.5-29.2 60.3-52.2 33.3-23.6 72.6-33.9 39-9.6 77.8 .7M679.6 654.1q-25.4-31.1-54.6-58.6-28.5-26.9-61.9-47.4-33.7-20.9-72.4-29.6-38.8-8.1-77.4 1.4M302.1 668.3q23.6-32.4 51.1-61.5 26.8-28.7 58.7-51.6 32.6-23.6 71.2-34.8 38.2-10.5 76.7-1.8M685.5 652.5q-25.3-31.1-54.5-58.4-27.9-26.3-60.3-46.4-33-20.7-70.9-29.7-37.4-8.5-74.8-.6M296.3 666.7q23.6-32.2 51-61.3 26.1-27.9 57-50.3 32-23.4 69.8-35 37.3-11 75.4-3.6M691.3 651.1q-24.6-30.1-52.8-56.8-27.2-25.7-58.7-45.8-31.7-20.3-68-30.1-36.5-9.5-73.7-3.3M290.5 665.4q22.8-31.3 49.3-59.5 26.1-28.1 57-50.7 31.3-23.2 68.3-35.1 36.5-11.5 74.1-5.3M697.1 649.9q-23.8-29.1-51.1-55.1-26.5-25.2-57.1-45.2-31-20.3-66.5-30.7-35.8-10.3-72.6-5.5M284.7 664.2q22.8-31.1 49.3-59.3 25.4-27.3 55.3-49.5 30-22.3 65.2-34.6 35.7-12.2 73-7.5M702.9 649q-23.8-29.1-51.1-55-25.7-24.5-55.4-44-30.3-20.1-65-30.8-34.3-10.4-69.9-7M278.9 663.3q22.2-30.1 47.6-57.5 25.4-27.5 55.4-49.9 29.9-22.5 65.2-35.2 34.1-11.9 70.1-8.5M708.6 648.4q-23.1-28.2-49.4-53.4-25-24-53.8-43.3-29.6-20.1-63.6-31.4-32.7-10.7-67.1-8.9M273.2 662.6q22.1-30.1 47.6-57.4 24-25.9 52.1-47.4 29.2-22.5 63.7-35.8 33.3-12.6 68.9-10.6M714.3 647.9q-22.4-27.2-47.7-51.7-24.4-23.5-52.2-42.6-29-20.1-62.1-31.9-32-11.3-65.9-10.6M267.6 662.1q21.4-29.1 45.8-55.6 24.1-26 52.1-47.7 28.6-22.3 62.1-35.7 32.6-13 67.6-12M720 647.7q-21.7-26.3-46.1-50-23.6-23-50.6-41.9-27.6-19.5-59-31.7-31.2-12.1-64.7-12.9M262 661.8q21.3-29 45.7-55.4 23.4-25.3 50.4-46.4 27.3-21.4 59.1-35 31.8-13.5 66.3-13.9M725.6 647.7q-41.5-51.6-95-90.6-26.8-19.1-57.4-31.5-29.8-12-61.8-13.8M256.4 661.7q20.6-28 44.1-53.6 22.6-24.7 48.8-45.5 26.5-21.3 57.5-35.4 31-14 64.9-15.7M731.1 648q-40.2-49.9-91.6-88.1-25.5-18.6-54.4-31.2-29-12.6-60.5-15.8M250.8 661.8q20.6-28 44.1-53.5 21.9-23.8 47.1-44.1 25.9-21 55.9-35.2 30.3-14.2 63.6-16.8M736.7 648.5q-39.6-49-90-86.8-24.8-18.2-52.8-30.9-27.6-12.4-57.6-16.4M245.3 662.1q38.7-53.8 89.5-96.1 25.2-20.6 54.3-34.9 28.9-14 60.7-17.7M742.1 649.2q-38.3-47.4-86.6-84.3-24.1-18-51.3-31-26.2-12.4-54.7-17.4M239.9 662.5q37.5-51.8 86.1-93.2 24.5-20.5 52.8-35.1 28.1-14.4 59.3-19.1M747.6 650.1q-37.1-45.6-83.4-81.7-22.7-17.3-48.1-30.3-25.5-12.9-53.4-18.9M234.5 663.2q36.8-50.8 84.4-91.7 23.8-20 51.2-34.6 27.3-14.6 57.8-20.1M753 651.2q-35.8-43.9-80.1-79-22.7-17.7-48.1-31.1-24.1-12.5-50.4-19M229.1 664.1q36.2-49.9 82.7-90.2 23.1-19.6 49.6-34.2 25.9-14.2 54.8-20.5M758.3 652.6q-34.4-42.2-76.8-76.4-21.2-16.9-45-30.1-23.3-13-48.9-20.4M223.8 665.2q34.9-48 79.4-87.3 22.4-19.4 48-34.2 25.2-14.6 53.4-21.7M763.6 654.1q-33.1-40.5-73.5-73.6-40.1-33.5-89.4-50.6M218.5 666.5q34.2-47.1 77.7-85.7 21.6-19 46.4-33.7 23.8-14.2 50.4-21.8M768.9 655.9q-31.8-38.8-70.2-70.9-38.3-32.3-84.8-50.3M213.2 668q33-45.3 74.4-82.8 21-18.7 44.9-33.6 23.1-14.3 48.9-22.7M774.1 657.9q-30.4-37.1-67-68.1-36.2-31.2-80.1-49.9M208 669.6q32.3-44.2 72.7-81.1 20.3-18.3 43.3-33 21.7-13.8 45.8-22.5M779.3 660.1q-29.1-35.3-63.8-65.3-34.3-30-75.5-49.1M202.8 671.5q31.1-42.4 69.5-78.2 19.6-17.9 41.7-32.6 20.9-14 44.3-23.3M784.4 662.6q-27.8-33.7-60.5-62.5-32.3-28.7-70.9-48.1M197.7 673.5q30.4-41.4 67.8-76.5 36.1-34.3 81.3-54.7M789.5 665.2q-26.4-32-57.3-59.6-30.3-27.4-66.2-46.8M192.6 675.7q29.1-39.6 64.6-73.4 34.8-33.6 78.2-54.8M794.5 668q-25-30.2-54-56.7-28.4-25.9-61.6-45.2M187.6 678.1q27.8-37.7 61.3-70.3 33.5-32.9 75.1-54.6M799.5 671q-23.7-28.5-50.8-53.7-26.4-24.4-56.9-43.4M182.6 680.7q27.1-36.8 59.7-68.7 31.5-31.2 70.3-52.7M804.4 674.3q-21.6-26-46.1-49.3-24.3-23.1-52.1-41.8M177.7 683.4q25.7-34.9 56.4-65.4 30.3-30.5 67.2-52.3M809.3 677.7q-39.6-48.7-90.4-85.6M172.8 686.3q25-33.9 54.7-63.7 28.4-28.7 62.6-50M814.1 681.3q-36-44-81-78.7M167.9 689.4q23.7-32 51.6-60.5 27-27.7 59.4-49.1M818.9 685.1q-32.9-40-73.2-72.6M163.1 692.7q22.4-30.2 48.4-57.2 25.1-26.2 54.7-47.1M823.7 689.1q-29.8-36-65.4-66.2M158.4 696.1q21-28.3 45.2-53.9 23.8-25.1 51.5-45.7M828.3 693.3q-25.8-31.2-56-58.2M153.7 699.7q19.6-26.4 42.1-50.5 22.3-24.1 48.3-44.3M833 697.6q-21.9-26.3-46.9-49.8M149 703.5q36-49.4 82.7-88.6" fill="none" stroke="#000" stroke-opacity=".78" stroke-width="1.5"/>
<path d="M490.3 817.5q-31.9-41-69.7-76.5-37.8-36-84.2-59.5-24.1-11.8-50.3-17-25-4.8-50.3-1.4-26 3.7-49.4 15.6-22.8 11.8-42 28.7M490.3 817.5q31.8-44.9 70.1-84.3 36.7-38.6 83.2-64.3 24-12.9 50.6-18.4 26.7-5.4 53.4-.4 26.4 5.2 49.4 19.4 22.3 13.8 40.6 32.7M837.6 702.2q-18.5-22.2-39.2-42.5M144.4 707.4q33.6-45.9 76.4-83.3" fill="none" stroke="#000" stroke-width="1.5" stroke-linejoin="round"/>
<g font-size="11.8" fill="#111"><path d="M146.9 731.8h-4" stroke="#000" stroke-width="2"/><text transform="translate(136.9,742.3) scale(1.739,1)" text-anchor="end">21</text><path d="M142.3 678h-4" stroke="#000" stroke-width="2"/><text transform="translate(132.3,688.5) scale(1.739,1)" text-anchor="end">37</text><path d="M137.8 624.2h-4" stroke="#000" stroke-width="2"/><text transform="translate(127.8,634.7) scale(1.739,1)" text-anchor="end">53</text><path d="M133.2 570.4h-4" stroke="#000" stroke-width="2"/><text transform="translate(123.2,580.9) scale(1.739,1)" text-anchor="end">69</text><path d="M128.7 516.6h-4" stroke="#000" stroke-width="2"/><text transform="translate(118.7,527.1) scale(1.739,1)" text-anchor="end">85</text><circle cx="490.4" cy="895.3" r="1.7"/><text transform="translate(498.9,906.3) scale(1.739,1)">2.00</text><circle cx="575.2" cy="871.1" r="1.7"/><text transform="translate(583.7,882.1) scale(1.739,1)">4.00</text><circle cx="660" cy="846.9" r="1.7"/><text transform="translate(668.5,857.9) scale(1.739,1)">6.00</text><circle cx="744.8" cy="822.7" r="1.7"/><text transform="translate(753.3,833.7) scale(1.739,1)">8.00</text><circle cx="829.6" cy="798.5" r="1.7"/><text transform="translate(838.1,809.5) scale(1.739,1)">10.00</text><circle cx="490.4" cy="895.3" r="1.7"/><text transform="translate(480.9,906.3) scale(1.739,1)" text-anchor="end">1.00</text><circle cx="405.8" cy="871.1" r="1.7"/><text transform="translate(396.3,882.1) scale(1.739,1)" text-anchor="end">2.25</text><circle cx="321.2" cy="847" r="1.7"/><text transform="translate(311.7,858) scale(1.739,1)" text-anchor="end">3.50</text><circle cx="236.6" cy="822.8" r="1.7"/><text transform="translate(227.1,833.8) scale(1.739,1)" text-anchor="end">4.75</text><circle cx="152" cy="798.6" r="1.7"/><text transform="translate(142.5,809.6) scale(1.739,1)" text-anchor="end">6.00</text></g>
<text transform="translate(830,889.8) scale(1.589,1)" font-size="17.8" text-anchor="end">A: pH</text>
<text transform="translate(65,889.8) scale(1.589,1)" font-size="17.8">D: Ammonium nitrate</text>
<text transform="translate(497.5,506) scale(1.11,1)" font-size="57" font-weight="bold" text-anchor="middle">b</text>
<text transform="translate(30.2,662.3) rotate(-90) scale(0.566,1)" font-size="30" text-anchor="middle">EI24 (%)</text>
</g>
<g id="pg">
<path d="M979.6 526.8L1323.5 478.9L1666.6 526.8L1644.2 812.9L1322.8 910.9L1002.2 812.9z" fill="#ff0"/>
<path d="M979.6 526.8L1323.5 478.9L1666.6 526.8M1002.2 812.9L1323.6 736.4L1644.2 812.9" fill="none" stroke="#330" stroke-width="1.1" stroke-dasharray="3.2 2.2"/>
<path d="M1323.5 478.9L1323.6 736.4" fill="none" stroke="#442" stroke-width="1"/>
<path d="M1666.6 526.8L1644.2 812.9M979.6 526.8L1002.2 812.9" fill="none" stroke="#221" stroke-width="1.1"/>
<g fill="none" stroke-width="1.1" opacity=".85"><path d="M1349.6 902.7q-32.3-.9-64.5-3.3M1320.9 737l6.2 .2" stroke="#3e3"/><path d="M1394 889.2q-90.1 .8-179.3-11.3M1040.6 824.7q-9.2-7.1-11.4-18.2M1286 745.3q45.3 .3 90.5 3.7M1618.6 806.8q6.3 4.5 10.9 10.6" stroke="#3e3"/><path d="M1461.8 868.5q-104.3 10.1-208.5-2.3-50.5-5.5-99.6-18.6-24.7-6.5-47.3-18.2-11.8-5.8-19.4-16.3-6.3-12 4.1-21.3M1232.5 758.1q93.7-5.3 186.8 6.9 46.9 5.7 92.3 18.6 22.3 6.3 42.7 17.2 10.7 5.6 17.9 15.1 6.2 10.2-1.5 19.4" stroke="#5e2"/><path d="M1488.2 832.5q-11.1 6.1-23.5 9.2-11.5 3-23.2 4.9-22.2 3.6-44.7 5-44.8 2.6-89.5-.6-45.7-2.8-90.3-12.9-22.3-4.9-42.7-14.7-5.3-2.7-9.9-6.3-4.5-3.4-6.6-8.5-1.8-6.1 2.6-10.9 3.5-3.7 8-6.2 21.3-10.3 44.9-13.5 22.3-3.6 44.8-5 45.3-2.7 90.6 .5 45.5 2.8 89.8 12.9 22.2 4.8 42.6 14.5 5.2 2.6 9.8 6.1 4.6 3.4 7 8.5 2 5.7-1.8 10.4-3.3 4.1-7.9 6.6" stroke="#b4ff00"/></g>
<path d="M1002.2 812.9L1322.8 910.9L1644.2 812.9" fill="none" stroke="#220" stroke-width="1.3" stroke-dasharray="3.2 1.4"/>
<g><path d="M1654.2 685q-33.6-32.2-73.6-55.8-40.4-23.8-86.5-31.2-47.1-6.8-92.2 8.2-42.9 14.9-78.4 43.2-33.5-38.8-78.9-62.3-46.5-22.8-97-12.2-25 5.8-47.3 18.4-22.1 12.6-41.4 29.2-37 32.6-66 72.5 43.3-27.2 94.3-24.6 50 4.4 92.9 30.8 43 26.1 78.6 61.7 34.4 34 64.1 72.1 28.1-47.1 62.2-90.1 33.7-43.5 77.7-76.4 21.9-16.1 47.4-25.5 25.5-9.5 52.5-7.6 27 2.5 50.5 16.3 23 13.6 41.1 33.3z" fill="#00c9ff"/><path d="M1309.9 819q-30.4-37.4-65.9-70-33.7-31.2-73.9-53.4-42.1-23.6-90.2-25.5-47.1-.2-87 24.9 30.5-42.2 70.2-75.9 38-32.9 86.5-44.6 50.7-9.9 97 13.6 44.1 23.4 76.9 61.3 37.1-29.6 82.2-44.4 44.4-13.9 90.4-6.7 46.3 7.9 86.6 32.2 38.8 23.2 71.5 54.5-18.1-19.7-41.1-33.3-22.5-13.2-48.5-16.1-26.9-2.4-52.4 6.6-24.1 8.6-45.1 23.2-42.5 30.4-75.2 71.1-32.7 39.8-59.9 83.5l-22.1-1z" fill="#00dfff"/><path d="M1304.4 812.4q-30.2-36.4-65.5-68-33.6-30.2-73.5-51.2-41.2-22-87.6-23.1-46 .4-84.9 24.9 30.5-42.2 70.2-75.9 38-32.9 86.5-44.6 50.7-9.9 97 13.6 44.1 23.4 76.9 61.3 37.1-29.6 82.2-44.4 44.4-13.9 90.4-6.7 46.3 7.9 86.6 32.2 38.8 23.2 71.5 54.5-18.1-19.7-41.1-33.4-21.8-12.7-46.8-15.8-25.7-2.7-50.3 5.2-24 7.8-45 21.8-42.4 29.2-75.2 69-32.7 39-59.9 82l-31.5-1.4z" fill="#00f4ff"/><path d="M1298.8 805.8q-29.4-34.6-63.5-64.4-33.5-29.7-73.4-50-40.5-20.7-85.7-21.3-45.1 .9-83.3 24.9 30.5-42.2 70.2-75.9 38-32.9 86.5-44.6 50.7-9.9 97 13.6 44.1 23.4 76.9 61.3 37.1-29.6 82.2-44.4 44.4-13.9 90.4-6.7 46.3 7.9 86.6 32.2 38.8 23.2 71.5 54.5-17.5-18.9-39.5-32.4-21.6-13.1-46.6-16.6-25.6-3.1-50.3 4.4-24 7.5-45 21.2-42.4 28.6-75.2 68.1-31.4 37-57.6 77.9l-41.2-1.8z" fill="#00fff1"/><path d="M1293 799.1q-29.2-33.5-63-62.3-33.4-28.6-72.9-47.7-39.4-19.1-83.1-19-43.9 1.5-81.1 24.9 30.5-42.2 70.2-75.9 38-32.9 86.5-44.6 50.7-9.9 97 13.6 44.1 23.4 76.9 61.3 37.1-29.6 82.2-44.4 44.4-13.9 90.4-6.7 46.3 7.9 86.6 32.2 38.8 23.2 71.5 54.5-17.4-18.9-39.3-32.2-21.5-13.1-46.3-16.7-25.4-3.2-50 4.1-22.6 6.8-42.7 19.5-42 27.3-74.6 65.7-31.2 36-57.3 76l-51-2.3z" fill="#00ffd2"/><path d="M1287 792.4q-29.1-32.7-62.9-60.5-32.5-26.8-70.7-44.5-39.5-18.3-82.9-17.2-42 2.4-77.6 24.8 30.5-42.2 70.2-75.9 38-32.9 86.5-44.6 50.7-9.9 97 13.6 44.1 23.4 76.9 61.3 37.1-29.6 82.2-44.4 44.4-13.9 90.4-6.7 46.3 7.9 86.6 32.2 38.8 23.2 71.5 54.5-16.7-18.1-37.6-31.2-20.6-12.9-44.4-17.2-25.1-4-49.8 2.5-22.5 6.1-42.5 18.2-41.9 26.1-74.4 63.5-31.3 35.1-57.3 74.3-30.6-.9-61.2-2.7z" fill="#00ffb3"/><path d="M1280.9 785.7q-28.2-30.8-60.7-56.9-32.5-26.2-70.6-43-38.7-17.1-80.9-15.5-41 2.8-75.8 24.7 30.5-42.2 70.2-75.9 38-32.9 86.5-44.6 50.7-9.9 97 13.6 44.1 23.4 76.9 61.3 37.1-29.6 82.2-44.4 44.4-13.9 90.4-6.7 46.3 7.9 86.6 32.2 38.8 23.2 71.5 54.5-16.7-18.1-37.6-31.2-20.6-12.9-44.5-17.2-24.1-3.9-47.8 2.1-22.4 5.7-42.4 17.4-40.6 24.6-72.2 60.1-31.2 34.2-57.2 72.6-35.9-.9-71.6-3.1z" fill="#00ff95"/><path d="M1274.5 778.9q-28.1-29.9-60.5-54.9-31.5-24.4-68.3-39.8-37.8-15.9-78.7-13.8-40.1 3.2-74.1 24.6 30.5-42.2 70.2-75.9 38-32.9 86.5-44.6 50.7-9.9 97 13.6 44.1 23.4 76.9 61.3 37.1-29.6 82.2-44.4 44.4-13.9 90.4-6.7 46.3 7.9 86.6 32.2 38.8 23.2 71.5 54.5-16.8-18.1-37.6-31.3-19.8-12.3-42.6-16.8-23-4.1-45.8 .9-22.3 4.9-42.2 16-40.5 23.3-72.1 57.8-31.1 33.4-57.1 71-41.2-1-82.3-3.7z" fill="#00ff76"/><path d="M1267.9 772.1q-27.9-28.9-60.3-52.8-30.5-22.7-65.9-36.7-37-14.6-76.6-12-39 3.5-72.2 24.4 29.7-41 68-74.1 37.8-33.3 86.3-45.9 50.5-10.7 97 11.9 44.1 22.6 77 60l5.5 .1q37.3-29.1 82.5-43.1 43.8-12.8 88.7-5.3 45.2 8.1 84.7 31.8 38.9 23.3 71.6 54.6-16.1-17.4-35.9-30.2-18.9-12.1-40.7-17.1-22.6-4.9-45.4-.7-22.2 4.2-42.1 14.7-40.3 21.9-71.8 55.4-31.1 32.4-57 69.2-46.7-1-93.4-4.2z" fill="#00ff57"/><path d="M1261.1 765.2q-27.9-27.8-60-50.6-30.4-21.6-65.5-34.2-74.9-26.1-142.7 14.6 29.7-41 68-74.1 37-32.6 84.4-45.4 49.1-11.3 95.1 9.7 44.3 21.3 77.4 58l13.5 .4q36.7-27.6 80.7-40.5 43.8-12.1 88.5-4.1 45.2 8.7 84.4 32.8 37.5 22.8 69.3 53.2-16.1-17.3-35.9-30.2-18.8-12.1-40.6-17.1-44.8-8.4-85.5 12.9-40.2 21.2-71.6 54.2-29.8 30.5-54.8 65.1-52.4-.9-104.7-4.7z" fill="#00ff38"/><path d="M1254 758.3q-26.8-25.9-57.6-46.8-30.3-20.8-65.1-32.6-72.9-23.5-138.4 16.1 28.9-39.9 65.9-72.4 37-33.1 84.4-46.6 49.1-12 95.3 8.3 43.2 20.2 75.8 55.2l21.7 .7q37.1-26.8 81.3-38.5 43.2-10.7 87-2 44.2 9.4 82.6 33.3 36.4 22.5 67.3 52-15.4-16.6-34.2-29.1-17.9-11.8-38.6-17.3-44.1-10-85 10-39.9 19.8-71.3 51.7-29.7 29.5-54.6 63.3-58.3-.9-116.5-5.3z" fill="#00ff1a"/><path d="M1246.5 751.3q-25.8-23.9-55.3-43.2-29.4-19.4-62.9-30.1-69-21.2-131.6 14.7l-1-1.5q28.9-39.2 65.8-70.9 35.4-30.7 80.1-43.9 47.7-12.3 93.2 6.4 43.2 18.9 75.9 53.1l30.3 .9q36.6-25.4 79.8-35.9 42.6-9.7 85.3-.8 43.1 9.5 80.7 32.8 36.4 22.5 67.4 52.1-29.3-32.8-70.9-45.9-42.5-10.6-82.6 7.6-39.7 18.4-71 49.1-29.6 28.6-54.4 61.4-64.5-.7-128.8-5.9z" fill="#0f0"/><path d="M1238.7 744.3q-24.8-22-52.8-39.6-27.6-17.4-58.6-27-64.8-19.7-124.7 11.7l-2.6-3.8q28.3-37.3 64.1-67.4 34.8-29.6 78.5-42.1 45.7-11.5 89.7 5.7 42.3 17.7 74.7 50.4l39.1 1.2q37-24.5 80.3-33.7 42-8.3 83.7 1.3 42.1 10.1 78.8 33.2 35.2 22.1 65.3 50.8-28.7-32.2-69.5-45.5-41.3-11-80.9 5.8-38.4 16.9-69 45.8-29.7 27.6-54.5 59.7-70.9-.6-141.6-6.5z" fill="#0f0"/><path d="M1230.4 737.2q-23.8-20.2-50.6-36.2-25.7-15.3-54.4-23.9-60-17.6-116.4 9-2.9-2.6-4.6-6.1 27.5-35.3 62-63.6 34.7-29 78.2-40.8 44.7-10.6 87.6 6.1 39.9 16.6 70.9 46.8l48.4 1.5q36.3-22.8 78.5-31 40.9-7.3 81.5 2.3 40.8 10 76.4 32.3 35.4 22 65.6 50.7-28-31-67.4-44.4-39.6-11.2-78.2 3.9-38 15.4-68.4 43.1-29.5 26.4-54.1 57.5-77.7-.4-155-7.2z" fill="#0f0"/><path d="M1221.6 729.9q-43.9-36.5-98.2-53.4-54.9-15.5-107.5 6.4-4.6-3.4-7-8.5 27.5-34.3 61.9-61.5 33.1-26.4 73.9-37.3 42.4-10.1 83.4 4.6 39.9 15.3 71.1 44.6 28.9 .5 57.9 1.8 35.8-21.2 76.8-28.3 40.1-6.3 79.6 3.5 39.6 10.1 74.3 31.7 33 20.8 62 46.9-27.9-29.3-66.3-41.3-37.9-9.7-74.6 4.3-36.8 14.5-66.4 40.9-28.2 24.6-51.9 53.7-84.7-.2-169-8.1z" fill="#0f0"/><path d="M1212 722.6q-40.5-31.7-89.6-46.3-50.1-14-98.8 3.6-6.9-4.1-10-11.2 26.7-32.4 60-57.9 32.4-25.2 72-35.4 41.6-9.7 81.8 4.5 37.7 14.2 67.6 41.3 34 .4 68 2.1 70.7-39.4 149.5-21.8 38.5 9.6 72.5 30.3 16.3 9.8 31.4 21.2 14.8 11.7 29.4 23.5-26.9-26.8-63.2-37.6-36.9-9.2-72.7 4.1-35.4 13.7-64.2 38.6-26.9 22.8-49.6 49.9-92.3 .2-184.1-8.9z" fill="#0f0"/><path d="M1201.6 715q-37.2-26.8-81.1-39.2-44.5-12-88.5 1.2-9.6-4.5-13.6-13.9 26-30.5 58.1-54.5 31.7-23.8 70.1-33.5 39.5-8.9 78 3.9 36.7 13 66.2 38.5 39.2 .4 78.4 2.5 68.9-35.8 144.4-18.2 36.2 9.2 68.3 28.2 16.4 9.6 31.6 20.8 14.3 10.7 28.2 21.9-26.7-25.1-61.9-34.5-35-7.9-68.9 4.5-32.7 12.2-59.8 34.5-26.8 21.7-49.4 47.8-100.3 .6-200.1-10z" fill="#0f0"/><path d="M1189.9 707.2q-33.6-22-72.4-32.2-37.8-9.5-75.7-.7-5.9-2.8-11.1-6.7-5.6-3.8-7.2-10.2 25-28.4 55.6-50.6 30.8-22.5 67.6-31.7 38.2-8.6 75.5 3.1 35.4 11.8 64.1 35.7 44.8 .3 89.6 2.8 66.8-32 138.7-14.7 35 9.1 66.2 27.3 15.1 8.8 29.3 19.1l14.8 11.1q7.1 3.6 12.4 9.4-25.8-22.8-59.1-31.1-33.2-7-65.4 4.2-31.5 11.3-57.8 32.2-25.6 20-47.4 44.2-109.2 1.2-217.7-11.2z" fill="#0f0"/><path d="M1176.4 699.1q-28.2-16.4-59.8-24.3-31.4-7.7-63.2-2.8-7.8-3.1-14.9-7.6-8-4.3-9.8-12.7 25-27.5 55.6-48.5 29.1-20.1 63.4-28.3 36.1-8 71.6 2.4 34.2 10.7 62.4 32.9 50.7 .2 101.2 3.3 64.4-28.1 132.6-11.3 33.6 8.9 63.8 26.3 15 8.6 29.1 18.7 6.1 4.9 12.9 8.5 6.7 3.5 11.3 9.3-25.4-20.8-57.4-27.8-31.2-5.8-61.3 4.4-30 10.5-55.3 29.9-24.2 18.2-44.8 40.3-119.2 1.9-237.4-12.7z" fill="#0f0"/><path d="M1159.4 690.2q-43.1-21.6-91-19.9-10.9-3.5-20.9-8.8-5-2.7-9.2-6.6-4.1-3.6-4.2-9 24.4-25.6 53.9-45.1 28.5-18.9 61.7-26.3 34.3-7.1 68 2.4 32.2 9.5 59.1 29.7 57 .1 113.8 3.7 61.8-24.2 126.1-7.8 31.5 8.5 60 24.6 14.1 7.8 27.3 17 6.5 4.2 13.4 7.7 6.5 3.4 10.3 9.5-51-38.1-111.8-20.3-28.7 9.5-53.2 27.4-22.8 16.6-42.5 36.8-131 2.7-260.8-15z" fill="#0f0"/><path d="M1039.8 640.2q23.5-23.7 51.6-41.6 27.5-17.5 59.4-24.3 32-6.4 63.7 1.7 31 8.4 57.2 27 63.7-.2 127.2 4.2 59.1-20.4 119.6-4.2 29.1 8 55.5 22.6 12.9 7.1 25.3 15.2 6.9 2.7 13.2 6.5 6.7 3.6 9.9 10.2-48.3-33-104.5-17.1-27.3 8.5-50.8 25-21.4 14.8-40.1 33-101.1 2.4-201.7-6.9-25.9-2.4-51.6-5.8l-24.5-3.6q-11.8-1.5-23.2-4.8-12.1-3.6-24.6-5.4-12-1.5-23.4-5.5-12.1-3.7-23.5-9.2-5.5-2.8-10.2-6.8-5.1-4-4.5-10.2z" fill="#0f0"/><path d="M1045.8 634.4q22.7-21.9 49.6-38.2 25.8-15.7 55.3-21.9 31.1-6.3 62 1.2 28.8 7.4 53.6 23.9 71-.5 141.8 4.9 56.1-16.5 112.5-.7 26.9 7.7 51.5 20.9l12.5 7.1q5.7 3.5 12.1 5.7 6.3 2.6 12 6.4 6.2 3.5 8 10.1-45.9-28.2-97.8-13.7-25 7.6-46.7 21.9-20.2 13.3-38 29.7-101 2.9-201.7-6-51-4.3-101.4-13.4-25-4.5-49.2-11.8-11.7-3.5-22.6-8.9-5.6-2.8-10.2-7-4.8-4.2-3.3-10.2z" fill="#13ff00"/><path d="M1052.1 628.5q21.8-20 47.5-34.7 25-14.4 53.2-19.9 57.8-9.4 107.8 21.9 79.1-.8 157.9 5.6 51.9-12.2 103.1 2.5 25.8 7.5 49.5 20.1 5.9 3.6 12.4 5.5l11 4.6q5.6 2.5 10.4 6.2 5.4 3.7 5.6 9.9-43.2-23.5-90.6-10.4-43.7 14-77.9 45-102.6 3.6-204.8-5.2-50.3-4.1-99.9-12.8-24.7-4.3-48.8-11.4-12.2-3.5-23.5-9-5.8-2.8-10.4-7.2-5-4.6-2.5-10.7z" fill="#2cff00"/><path d="M1254.5 592.2q88.3-1.2 176.3 6.7 47.7-8.2 94 5.9 11.6 3.5 22.7 8.1l12.5 5.5q4.5 2.4 9.4 3.6 11.2 3.3 21.6 8.4 5.2 2.6 9.5 6.5 4.8 4 3.1 9.8-39.5-18.6-81.7-7.4-39.7 11.8-71.5 38.5-79.1 3.3-158.1-.9-76.7-3.5-152.4-16.4-20-3.5-39.6-8.7-18.8-4.5-35.4-14.1-4.8-2.8-7.2-7.6-1.9-5.7 3.2-9.2l14.4-11.3q15.5-11.6 32.8-20.4 74-36.6 146.4 3z" fill="#45ff00"/><path d="M1247.9 588.7q91.7-1.7 183 6.5 12.5 2 25 .8 11.7-.5 23.5 .3 22.4 1.7 44 8.1 11.3 3.3 22.3 7.8 10.2 3 20.5 6 10.8 3.2 20.7 8.5 5.2 2.6 8.9 7 3.6 4.8 .1 9.6-35.8-13.9-73.1-4.3-34.5 9.8-63.1 31.6-76.9 4-153.9 .4-75.6-2.9-150.4-14.5-38.4-5.2-74.6-18.7-9.4-3.4-16-10.7-3.2-4.7 .2-9.3 3.2-3.3 7.2-5.9 14.6-11.2 30.8-20 34-18.9 72.9-20.4 38.1-.4 72 17.2z" fill="#5eff00"/><path d="M1240.7 585.3q93.1-2.3 185.9 5.9 23.6 2.4 47.2 4.8 22 1 43.3 6.7 11.6 2.9 23.5 5.4 10.5 2.5 20.9 5.8 11 3.3 20.9 8.9 5.2 2.8 8 7.9 1.6 5.8-3.6 9.4-30.7-9.2-62-1.6-29.4 7.7-54.5 24.8-150.2 9.2-299.3-11-36.9-4.9-72.6-15.5-9.1-2.9-17.5-7.2-4.3-2.1-7.8-5.3-3.7-3.1-3.4-7.7 2.2-6 8.2-9l6.2-4.3 14.5-9q33.1-19.5 71.3-22.6 37.1-2 70.8 13.6z" fill="#7f0"/><path d="M1232.7 581.9q94-2.9 187.7 5.1 46.8 3.8 93 12.1 23 4 45.1 11.1 11.3 3.4 20.8 10.1 5.4 3.6 4.3 9.6-2.6 5-7.9 7.4-24.5-4.8-48.9 .8-23.2 5.5-43.9 17.4-147.4 10.7-294.2-7.4-36.9-4.5-72.9-13.5-17.9-4-33.7-13.3-4.2-2.6-5.8-7.1-.6-4.8 3.5-7.8 7.2-5.3 14.9-9.8 32-19.7 69.2-24.4 35.6-3.5 68.8 9.7z" fill="#90ff00"/><path d="M1560.2 635.3q-31.4-1.4-60.2 11.6-72.6 7.3-145.7 5.8-72.2-.9-143.9-8.7-36-3.8-71.5-10.9-17.8-3.6-35-9.6-8.6-2.9-16-7.9-9.3-7-.9-14.3 31.2-20.8 67.8-27.8 35.1-5.9 68.9 5.2 96.3-3.7 192.4 4.3 48 3.8 95.3 12.4 23.6 4.1 46.2 12.1 5.7 2.1 11 5.1 5.6 2.8 8.1 8.3 .3 6.6-6.2 9.6-4.9 2.9-10.3 4.8z" fill="#a9ff00"/><path d="M1213 575.6q125.1-6.1 249.5 8.7 31.1 3.7 61.6 10.6 15.4 3.3 30 9.1 7.2 2.7 13 7.8 5.5 7.1-2.5 12.2-14.2 7.8-30.4 10.5-14.8 3-29.7 4.9-30.1 3.7-60.4 5.1-124.1 5.9-247.3-8.8-31.1-3.7-61.6-10.5-15.2-3.3-29.6-9-7.2-2.6-13-7.6-6.1-7 1.9-12.4 14.1-7.8 29.1-13.9 14.7-5.8 30.2-8.6 29.8-5.3 59.2 1.9z" fill="#c2ff00"/><path d="M1548.5 622.5q-29.6 9.3-60.6 11.8-29.7 3.1-59.5 4.2-59.8 2.2-119.7-.4-60.2-2.2-120-10.2-29.8-3.8-59-11.3-14.5-3.4-27.3-10.9-3.3-2-5-5.4-1.2-3.6 1.5-6.4 5.3-4.8 12.1-6.9 15.2-5.9 30.7-10.7 13.9-3.6 28.1-4.6 15.6-.8 31 1.2l29.5-1.6q59.3-2.3 118.5 .2 60.6 2.3 120.7 10.2 29.6 3.9 58.5 11.2 14.5 3.3 27.4 10.4 3.4 2 5.6 5.2 2 3.4-.4 6.6-5 5.2-12.1 7.4z" fill="#dbff00"/><path d="M1540.9 616.7q-28.7 8.8-58.7 11.2-28.6 2.9-57.4 3.9-57.7 2.2-115.5-.3-58.1-2.2-115.8-9.7-28.9-3.7-57.1-10.8-13.8-3.3-26.1-10.1-3.2-1.9-5.1-4.9-1.8-3.5 .8-6.4 5.1-4.8 11.9-6.9 28.1-9.4 57.7-11.2 28.8-2.7 57.6-3.9 57.5-2.1 115 .3 57.9 2.1 115.3 9.6 28.9 3.6 57 10.6 14.2 3.2 26.9 10 3.2 1.7 5.5 4.6 2.3 3.3 0 6.6-4.9 5.2-12 7.4z" fill="#f4ff00"/><path d="M1533 610.8q-27.7 8.4-56.7 10.6-27.6 2.8-55.2 3.8-55.6 2-111.1-.3-56-2.1-111.5-9.3-27.9-3.5-55.2-10.3-13.6-3.1-25.8-9.8-3.1-1.9-4.8-5-1.3-3.4 1.4-6.1 5.1-4.3 11.5-6.3 27.1-8.1 55.3-10.3 27.7-2.8 55.4-3.8 55.6-2.1 111.1 .2 56 2 111.5 9.2 27.8 3.5 55 10.1 13.5 3.1 25.7 9.6 3.2 1.7 5.4 4.6 2 3.3-.5 6.3-4.8 4.8-11.5 6.8z" fill="#fff100"/><path d="M1524.8 604.9q-26.7 7.9-54.6 10-26.4 2.6-53 3.6-53.3 1.9-106.5-.3-53.8-2-107.1-8.8-26.8-3.3-53.1-9.7-12.9-2.9-24.5-9.1-3-1.7-4.9-4.5-1.8-3.2 .8-6 4.8-4.4 11.1-6.3 26-7.7 53.2-9.8 26.6-2.7 53.3-3.7 53.6-1.9 107.2 .3 53.9 1.9 107.4 8.7 26.7 3.3 52.8 9.7 12.9 2.9 24.6 9.1 3 1.6 5 4.4 1.9 3.2-.5 6-4.8 4.5-11.2 6.4z" fill="#ffd700"/><path d="M1516.3 598.9q-25.7 7.5-52.4 9.5-25.3 2.5-50.8 3.3-50.9 1.8-101.7-.2-51.4-1.9-102.4-8.3-25.8-3.1-51-9.2-12.6-2.8-24-8.8-3-1.7-4.7-4.5-1.3-3.3 1.3-5.7 4.8-3.9 10.8-5.7 25.2-7.3 51.5-9.3 25.7-2.5 51.5-3.4 50.7-1.7 101.5 .3 51.8 1.9 103.1 8.4 25.5 3.1 50.5 9.1 12.4 2.8 23.5 8.6 2.9 1.6 4.7 4.2 1.7 3.1-.6 5.7-4.7 4.2-10.8 6z" fill="#ffbe00"/><path d="M1507.3 592.9q-24.5 7.1-50 8.9-24.2 2.3-48.4 3.2-48.4 1.7-96.8-.3-49.7-1.7-98.9-7.9-24.4-3-48.2-8.7-11.9-2.6-22.6-8.3-2.7-1.6-4.3-4.2-1.1-3 1.3-5.2 4.5-3.7 10.2-5.4 24-6.9 49-8.7 24.6-2.4 49.3-3.3 48.6-1.7 97.2 .3 49.5 1.8 98.6 7.9 24.3 3 48.1 8.7 11.9 2.6 22.6 8.3 2.8 1.6 4.3 4.2 1.2 2.9-1.1 5.1-4.6 3.8-10.3 5.4z" fill="#ffa500"/><path d="M1497.9 586.9q-22.7 6.5-46.4 8.2-23.4 2.3-47 3.1-46.7 1.5-93.3-.4-46.2-1.6-92.1-7.3-23.1-2.8-45.8-8.1-11.3-2.4-21.6-7.8-2.6-1.4-4.1-3.9-1.2-3 1.3-5.1 4.4-3.5 9.8-5 23.1-6.5 47.1-8.2 22.9-2.2 45.8-3 46.3-1.5 92.6 .3 46.5 1.7 92.6 7.3 23.3 2.8 46.1 8.1 11.4 2.5 21.7 7.9 2.7 1.4 4.3 3.9 1.2 2.8-1.2 5-4.3 3.5-9.8 5z" fill="#ff8b00"/><path d="M1488 580.9q-21.5 6-43.9 7.6-22.1 2.1-44.2 2.8-43.9 1.5-87.8-.3-44.1-1.6-87.9-6.9-21.7-2.6-42.8-7.6-10.6-2.3-20.1-7.3-2.6-1.4-3.9-3.9-.8-2.8 1.7-4.7 4.2-3 9.3-4.4 21.6-5.9 43.9-7.5 21.6-2.1 43.3-2.8 43.8-1.5 87.6 .3 44 1.5 87.6 6.8 22 2.6 43.4 7.6 10.8 2.3 20.4 7.3 2.5 1.3 3.9 3.7 1.1 2.6-1.2 4.6-4.1 3.3-9.3 4.7z" fill="#ff6500"/><path d="M1477.4 574.8q-20.2 5.5-41.1 7-20.6 1.9-41.4 2.6-40.9 1.3-81.9-.3-41.2-1.4-82.1-6.4-20.3-2.4-40.1-7-10.2-2.1-19.3-6.9-6-3.3-1.7-7.9 4-2.8 8.9-4.1 20.4-5.4 41.5-6.9 20.4-1.9 40.8-2.5 40.6-1.3 81.2 .3 41.3 1.4 82.2 6.3 20.5 2.4 40.6 7.1 10 2.1 18.9 6.7 6.1 3.2 2.2 7.9-4 2.8-8.7 4.1z" fill="#ff3f00"/><path d="M1466 568.7q-18.7 4.9-38.1 6.3-19.1 1.8-38.2 2.4-37.8 1.2-75.6-.3-38.1-1.3-75.9-5.8-18.9-2.2-37.3-6.4-9.3-1.9-17.7-6.1-5.8-2.8-2.3-7.2 3.8-2.8 8.3-4 18.9-5 38.4-6.3 19-1.7 38-2.4 37.8-1.2 75.5 .3 38.3 1.3 76.4 5.9 18.9 2.2 37.5 6.4 9.2 1.9 17.4 6.2 5.5 3 1.8 7.2-3.8 2.6-8.2 3.8z" fill="#ff1900"/><path d="M1453.7 562.5q-17.2 4.4-34.9 5.7-17.4 1.5-34.8 2-34.4 1.1-68.8-.2-34.7-1.2-69.2-5.2-17.5-2-34.7-5.8-8.6-1.8-16.3-5.7-5-2.8-1.4-6.5 3.5-2.4 7.6-3.5 17-4.3 34.6-5.6 17.4-1.5 34.8-2.1 34.6-1.1 69.3 .2 34.6 1.2 69.1 5.3 17.4 1.9 34.5 5.8 8.5 1.7 16.1 5.6 5.2 2.7 1.6 6.6-3.4 2.3-7.5 3.4z" fill="#ff0e00"/><path d="M1440.1 556.2q-30.8 6.6-62.4 6.8-31.2 .9-62.4-.3-30.9-1-61.5-4.6-15.6-1.7-30.8-5.2-7.6-1.5-14.4-5-4.6-2.6-1-5.9 3.2-1.9 6.8-2.8 30.9-6.7 62.7-6.8 30.7-1 61.4 .2 31.1 1.1 62.1 4.7 15.5 1.7 30.8 5.1 7.5 1.5 14.3 5 4.6 2.4 1.2 5.8-3.2 2-6.8 3z" fill="#ff0300"/><path d="M1424.6 549.8q-26.6 5.6-54 5.7-26.9 .8-53.8-.2-27-.9-53.9-4-13.3-1.5-26.5-4.4-6.5-1.3-12.3-4.3-3.9-2.3-.7-5 2.8-1.7 5.9-2.5 26.7-5.6 54.1-5.8 26.8-.8 53.6 .3 27 .9 53.9 4 13.3 1.5 26.3 4.3 6.6 1.3 12.6 4.3 4 2.4 .7 5.1-2.7 1.7-5.9 2.5z" fill="#fc0000"/><path d="M1406.4 543.1q-21.8 4.5-44.1 4.6-21.9 .7-43.7-.1-22.3-.8-44.5-3.3-10.8-1.2-21.5-3.6-5.3-1-10.1-3.5-3.1-2.1-.1-4.1l4.9-1.9q22-4.5 44.4-4.6 21.7-.6 43.4 .2 21.9 .7 43.7 3.2 11.1 1.2 21.9 3.6 5.4 1 10.2 3.5 3.2 1.9 .4 4.1-2.3 1.3-4.9 1.9z" fill="#f90000"/><path d="M1382.7 536.1q-15.4 3.1-31.1 3.2-15.6 .4-31.2-.2-15.7-.5-31.2-2.2-7.6-.9-15.1-2.5-3.8-.7-7.2-2.5-2.2-1.4 0-2.9l3.5-1.3q15.4-3.1 31.2-3.2 15.5-.4 31 .2 15.6 .5 31.1 2.2 7.6 .9 15.2 2.5 3.9 .7 7.3 2.5 2.2 1.5 0 2.9l-3.5 1.3z" fill="#f60000"/></g>
<path d="M1329 824.8q-31.2-39.9-67.6-75-34.9-34-76.9-58.7-21.5-12.5-45.1-20.3-23.6-7.8-48.3-9-50.1-1.3-92.5 25.6M1316.5 827.2q28.1-46.7 61.9-89.3 33.3-42.8 76.7-75.3 22.5-16.6 48.8-26.2 25.7-9.3 52.9-7.1 27.6 2.8 51.4 17.2 22.4 13.7 40.1 33.1M1335.2 815q-31.2-39.7-67.6-74.6-35-33.8-77-58.2-21.6-12.3-45.2-20-23.6-7.6-48.4-8.5-50.3-.9-92.7 26.4M1310.4 819.5q27.3-45.4 60.2-86.9 31.8-40.7 72.4-72.5 21.4-16.4 46.2-26.9 23.8-10 49.6-10.5 26.9 0 51.3 11.7 22.8 11.2 41.2 28.8M1635.8 667.5l6.7 6.8M1341.4 805.4q-31.2-39.6-67.7-74.2-35.5-34.2-78.4-58.5-22.3-12.3-46.6-19.6-23-6.9-47.1-7.3-49.8-.1-91.6 27.2M1304.2 812.1q27.3-45.2 60.2-86.6 31.8-40.5 72.4-71.9 20.8-15.8 44.9-26.1 23.8-10.1 49.6-10.6 26.4-.2 50.3 10.9 22.9 10.8 41.6 28.1M1632.2 664.6l4.4 4.6M1347.6 796q-31.2-39.3-67.7-73.8-35.6-33.9-78.5-57.9-22.3-12.1-46.7-19.2-23.1-6.7-47.1-7-50 .4-91.8 28.1M1298 804.9q26.7-44.1 58.7-84.4 31.8-40.6 72.4-72.2 20.9-15.9 45-26.3 23.2-9.9 48.4-10.8 25.7-.6 49.3 9.6 23.2 10.2 42 27M1626.3 659.6l4.4 4.7M1353.8 786.9q-31.2-39.2-67.7-73.3-35.7-33.8-78.7-57.4-22.3-12-46.7-18.9-23.1-6.5-47.2-6.6-50.2 .9-92 28.9M1291.8 797.8q26.7-43.8 58.7-84 31.2-39.7 71-70.6 20.2-15.5 43.6-25.9 23.3-10.2 48.6-11.6 25.8-.9 49.6 8.8 23.3 9.8 42.3 26.4M1360 778.1q-31.2-39-67.8-72.9-35.7-33.5-78.7-56.8-22.3-11.9-46.7-18.6-23.3-6.3-47.3-6.2-50.4 1.3-92.3 29.6M1285.7 790.9q26.7-43.6 58.6-83.5 30.7-38.8 69.5-69.1 20.3-15.6 43.7-26.1 22.7-10.1 47.4-11.7 25.8-1.4 49.9 8 22.6 9.1 41.4 24.8M1366.2 769.5q-31.2-38.8-67.8-72.5-36.4-33.8-80.2-57-22.4-11.5-46.8-17.8-23.3-6-47.3-5.5-49.8 2.1-91.1 30.4M1279.6 784.3q26.6-43.5 58.6-83.2 30.6-38.6 69.4-68.7 20.4-15.4 43.8-25.7 22.1-9.7 46.1-11.4 25.1-1.4 48.7 7.4 22.8 8.7 41.7 24.1M1372.3 761.2q-31.2-38.6-67.8-72.1-36.4-33.6-80.3-56.4-44.3-23.1-94.1-22.6-50 2.5-91.3 31.1M1273.5 777.8q25.9-42.3 57-81 30.6-38.6 69.5-68.9 20.4-15.6 43.8-25.9 22.1-9.8 46.2-11.6 24.5-1.6 47.7 6.7 22.8 8.3 41.9 23.4M1378.5 753.1q-31.2-38.4-67.9-71.6-36.4-33.4-80.3-55.8-22.5-11.2-46.8-17.2-24.1-5.8-48.8-4.7-49.5 3.3-90.2 31.8M1267.4 771.5q25.9-42.1 57-80.6 30-37.7 68-67.3 19.8-15.2 42.4-25.5 22.2-10.1 46.4-12.4 24.6-1.9 47.9 5.9 22.2 7.8 41 22M1384.6 745.3q-31.8-39-69.4-72.5-36.4-32.8-80.3-54.6-44.6-22.3-94.3-20.5-49.6 3.7-90.3 32.5M1261.3 765.4q25.9-41.9 57-80.2 29.4-36.8 66.5-65.8 19.8-15.3 42.5-25.7 21.5-9.9 45.1-12.4 24.6-2.4 48.1 5.1 22.3 7.4 41.3 21.3M1390.8 737.8q-31.9-38.8-69.4-72-36.5-32.7-80.4-54.2-45.4-22.2-95.7-19.6-49 4.4-89.2 33M1255.2 759.5q25.3-40.7 55.4-78 29.5-36.9 66.6-66.1 19.2-14.8 41.1-25.2 21.6-10.2 45.3-13.1 23.9-2.7 47 4 22.5 6.7 41.6 20.1M1396.9 730.6q-31.9-38.6-69.4-71.6-36.5-32.5-80.5-53.6-45.5-22-95.8-19-49.2 4.8-89.4 33.7M1249.2 753.8q25.2-40.6 55.4-77.6 29.4-36.7 66.5-65.7 19.2-14.7 41.1-24.9 21-9.8 43.9-12.7 48-4.6 87.8 22.9M1403 723.6q-31.9-38.4-69.5-71.2-36.5-32.2-80.4-53-45.7-21.7-96-18.3-49.3 5.1-89.5 34.3M1243.2 748.3q25.2-40.4 55.3-77.3 28.9-35.7 65-64 18.6-14.4 39.7-24.5 21.1-10.1 44.1-13.4 47.1-5.4 87 20.7M1409 716.9q-31.8-38.2-69.4-70.7-37.2-32.6-81.9-53.2-45.9-21-96-16.9-48.6 5.8-88.3 34.9M1237.2 743q24.5-39.2 53.7-75.1 28.9-35.9 65.1-64.3 18.6-14.4 39.7-24.7 20.4-9.9 42.8-13.4 46.3-6.1 86.1 18.5M1415.1 710.4q-31.9-38-69.4-70.2-37.2-32.3-82-52.6-46-20.7-96-16.3-48.8 6.2-88.6 35.5M1231.2 737.8q24.5-39 53.7-74.6 28.3-35 63.6-62.8 17.9-14 38.3-24.2 20.4-10.2 42.9-14.1 46.2-6.9 86.5 17.1M1421.1 704.2q-31.8-37.7-69.4-69.8-37.2-32-82-52-45.5-20.1-94.8-15.8-48.9 6.1-88.8 35.4M1225.2 732.9q24.5-38.9 53.7-74.3 27.7-34 62-61.3 18-14 38.4-24.3 19.8-10 41.6-14.1 45.4-7.6 85.6 15M1427.1 698.3q-31.2-36.8-67.9-68.1-36.6-31.5-80.6-51.5-44.9-20.2-93.8-16.8-47.6 5-87.1 32.2M1219.3 728.1q24.5-38.6 53.6-73.9 27.7-33.8 62-60.8 18-14 38.4-24.1 19.2-9.5 40.2-13.6 44.7-7.8 84.6 13.9M1433.1 692.7q-31.2-36.6-67.9-67.7-35.4-30.2-77.7-49.7-43.6-20-91.4-17.9-47 3.6-86.6 29.3M1213.4 723.6q23.8-37.5 52-71.8 27.7-33.9 62-61.1 17.4-13.5 37-23.5 19.2-9.8 40.3-14.2 43.8-8.5 83.7 11.8M1439.1 687.3q-30.5-35.6-66.3-65.9-34.9-29.8-76.4-49.2-43-20.2-90.4-18.9-46.3 2.7-86 27.1M1207.5 719.2q23.8-37.3 52-71.4 27.1-33 60.5-59.5 17.4-13.6 37-23.8 18.5-9.5 38.9-14.1 43-9 82.8 9.8M1445 682.2q-29.8-34.7-64.8-64.2-34.3-29.3-74.9-48.7-41.8-19.9-87.9-19.8-45.8 1.4-85.5 24.2M1201.6 715q23.2-36.1 50.5-69.2 27-33.1 60.4-59.8 17.4-13.7 37.1-23.9 18.5-9.7 38.9-14.3 42.3-9.2 81.7 8.7M1451 677.3q-29.3-33.7-63.3-62.5-33.7-28.8-73.6-48.1-40.5-19.6-85.4-20.6-45 .1-84.9 21.3M1195.8 711.1q23.1-36 50.4-68.9 26.4-32.2 58.9-58.3 16.8-13.2 35.6-23.3 18.6-9.9 39.1-15 41.4-9.7 80.7 6.9M1456.9 672.7q-29.2-33.5-63.3-62-33.1-28.1-72.1-47-39.2-19-82.8-20.8-43.7-.7-82.9 18.7M1190 707.3q23.1-35.9 50.3-68.6 25.9-31.3 57.4-56.7 32.7-26.8 73.3-38.3 40.7-10.2 79.7 5M1462.7 668.4q-28.5-32.5-61.6-60.4-32.5-27.5-70.7-46.3-38.7-19.1-81.7-21.6-42.3-1.5-80.8 16M1184.2 703.7q23-35.7 50.3-68.2 25.8-31.1 57.4-56.4 32.1-26.1 71.8-37.4 39.9-10.3 78.5 4M1468.6 664.4q-27.9-31.6-60.1-58.8-31.9-27-69.3-45.7-37.4-18.8-79.1-22.2-41.6-2.6-80.1 13.4M1178.4 700.2q22.4-34.5 48.7-66 25.9-31.2 57.4-56.6 31.6-25.8 70.5-37.4 39.1-10.8 77.4 2.2M1474.4 660.6q-27.2-30.7-58.6-57.1-31.3-26.5-67.8-45.1-36.8-18.8-77.8-22.9-41-3.4-79.3 11.5M1172.7 697q22.4-34.3 48.7-65.7 25.1-30.3 55.8-55 31-25.4 69.1-37.4 38.3-11.3 76.3 .5M1480.2 657.1q-27.2-30.5-58.6-56.7-30-25.2-64.8-43.3-36.2-18.8-76.6-23.5-39.5-4-77.1 9.1M1167 694q21.7-33.2 47.1-63.6 25.2-30.4 55.8-55.3 30.4-25 67.7-37.3 37.5-11.7 75.2-1.2M1485.9 653.9q-26.5-29.6-56.9-55.1-29.4-24.7-63.4-42.6-34.9-18.5-74-24-38.1-4.8-74.9 6.3M1161.3 691.1q21.7-33 47-63.2 24.6-29.5 54.3-53.7 30.4-25.2 67.7-37.7 36.8-11.7 74.1-2M1491.6 650.9q-25.8-28.7-55.3-53.5-28.8-24.2-61.9-41.9-33.7-18.1-71.3-24.3-37.5-5.8-74.1 4M1155.7 688.4q21.6-32.8 46.9-62.9 24-28.5 52.8-52.1 29.8-24.8 66.2-37.6 36.1-12 73-3.5M1497.3 648.1q-25.1-27.7-53.8-51.8-28.1-23.7-60.4-41.2-33-18.1-70-24.8-36.1-6.2-71.7 2M1150.1 686q20.9-31.8 45.3-60.9 24-28.6 52.7-52.3 29.2-24.4 64.9-37.5 35.2-12.3 71.8-5M1503 645.7q-24.5-26.8-52.3-50.2-27.4-23.2-58.9-40.6-31.7-17.6-67.2-24.9-35.4-7.1-70.8-.2M1144.5 683.7q20.9-31.6 45.3-60.5 23.3-27.8 51.2-50.9 28.6-24 63.4-37.2 34.4-12.7 70.6-6.5M1508.6 643.5q-23.8-25.9-50.7-48.6-26.8-22.7-57.4-39.9-31.1-17.5-65.9-25.3-34-7.4-68.4-1.9M1138.9 681.5q20.3-30.4 43.8-58.4 23.2-27.8 51.1-51 28-23.6 62-37 33.7-13 69.4-7.9M1514.2 641.5q-23.8-25.7-50.6-48.2-25.5-21.4-54.4-37.9-29.9-17-63.2-25.3-33.3-8.1-67.3-3.9M1133.4 679.6q20.2-30.3 43.7-58.1 22.6-26.9 49.6-49.5 27.4-23.2 60.5-36.7 33-13.3 68.2-9.3M1519.8 639.9q-23.1-24.9-49.1-46.7-24.8-20.9-52.9-37.1-28.5-16.6-60.4-25.3-31.9-8.6-64.9-5.9M1127.9 677.8q20.2-30.1 43.6-57.7 22-26 48.1-47.9 26.7-22.8 59-36.6 32.3-13.4 67-10.5M1525.3 638.4q-22.4-24-47.5-45.1-24.2-20.3-51.4-36.3-27.9-16.5-59-25.5-30.6-8.7-62.3-7.2M1122.4 676.3q19.5-29 42.1-55.7 22-26.1 48-48.2 26.8-22.9 59.1-36.8 31.5-13.3 65.6-11M1530.8 637.2q-42.5-46.2-95.8-79-27.3-16.3-57.6-25.7-29.3-8.9-59.8-8.5M1117 674.9q19.5-28.9 42-55.4 21.3-25.2 46.5-46.6 26.1-22.5 57.6-36.5 30.8-13.5 64.3-12.2M1536.2 636.3q-41.2-44.6-92.7-76.7-25.9-15.7-54.7-25.3-27.9-9.2-57.2-10M1111.6 673.7q18.8-27.8 40.5-53.4 21.2-25.2 46.3-46.7 25.6-22.1 56.2-36.2 30.1-13.7 63-13.4M1541.6 635.7q-40-43.1-89.6-74.4-24.6-15.2-51.8-24.9-27.3-9.6-56-11.4M1106.2 672.6q18.8-27.6 40.4-53 20.7-24.4 44.9-45.2 24.9-21.6 54.6-35.8 29.4-13.9 61.8-14.4M1547 635.2q-38.8-41.4-86.5-71.9-24-15-50.5-24.9-25.1-9.4-51.8-12.1M1100.9 671.8q18.1-26.5 38.8-51 20.7-24.5 44.8-45.4 24.3-21.2 53.2-35.4 28.7-14 60.4-15.4M1552.3 635.1q-37.5-39.9-83.4-69.6-45.1-29.4-98.1-37.5M1095.6 671.1q18.1-26.4 38.8-50.7 19.9-23.6 43.2-43.9 23.7-20.7 51.7-34.9 28-14.1 59.1-16.4M1557.6 635.1q-35.7-37.6-78.8-66.2-43.2-28.8-94-38.6M1090.4 670.6q34.4-51.4 80.4-92.7 23-20.3 50.2-34.5 27.2-14.1 57.7-17.2M1562.9 635.5q-34.5-36.1-75.8-63.8-40.6-27.5-88.3-38.5M1085.1 670.3q33.9-50.3 78.8-90.9 22.4-19.8 48.7-34 26.6-14.2 56.4-18M1568.1 636q-33.2-34.4-72.7-61.3-38.7-26.5-84-38.4M1079.9 670.1q33.3-49.2 77.2-89 22.4-20 48.7-34.2 25.2-13.7 53.5-18M1573.2 636.8q-31.2-32.2-68-57.8-36.8-25.8-79.8-38.8M1074.8 670.1q32.7-48.1 75.6-87.2 21.1-18.9 45.7-32.8 24.5-14 52.1-19.2M1578.4 637.9q-30-30.8-65-55.4-34.2-24.3-73.9-37.8M1069.7 670.3q32.1-47 74-85.4 20.4-18.4 44.2-32.2 23.8-13.9 50.7-19.8M1583.4 639.1q-27.9-28.5-60.3-51.8-32.3-23.4-69.6-37.5M1064.6 670.6q30.9-45 70.9-82.2 20.4-18.7 44.2-32.9 23.1-13.9 49.3-20.3M1588.5 640.6q-26.7-27-57.3-49.3-29.7-21.8-63.7-35.9M1059.5 671.1q30.4-43.9 69.4-80.3 19.7-18.2 42.6-32.3 22.5-13.8 47.9-20.8M1593.5 642.4q-24.7-24.8-52.7-45.7-27.8-20.8-59.4-35.2M1054.5 671.8q29.8-42.9 67.8-78.5 19.1-17.7 41.1-31.6 21.8-13.8 46.5-21.1M1598.4 644.3q-23.3-23.3-49.6-43.1-25.1-19.1-53.4-33M1049.5 672.6q29.2-41.8 66.2-76.7 18.5-17.2 39.6-30.8 21.2-13.7 45.1-21.5M1603.3 646.5q-41.8-42.5-94-71.1M1044.6 673.7q28.5-40.8 64.6-75 18.4-17.2 39.6-31 19.8-12.9 42.1-20.7M1608.2 649q-38.2-38.5-85.1-65.8M1039.7 674.8q27.9-39.7 63-73.1 17.1-16.1 36.6-29.3 19.2-13 40.7-21.3M1613 651.6q-34.6-34.5-76-60.1M1034.8 676.1q26.8-37.7 60-69.9 33.2-32.7 75.8-51.2M1617.8 654.5q-30.2-29.9-65.6-53.3M1030 677.6q26.1-36.7 58.4-68.1 32-31.6 72.8-50.4M1622.5 657.6q-26.3-25.9-56.5-47M1025.2 679.3q25.5-35.7 56.8-66.3 30.3-30 68.5-48.9M1627.2 660.9q-22.4-21.8-47.6-40.4M1020.5 681.1q24.8-34.7 55.2-64.5 29.1-28.9 65.5-47.8M1631.8 664.4q-17.7-17.1-37.1-32.3M1015.8 683q23.6-32.8 52.2-61.3 28.5-28.7 63.9-48M1636.4 668.1q-13.6-13-28.2-25M1011.1 685.1q23-31.7 50.7-59.5 26.7-26.9 59.5-45.9M1640.9 672q-8.7-8.3-17.7-16.1M1006.5 687.4q22.3-30.8 49.1-57.7 25.5-25.9 56.5-44.6M1645.4 676.1l-7.4-6.8M1001.9 689.8q21.1-28.9 46.1-54.5 24.8-25.6 55-44.5M1649.8 680.5q-10-9.5-20.6-18.4M997.4 692.3q20.4-27.9 44.5-52.6 23-23.8 50.6-42.1" fill="none" stroke="#000" stroke-opacity=".78" stroke-width="1.5"/>
<path d="M1322.8 835q-31.2-40.1-67.6-75.5-34.8-34.2-76.8-59.3-21.4-12.6-45-20.6-23.5-8-48.3-9.3-49.9-1.9-92.2 24.7M1322.8 835q28-46.9 61.8-89.7 33.4-43 76.7-75.8 21.9-16.2 47.3-26 25.6-9.8 52.9-8.1 27.6 2.2 51.5 16.2 23 13.7 41.2 33.4M1654.2 685q-16.8-15.9-35.2-30M992.9 695q19.2-26.1 41.5-49.4 22.4-23.4 49.1-41.8" fill="none" stroke="#000" stroke-width="1.5" stroke-linejoin="round"/>
<g font-size="11.9" fill="#111"><path d="M997.3 745.8h-4" stroke="#000" stroke-width="2"/><text transform="translate(987.3,756.3) scale(1.627,1)" text-anchor="end">25</text><path d="M993 691.3h-4" stroke="#000" stroke-width="2"/><text transform="translate(983,701.8) scale(1.627,1)" text-anchor="end">40</text><path d="M988.7 636.8h-4" stroke="#000" stroke-width="2"/><text transform="translate(978.7,647.3) scale(1.627,1)" text-anchor="end">55</text><path d="M984.4 582.3h-4" stroke="#000" stroke-width="2"/><text transform="translate(974.4,592.8) scale(1.627,1)" text-anchor="end">70</text><path d="M980.1 527.8h-4" stroke="#000" stroke-width="2"/><text transform="translate(970.1,538.3) scale(1.627,1)" text-anchor="end">85</text><circle cx="1322.8" cy="911.4" r="1.7"/><text transform="translate(1331.3,922.4) scale(1.627,1)">2.00</text><circle cx="1403.1" cy="886.9" r="1.7"/><text transform="translate(1411.6,897.9) scale(1.627,1)">4.00</text><circle cx="1483.5" cy="862.4" r="1.7"/><text transform="translate(1492,873.4) scale(1.627,1)">6.00</text><circle cx="1563.9" cy="837.9" r="1.7"/><text transform="translate(1572.4,848.9) scale(1.627,1)">8.00</text><circle cx="1644.2" cy="813.4" r="1.7"/><text transform="translate(1652.7,824.4) scale(1.627,1)">10.00</text><circle cx="1322.8" cy="911.4" r="1.7"/><text transform="translate(1313.3,922.4) scale(1.627,1)" text-anchor="end">1.00</text><circle cx="1242.6" cy="886.9" r="1.7"/><text transform="translate(1233.1,897.9) scale(1.627,1)" text-anchor="end">2.25</text><circle cx="1162.5" cy="862.4" r="1.7"/><text transform="translate(1153,873.4) scale(1.627,1)" text-anchor="end">3.50</text><circle cx="1082.3" cy="837.9" r="1.7"/><text transform="translate(1072.8,848.9) scale(1.627,1)" text-anchor="end">4.75</text><circle cx="1002.2" cy="813.4" r="1.7"/><text transform="translate(992.7,824.4) scale(1.627,1)" text-anchor="end">6.00</text></g>
<text transform="translate(1641.5,905.9) scale(1.486,1)" font-size="18.1" text-anchor="end">A: pH</text>
<text transform="translate(964,905.9) scale(1.486,1)" font-size="18.1">E: Beef extract</text>
<text transform="translate(1311.5,505) scale(1.11,1)" font-size="57" font-weight="bold" text-anchor="middle">g</text>
</g>
<g id="pc">
<path d="M126.3 971.5L487.6 922.7L848.2 971.5L824.6 1262.7L486.9 1362.6L150 1262.8z" fill="#ff0"/>
<path d="M126.3 971.5L487.6 922.7L848.2 971.5M150 1262.8L487.7 1184.9L824.6 1262.7" fill="none" stroke="#330" stroke-width="1.1" stroke-dasharray="3.2 2.2"/>
<path d="M487.6 922.7L487.7 1184.9" fill="none" stroke="#442" stroke-width="1"/>
<path d="M848.2 971.5L824.6 1262.7M126.3 971.5L150 1262.8" fill="none" stroke="#221" stroke-width="1.1"/>
<g fill="none" stroke-width="1.1" opacity=".85"><path d="M492.8 1360.8l-14.5-.8M172.2 1269.4q-2.3-5.4-2-11.3M485.1 1185.5l6.1 .2M817.1 1261l3.2 3" stroke="#3e3"/><path d="M528.7 1350.2q-53.6-.9-106.9-6.9M218.6 1283.1q-7.6-6.2-11.9-14.9-4.1-9.3 0-18.5M455 1192.4q39 .1 78 2.9M766.5 1249.3q15.7 8.4 25.4 23.1" stroke="#3e3"/><path d="M575.2 1336.5q-96.8 3.8-192.2-12.4-46-7.4-89.5-23.8-11.3-4.4-21.9-10.3-9.9-5.3-18.2-13-9.3-8.1-9.5-20.1 2.2-11.7 12.2-18.6M412 1202.3q103.2-5.2 205 12.5M673.6 1227.8q25.5 7.1 49.1 19 11.6 5.9 21.2 14.8 4.8 4.6 7.6 10.7 2.5 5.6 1.2 11.7" stroke="#7f0"/><path d="M650.3 1310q-55.7 12.3-112.7 12-55.8 .6-111-6.9-28.7-3.8-56.8-10.7-26.7-6.2-51.5-17.8-13.6-6.1-23.4-17.2-9.2-12.8 1.9-24.1 10.5-9.4 24-14.1 12-4.6 24.6-7.6 55.6-12 112.6-11.7 54.7-.5 108.9 6.8 28.4 3.8 56.4 10.5 27.1 6.2 52.4 17.9 13.3 6 23.2 16.6 9.8 12.1-.2 23.9-10.2 9.8-23.6 14.6-12.1 4.8-24.8 7.8" stroke="#dcff2a"/><path d="M601 1295q-39.4 8.4-79.8 8.1-37.9 .2-75.4-5-19.5-2.7-38.7-7.3-19.1-4.4-36.7-12.9-9.2-4.2-15.7-11.9-6.1-9.6 2.8-17.3 7.6-6.1 16.8-9.2 8.8-3.2 17.8-5.3 39-8.1 78.8-7.7 37.7-.2 75.1 4.9 20 2.8 39.6 7.6 18.1 4.3 34.9 12.1 9.3 4.2 16 11.6 6.8 9.1-1.1 17.2-7.5 6.6-17 9.9-8.5 3.2-17.4 5.2" stroke="#ff9a00"/></g>
<path d="M150 1262.8L486.9 1362.6L824.6 1262.7" fill="none" stroke="#220" stroke-width="1.3" stroke-dasharray="3.2 1.4"/>
<g><path d="M831.7 1175q-33.1-38.5-73.5-69.1-38.9-29.8-85.6-44.2-49.2-14.3-98.8-2.1-47.4 12.9-86.1 43.4-18.9-20.6-41.4-37.2-21.8-16.2-47.3-25.6-52.6-18.1-103.9 3.6-26.4 11.4-49 29.4-20.6 16.2-38.4 35.5-35.6 39-63.4 83.8 36.7-37.3 86.7-52.2 49.3-12.4 97.3 4.6 48.9 18 88.8 51.6 37.8 31.2 69.8 68.5 31.2-49.3 70.2-92.5 19.2-21 41.3-38.9 20.6-16.7 44.5-28.4 26.2-12.8 55.2-14.1 28-.8 53.4 11 25.3 12.2 45.4 31.8 19.4 18.9 34.8 41.1z" fill="#0015ff"/><path d="M148.6 1185.8q28.7-45.2 65.6-83.9 18.7-19.4 40.5-35.2 20.9-15.2 44.8-24.7 51.7-19.9 103.5-.3 25.5 10.2 47.1 26.9 20.3 15.6 37.6 34.4 40.3-31.9 90.1-44.3 48.9-10.9 96.9 3.7 48.1 15.3 87.8 46.7 37.9 29.5 69.2 65.9-16.8-24.2-38.3-44.3-20.3-19-45.7-30.2-26.8-11.4-55.8-9.1-27 2.7-51.2 14.9-26.6 13.4-49.1 32.9-20.9 17.8-39.1 38.3-36.2 41.2-65.6 87.5-32.9-38.4-72.1-70.4-38.2-31.5-84.4-48.9-48-17.7-97.6-5.9-47.8 13.5-83.7 48.2l-.5-2.2z" fill="#002eff"/><path d="M152.2 1180.3q28.7-44.4 65.7-82.2 18.8-18.9 40.7-34.1 20.9-14.6 44.8-23.4 51.1-18.2 101.5 1.9 24.3 10 45.2 26.1 20.3 15.6 37.6 34.4 40.3-31.9 90.1-44.3 48.9-10.9 96.9 3.7 48.1 15.3 87.8 46.7 37.9 29.5 69.2 65.9-16.8-24.2-38.3-44.3-20.3-19-45.7-30.2-26.8-11.4-55.8-9.1-27 2.7-51.2 14.9-26.6 13.4-49.1 32.9-20.9 17.8-39.1 38.3-36.2 41.2-65.6 87.5-32.8-38.4-71.9-70.2-37.2-30.8-82-48.2-46.9-17.9-95.8-7.9-47.8 12-84.1 45.6l-.9-4z" fill="#0047ff"/><path d="M482.4 1259.9q-31.9-36.6-69.7-67-36.4-29.6-80.1-46.4-46-17.5-94.1-8-45.8 10.9-81.2 42.1-1.2-2.7-1.4-5.8 28.6-43.4 65.5-80 18.7-18.4 40.4-33 20.8-14.1 44.6-22.3 51.1-16.9 100.9 3.9 46.4 21.3 80.4 59.6 40.3-31.9 90.1-44.3 48.9-10.9 96.9 3.7 48.1 15.3 87.8 46.7 37.9 29.5 69.2 65.9-16.1-23.2-36.5-42.6-20.1-19.4-45.4-31-26.6-11.9-55.5-10.2-26.8 2.1-51 13.8-26.4 12.9-48.9 31.9-20.8 17.3-39 37.4-36.1 40.4-65.4 85.9l-7.6-.3z" fill="#0061ff"/><path d="M476.3 1253.1q-30.9-34.5-67.2-63-35.4-28.1-77.6-44-43.9-16.5-90-8.3-44.7 9.7-79.8 39.2-1.9-3.6-2.1-7.7 28.7-42.6 65.7-78.2 18.7-17.9 40.5-31.9 20.9-13.4 44.5-20.9 50.5-15.1 98.8 5.9 45.3 21.3 78.6 58.8 40.3-31.9 90-44.3 48.7-10.9 96.6 3.5 48 15.3 87.7 46.5 37.9 29.5 69.4 65.8-16.1-23.1-36.6-42.5-20.1-19.3-45.4-30.8-25.6-11.3-53.5-10-26.7 1.7-50.9 13.1-25.1 11.8-46.6 29.3-20.7 16.8-38.9 36.3-36.1 39.3-65.4 84l-17.8-.8z" fill="#007aff"/><path d="M469.9 1246.2q-30.6-33.3-66.8-60.6-34.3-26.1-74.8-40.7-42-14.8-85.7-7.3-42.4 8.7-76.4 35.8-2.7-4.4-2.8-9.6 28.8-41.8 65.8-76.4 36-34.3 83-49.7 49.6-14.1 96.9 6.5 45.2 21.3 78.6 58.8 39.6-31.3 88.3-43.9 47.7-11.2 94.8 2.1 48.1 14.4 87.9 45.1 19.4 14.5 36.9 31.1l17.3 17.1q7.5 8.4 15.6 16-15.6-21.7-35.2-39.9-19.5-18.3-43.8-29.4-51.4-21.2-102.4 2.1-25.1 11.5-46.6 28.7-20.8 16.4-38.9 35.7-34.8 37.4-63.2 79.9l-28.5-1.4z" fill="#0093ff"/><path d="M463.4 1239.3q-28.8-30.3-62.2-55.1-33.5-25.2-72.9-39.3-84.9-27.9-157.3 24.9-3.8-5.2-3.6-11.5 28.8-41 66-74.6 35.3-32.5 81-46.6 48.6-13.1 94.9 7.2 44.1 20.7 76.9 57.1l3.5 .1q38.7-30.1 86.2-42.4 47.4-11.1 94.4 2 46.6 13.8 85.5 43 19.2 14.1 36.7 30.4l17.3 16.8q7.2 8.4 15.7 15.2-15.7-21.1-35.2-38.6-19.7-17.7-43.9-28-49.5-18.9-98.1 2.9-24.9 11.1-46.4 28-19.3 15.1-36.3 32.8-34.6 36.2-62.8 77.6l-39.4-1.9z" fill="#00acff"/><path d="M456.6 1232.3q-28.7-29.2-62.1-52.9-31.6-22.5-68.3-35.2-80.4-25.7-150.1 22-5.2-5.8-4.7-13.4 27.9-38.8 63.6-70.5 35.2-31.9 80.5-45.5 47.3-12.3 92.4 6.9 42.7 19.5 74.8 54l11.7 .4q38.2-28.6 84.5-39.7 46.6-10.1 92.5 3 45.3 13.6 83.3 41.9 19.2 14 36.7 30.1l17.2 16.7q6.4 6.8 13.8 12.4-15.8-20.7-35.5-37.6-18.3-15.6-40.5-25-48.2-18.6-95.9 2-45.7 20.8-80.5 57.2-34.6 35.2-62.7 75.7-25.4-.8-50.7-2.5z" fill="#00c6ff"/><path d="M449.5 1225.3q-27.6-27.1-59.6-49-30.6-21.1-65.8-32.8-75.8-23.5-142.7 19.1-6.6-6.4-5.9-15.4 28-37.9 63.7-68.5 34.5-30 78.4-42.5 45.2-11.1 88.3 6.7 41.6 18.3 73.1 51.1l20.2 .6q37.7-26.9 82.8-36.8 44.5-8.9 88.3 3.3 43.9 12.8 80.9 39.7 19.2 13.6 36.7 29.4l17.2 16.4q3.2 3.7 7.3 6.3l6.9 5.6q-16-20.2-35.9-36.4-18.5-15.1-40.8-23.6-46.6-16.3-92.2 3.4-44.2 20.1-78.2 55-33.2 33.2-60.4 71.5-31.2-.9-62.3-3.1z" fill="#00dfff"/><path d="M442.1 1218.3q-26.5-25.1-56.9-45.1-29.6-19.6-63.3-30.4-71.1-21.4-134.9 16.3-8.4-7-7.2-17.5 27.2-35.8 61.5-64.6 33.8-28.8 76.3-40.8 44.1-10.8 86.3 5.9 40.4 17 71.4 48.2l29 .9q37.3-25.4 81.5-34.2 43.9-7.8 86.7 4.7 42.8 13 79.1 39.4 18.1 12.8 34.6 27.7l15.2 14.1q3.5 3.3 7.7 5.8 3.7 2.6 6.9 5.7-15.4-18.7-34.4-33.7-17.8-14.1-39-22.2-45.3-16-90 2.5-42.6 18.6-75.8 51.5-33.1 32.1-60.3 69.5-37.2-1-74.4-3.7z" fill="#00f8ff"/><path d="M434.3 1211.1q-25.5-23.1-54.6-41.4-27.6-17.5-58.9-27.2-66.6-19.9-127.8 13.2-4.6-3.7-7.5-8.7-2.9-5.3-1.3-11 26.5-33.9 59.8-61.2 33.2-27.5 74.6-38.8 43.2-10.4 84.7 5.8 38.3 15.9 68.1 44.9l38.2 1.1q36.6-23.7 79.5-31.4 41.6-6.6 82.2 5 41.3 12.2 76.6 37.1 18 12.4 34.4 26.8l15.1 13.8q8.5 4.5 15.1 11.3-15.5-18.1-34.6-32.5-18-13.5-39.2-20.8-43.6-13.7-86.1 3.9-41.1 17.8-73.4 49.2-31.7 30.2-57.8 65.3-43.6-1-87.1-4.4z" fill="#00ffe4"/><path d="M426 1203.9q-24.3-21.1-51.9-37.6-25.7-15.4-54.3-24.1-62.2-18.3-120.3 10.1-5.7-4-9.4-9.7-3.6-5.8-1.4-12.2 26.5-33 59.8-59.1 31.5-24.9 70.1-35.3 40.9-9.9 80.5 4.3 38.3 14.6 68.3 42.7l47.7 1.4q33.5-20.4 71.9-27.6 37.1-6.4 73.8 1.9 37.3 8.9 70 28.8 32.4 19.7 60.2 45.6 10.3 5 18 13.3-29-33.8-70.4-49.4-42.3-13.3-83.8 3.1-40.9 17.1-73.1 47.9-30.3 28.1-55.4 61-50.2-.9-100.3-5.1z" fill="#00ffbf"/><path d="M417.2 1196.6q-22.3-18.3-47.4-32.8-24.7-14.2-52.1-22.2-57-16.2-111.2 7.4-6.6-4.1-11.3-10.3-4.8-6.5-1.8-13.9 25.6-30.9 57.5-55.3 31.4-24.3 69.9-34 39.7-9 78.1 4.7 35.8 13.5 64.3 39.1 28.9 .3 57.8 1.7 65.3-37.5 138.9-22.5 36.2 8.4 68.2 27.4 30.1 17.8 56.2 41.2 12.2 5.4 21 15.3-28.8-32.1-69.3-46.2-40.6-11.8-80.2 3.6-38.3 15.5-68.9 43.5-30.3 27.1-55.5 59.2-57.2-.8-114.2-5.9z" fill="#00ff9a"/><path d="M407.8 1189.1q-41.6-33-92.3-48.1-51.5-14.1-101.4 4.8-10.5-5.3-16.3-15.2-2.4-5.4 .1-10.7 3.1-4.2 6.8-7.9 14.1-15.5 29.9-29.3 31.1-28.1 70.3-42.6 41.1-14.4 83.1-3.3 39.5 11.8 70.9 38.8 34.1 .3 68.3 2 62.9-33.5 132.6-19.1 33.7 7.7 63.7 24.8 28.7 16.3 53.8 37.7 14.4 5.8 24.1 17.4-28.4-30.2-67.6-42.9-38.3-10.4-75.8 3.5-38 14.7-68.4 41.9-28.8 25.3-52.9 55.1-64.6-.7-128.9-6.9z" fill="#00ff76"/><path d="M397.4 1181.5q-38.7-28.6-85.1-41.3-45.2-11.6-89.6 2.5-10.2-4.7-17.8-12.9-7.7-9.7 .6-18.7 14.1-15.5 29.9-29.2 30.4-27.1 68.4-41.5 40-14.3 81.3-4.4 38.4 10.5 69.3 35.9 39.7 .2 79.3 2.4 59.9-29.3 125.1-16 31.2 6.9 59.4 22.1 27.5 14.8 51.7 34.5 8 3.4 15.4 8 7.4 4.4 12.1 11.5-27.4-27.6-64.4-39.1-37.4-9.9-73.9 3.3-36.7 13.8-66.4 39.6-27.4 23.5-50.5 51.2-72.6-.4-144.8-7.9z" fill="#00ff51"/><path d="M385.9 1173.6q-34-22.8-73.6-33.4-39.9-10.2-79.9-.3-9.8-4.2-18.2-10.6-4.1-3.2-6.7-7.6-2.6-4.4-1.4-9.3 2-5.4 6.7-9.1l6.4-6.4 14.9-13.8q29.3-26.4 65.7-41.2 38.4-15 78.8-7.3 39.2 8.8 71 33.6 45.6 .1 91.2 2.9 56.4-25.2 116.9-13.1 57.7 13.7 104.3 50.7 9.4 3.7 18 8.9 8.4 4.7 13.2 12.9-27.2-25.9-63.1-36-35.5-8.4-70 3.7-33.9 12.4-61.8 35.5-27.4 22.3-50.4 49.1-81.3-.1-162-9.2z" fill="#00ff2c"/><path d="M372.6 1165.4q-29.3-17.4-62.4-25.7-32.9-8-66.3-2.3-9.7-3.7-18.5-8.8-9.3-4.8-14.2-13.8-2.2-6 1.6-11.2 3.6-4.3 7.7-8l12.8-11.9q28.7-25.8 64.1-40.9 37.5-15.3 77.4-8.9 38.4 7.4 69.9 30.7 51.9-.1 103.7 3.3 52.1-20.9 107.2-10.3 53.7 11.9 97.9 44.8 10.5 3.9 20.3 9.4 10 5 14.9 14.7-26.8-24-61.6-32.7-33.5-7.1-65.9 4.1-32.5 11.5-59.4 33.1-26 20.4-48 45.2-91 .3-181.2-10.8z" fill="#00ff07"/><path d="M356.2 1156.6q-46.1-24-97.8-21.1-19.9-5.7-36.5-18-4-3.3-6-8-1.8-5.1 1-9.7 6-7.5 13.6-13.6 28.5-26.3 63.9-42.1 36.1-15.7 75.2-11 38.1 5.8 69.8 27.9 58.8-.4 117.3 3.7 48.5-16.9 98.9-7.1 48.1 10.4 88.7 38.5 12 4 23.2 10 5.5 2.9 10.2 7 4.7 3.8 6.3 9.5-25.7-21.4-58-29-32.3-6.6-63.7 3.9-30.9 10.7-56.9 30.7-24.5 18.7-45.5 41.3-102.3 .9-203.7-12.9z" fill="#0f0"/><path d="M433.9 1057.4q66.1-.8 132.1 4.4 57.8-16.7 114.9 2.5 28.1 9.6 53.3 25.3 13.4 4.1 26 10.3 6.5 3.2 12 7.7 5.6 4.3 6.8 11.1-24.6-19-54.9-25.5-30.3-5.7-59.7 3.6-29.7 9.7-54.8 28.3-23.2 17-43.2 37.6-76.8 1-153.2-6.1-38.1-3.4-75.8-9.6-9.5-1.8-18.7-5.1-8.3-2.4-16.8-4-9.2-1.7-18.5-2.4-8.2-1.5-16.2-4.2-18.7-5.3-35.4-15.2-9.3-4.9-11.7-14.7 0-5.1 3.6-8.8l6.5-6.1q27.7-25.7 61.9-41.4 35.2-15.9 73.4-12.5 37 4.4 68.4 24.8z" fill="#0f0"/><path d="M427.9 1053.8q74.5-1.2 148.7 5.1 54.7-12.3 107.6 6.6 13.1 4.6 25.6 10.7l12.9 6.7 11.2 3.5q12.4 4 24 10.1 5.8 3 10.7 7.5 5 4.3 5 10.8-49.3-34.4-107.1-18.6-26.9 8.3-50.2 24.3-23.1 15.7-43.1 35.4-74.3 1.3-148.3-4.9-73.3-5.1-144.6-22.9-18.3-4.8-35.4-12.7-8.7-3.9-15.5-10.4-7.5-7.6-1.6-16.2 26.8-25.6 60.1-41.8 71.7-32.8 140 6.8z" fill="#0f0"/><path d="M421.6 1050.2q84-1.8 167.7 6.2 49.5-7.6 96.6 9.7 11.9 4.3 23.3 9.8 12 3 23.7 7.1 11.6 3.9 22.2 9.9 5.3 3 9.5 7.3 4.5 4.6 3.2 10.8-47.4-29.9-101.2-14.8-25.6 7.8-47.9 22.7-20.3 13.4-38.2 30.1-73.4 1.8-146.6-3.9-71.6-4.7-141.5-20.8-18.3-4.4-35.7-11.3-8.5-3.3-16.2-8.3-8.1-4.5-10.3-13 0-5.4 4.1-9.1l7.2-5.7 14.8-11.4q14.2-10 29.7-17.6 68.4-32.8 135.6 2.3z" fill="#0f0"/><path d="M414.7 1046.8q92.3-2.6 184.3 6.9 6.4 1.1 12.8 .4l12.1-.1q11.2 .4 22.4 2 22.3 3.4 43.4 11.5 21.8 5.1 42.9 12.5 10.6 3.7 20 9.7 4.9 3 8.2 7.6 3.2 4.8 .7 10-43.5-24.5-91.8-12-22.9 6.4-43.3 18.8-20.3 12.3-38.2 28-71.6 2.2-143.1-2.8-70.1-4.3-138.8-18.6-17.5-3.8-34.6-9.5-17-4.9-31-15.6-8.7-7.4-2.4-16.4 3.3-3.7 7.6-6.1l7.3-5.3q13.1-9.6 27.6-17.2 66.1-35 133.9-3.8z" fill="#0f0"/><path d="M407.1 1043.4q92.2-3.2 184.1 5.8 46.5 4.3 92.3 13.8 22.6 4.6 44.2 12.3 11 3.8 20.7 10.2 4.9 3.2 7.6 8.2 2.2 5.4-1.4 9.9-40.3-19.6-83.8-8.6-41.2 12-74.1 40-69.2 2.7-138.3-1.5-68.6-3.7-136-16.2-17.3-3.4-34.3-8.2-16.7-4.4-32.2-12-8.3-3.9-13.6-11.1-3.8-9 4.8-14.8 14.5-9.3 29.2-18.2 30.5-17.5 65.4-20.7 34-2.3 65.4 11.1z" fill="#0f0"/><path d="M398.5 1040.1q93.6-4 186.9 4.9 46.7 4.2 92.7 13.4 23.3 4.6 45.6 12.6 10.9 3.8 20.3 10.3 5.1 3.4 6.9 9.2 .5 5.8-4.2 9.6-37-15.1-75.8-5.1-35.6 10.1-64.9 32.8-135.4 6.9-269.1-14.6-33.3-5.4-65-16.8-8.1-3-15.5-7.5-7.9-4.1-10-12.2 0-4.4 3.2-7.5 2.9-3 6.5-5 7.4-3.5 14.3-7.8 29.2-18 62.9-23.2 33.4-4.4 65.2 6.9z" fill="#0f0"/><path d="M388.5 1036.9q95.8-4.9 191.3 3.9 47.5 4.1 94.3 13.3 23.2 4.6 45.4 12.6 11.3 3.9 20.6 11.1 5.3 4.1 4.7 10.4-1.9 5.5-7.1 8.5-32.1-10.2-64.8-2.2-30.4 7.9-56.4 25.8-132.1 7.9-263-11.2-32.7-4.8-64.5-14.1-15.6-4.3-29.3-12.9-3.5-2.4-5.9-5.8-2.5-3.4-1.4-7.5 3.7-7.2 11.4-10.4 8.8-3.6 17.2-8l14.7-6.9q14.2-5.9 29.3-8.9 32-6.3 63.5 2.3z" fill="#0f0"/><path d="M726.7 1093.7q-25.3-5.4-50.6 .1-25 5.7-47.1 18.7-113.6 8.1-226.8-3.8-56.7-4.9-111.3-20.5-13.8-4-25.9-11.8-6.7-3.9-7-11.3 2.2-6.7 8.9-9.8 6.7-3.8 14.1-6.1 6.6-1.8 12.8-4.9 12.2-5.2 25-8.4 28.5-7 57.3-1.8 28.1-1.9 56.2-2.4 56.1-1 112 2.6 56 3.3 111.2 12.7 28 4.7 55 13.6 13.5 4.1 24.4 12.9 6.1 5.4 2.4 12.2-4.3 5.3-10.6 8z" fill="#1cff00"/><path d="M711.7 1091.4q-34.7-2.3-66.2 12.6-114.2 10.4-228.5-.5-56.6-4.5-111.6-18.2-14-3.7-27.1-9.8-6.4-2.9-11.4-7.9-5.6-6.2-.2-12.4 11.3-9.1 25.7-12.2 13.2-3.3 26.3-7 14.4-3.6 29.2-4 13.8 .1 27.6-1.4 28.2-2.1 56.5-2.6 56.5-1 113 2.6 56.6 3.4 112.3 13.3 28.1 4.8 54.8 14.7 6.7 2.7 12.7 6.6 6.4 3.5 7.7 10.3-1.4 7.1-8.4 10.4-5.9 3.4-12.4 5.5z" fill="#3aff00"/><path d="M666.3 1094.2q-59.4 8.2-119.4 8-58.8 .4-117.4-4.4-59.6-4.1-117.5-18-14.7-3.7-28.4-10.1-6.8-3-11.6-8.6-4.3-7.2 2.8-12.4 12.6-8.1 27.5-11.1 13.8-3.4 27.9-5.5 59.3-8.2 119.2-8 58.9-.4 117.5 4.5 59.6 4.1 117.5 18.1 14.4 3.6 27.8 9.8 6.8 3 11.7 8.5 4.7 7.1-2.4 12.5-12.6 8.2-27.5 11.2-13.7 3.4-27.7 5.5z" fill="#58ff00"/><path d="M661 1087.8q-57.5 7.8-115.7 7.6-58 .4-115.8-4.4-57.3-4-113.2-17.4-14-3.5-27.1-9.6-6.7-3-11.3-8.6-3.4-7.3 3.9-11.9 12.4-7.5 26.7-10.4 13.6-3.2 27.4-5.2 57.1-7.6 114.8-7.5 57.2-.3 114.3 4.3 57.3 4 113.1 17.2 14 3.4 27.2 9.4 6.8 2.9 11.8 8.1 4.7 6.7-2 12-12.4 8.2-27.2 11.1-13.3 3.3-26.9 5.3z" fill="#76ff00"/><path d="M655.6 1081.3q-55.7 7.4-111.9 7.3-56.1 .4-112-4.2-55.5-3.8-109.7-16.6-13.6-3.4-26.3-9.3-6.6-2.8-11.1-8.2-3.4-6.9 3.6-11.4 11.9-7.2 25.8-9.9 13.1-3.2 26.5-5.1 55.5-7.3 111.4-7.2 55.6-.3 111.1 4.2 55.5 3.8 109.6 16.5 13.6 3.3 26.4 9 6.6 2.8 11.4 8.1 4.1 6.7-2.6 11.5-12 7.5-26.1 10.3-12.9 3.1-26.1 5z" fill="#94ff00"/><path d="M650 1074.8q-53.8 7.1-108.1 6.9-54 .4-107.9-4-53.7-3.6-106-15.8-13.3-3.2-25.7-8.8-6.3-2.7-10.8-7.8-3.4-6.7 3.3-11 11.5-6.9 24.9-9.5 12.7-3 25.6-4.8 53.7-7.1 107.9-6.9 54-.4 107.7 4 53.7 3.6 106.1 15.8 13.1 3.1 25.3 8.6 6.4 2.7 11 7.8 3.9 6.4-2.7 10.9-11.7 7.2-25.4 9.8-12.5 3-25.2 4.8z" fill="#b2ff00"/><path d="M644.2 1068.3q-51.8 6.7-104.1 6.6-52 .3-103.8-3.9-52.3-3.4-103.2-15.3-12.6-3-24.4-8.4-6.2-2.5-10.3-7.7-2.7-6.6 4.1-10.4 11.2-6.3 23.9-8.8 12.4-2.8 25-4.5 52.2-6.7 104.8-6.5 51.3-.3 102.5 3.8 51.8 3.5 102.4 15.2 12.5 3 24.4 8.2 6.1 2.5 10.4 7.4 3.6 6.5-3.2 10.7-11.3 6.6-24.2 9.1-12.1 2.8-24.3 4.5z" fill="#cfff00"/><path d="M638.1 1061.7q-49.7 6.4-99.8 6.2-49.9 .3-99.6-3.6-50.2-3.3-99.2-14.5-12.2-2.9-23.6-7.9-6-2.5-10-7.4-2.7-6.2 3.7-9.8 10.8-6.1 23-8.4 11.9-2.7 24-4.4 50.3-6.4 101-6.2 49.5-.2 98.9 3.7 49.8 3.3 98.4 14.4 12.1 2.9 23.4 7.9 5.8 2.4 9.9 7 3.4 6.3-3.3 10.2-10.9 6.2-23.3 8.6-11.7 2.6-23.5 4.2z" fill="#edff00"/><path d="M631.8 1055.2q-48.3 6-97.1 5.8-47.7 .2-95.2-3.5-47.7-3.2-94.3-13.8-11.8-2.8-22.8-7.8-5.7-2.3-9.1-7.2-1.6-6.1 4.6-9.1 10.8-5.6 22.8-7.8 11.1-2.5 22.4-4 47.8-5.9 95.9-5.7 47.6-.2 95.1 3.5 47.7 3.1 94.4 13.7 11.7 2.8 22.8 7.7 5.5 2.3 9.2 6.9 2.3 6.1-4 9.4-10.5 5.6-22.2 7.8-11.1 2.5-22.5 4.1z" fill="#fff200"/><path d="M625.3 1048.5q-46.1 5.7-92.5 5.5-45.4 .2-90.6-3.3-45.5-3-90-12.9-11-2.6-21.3-7.1-5.4-2.2-9.1-6.6-2.3-5.9 4-9 10.2-5.4 21.6-7.5 10.6-2.3 21.4-3.7 45.7-5.6 91.8-5.4 45.5-.2 90.9 3.3 45.2 3 89.3 12.8 11.1 2.6 21.5 7 5.5 2.2 9.4 6.5 2.8 5.7-3.4 9.1-10.1 5.5-21.5 7.6-10.7 2.3-21.5 3.7z" fill="#ffd400"/><path d="M618.4 1041.9q-43.7 5.3-87.6 5.1-43 .2-85.7-3.1-43.2-2.8-85.5-12.1-10.7-2.5-20.8-6.9-5.2-2-8.5-6.3-1.7-5.6 4.1-8.3 9.9-5 20.9-6.9 10.2-2.2 20.5-3.5 86.4-9.2 173-1.8 42.9 2.7 84.9 12 10.4 2.4 20.3 6.6 5.1 2 8.8 6.1 2.5 5.4-3.4 8.5-9.7 5.1-20.6 7.1-10.1 2.1-20.4 3.5z" fill="#ffb600"/><path d="M611.1 1035.2q-81.4 8.6-163.1 1.8-40.7-2.6-80.5-11.2-10.2-2.3-19.8-6.4-4.8-1.8-8.1-5.7-2-5.2 3.7-7.9 9.3-4.7 19.6-6.5 9.6-2 19.3-3.2 81.2-8.6 162.5-1.9 40.8 2.6 80.6 11.2 10.2 2.3 19.8 6.4 4.8 1.8 8.2 5.6 2.2 5.2-3.4 7.9-9.2 4.8-19.5 6.6-9.6 2-19.3 3.3z" fill="#ff9700"/><path d="M603.4 1028.4q-76.6 8-153.5 1.6-38.2-2.4-75.6-10.6-9.3-2.1-18-5.9-4.6-1.7-7.2-5.7-.7-5 4.6-7 17.4-7.1 36.2-8.7 75.8-7.8 151.8-1.5 38.2 2.3 75.5 10.3 9.3 2.1 18 5.7 4.6 1.7 7.8 5.3 2.3 4.9-3.1 7.5-17.4 7.5-36.5 9z" fill="#ff6f00"/><path d="M595.1 1021.6q-70.7 7.2-141.7 1.4-35.4-2.2-70-9.6-8.7-2-16.8-5.4-4.3-1.6-6.9-5.2-.8-4.6 4.1-6.5 16.1-6.5 33.5-7.9 70.5-7.2 141.2-1.5 35.4 2.2 70 9.6 8.7 1.9 17 5.4 4.2 1.5 6.9 5 1.3 4.5-3.6 6.6-16.1 6.6-33.7 8.1z" fill="#ff4200"/><path d="M586.2 1014.6q-64.5 6.5-129.1 1.3-32.3-2-63.9-8.6-7.9-1.8-15.4-4.9-4-1.4-6.4-4.7-.8-4.2 3.8-5.9 14.9-5.9 31-7.2 64.3-6.4 128.7-1.2 32.3 2 64 8.7 7.9 1.7 15.4 4.8 3.9 1.4 6.3 4.7 .8 4.2-3.9 5.9-14.7 5.8-30.5 7.1z" fill="#ff1800"/><path d="M576.3 1007.6q-57.9 5.7-116 1-29-1.8-57.4-7.8-7-1.5-13.7-4.4-3.6-1.3-5.2-4.6 .4-3.6 4.3-4.8 13.3-4.9 27.5-6 57.5-5.6 115.1-1 28.7 1.7 56.8 7.5 7.1 1.6 13.9 4.3 3.5 1.3 5.8 4.2 .7 3.7-3.4 5.2-13.3 5.2-27.7 6.4z" fill="#ff0a00"/><path d="M565.2 1000.3q-50 4.8-100.1 .9-25.1-1.5-49.7-6.6-6.2-1.3-12-3.8-3.1-1.1-4.7-3.8 .2-3.1 3.6-4.2 11.5-4.2 23.8-5.2 50-4.8 100.2-.9 24.9 1.5 49.3 6.5 6.1 1.3 11.9 3.7 3.1 1.1 4.9 3.7 .3 3.3-3.3 4.4-11.5 4.3-23.9 5.3z" fill="#fe0000"/><path d="M552.1 992.8q-41 3.8-82.1 .6-20.3-1.2-40.2-5.3-5.1-1.1-9.8-3-2.5-.9-3.7-3.1 .1-2.6 2.9-3.4 9.5-3.4 19.7-4.2 40.9-3.9 81.8-.7 20.4 1.3 40.3 5.3 5 1.1 9.7 3 2.6 .9 3.9 3.1 0 2.6-2.9 3.5-9.5 3.4-19.6 4.2z" fill="#fa0000"/><path d="M535.2 984.7q-29.1 2.6-58.2 .4-14.4-.9-28.5-3.8-3.6-.8-6.9-2.2-4.5-2.4 .2-4.6 6.7-2.2 13.9-2.8 28.8-2.6 57.7-.3 14.4 .8 28.6 3.7l6.8 2.2q4.6 2.3 .2 4.5-6.7 2.3-13.8 2.9z" fill="#f60000"/></g>
<path d="M493.4 1255q-33.1-38.8-72.8-70.9-39-32.1-86.5-49.1-49.7-17.2-100.2-3.2-24.5 7.3-46 21.2-20.4 13.3-37.8 30.5M480.3 1257.6q30.5-48.1 68.5-90.6 19.2-21.3 41.5-39.4 20.8-17.2 45-29.1 25.9-12.8 54.8-14.5 28.2-1.1 53.9 10.6 25.5 11.9 45.7 31.5 20.1 19.3 36 42.1M500 1245.2q-33.2-38.7-72.9-70.7-39.7-32.6-88.1-49.5-49.2-16.4-99-2.4-24.6 7.5-46.1 21.5-20.5 13.4-38 30.6M473.8 1250.3q27.9-43.9 62-83.2 17.2-19.8 36.8-37.3 19-16.9 40.8-30.1 22.7-13.7 48.4-19.7 25-5.7 50.1-.6 25.3 5.5 46.7 20 21.1 14.4 38.2 33.5M801.5 1138.3q9.6 11.2 18.2 23.4M506.6 1235.8q-33.3-38.7-73-70.6-39.8-32.6-88.2-49.3-49.4-16.3-99.3-2.2-24.6 7.6-46.2 21.7-20.6 13.5-38.1 30.8M467.2 1243.3q28-43.8 62-83.1 17.3-19.8 36.9-37.2 18.3-16.4 39.2-29.1 22.1-13.6 47.1-20 25-6.2 50.4-1.7 25.3 4.9 47 19 21.3 13.9 38.5 32.7M798.9 1136q7.7 9.4 14.8 19.3M513.1 1226.6q-33.2-38.6-73-70.5-39.9-32.5-88.4-49.1-49.5-16.2-99.4-1.9-24.7 7.7-46.4 21.9-20.7 13.5-38.2 30.9M460.7 1236.6q27.9-43.9 62-83.1 32.5-38.2 74.6-65.3 22-13.8 47.1-20.4 25.1-6.5 50.6-2.3 25.4 4.7 47.2 18.6 20.7 13.2 37.5 31M792.8 1129.8q7.8 9.4 14.9 19.3M519.6 1217.8q-33.9-39.4-74.6-71.7-39.3-31.6-86.9-47.7-49.7-16.1-99.7-1.6-24.8 7.7-46.5 22-20.7 13.6-38.4 31.1M454.2 1230q27.3-42.7 60.3-81.1 32.6-38.6 74.7-66.1 22.1-14 47.3-20.9 24.4-6.6 49.3-3 25.5 4 47.6 17.5 20.8 12.7 37.8 30.2M789 1126.6q6.6 8.1 12.6 16.6M526.2 1209.2q-34-39.4-74.7-71.6-39.4-31.5-87-47.5-50.6-16.2-101.2-.9-24.2 7.8-45.4 21.7-20.8 13.7-38.5 31.2M447.8 1223.7q27.2-42.7 60.2-81.1 32-37.8 73.2-65 21.4-13.8 45.8-21 23.7-6.9 48.2-4.3 25.5 3.1 48 15.9 20.9 12 38.2 28.9M783 1120.8q6.5 8.1 12.6 16.6M532.7 1201q-33.9-39.4-74.7-71.5-40.1-32-88.6-47.8-50-15.5-100-.3-24.2 7.9-45.4 21.9-20.9 13.8-38.7 31.4M441.3 1217.6q27.2-42.7 60.2-81 31.4-37 71.6-63.9 21.5-14 46-21.5 23.7-7.1 48.3-4.8 24.8 2.7 46.8 14.6 21.2 11.5 38.6 28.1M780.4 1119.6l9.2 12.2M539.2 1193q-34-39.3-74.8-71.4-40-31.9-88.7-47.6-50.1-15.4-100.1 0-24.3 7.9-45.6 21.9-20.9 13.9-38.8 31.5M434.9 1211.7q27.1-42.7 60.1-80.9 31.4-37 71.6-63.8 20.9-13.6 44.5-21 23.1-7.2 47.1-5.5 24.9 2.2 47.1 13.6 21.2 11 38.8 27.3M774.3 1114.2l9.3 12.2M545.7 1185.3q-34-39.2-74.8-71.2-40.1-32-88.8-47.6-50.3-15.2-100.3 .3-24.4 7.9-45.7 22.1-21.1 13.9-39 31.6M428.5 1206q26.4-41.6 58.5-79 31.4-37.2 71.6-64.5 20.9-13.8 44.6-21.5 23-7.4 47.2-5.9 24.1 1.8 45.9 12.4 21.4 10.5 39.1 26.4M770.6 1111.9l6.9 9.3M552.1 1178q-33.9-39.3-74.7-71.2-40.2-31.9-88.9-47.4-50.4-15.1-100.5 .4-24.5 8.1-45.9 22.3-21.1 13.9-39.1 31.7M422.1 1200.6q26.4-41.6 58.4-78.9 30.8-36.5 70.1-63.5 20.2-13.5 43.2-21.4 22.3-7.7 45.9-7.1 24.2 .9 46.3 10.8 21.5 9.8 39.5 25.1M768.1 1111.5l3.4 4.7M558.6 1170.9q-34-39.2-74.8-71.1-40.2-31.8-89-47.2-50.5-15.1-100.7 .6-24.4 8.1-45.9 22.3-21.2 14-39.2 31.8M415.7 1195.3q25.8-40.4 56.8-76.9 30.8-36.8 70.1-64.2 20.2-13.7 43.2-21.9 22.4-7.9 46.1-7.6 24.2 .7 46.5 10.3 20.8 9.2 38.3 23.6M762 1106.7l3.5 4.7M565 1164.2q-33.9-39.2-74.8-71-40.2-31.8-89-47.1-50.6-15-100.9 .8-24.5 8.1-46.1 22.4-21.2 14-39.3 31.9M409.3 1190.3q25.8-40.3 56.8-76.8 30.2-36 68.5-63 19.6-13.5 41.8-21.9 21.7-8.1 44.8-8.6 23.5-.3 45.4 8.1 21.7 8.5 40.1 22.9M571.4 1157.7q-33.9-39.1-74.8-70.9-40.9-32.2-90.6-47.4-50.8-14.4-100.9 1.8-24.5 8.4-46.1 22.9-20.5 13.8-38.1 31.2M403 1185.6q25.7-40.4 56.7-76.8 29.6-35.2 67-61.8 19.5-13.7 41.8-22.3 21.7-8.4 44.9-9.2 23.5-.5 45.6 7.6 21 8 38.9 21.5M577.8 1151.5q-33.9-39.1-74.8-70.7-40.3-31.7-89.1-46.9-50.9-14.8-101.2 1.1-24.7 8.2-46.4 22.6-20.6 13.6-38.3 30.9M396.7 1181q25-39.2 55-74.8 29.6-35.5 67-62.5 19.6-13.9 41.9-22.8 21-8.3 43.5-9.6 23.5-1 45.8 6.6 21.1 7.4 39.2 20.5M584.2 1145.7q-33.3-38.3-73.2-69.5-39.7-31.4-87.8-47-50-15.5-100.3-1-47.7 15.6-84.1 50.4M390.4 1176.7q25-39.2 55-74.7 29-34.7 65.4-61.4 18.9-13.6 40.4-22.6 21-8.8 43.6-10.6 46.1-2.2 84.2 24.3M590.5 1140.1q-33.2-38.2-73.1-69.3-38.5-30.4-84.8-46-48.6-15.8-97.9-3.4-47.2 13.6-83.9 46.6M384.2 1172.5q24.9-39.1 54.9-74.6 28.3-33.8 63.8-60.1 18.9-13.8 40.4-23 20.3-8.7 42.3-11 46-3.4 84.6 22.3M596.8 1134.9q-32.5-37.4-71.5-68-37.9-30.1-83.3-46.2-47.1-16.1-95.6-5.6-47.4 11.9-84.6 43.8M378 1168.6q24.2-38 53.2-72.6 28.3-34.2 63.8-60.8 18.2-13.5 38.9-22.8 20.3-9.1 42.4-11.9 45.1-4.5 83.7 19.5M603.1 1129.9q-31.9-36.5-69.9-66.6-37.2-29.9-81.9-46.3-45.5-16.3-93.1-7.7-46.7 10-84.2 40M371.8 1164.9q24.2-37.9 53.1-72.5 27.7-33.3 62.2-59.5 18.3-13.7 39-23.3 19.6-9 40.9-12.2 45-5.6 84.1 17.6M609.4 1125.3q-31.2-35.8-68.3-65.3-36.6-29.6-80.4-46.4-44.8-16.8-92-9.5-46.1 8.6-83.6 37.1M365.6 1161.5q23.5-36.9 51.5-70.5 27.7-33.7 62.1-60.2 17.6-13.4 37.5-23 19.6-9.5 41.1-13.1 44-6.7 83.1 14.8M615.6 1120.9q-30.5-34.9-66.6-63.9-36-29.3-79-46.4-43.3-17-89.4-11.5-45.5 6.8-83.1 33.4M359.5 1158.2q23.5-36.8 51.4-70.4 27.6-33.6 62.1-60.1 17.6-13.3 37.4-22.9 19-9.1 39.6-12.9 43.2-7 82 13.1M621.8 1116.9q-29.8-34.1-64.9-62.6-34.7-28.4-76-45.8-42.6-17.7-88.4-13.8-44.7 5-82.5 29.8M353.4 1155.2q23.4-36.8 51.3-70.3 26.4-32 58.9-57.7 16.9-13.1 36-22.9 18.9-9.8 39.7-14.3 42.9-8.6 82.4 10.2M628 1113.1q-29.8-34-64.9-62.5-34-27.8-74.4-45-41.2-17.4-85.7-14.8-44 3.7-81.7 26.9M347.3 1152.4q22.7-35.7 49.6-68.3 26.4-32.3 58.9-58.3 33.1-27 74.3-37.7 41.9-9.5 81.3 7.6M634.2 1109.7q-29.2-33.2-63.3-61.1-32.7-27-71.3-44.3-40.5-18.2-84.6-17.1-43.3 2.1-81 23.4M341.2 1149.8q22.7-35.6 49.6-68.2 26.4-32.2 58.8-58.2 32.5-26.4 72.8-37.3 41-9.9 80.1 6.1M640.3 1106.5q-28.4-32.3-61.6-59.7-32.1-26.6-69.8-44.2-39-18.1-81.9-18.5-42.5 .5-80.3 20M335.2 1147.4q22.7-35.6 49.5-68.1 25.7-31.4 57.2-56.8 31.9-26.2 71.3-37.8 40.1-10.7 79 3.7M646.4 1103.7q-27.7-31.6-60-58.4-31.4-26.2-68.3-43.9-37.5-18.1-79.1-19.9-41.7-1-79.5 16.6M329.2 1145.2q22-34.4 47.9-66 25.6-31.7 57.1-57.5 31.8-26.5 71.3-38.5 39.3-11 77.8 2.2M652.4 1101.1q-27-30.7-58.3-56.9-30.7-25.9-66.7-43.8-36.9-18.3-77.8-21.1-40.2-2-77.2 13.4M323.3 1143.3q21.9-34.4 47.7-66 25.1-30.8 55.6-56.1 31.1-26.3 69.8-38.9 38.3-11.6 76.6 0M658.4 1098.8q-26.3-29.8-56.6-55.5-30.1-25.5-65.2-43.5-35.4-18.1-75-22.2-39.3-3.4-76.3 10.3M317.4 1141.5q21.9-34.3 47.6-65.8 24.4-30 53.9-54.7 30.5-26.1 68.3-39.3 37.4-12.2 75.4-2.2M664.4 1096.8q-25.6-29-55-54-29.3-25.2-63.5-43.2-34.8-18.4-73.7-23.3-37.8-4.3-73.9 7.4M311.5 1140q21.2-33.2 46-63.8 24.3-30.2 53.8-55.3 29.9-25.8 66.8-39.4 36.5-12.9 74.2-4.5M670.3 1095.2q-25.5-29-54.9-54-28-24-60.4-41.5-33.3-18.2-70.8-24.2-36.9-5.5-72.9 4.5M305.6 1138.7q21.2-33.2 46-63.7 23.6-29.4 52.1-53.9 29.3-25.5 65.3-39.7 36.4-13.7 74.4-6.1M676.2 1093.8q-24.8-28.2-53.2-52.6-27.3-23.5-58.8-41.1-32-17.9-67.9-24.8-35.4-6.6-70.5 1.2M299.8 1137.5q20.5-32 44.3-61.6 23.6-29.6 52.1-54.4 28.6-25.3 63.7-39.8 35.5-14.3 73.2-8.2M682.1 1092.6q-24.1-27.2-51.6-51-26.6-23.2-57.2-40.7-30.6-17.6-64.9-25.4-34.6-7.6-69.5-1.4M294.1 1136.6q20.3-32 44.1-61.5 23-28.7 50.5-53 27.9-24.9 62.2-39.8 34.6-14.8 71.8-10.2M687.9 1091.8q-23.3-26.4-49.9-49.6-25.9-22.7-55.6-40.2-29.9-17.7-63.5-26.2-33.1-8.1-66.8-3.6M288.3 1135.9q20.4-31.9 44.1-61.4 22.3-27.8 48.8-51.5 27.3-24.7 60.7-39.9 33.7-15.2 70.5-12M693.7 1091.3q-22.6-25.6-48.2-48.2-24.5-21.7-52.5-38.8-28.5-17.5-60.5-26.9-32.3-9.3-65.8-6.6M282.6 1135.4q19.7-30.8 42.4-59.4 22.3-28 48.8-52 26.6-24.3 59.1-39.8 32.9-15.6 69.2-13.8M699.4 1091q-21.9-24.7-46.5-46.6-23.8-21.3-50.8-38.3-27.8-17.5-59.1-27.4-30.8-9.7-63-8.5M277 1135.1q19.5-30.8 42.3-59.3 21.5-27.1 47.1-50.5 26.6-24.6 59-40.5 32.2-15.6 67.8-14.7M705.1 1091q-41.4-47.8-94-82.7-27.1-17.6-57.6-28-29.4-9.9-60.3-10.2M271.3 1135q18.9-29.7 40.7-57.2 21.5-27.4 47-51 26-24.2 57.5-40.4 31.3-16 66.4-16.3M710.7 1091.3q-40.1-46.3-90.7-80.6-25.7-17-54.6-27.8-27.8-10.4-57.4-12.2M265.7 1135.1q18.9-29.6 40.6-57.1 20.9-26.5 45.4-49.5 25.3-23.8 55.9-40.2 30.5-16.3 65-17.9M716.3 1091.9q-38.8-44.7-87.4-78.4-24.3-16.5-51.5-27.6-26.4-10.7-54.7-13.8M260.2 1135.4q18.8-29.6 40.5-57 20.1-25.6 43.7-47.9 24.6-23.5 54.3-40.1 29.8-16.5 63.6-19.3M721.9 1092.8q-37.5-43.2-84.2-76.2-23.5-16.4-49.9-27.8-24.9-10.7-51.8-14.8M254.7 1135.9q18.1-28.4 38.8-55 20.1-25.7 43.7-48.3 23.9-23.1 52.7-39.8 29-16.7 62.2-20.6M727.4 1093.9q-35.6-40.9-79.3-72.8-22.2-15.9-46.8-27.6-24.3-11.4-50.5-16.8M249.2 1136.5q34.5-55.5 80.8-101.5 23.9-23.4 52.7-40.4 27.6-16.2 59.2-21M732.9 1095.3q-34.3-39.3-76-70.4-41.4-31.2-91.3-44.7M243.8 1137.4q33.9-54.5 79.1-99.9 23.2-22.9 51-40 26.9-16.4 57.7-22.1M738.3 1096.9q-32.9-37.7-72.7-67.9-38.7-29.8-85.2-44.5M238.4 1138.5q33.2-53.5 77.4-98.2 22.5-22.5 49.4-39.6 26.1-16.6 56.3-23.2M743.7 1098.8q-30.9-35.3-67.9-64.3-36.7-29-80.6-45.1M233.1 1139.7q32.6-52.3 75.6-96.4 21.9-22.1 47.8-39.2 25.4-16.7 54.8-24.1M749 1101q-29.6-33.7-64.6-61.7-34.1-27.5-74.5-44.2M227.8 1141.2q31.9-51.3 73.9-94.8 21.2-21.6 46.2-38.6 24.7-16.8 53.3-25M754.3 1103.5q-27.5-31.4-59.8-57.9-32-26.6-69.9-44M222.5 1142.8q31.3-50.2 72.2-93 20.5-21.2 44.6-38 23.3-16.4 50.3-25.4M759.5 1106.1q-26.1-29.7-56.5-55.2-29.4-24.8-63.7-42.2M217.3 1144.6q30.7-49.2 70.5-91.2 19.8-20.7 43-37.5 22.6-16.3 48.7-25.9M764.7 1109.1q-24.1-27.4-51.7-51.2-26.7-23.1-57.4-40.5M212.1 1146.6q30-48.1 68.8-89.5 19.1-20.1 41.4-36.7 21.9-16.4 47.2-26.5M769.8 1112.3q-22-25-46.8-47.1-24.7-21.9-52.8-39.1M207 1148.8q29.4-47.1 67-87.7 18.5-19.6 39.9-36 21.1-16.3 45.6-27M774.9 1115.7q-39.2-45.4-88.6-79.2M201.9 1151.1q28.7-45.9 65.4-85.8 17.7-19.1 38.2-35.3 20.4-16.2 44.1-27.3M779.9 1119.4q-35.4-40.9-79.1-72.8M196.8 1153.6q27.5-43.9 62.2-82.4 17.7-19.4 38.1-36 19.1-15.6 41-26.8M784.9 1123.3q-31-35.6-68.2-64.7M191.8 1156.4q26.9-42.9 60.5-80.6 32.8-37.5 76-62.1M789.8 1127.5q-26.4-30.2-57.2-56M186.9 1159.2q26.2-41.8 58.8-78.7 31.6-36.4 72.8-61.2M794.7 1131.9q-21.7-24.8-46.3-46.7M182 1162.3q24.9-39.7 55.6-75.2 30.4-35.6 69.6-60.9M799.5 1136.5q-16.8-19.2-35.4-36.7M177.1 1165.5q24.2-38.7 53.9-73.3 29.2-34.4 66.5-59.7M804.3 1141.3q-11.9-13.4-24.6-26.2M172.3 1168.9q23.6-37.6 52.3-71.4 27.9-33.2 63.3-58.3M809 1146.4l-13.8-15.1M167.5 1172.4q22.3-35.5 49.1-67.6 26.7-32.4 60.2-57.6M813.6 1151.7l-9.1-10.2M162.8 1176.1q21.6-34.4 47.5-65.7 25.4-31.1 57-55.8M818.2 1157.2q-13.8-15.8-28.8-30.5M158.1 1180q20.9-33.3 45.8-63.8 23.6-29 52.4-52.8M822.8 1162.9q-20.7-23.6-43.9-44.7M153.5 1184q19.6-31.2 42.7-60 22.9-28.7 50.7-52.6M827.3 1168.9q-27.1-31.3-58.9-57.7M148.9 1188.2q18.9-30.2 41.1-58 21-26.5 46.1-49.2" fill="none" stroke="#000" stroke-opacity=".78" stroke-width="1.5"/>
<path d="M486.9 1265q-33.2-38.8-72.8-70.9-39-32.2-86.4-49.4-49.5-17.3-99.9-3.5-24.4 7.2-45.8 21.1-20.4 13.2-37.7 30.2M486.9 1265q30.5-48.1 68.5-90.6 19.2-21.3 41.4-39.5 20.8-17.2 45-29.1 25.9-12.9 54.7-14.7 28.2-1.1 53.8 10.5 25.4 11.9 45.6 31.4 20 19.2 35.8 42M831.7 1175q-35.6-41.5-79.7-73.7M144.3 1192.5q17.6-28 38.1-54.1 19.7-25.3 42.9-47.4" fill="none" stroke="#000" stroke-width="1.5" stroke-linejoin="round"/>
<g font-size="12.2" fill="#111"><path d="M144.9 1194.5h-4" stroke="#000" stroke-width="2"/><text transform="translate(134.9,1205) scale(1.679,1)" text-anchor="end">13</text><path d="M140.4 1139h-4" stroke="#000" stroke-width="2"/><text transform="translate(130.4,1149.5) scale(1.679,1)" text-anchor="end">31</text><path d="M135.8 1083.5h-4" stroke="#000" stroke-width="2"/><text transform="translate(125.8,1094) scale(1.679,1)" text-anchor="end">49</text><path d="M131.3 1028h-4" stroke="#000" stroke-width="2"/><text transform="translate(121.3,1038.5) scale(1.679,1)" text-anchor="end">67</text><path d="M126.8 972.5h-4" stroke="#000" stroke-width="2"/><text transform="translate(116.8,983) scale(1.679,1)" text-anchor="end">85</text><circle cx="486.9" cy="1363.1" r="1.7"/><text transform="translate(495.4,1374.1) scale(1.679,1)">25.00</text><circle cx="571.3" cy="1338.1" r="1.7"/><text transform="translate(579.8,1349.1) scale(1.679,1)">30.00</text><circle cx="655.8" cy="1313.1" r="1.7"/><text transform="translate(664.3,1324.1) scale(1.679,1)">35.00</text><circle cx="740.2" cy="1288.2" r="1.7"/><text transform="translate(748.7,1299.2) scale(1.679,1)">40.00</text><circle cx="824.6" cy="1263.2" r="1.7"/><text transform="translate(833.1,1274.2) scale(1.679,1)">45.00</text><circle cx="486.9" cy="1363.1" r="1.7"/><text transform="translate(477.4,1374.1) scale(1.679,1)" text-anchor="end">0.00</text><circle cx="402.7" cy="1338.1" r="1.7"/><text transform="translate(393.2,1349.1) scale(1.679,1)" text-anchor="end">1.50</text><circle cx="318.5" cy="1313.2" r="1.7"/><text transform="translate(309,1324.2) scale(1.679,1)" text-anchor="end">3.00</text><circle cx="234.3" cy="1288.2" r="1.7"/><text transform="translate(224.8,1299.2) scale(1.679,1)" text-anchor="end">4.50</text><circle cx="150" cy="1263.3" r="1.7"/><text transform="translate(140.5,1274.3) scale(1.679,1)" text-anchor="end">6.00</text></g>
<text transform="translate(872,1357.6) scale(1.534,1)" font-size="18.4" text-anchor="end">B: Temperature</text>
<text transform="translate(102.5,1357.6) scale(1.534,1)" font-size="18.4">C: Starch conc.</text>
<text transform="translate(493,960) scale(1.11,1)" font-size="57" font-weight="bold" text-anchor="middle">c</text>
<text transform="translate(28.3,1122.6) rotate(-90) scale(0.587,1)" font-size="29.9" text-anchor="middle">EI24 (%)</text>
</g>
<g id="ph">
<path d="M979.6 990.4L1320.1 943.8L1659.8 990.4L1637.7 1268.8L1319.4 1364.2L1001.9 1268.8z" fill="#ff0"/>
<path d="M979.6 990.4L1320.1 943.8L1659.8 990.4M1001.9 1268.8L1320.2 1194.4L1637.7 1268.8" fill="none" stroke="#330" stroke-width="1.1" stroke-dasharray="3.2 2.2"/>
<path d="M1320.1 943.8L1320.2 1194.4" fill="none" stroke="#442" stroke-width="1"/>
<path d="M1659.8 990.4L1637.7 1268.8M979.6 990.4L1001.9 1268.8" fill="none" stroke="#221" stroke-width="1.1"/>
<g fill="none" stroke-width="1.1" opacity=".85"><path d="M1335.3 1359.4q-19.1-.6-38.2-1.9M1004.5 1269.6l-.5-1.2M1623.7 1265.5l5.4 5.9" stroke="#3e3"/><path d="M1372 1348.4q-65.4 .3-130.3-7.6M1049.9 1283.2q-11.5-8.5-14.4-22.2M1308.7 1197.1l29.6 1.5M1576.3 1254.4q7.7 4.9 14.2 11.4 6.4 6.1 9 14.4" stroke="#3e3"/><path d="M1423.2 1333.1q-95.2 7.1-189.8-6.4-47.2-6.3-92.7-20.4-23-7-43.9-18.9-10.4-5.9-18.1-14.9-7.9-9.3-4.1-20.7M1275.8 1204.7q65.7 .2 130.7 9.9M1499.2 1236.3q22.1 7.3 41.7 19.7 10.4 6.5 16.6 16.9 5.1 10.9-2.1 20.5" stroke="#7f0"/><path d="M1463.2 1309.1q-48.8 11.2-98.9 11.5-49.6 1-98.9-4.7-50-5.1-97.8-20.5-11.7-4-22.8-9.4-10.5-5-19-12.9-4.7-4.2-6.8-10.1-1.7-6 1.3-11.6 6.7-9.6 17.6-14.4M1218.7 1218.1q93.4-8.5 185.7 7.8 24 4.3 47.5 11.2 21.3 6 40.5 16.8 11.1 5.9 17.5 16.4 4.7 11.5-4.8 20-9.2 7.9-20.7 12.1-10.4 4-21.2 6.7" stroke="#dcff2a"/><path d="M1414.2 1294.4q-36.7 8-74.3 7.7-36.9 .2-73.4-5-18.4-2.6-36.4-7.1-18-4.2-34.5-12.3-8.3-3.9-14.3-10.6-6.3-8.3 .8-15.9 6.9-6.3 15.7-9.3 8-3.1 16.4-5 36.2-7.7 73.3-7.4 36.6-.1 72.9 5 18.9 2.7 37.4 7.3 17.1 4.1 32.9 11.6 8.7 4 15.1 11.1 6.2 8-.4 15.6-6.6 6.3-15.2 9.3-7.8 3.1-16 5" stroke="#ff9a00"/></g>
<path d="M1001.9 1268.8L1319.4 1364.2L1637.7 1268.8" fill="none" stroke="#220" stroke-width="1.3" stroke-dasharray="3.2 1.4"/>
<g><path d="M1643.4 1196.5q-30.3-37.3-66.8-68.4-35.4-30.4-78.3-48.5-44.9-18.7-93.1-13.4-46.1 6.3-85.1 32.2-17.8-19.8-39.2-35.7-20.6-15.5-44.7-24.4-51-17.4-100.3 4.9-23.9 11-44.4 27.7-19.5 15.9-36.3 34.5-33.6 37.8-59.9 81.1 38.5-32.2 88.2-38.3 48.9-3.6 92.8 18.6 43.8 22.1 79.7 55.6 34.2 31.5 63.4 67.6 28.4-46 63.7-86.9 18-20.6 38.8-38.4 19.3-16.7 41.8-28.7 24.5-13.1 52-15.7 26.2-1.9 50.4 8.3 24.9 10.9 44.5 29.8 18.3 17.4 32.8 38.1z" fill="#0030ff"/><path d="M1306.5 1274.6q-29.9-35.2-65.2-65-34.9-29.9-76.9-48.1-43.4-18.7-89.9-12.1-44.4 8.1-79.2 37.1 27-44.6 61.9-83.3 17.7-19.3 38.4-35.5 19.6-15.3 42.3-25.4 49.5-21.5 100.2-3.3 24.1 9.3 44.7 25 20.2 15.5 37.3 34.4 40.6-27 88.9-32.6 47.4-4.1 91.2 14.6 44.2 19.2 80.4 51.2 34.2 29.7 62.8 64.9-15.2-21.6-34.4-39.6-19-17.8-42.8-28.3-24.2-10.1-50.3-8.3-25.2 2.2-47.8 13.5-23.6 11.8-43.8 28.9-19.5 16.3-36.5 35.2-32.6 36.6-59.2 77.7l-22.1-1z" fill="#0048ff"/><path d="M1300.9 1268.2q-29.8-34.2-64.8-62.9-33.9-28-74.4-44.9-42.3-17.5-87.5-11-44.2 8.2-78.9 37.1 27-44.6 61.9-83.3 17.7-19.3 38.4-35.5 19.6-15.3 42.3-25.4 49.5-21.5 100.2-3.3 24.1 9.3 44.7 25 20.2 15.5 37.3 34.4 39.7-26.4 86.9-32.4 47.1-4.7 91 13.5 44 18.6 80.2 50 34.6 29.8 63.7 64.9-14.6-20.4-32.9-37.5-18.3-17.2-41.1-27.5-48.4-19.8-96 2.6-23.5 11.1-43.7 27.5-19.4 15.7-36.4 34.1-32.6 35.6-59.2 76l-31.7-1.4z" fill="#0061ff"/><path d="M1295.1 1261.7q-29.8-33.3-64.8-60.9-33.8-27-74.1-42.5-41.7-15.8-85.4-8.3-42.2 8.8-75.5 36.5 27-44.6 61.9-83.3 17.7-19.3 38.4-35.5 19.6-15.3 42.3-25.4 49.5-21.5 100.2-3.3 24.1 9.3 44.7 25 20.2 15.5 37.3 34.4 39.7-26.3 86.7-32.4 45.9-4.6 88.9 12.5 43.9 18 80 48.9 18 15 34.4 31.8l16.1 17.3q6.1 7.4 12.9 14.2-14.6-19.9-33-36.4-18.4-16.6-41.2-26.2-46.4-17.6-91.8 3.4-23.4 10.7-43.5 26.9-18.1 14.4-34.1 31.3-32.4 34.5-58.8 73.9l-41.6-1.9z" fill="#0079ff"/><path d="M1289.1 1255.2q-28.8-31.3-62.5-57.2-32.9-25.6-71.9-40.2-39.9-14.7-81.7-8.2-41.2 7.9-74.2 34.1l-.8-1.5q27-43.8 61.8-81.7 17.7-19 38.3-34.7 19.6-14.9 42.2-24.5 49.7-20.6 99.8-1.5 24.1 9.7 44.6 25.7 19.1 14.9 35.4 32.9 39-25.9 85.2-32.2 46-5.1 89.1 11.9 42.9 17.2 78.4 46.9 18 14.8 34.4 31.3l16.2 17.1q6.1 7.1 12.9 13.5-14.9-19.4-33.4-35.3-17.9-15.4-39.7-24.2-45.7-16.4-90.2 4.1-42.9 20.9-75.5 56.1-31.1 32.6-56.7 69.9-25.9-.7-51.7-2.3z" fill="#0092ff"/><path d="M1282.9 1248.6q-27.7-29.2-59.9-53.3-31.9-24.2-69.4-37.9-81.1-27.4-150.3 23l-2-3.4q27-43.2 62-80.2 17.7-18.5 38.4-33.6 19.6-14.4 42.3-23.3 49.1-18.8 97.9 .6 23 9.6 42.7 24.9 19.2 15 35.5 33 38.9-25.8 85-32.2 44.7-5 86.9 10.9 42.6 16.6 78.1 45.7 18 14.5 34.3 30.8l16.2 16.7q6.2 6.6 12.7 12.8-15-18.9-33.7-34.2-17.3-14.1-38.1-22.1-43.9-15.1-86.5 3.9-41.5 19.3-73.3 52.6-31.1 31.7-56.6 68.1-31.1-.7-62.2-2.8z" fill="#0af"/><path d="M1276.5 1242q-27.6-28.2-59.7-51.2-30.2-21.7-65.2-34.1-76.8-25.3-143.6 20.3-2-2.4-3.3-5.2 27.1-42.5 62.2-78.6 17.7-18 38.4-32.6 19.7-13.8 42.4-22.1 48.5-17 95.9 2.7 44.3 20.3 76.5 57.2 38.2-25.3 83.4-32 44.7-5.4 87.1 10.2 41.6 15.8 76.3 43.7 18 14.2 34.5 30.2l16.2 16.6q2.8 3.5 6.4 6.1 3.4 2.8 6.2 6.2-14.4-17.7-32.2-31.8-17.4-13.9-38.3-21.5-43.1-14-84.7 4.6-40.1 18.6-71.1 50.5-29.8 29.8-54.4 64.1-36.6-.7-73-3.3z" fill="#00c3ff"/><path d="M1269.8 1235.4q-25.9-25.6-55.6-46.4-29.5-20.8-63.5-32.6-73-23.9-137.7 17.3-3.1-3.2-4.9-7.1 27-41.6 62-76.6 17.7-17.5 38.3-31.4 19.6-13.4 42.1-21.1 48.5-15.8 95.4 4.7 42.8 20.3 74.2 56.2 38-25.2 83.1-32 43.4-5.4 84.8 9.3 41.3 15.1 75.9 42.3 18 13.8 34.4 29.6l16.2 16.2q3.1 3.1 6.7 5.7 3.2 2.7 5.8 6.1-14.5-17.1-32.4-30.6-16.9-12.7-36.8-19.5-41-12.7-80.7 4.3-38.7 17.2-68.9 47.2-29.7 28.8-54.2 62.2-42.2-.7-84.2-3.8z" fill="#00dbff"/><path d="M1262.8 1228.7q-25.7-24.5-55.2-44.1-27.5-18.4-58.9-28.9-68.6-21.8-130.5 14.7-4.3-3.8-6.6-9.1 27.1-40.7 62.2-74.8 33.8-33.6 78.4-49.5 47.7-14.9 93.6 5.1 42.9 20.4 74.3 56.3 36.5-24.2 79.5-31.4 43.3-6.4 84.8 7.5 41.3 14.3 76.1 40.9 18 13.5 34.4 29l16.2 15.9q7.4 4.6 12.6 11.5-27.1-31.8-66-46.3-39.8-12.4-78.6 3.5-38.4 16.5-68.6 45.8-28.3 27-51.9 58.3-48-.7-95.8-4.4z" fill="#00f4ff"/><path d="M1255.4 1221.9q-24.6-22.6-52.9-40.6-26.6-17-56.8-26.5-63.6-19.2-121.9 12.4-5.7-4.5-8.5-11.1 27.1-40 62.2-73.1 34-32.7 78.5-47.2 47.1-13.1 91.6 7.1 41.8 20.4 72.5 55.5 36.3-24 79.1-31.4 43-6.4 84.4 7.2 41 14 75.6 40.3 16.9 12.5 32.3 26.7l14.7 13.9q8.5 4.9 14.1 13-27-30.3-65-43.4-38.2-10.9-75.3 3.9-35.9 15-64.6 41.7-28.4 26-52 56.6-54.1-.5-108-5z" fill="#00ffec"/><path d="M1247.7 1215q-22.7-19.8-48.4-35.7-25.7-15.9-54.6-24.8-59.4-17.8-114.9 9.5-7.4-5-10.8-13.2 26.4-38 60.3-69.4 34-32.3 78.5-46.1 47.2-12.4 91.5 8.4 40.6 20.3 70.7 54.6l.3 0q35.5-23.5 77.3-31 41.8-6.7 82.3 5.8 41 13.1 75.6 38.6 16.8 12.2 32.2 26.1l8.1 7.4q3 3.4 6.9 5.6 8.7 5.1 14 13.5-26.6-28.4-63.5-40.2-37.2-9.9-73.1 4.5-34.5 14.3-62.2 39.5-27 24.2-49.5 52.6-60.5-.4-120.7-5.7z" fill="#00ffc8"/><path d="M1239.5 1208.1q-21.8-18.1-46.3-32.4-23.9-13.9-50.4-21.7-54.6-15.8-106.5 6.9-9.5-5.4-13.5-15.4 26.4-37.2 60.4-67.6 33.4-30.5 76.6-43.1 45.2-11.3 87.7 8.1 39.6 19.1 69.2 51.8l8.7 .4q35.9-22.5 77.7-28.6 40.2-5.1 78.8 7.2 38.7 12.7 71.7 36.6 16.8 12 32.2 25.8 6.8 6.9 15.2 11.7 7.8 4.8 11.9 12.8-25.7-26-60.5-36.7-35.1-9.2-69.3 3.6-34.5 13.4-62.2 38.1-25.8 22.4-47.4 48.8-67.2 0-134-6.3z" fill="#00ffa5"/><path d="M1230.6 1201q-40.3-32.7-89.8-47.6-49.5-13.8-97.4 4.5-5.7-3.3-10.6-7.8-4.5-4-6.1-9.9 25.7-35.3 58.5-64 32.7-29.2 74.6-41.4 44.1-11.1 85.8 7.3 38.5 17.9 67.7 49l17.5 .8q71.7-41.8 151.1-18.2 37.4 12.2 69.5 35.1 15.7 11 30.2 23.6 3.6 3.7 7.9 6.3l7.4 4.5q8.3 5 12 13.7-25.4-24.3-59.2-33.7-33.3-7.8-65.6 3.9-31.9 12.1-58 34.1-25.7 21.4-47.4 47-74.2 .2-148.1-7.2z" fill="#00ff81"/><path d="M1221 1193.8q-36.9-27.8-81.2-40.7-44.6-12.2-88.5 2-6.8-3.5-12.6-8.2-6.2-4.7-8-12 25.7-34.4 58.5-62.1 32.1-27.5 72.6-38.5 42.1-9.9 81.9 7 37.4 16.7 66 46.3l26.8 1.1q60.9-33.5 128.8-19.4 33.6 7.7 63.4 25.1 28 16.3 52.4 37.5 7.6 3.7 14.4 8.7 6.9 4.8 9.3 12.6-25.2-22.6-57.8-30.7-31.5-6.5-61.9 4.3-30.5 11.2-55.8 31.8-24.4 19.7-45 43.3-81.9 .6-163.3-8.1z" fill="#00ff5e"/><path d="M1210.3 1186.3q-33.4-23-72.5-33.7-38.8-10.1-77.6-.2-8.2-3.6-15.4-8.9-8-5-10-14 25-32.4 56.5-58.4 31.3-26.2 70.5-36.8 40.9-9.7 80 6.2 36.2 15.6 64.3 43.5l36.4 1.6q58.1-29.6 121.8-16.6 31.4 7.1 59.5 22.7 26.8 14.8 50.4 34.5 8.7 3.8 16.3 9.3 8 5.1 9.9 14-24.1-20.1-54.5-27.2-30.4-6-59.7 4.1-29.2 10.4-53.5 29.6-23 17.9-42.7 39.5-90.1 1.2-179.7-9.2z" fill="#00ff3a"/><path d="M1198.1 1178.6q-29.1-18-62.2-26.5-32.4-8-65.3-2.1-10.2-4-19.5-9.9-4.4-2.9-7.9-6.7-3.7-3.9-4.1-9.2 24.2-30.5 54.4-54.8 30.5-24.9 68.3-35.1 38.7-9.2 76.1 4.6 36.2 14.4 64.4 41.5 23.3 .7 46.7 2.1 55-25.6 114.3-13.7 29.1 6.4 55.4 20.2 25.6 13.4 48.2 31.3 9.5 3.9 17.9 9.6 4.5 3 7.8 7.2 3.2 3.8 3.1 8.7-23-17.8-51.5-23.9-28.5-5.2-56.1 3.9-27.9 9.4-51.5 27.3-21.8 16.2-40.6 36-99.3 1.9-197.9-10.5z" fill="#00ff16"/><path d="M1183.3 1170.3q-23.5-12.4-49.3-18.6-25-5.9-50.4-3.5-12.6-4.3-24.3-10.7-5.6-3.1-10.3-7.5-5.2-4.5-5.5-11.2 24.2-29.5 54.3-52.7 29.7-23.2 66-32.3 37.7-8.3 73.9 5.1 33.8 13.3 60.7 38 28.7 .7 57.5 2.5 52.1-21.9 107.5-10.6 52.7 12.5 95.7 45.6 10.9 4.1 20.6 10.4 4.7 3.1 8.3 7.4 3.6 4.5 2.7 10-47.4-33.1-102.6-16.4-25.5 8.5-47.3 24.3-20.6 14.6-38.4 32.5-110.1 2.8-219.1-12.3z" fill="#0f0"/><path d="M1048.1 1113.4q23.5-27.7 52.5-49.4 29-21.9 64.2-30.4 35.7-7.7 70.2 4.3 32.9 12.2 59.3 35.4 34.6 .7 69.1 3.2 47.9-17.9 98-8.1 48.7 10.8 89.3 40 12.2 4.2 23.1 10.9 5.4 3.2 9.4 8.1 4.2 5.1 2.1 11.3-44.6-28.2-95.2-13.5-24.1 7.6-45 21.9-19.2 13-36 29-95.3 2.8-190.1-7.5-24-2.7-47.8-6.4-6.6-.5-12.5-3l-10-3.5q-10.6-3.4-21.5-5.4-12.3-2.4-24.7-2.8-10.6-2.9-20.8-6.8-11-4-21.1-10-5-3-8.9-7.3-4-4.3-3.6-10z" fill="#0f0"/><path d="M1052.9 1108q23.5-26.8 52.6-47.5 27.5-19.5 60.3-27.1 33.7-7 66.5 3.6 31.9 11 57.7 32.7 40.9 .8 81.7 3.9 58.3-18.2 116.1 2.1 28.5 10 53.8 26.5 13.7 4.4 26.2 11.6 6.1 3.4 10.6 8.7 4.7 6.1 1.1 12.7-42.1-23.6-88.4-10.3-42.2 14-74.7 44.6-95.7 3.5-190.9-6.5-47.5-4.7-94.2-14.6-23.1-4.9-45.4-12.9-11.3-4-21.4-10.2-4.8-2.9-8.5-7.1-4.1-4.4-3.1-10.2z" fill="#0f0"/><path d="M1057.8 1102.6q22.6-24.8 50.2-43.8 26.5-18.3 57.8-25.4 32.5-6.8 64.1 2.9 30.6 9.8 55.7 29.9 47.8 .7 95.4 4.6 55.1-14 108.7 5.5 13.2 4.7 25.7 11l13.9 7.5q5.4 2.5 11.1 4.2 13.1 4.3 24.8 11.4 6 3.6 9.6 9.4 3 6.5-1.8 12-38-18.6-78.9-7.8-39 11.8-69.9 38.8-96.3 4.2-192.3-5.4-48-4.5-95.3-14.3-23.6-4.9-46.4-12.9-11.1-3.9-21.1-9.9-5-2.9-8.8-7.3-4-4.6-2.5-10.4z" fill="#0f0"/><path d="M1063 1097.1q22-23.1 48.5-40.6 25.1-16.5 54.3-23.1 30.6-6.5 60.7 1.9 29.7 8.7 54.4 27.4 55.6 .5 111 5.6 52.2-9.8 101.9 9.5 12.2 4.7 23.8 10.6 6.3 2.5 12.9 4.3l10.9 3.8q12 4.3 22.4 11.7 5.4 3.8 6.9 10 .2 6.3-4.9 10.3-35.1-14.3-71.7-4.5-33.7 9.9-61.3 31.9-97.4 5.1-194.6-4.2-48.5-4.3-96.3-13.9-23.5-4.7-46.1-12.4-11.5-3.9-22-10-5.1-3-9-7.6-4.1-4.9-1.8-10.7z" fill="#0f0"/><path d="M1068.5 1091.6q21-21.2 46.3-37.2 24.1-15.2 52-21.2 29.5-6 58.6 1.8 27.3 7.7 50.6 24.1 40.4 .3 80.7 2.9l40.4 3.3q9.7 1.3 19.4-.1 9.5-.5 18.9 0 20.6 1.1 40.5 6.7 9.9 2.8 19.6 6.6 7.8 3.7 16.2 5.7 19.4 4.8 37.5 13.3 9.2 4 15 12 2.6 4.7 0 9.3-2.6 4-6.8 6.6-29.8-9.6-60.3-2.1-29.6 7.7-54.5 25.5-99.2 6.3-198.2-2.8-49-4.2-97.2-13.6-23.9-4.6-46.9-12.3-11.7-3.9-22.3-10.1-5.1-3.1-8.8-7.7-3.7-5.2-.7-10.7z" fill="#0f0"/><path d="M1270.8 1055.6q40.6 .1 81.1 2.6l41.7 3.3 20.1 2.1q9.1 1.5 18.3 1.4 20.2 .7 39.7 5.8 19.2 5.4 38.5 9.9 19.7 4.8 37.6 14.1 4.6 2.6 8.3 6.3 3.7 3.3 4 8.2-.7 5.2-5.1 8.4-3.6 2.9-7.7 4.9-24.6-5.4-49.2 .4-23.4 5.8-44 18.4-77.7 6.2-155.5 2.1-77-3.1-152.7-17.8-19.7-4-38.8-10.2-9.4-3-18.4-7.4-8.4-3.7-14.4-10.6-3.6-4.6-1.1-9.8 2.9-4.2 7.1-7.2l14.1-11.8q15.2-12 32.3-21 34.6-18.7 73.6-16.9 38.4 3.3 70.5 24.8z" fill="#0f0"/><path d="M1265.2 1052.2q83.1-.4 165.5 10.1 40.6 4.9 80 15.5 20.3 4.9 37.5 16.1 4.3 3.1 6 8 .9 5.3-3.2 9-7.6 6.5-17.3 9.5-34-2.3-64.6 12.9-153.8 14.8-306.1-10.7-19.1-3.4-37.9-8.4-18.6-4.6-35.7-13.4-4.5-2.5-8.3-6.1-3.8-3.5-3.7-8.6 1.4-5.9 6.9-9.2l6.1-5q14.3-11.7 30.3-20.9 34.2-20.2 73.7-20.4 38.2 1.4 70.8 21.6z" fill="#0f0"/><path d="M1259.2 1048.7q62-.5 123.9 4.9 61.3 4.5 120.9 19.3 15.1 3.9 29.3 10.5 7.4 3.3 12.9 9.1 5.5 7.1-1.3 13.4-12.6 9.1-28.1 12.3-14.7 3.8-29.8 6.1-60.3 8.3-121.2 8-61.7 .2-123.1-5.4-61.2-4.7-120.4-20.3-15.6-4.2-29.5-12-7.5-3.7-10-11.3-.4-4 2.4-6.9l5.6-4.9q23.7-19.6 52.2-31.2 59.9-22.7 116.2 8.4z" fill="#07ff00"/><path d="M1252.7 1045.4q61-.9 121.7 4 59.2 4.1 117 17.1 14.7 3.5 28.9 8.9 7.2 2.8 13.9 6.9 7 3.6 8.7 10.9-.2 4.2-3.5 6.9-2.8 2.6-6.2 4.4-6.6 3.4-13.7 5.6-14.1 4.3-28.6 6.7-58.7 9.1-118.1 9-60.1 .6-120-4.4-59.4-4.3-117.3-17.9-14.9-3.7-29-9.6-7-2.9-12.9-7.5-7.4-5.1-4.2-12.7 5.2-6.3 12.4-10.6l12.1-8.1q12.5-7.8 26.1-13.5 57.2-23.4 112.7 3.9z" fill="#24ff00"/><path d="M1245.5 1042q58.6-1.2 117 3 57.9 3.6 114.7 15.1 14.6 3.1 28.9 7.7 13.9 3.9 25.7 12.1 7.4 5.3 3.4 12.9-4.9 5.4-11.7 8-13.4 5.4-27.5 8-56.9 10.2-114.8 10.4-58.4 1.1-116.6-3.2-57.6-3.8-114-15.6-14.2-3.1-28.1-7.7-14.3-3.9-25.6-13.2-6.1-6.8 .4-13.1 5.9-4.6 12.3-8.6 11.6-7.7 24.2-13.6 55.4-25.9 111.7-2.2z" fill="#41ff00"/><path d="M1237.5 1038.8q56.8-1.7 113.5 1.9 56.3 3.2 111.8 13.2 28.3 4.7 54.7 16 6.7 3 11.4 8.5 4.1 7-2.9 11.9-11.7 7.5-25.6 10.3-27.7 6.5-56.1 8.8-27.7 2.5-55.5 3.2-56.5 1.5-112.9-2.2-56-3.3-111.1-13.6-28.3-4.7-54.2-16.6-6.6-3-10.3-9.1-1.6-7.5 5.7-11.4 11.8-7.3 24.1-13.7 52.3-26.4 107.4-7.2z" fill="#5eff00"/><path d="M1228.1 1035.7q110-4.7 218.7 12.1 27.6 4.2 54 13 6.5 2.2 12.6 5.4 6.2 2.9 10 8.4 1.7 3.6-.5 6.9-2 2.7-5 4.5-5.5 3.4-11.7 5.4-26.4 7.9-53.8 10.4-26.5 2.9-53.1 3.9-109.2 4.5-217.1-12.3-27.3-4.2-53.4-12.9-6.7-2.3-12.9-5.7-6.3-2.9-9.7-8.7-1.3-3.6 1.1-6.7 2.1-2.5 4.9-4.2l11.7-6q49.6-27.9 104.2-13.5z" fill="#7bff00"/><path d="M1466.6 1093.1q-53 7.3-106.6 7-53 .2-105.9-4.2-52.8-3.8-104.3-16.1-12.8-3.2-24.8-8.5-6.1-2.6-10.8-7.3-4.8-6.1 1.4-11.2 5.6-4.2 12.3-6.4 6.2-2.1 12.1-4.9 11.6-4.9 23.8-7.7 26.3-6 52.8-.9 26.4-1.5 52.8-1.6 52.6-.2 105 4.2 52.4 3.7 103.5 15.6 12.9 3.2 25.1 8.4 6.2 2.5 11.2 6.8 5.8 5.2 1.1 11-10.5 8.2-23.8 10.8-12.3 3.1-24.9 5z" fill="#98ff00"/><path d="M1461.1 1087q-51.1 6.8-102.8 6.6-51.2 .2-102.1-4-51.1-3.6-100.9-15.3-12.4-3-24-8.2-6-2.4-10.6-6.9-4.7-5.8 1.2-10.7 10.7-7.2 23.5-9.6 11.6-3.5 23.4-6.1 13.6-2.6 27.4-2.2 12.1-.2 24.3-1.2 25.1-1.4 50.2-1.5 51-.3 101.8 3.9 50.7 3.6 100.1 15 12.4 3.1 24.2 8 5.9 2.5 10.7 6.6 5.5 5 .9 10.5-10.2 7.8-23.1 10.3-12 3-24.2 4.8z" fill="#b5ff00"/><path d="M1455.5 1080.8q-49.3 6.5-99 6.3-49.2 .2-98.2-3.8-49.3-3.5-97.3-14.6-11.9-2.9-23.3-7.7-5.7-2.4-10.2-6.6-4.7-5.5 .9-10.3 10.3-6.8 22.6-9.1 11.4-2.8 23-4.4 49.5-6.5 99.5-6.2 48.6-.1 97 3.8 48.9 3.5 96.6 14.4 11.9 2.9 23.2 7.6 5.7 2.3 10.3 6.3 5.3 5 .4 10.3-9.9 7.1-22.2 9.5-11.5 2.8-23.3 4.5z" fill="#d2ff00"/><path d="M1449.7 1074.6q-47.3 6.1-95 5.9-47.2 .2-94.3-3.6-47.2-3.2-93.4-13.7-11.6-2.8-22.5-7.4-5.4-2.2-9.7-6-4.9-5 .2-9.8 9.9-6.7 21.9-9 10.9-2.6 22.1-4.1 47-6.1 94.4-5.9 46.9-.2 93.6 3.5 47.2 3.2 93.4 13.6 11.6 2.7 22.6 7.2 5.5 2.2 10 6 5.3 4.6 .8 9.8-9.7 7-21.7 9.2-11.1 2.7-22.4 4.3z" fill="#efff00"/><path d="M1443.6 1068.3q-45.2 5.9-90.9 5.6-45 .2-90-3.4-45.3-3-89.5-12.9-11.1-2.6-21.6-7-5.4-2.1-9.7-5.9-4.5-4.9 .5-9.3 9.7-6.4 21.4-8.4 10.6-2.5 21.4-4 45.3-5.7 91.1-5.4 44.3-.2 88.5 3.3 45.3 3.1 89.6 13 11 2.5 21.6 6.8 5.4 2.1 9.7 5.9 4.8 4.6 .1 9.2-9.4 6.4-20.7 8.5-10.6 2.5-21.5 4z" fill="#fff200"/><path d="M1437.3 1062.1q-43.1 5.4-86.6 5.2-42.9 .2-85.6-3.2-43.2-2.9-85.4-12.2-10.6-2.4-20.7-6.5-5-2-9.1-5.4-4.7-4.5 .1-8.9 9.2-6.1 20.2-8 10.1-2.3 20.5-3.7 43.3-5.5 87.1-5.2 42.4-.2 84.7 3.2 43.3 2.9 85.5 12.2 10.6 2.4 20.6 6.5 5.1 2 9.2 5.5 4.4 4.5-.2 8.7-9 6-19.8 8-10.2 2.4-20.5 3.8z" fill="#ffd400"/><path d="M1430.6 1055.8q-41.5 5.1-83.4 4.9-40.6 0-81-3.1-40.7-2.8-80.5-11.5-10.2-2.4-19.9-6.4-4.9-1.9-8.6-5.4-3.5-4.7 1.5-8.2 8.8-5.2 19-7.1 9.8-2.1 19.6-3.4 81.3-8.8 162.8-1.8 40.7 2.7 80.5 11.4 10 2.2 19.6 6 4.9 1.9 9 5.2 4.4 4.3-.1 8.4-8.6 5.6-18.9 7.4-9.7 2.3-19.6 3.6z" fill="#ffb700"/><path d="M1423.6 1049.4q-77.2 8.3-154.7 1.7-38.4-2.6-75.9-10.7-9.5-2.1-18.5-5.7-4.5-1.7-8.2-4.9-4-4.1 .6-7.8 8.3-5.1 18.1-6.8 9.1-2 18.5-3.3 76.9-8.2 154-1.6 38.4 2.6 76 10.6 9.5 2.2 18.5 5.7 4.6 1.7 8.3 4.8 4.1 4.1-.3 7.8-8.2 5.3-17.9 6.9-9.2 2.1-18.5 3.3z" fill="#ff9a00"/><path d="M1416.1 1043q-72.1 7.6-144.4 1.5-36.2-2.3-71.7-10-9-2-17.5-5.4-4.3-1.6-7.5-4.7-3.1-4.3 1.6-7.2 7.8-4.4 16.7-6 8.7-1.8 17.5-2.9 71.9-7.6 143.9-1.4 36 2.3 71.2 9.8 8.8 2 17.2 5.3 4.3 1.6 7.7 4.4 3.8 4-.6 7.4-7.8 4.6-16.8 6.2-8.5 1.9-17.3 3z" fill="#ff7400"/><path d="M1408.2 1036.5q-66.6 7-133.4 1.4-33.6-2.2-66.4-9.1-8.4-1.8-16.4-5-3.9-1.5-7-4.3-3-3.8 1.3-6.6 7.5-4.1 16-5.5l15.6-2.7q66.8-6.9 133.8-1.3 33.4 2.2 66 9.1 8.2 1.8 15.9 4.8 4 1.5 7.2 4.3 3.2 3.8-1.2 6.7-7.2 4.1-15.4 5.5l-16 2.7z" fill="#ff4800"/><path d="M1399.5 1029.9q-61.1 6.3-122.4 1.2-30.4-2-60.2-8.2-7.6-1.7-14.8-4.5-3.7-1.4-6.5-4-2.3-3.7 1.8-6 13.8-6.1 29-7.2 60.9-6.2 122-1.1 30.5 2 60.4 8.2 7.3 1.7 14.4 4.4 3.6 1.3 6.4 3.8 2.8 3.6-1.2 6.1-13.7 6.3-28.9 7.3z" fill="#ff1c00"/><path d="M1390 1023.3q-54.5 5.4-109.2 .9-27.4-1.7-54.4-7.3-6.7-1.5-13.1-4-3.2-1.1-5.7-3.5-2-3.4 1.9-5.4 12.5-5.2 26.1-6.2 54.5-5.4 109.1-.9 27.1 1.7 53.6 7.2 6.8 1.4 13.3 4 3.2 1.1 5.7 3.4 2.4 3.1-1.3 5.3-12.4 5.5-26 6.5z" fill="#ff0d00"/><path d="M1379.3 1016.4q-47.5 4.6-95 .7-23.6-1.4-46.8-6.2-5.8-1.3-11.3-3.4-2.8-1-4.9-3.2-1.5-2.9 1.8-4.4 10.7-4.5 22.4-5.3 47-4.6 94.2-.8 23.6 1.4 46.8 6.1 5.9 1.3 11.6 3.4 2.9 1 5.1 3 1.9 2.8-1.3 4.6-10.8 4.6-22.6 5.5z" fill="#f00"/><path d="M1366.6 1009.2q-38.5 3.7-77.2 .6-19.3-1.2-38.2-5-4.7-1-9.3-2.7-2.3-.8-4.1-2.5-1.4-2.5 1.5-3.7 8.8-3.6 18.4-4.3 38.5-3.7 77-.6 19.3 1.2 38.3 5 4.8 1 9.4 2.8 2.3 .8 4 2.4 1.5 2.3-1.2 3.6-8.9 3.7-18.6 4.4z" fill="#fb0000"/><path d="M1350.3 1001.5q-27.3 2.6-54.7 .4-13.7-.8-27.1-3.6l-6.6-1.9q-4.8-1.8-1.2-4.4 6.4-2.4 13.1-2.9 27.4-2.5 54.8-.3 13.6 .8 26.9 3.6l6.5 1.9q4.8 1.8 1.2 4.4-6.2 2.3-12.9 2.8z" fill="#f70000"/></g>
<path d="M1325.5 1280.4q-30.6-38-66.9-70.7-35.5-32.4-78.7-53.4-22.5-10.7-47-15.3-23.4-4.4-47.1-1.5-47.8 7.1-85 38.3M1313.2 1282.6q28.6-46.3 64.2-87.4 17.5-19.8 37.5-37.1 19.6-16.9 42.3-29.1 24.3-13.1 51.6-15.7 26.4-2.1 50.8 8.1 24.7 10.7 44.3 29.3 18.9 17.8 33.9 39.1M1331.7 1271q-30.7-38-66.9-70.6-35.6-32.4-78.9-53.3-22.6-10.5-47.1-15.1-23.5-4.4-47.2-1.4-48 7.3-85.3 38.7M1307.1 1275.3q26.8-43.2 59.6-82 16.2-19 34.6-35.8 18.4-16.9 39.7-29.9 21.8-13.4 46.7-19.1 24.8-5.3 49.5 .6 25.1 6.6 45.8 22.3 19.6 14.9 35.3 33.9M1621.5 1169.2l10.7 14M1337.8 1261.9q-30.7-37.9-66.9-70.5-35.7-32.3-79-53.1-22.6-10.5-47.2-15.1-23.6-4.2-47.3-1.2-48.1 7.5-85.6 39M1301 1268.3q26.7-43.2 59.6-82 16.9-19.7 36.1-37 17.8-16.1 38.2-28.5 21.9-13.4 46.8-19 24.2-5.2 48.2 .4 24.5 6.1 44.9 20.9 19.7 14.5 35.6 33.2M1619.1 1166.9l7.4 9.9M1344 1253.1q-30.7-37.9-67-70.4-36.3-32.9-80.5-53.6-44.6-20.9-93.3-15.4-23.9 3.3-45.7 13.7-21.6 10.4-40.1 25.6M1294.8 1261.5q26.2-42.2 58.2-80.2 16.2-19.1 34.6-36 17.8-16.5 38.3-29.4 21.3-13.5 45.6-19.7 24.2-6.1 48.6-1.4 24.5 5.3 45.3 19.5 19.9 13.7 35.9 31.9M1613.4 1160.7l7.5 9.9M1350.1 1244.5q-30.7-37.8-67-70.3-36.3-32.8-80.6-53.4-22.7-10.3-47.3-14.5-23.7-3.9-47.5-.5-47.7 8.1-84.8 39.5M1288.8 1254.8q26.1-42.1 58-80 31-37.6 71.6-64.5 21.3-13.6 45.7-20.2 23.5-6.1 47.4-2 24.6 4.6 45.6 18.4 20.1 13.3 36.3 31.2M1611 1158.8l4.3 5.8M1356.2 1236.3q-30.7-37.9-67.1-70.2-36.3-32.8-80.6-53.4-45.5-20.9-95-14.7-47.8 8.3-85 39.8M1282.7 1248.4q26.1-42.1 58-80 31-37.5 71.6-64.3 20.7-13.2 44.3-19.8 23.6-6.3 47.6-2.5 24 4.2 44.6 17.2 20.2 12.8 36.6 30.4M1605.3 1153l4.3 5.8M1362.3 1228.3q-30.7-37.8-67.1-70.1-36.3-32.8-80.7-53.2-45.6-20.9-95.1-14.5-48 8.4-85.3 40M1276.6 1242.2q26.1-42.1 58-79.9 30.5-36.8 70.1-63.3 20.8-13.5 44.5-20.3 22.9-6.4 46.4-3.2 24.1 3.6 44.9 16.2 20.3 12.4 36.9 29.6M1601.8 1150.2l2.2 2.9M1368.4 1220.6q-30.7-37.8-67.1-70-36.4-32.7-80.8-53.1-45.7-20.8-95.3-14.2-48.1 8.5-85.6 40.2M1270.6 1236.2q25.4-41.1 56.4-78.1 30.5-37.1 70.2-64 20.8-13.7 44.5-20.8 23-6.6 46.6-3.7 24.1 3.4 45.1 15.7 19.7 11.8 35.9 28.1M1596.2 1144.7l2.1 2.9M1374.5 1213.2q-30.7-37.7-67.1-69.9-36.5-32.7-80.9-52.9-45.8-20.8-95.5-14.1-48.2 8.7-85.8 40.5M1264.5 1230.3q25.5-41 56.5-77.9 29.9-36.4 68.7-63 20.1-13.5 43.2-20.8 22.9-7.2 46.8-4.8 24.2 2.8 45.3 14.7 19.9 11.3 36.3 27.3M1380.6 1206.1q-31.4-38.5-68.7-71.2-36.4-32.3-80.8-52.1-45.4-19.9-94.2-13.2-24.3 3.9-46.4 14.9-21.3 10.6-39.7 25.8M1258.5 1224.7q25.5-41 56.4-77.9 29.4-35.6 67.3-61.9 19.5-13.2 41.8-20.8 22.3-7.4 45.7-6 23.5 1.8 44.5 12.5 20.7 10.7 37.8 26.7M1386.6 1199.2q-31.3-38.4-68.6-71-36.5-32.3-81-52-46-20.2-95.6-12.8-47.7 9.1-85 40.7M1252.5 1219.3q24.8-39.9 54.9-76 29.4-36 67.3-62.7 19.5-13.4 41.9-21.2 22.3-7.7 45.8-6.5 23.5 1.6 44.6 12 20.2 10.1 36.9 25.2M1392.7 1192.7q-31.4-38.4-68.7-71-36.5-32.2-81-51.8-46.2-20.1-95.8-12.7-47.8 9.3-85.1 40.9M1246.6 1214.1q24.7-39.9 54.8-76 28.8-35.1 65.8-61.5 19.6-13.7 42-21.7 21.6-7.7 44.6-7.1 23.5 1 44.8 11 20.3 9.7 37.1 24.4M1398.7 1186.4q-31.3-38.4-68.7-70.8-36.5-32.2-81-51.8-46.3-20-95.9-12.5-48 9.4-85.4 41.1M1240.6 1209q24.8-39.8 54.8-75.8 28.8-35.1 65.8-61.4 18.9-13.2 40.6-21.2 21.6-7.9 44.7-7.5 22.8 .7 43.7 9.9 20.3 9.1 37.4 23.6M1404.7 1180.4q-31.3-38.3-68.7-70.7-36.5-32.2-81-51.6-46.4-20-96.1-12.4-48.1 9.4-85.6 41.2M1234.7 1204.2q24.1-38.8 53.2-73.9 28.3-34.8 64.3-61.1 19-13.6 40.8-22.1 21-8.2 43.4-8.6 22.9-.1 44.1 8.4 20.4 8.4 37.7 22.3M1410.7 1174.7q-31.3-38.3-68.7-70.6-36.6-32.1-81.1-51.5-46.4-19.9-96.2-12.3-48.1 9.6-85.8 41.4M1228.8 1199.6q24-38.7 53.1-73.9 28.3-34.6 64.4-61 18.3-13.1 39.3-21.5 21-8.3 43.5-9 22.2-.4 42.9 7.4 20.6 7.9 37.9 21.4M1416.6 1169.3q-31.3-38.3-68.6-70.5-36.6-32.1-81.1-51.4-46.6-19.9-96.4-12.1-48.2 9.5-86 41.4M1222.9 1195.2q24-38.7 53.1-73.8 27.7-33.9 62.8-59.9 18.4-13.3 39.4-21.9 20.3-8.3 42.3-9.5 22.1-.9 43.1 6.4 20.6 7.4 38.1 20.6M1422.5 1164.2q-31.2-38.2-68.6-70.5-37.1-32.5-82.6-51.8-45.9-19.2-94.9-11.4-48.4 9.6-86.2 41.5M1217 1191q23.4-37.7 51.5-71.9 27.7-34.2 62.9-60.5 18.4-13.5 39.4-22.4 19.7-8.3 41-9.9 22.2-1.4 43.3 5.4 19.9 6.7 37.1 18.8M1428.5 1159.3q-31.3-38.1-68.6-70.3-36.6-32-81.2-51.2-46-19.5-95.2-12.1-48.5 9.3-86.6 41M1211.2 1186.9q23.4-37.5 51.5-71.7 27.1-33.4 61.3-59.4 17.8-13.2 38-22.2 19.7-8.7 41.1-10.8 44.2-3 80.9 22.3M1434.3 1154.8q-31.2-38.1-68.5-70.3-36-31.4-79.8-50.4-45.3-19.6-94.1-13.1-47 8.1-84.7 37.8M1205.4 1183.1q23.3-37.5 51.4-71.7 26.5-32.6 59.8-58.1 17.8-13.5 38.1-22.6 19-8.6 39.8-11.2 44.1-4.1 81.2 20.4M1440.2 1150.5q-30-36.5-65.5-67.6-35.5-31.4-78.4-51.1-44-20-91.9-15.6-47.2 6-85.7 34.3M1199.6 1179.5q22.7-36.5 49.8-69.8 26.5-32.9 59.9-58.8 17.1-13.1 36.6-22.3 19-9.1 39.9-12.1 43.2-5.2 80.4 17.7M1446 1146.5q-29.9-36.4-65.4-67.5-34.3-30.2-75.6-49.7-42.6-20-89.5-17.4-46.5 4.3-85.2 30.8M1193.9 1176.1q22.6-36.5 49.7-69.7 25.9-32.1 58.3-57.6 17.2-13.3 36.7-22.7 19-9.3 40-12.6 42.3-5.6 79.3 16.1M1451.8 1142.8q-29.3-35.6-63.9-66.1-33.6-29.9-74.1-49.6-41.3-20-87.1-18.9-45.8 2.5-84.7 27.2M1188.1 1172.9q22-35.4 48.2-67.8 25.9-32.4 58.3-58.2 16.5-12.9 35.2-22.4 18.4-9.4 38.7-13.3 42.1-7.2 79.8 13.3M1457.6 1139.4q-28.6-34.8-62.3-64.7-33.1-29.6-72.8-49.4-40.6-20.4-86-20.4-44.3 1.2-82.7 23.7M1182.4 1169.8q22-35.3 48.1-67.6 25.9-32.4 58.3-58.1 16.5-13 35.2-22.4 17.8-9 37.3-13 41.3-7.6 78.7 11.7M1463.3 1136.2q-27.9-33.9-60.7-63.2-32.5-29.3-71.3-49.2-39.4-20.4-83.5-21.9-43.7-.2-82.2 20.4M1176.7 1167q22-35.3 48.1-67.5 25.3-31.6 56.7-56.9 15.9-12.6 33.8-22.1 17.8-9.4 37.3-13.8 40.4-8.5 77.8 9.2M1469 1133.4q-27.3-33.1-59.2-61.8-31.8-28.9-69.8-49.1-38.1-20.2-81-23-42.9-1.8-81.5 17M1171.1 1164.4q21.9-35.3 48-67.5 24.6-30.7 55.2-55.6 15.8-12.8 33.7-22.4 17.8-9.6 37.5-14.3 39.5-8.8 76.5 7.7M1474.7 1130.8q-27.3-33.1-59.1-61.7-30.7-27.7-66.9-47.4-37.4-20.5-79.8-24.3-41.4-2.9-79.4 13.9M1165.5 1161.9q21.2-34.1 46.4-65.5 24.6-31 55.1-56.2 31-26.1 69.9-37.1 38.6-9.6 75.5 5.3M1480.4 1128.5q-26.6-32.2-57.6-60.3-30-27.3-65.4-47.1-36.2-20.3-77.2-25.3-40.7-4.3-78.7 10.7M1159.9 1159.7q21.2-34.1 46.3-65.4 24.1-30.2 53.6-54.9 30.4-26 68.5-37.5 38.4-10.6 75.8 3.4M1486 1126.5q-26-31.4-56-58.8-28.8-26.4-62.5-46-34.9-20.4-74.6-26.9-39.9-5.8-78.1 7M1154.3 1157.6q20.6-33 44.8-63.4 24-30.5 53.6-55.5 29.8-25.7 67-37.8 37.6-11.3 74.7 1.2M1491.6 1124.7q-25.3-30.5-54.5-57.3-28.1-26-61-45.6-34.2-20.5-73.3-27.9-38.4-6.6-75.8 4.3M1148.8 1155.8q20.5-33 44.7-63.4 23.4-29.6 52-54.1 29.2-25.5 65.6-38.2 37.5-12.1 75-.6M1497.1 1123.3q-24.6-29.7-52.9-55.9-28.1-26.2-61-46.1-32.9-19.9-70.5-27.9-37-7.3-73.5 1.7M1143.3 1154.1q20.5-32.9 44.6-63.2 22.8-28.8 50.5-52.9 28.6-25.2 64.2-38.4 36.5-12.8 73.8-2.7M1502.6 1122.1q-23.9-28.9-51.3-54.5-26.8-25.1-58-44.7-31.7-19.9-67.9-29-36.2-8.7-72.7-1.7M1137.8 1152.6q19.8-31.8 43.1-61.3 22.8-29 50.4-53.3 28-25 62.8-38.6 35.6-13.4 72.6-4.9M1508.1 1121.2q-23.2-28.1-49.7-53-26.2-24.8-56.6-44.2-31-20-66.5-29.8-34.8-9.3-70.3-3.9M1132.4 1151.3q19.8-31.8 43-61.2 22.7-28.9 50.4-53.2 27.9-24.9 62.7-38.6 34.2-12.8 69.9-5.5M1513.5 1120.5q-22.5-27.2-48.1-51.5-25.6-24.3-55.1-43.6-29.7-19.7-63.8-30.1-33.3-10-67.9-6.6M1127 1150.2q19.7-31.7 42.9-61.1 22.1-28.1 48.8-51.9 27.4-24.6 61.3-38.7 33.4-13.3 68.8-7.4M1518.9 1120.1q-22.5-27.1-48.1-51.4-24.2-23-52-41.6-28.5-19.3-61-30.3-32.6-10.8-66.8-8.9M1121.7 1149.3q19-30.7 41.3-59.1 22.1-28.4 48.8-52.4 26.7-24.4 59.8-38.8 32.5-13.8 67.5-9.3M1524.2 1120q-21.8-26.3-46.4-49.9-23.6-22.6-50.5-41.1-27.9-19.2-59.6-30.7-30.6-10.9-63-10.7M1116.3 1148.6q19.1-30.6 41.3-59 21.4-27.6 47.2-51 26.1-24.1 58.4-38.9 32.4-14.5 67.6-10.9M1529.6 1120.1q-41.1-50.6-93.9-88.7-26.6-18.8-56.8-30.7-29.2-11.4-60.5-12.8M1111 1148q19-30.5 41.2-58.9 20.8-26.7 45.7-49.6 25.5-23.7 56.9-38.8 31.6-15 66.4-12.6M1534.8 1120.5q-39.9-49.1-90.8-86.5-25.2-18.2-53.9-30.4-28.5-12.1-59.3-14.8M1105.8 1147.7q18.3-29.5 39.6-56.9 20.8-26.9 45.6-50.1 24.9-23.5 55.4-38.8 30.8-15.3 65.1-14.2M1540 1121.2q-38.7-47.6-87.6-84.3-24-17.6-51.1-30-27.1-12.4-56.7-16.4M1100.6 1147.5q18.2-29.4 39.5-56.8 20.1-26.1 44.1-48.6 24.2-23.2 53.9-38.7 30-15.7 63.8-15.8M1545.2 1122.1q-36.9-45.2-83.1-80.9-23.3-17.7-49.6-30.5-25.8-12.6-54.1-17.9M1095.4 1147.5q17.6-28.4 37.9-54.8 20.1-26.3 44-49.1 24.3-23.4 53.9-39.2 28.7-15.3 61.1-16.6M1550.4 1123.3q-35.7-43.7-80.1-78.6-22-17-46.7-29.8-24.5-12.8-51.3-19.1M1090.2 1147.7q17.6-28.3 37.9-54.7 19.5-25.4 42.5-47.6 23.6-23.1 52.4-39.1 28.5-15.9 61.1-18M1555.5 1124.8q-34.5-42.2-77-76.2-21.3-16.9-45.2-29.9-22.5-12.2-47.2-19.2M1085.1 1148q17.5-28.2 37.8-54.6 18.8-24.5 40.9-46.1 23-22.6 50.9-38.8 27.9-16.2 59.8-19.4M1560.5 1126.4q-32.6-39.8-72.3-72.5-39.1-32.6-86.9-49.5M1080 1148.6q32.8-54.2 77.1-99.2 22.4-22.2 49.4-38.5 27.2-16.4 58.5-20.6M1565.5 1128.4q-31.4-38.3-69.2-70.1-36.7-31-81.2-48.8M1075 1149.3q32.1-53.2 75.5-97.5 22.3-22.5 49.3-39.1 25.8-15.9 55.6-20.9M1570.5 1130.6q-29.5-36-64.7-66.3-34.8-30.2-76.9-49M1070 1150.2q31.5-52.2 73.8-95.9 21.8-22.1 47.9-38.7 25.1-16.1 54.2-22M1575.4 1133q-27.6-33.6-60.2-62.4-32.4-28.8-71.1-48.2M1065 1151.2q31-51.1 72.3-94.2 21.1-21.7 46.3-38.3 24.4-16.2 52.8-23M1580.3 1135.6q-26.3-31.9-57.1-59.6-30-27.1-65.3-46.4M1060.1 1152.4q30.4-50.1 70.6-92.5 20.5-21.3 44.9-37.9 23.7-16.2 51.4-23.8M1585.1 1138.5q-24.4-29.6-52.6-55.6-27.4-25.4-59.5-44.6M1055.2 1153.8q29.8-49.1 69-90.9 19.9-20.8 43.4-37.3 23-16.3 50-24.6M1589.9 1141.7q-22.5-27.3-48.1-51.5-25.6-24.2-55.1-43.4M1050.4 1155.4q29.2-48.1 67.4-89.2 19.2-20.4 41.8-36.8 22.4-16.3 48.6-25.3M1594.6 1145q-40.6-50.2-92.9-87.9M1045.5 1157.1q28.6-47 65.9-87.5 18.5-19.9 40.3-36.2 21.7-16.3 47.1-25.9M1599.3 1148.6q-36.6-45.1-82.6-80.5M1040.8 1159q28-46 64.2-85.8 18.5-20.1 40.2-36.6 20.5-15.6 44.3-25.3M1603.9 1152.4q-32.5-39.9-72.3-72.5M1036 1161q27.4-45 62.7-84 17.8-19.6 38.7-35.9 19.8-15.6 42.8-25.8M1608.5 1156.5q-28.3-34.6-62-64.1M1031.4 1163.3q26.7-44 61-82.4 17.2-19 37.2-35.1 19.1-15.5 41.3-26.1M1613.1 1160.8q-24.1-29.3-51.8-55M1026.7 1165.6q25.6-42 58-79 16.6-18.7 35.7-34.8 18.5-15.5 39.9-26.7M1617.5 1165.2q-18.9-23-40.1-43.9M1022.1 1168.1q25-40.9 56.5-77.2 15.9-18.1 34.1-33.9 17.9-15.4 38.4-26.9M1622 1169.9q-14.4-17.4-30.1-33.7M1017.5 1170.8q24.4-39.9 54.9-75.4 30.1-35.6 69.6-60M1626.4 1174.8q-9.1-10.9-18.6-21.4M1013 1173.7q23.8-39 53.3-73.7 28.9-34.5 66.7-58.9M1630.7 1179.9l-8.5-10.1M1008.5 1176.6q23.2-37.8 51.8-71.8 27.2-32.7 62.2-56.9M1635 1185.3l-15.6-18.2M1004.1 1179.8q22-35.9 48.8-68.4 26.6-32.6 60.7-57.2M1639.2 1190.8q-14.2-17.3-29.6-33.5M999.7 1183.1q21.3-34.9 47.2-66.5 25.5-31.5 57.7-55.9" fill="none" stroke="#000" stroke-opacity=".78" stroke-width="1.5"/>
<path d="M1319.4 1290q-30.7-38-66.9-70.7-35.4-32.5-78.6-53.6-21.8-10.4-45.5-15.2-23.4-4.7-47.1-2.1-48.4 6.6-86 38.1M1319.4 1290q28.6-46.3 64.2-87.4 17.4-19.9 37.5-37.2 19.5-16.9 42.2-29.2 24.2-13.1 51.6-15.8 26.3-2.1 50.6 8 24.7 10.6 44.2 29.1 18.8 17.8 33.7 39M1643.4 1196.5q-22.3-27.3-47.9-51.6M995.3 1186.5q20.7-33.9 45.7-64.7 23.8-29.5 53.4-53.1" fill="none" stroke="#000" stroke-width="1.5" stroke-linejoin="round"/>
<g font-size="11.6" fill="#111"><path d="M997.1 1203.6h-4" stroke="#000" stroke-width="2"/><text transform="translate(987.1,1214.1) scale(1.655,1)" text-anchor="end">15</text><path d="M992.8 1150.5h-4" stroke="#000" stroke-width="2"/><text transform="translate(982.8,1161) scale(1.655,1)" text-anchor="end">32.5</text><path d="M988.6 1097.5h-4" stroke="#000" stroke-width="2"/><text transform="translate(978.6,1108) scale(1.655,1)" text-anchor="end">50</text><path d="M984.3 1044.4h-4" stroke="#000" stroke-width="2"/><text transform="translate(974.3,1054.9) scale(1.655,1)" text-anchor="end">67.5</text><path d="M980.1 991.4h-4" stroke="#000" stroke-width="2"/><text transform="translate(970.1,1001.9) scale(1.655,1)" text-anchor="end">85</text><circle cx="1319.4" cy="1364.7" r="1.7"/><text transform="translate(1327.9,1375.7) scale(1.655,1)">25.00</text><circle cx="1399" cy="1340.8" r="1.7"/><text transform="translate(1407.5,1351.8) scale(1.655,1)">30.00</text><circle cx="1478.5" cy="1317" r="1.7"/><text transform="translate(1487,1328) scale(1.655,1)">35.00</text><circle cx="1558.1" cy="1293.1" r="1.7"/><text transform="translate(1566.6,1304.1) scale(1.655,1)">40.00</text><circle cx="1637.7" cy="1269.3" r="1.7"/><text transform="translate(1646.2,1280.3) scale(1.655,1)">45.00</text><circle cx="1319.4" cy="1364.7" r="1.7"/><text transform="translate(1309.9,1375.7) scale(1.655,1)" text-anchor="end">1.00</text><circle cx="1240" cy="1340.9" r="1.7"/><text transform="translate(1230.5,1351.9) scale(1.655,1)" text-anchor="end">2.25</text><circle cx="1160.7" cy="1317" r="1.7"/><text transform="translate(1151.2,1328) scale(1.655,1)" text-anchor="end">3.50</text><circle cx="1081.3" cy="1293.2" r="1.7"/><text transform="translate(1071.8,1304.2) scale(1.655,1)" text-anchor="end">4.75</text><circle cx="1001.9" cy="1269.3" r="1.7"/><text transform="translate(992.4,1280.3) scale(1.655,1)" text-anchor="end">6.00</text></g>
<text transform="translate(1681.5,1359.2) scale(1.513,1)" font-size="17.6" text-anchor="end">B: Temperature</text>
<text transform="translate(921.5,1359.2) scale(1.513,1)" font-size="17.6">D: Ammonium nitrate</text>
<text transform="translate(1311,979) scale(1.11,1)" font-size="57" font-weight="bold" text-anchor="middle">h</text>
</g>
<g id="pd">
<path d="M132.6 1445.1L491.5 1397.4L849.5 1445.1L826.2 1730.5L490.8 1828.2L156.2 1730.5z" fill="#ff0"/>
<path d="M132.6 1445.1L491.5 1397.4L849.5 1445.1M156.2 1730.5L491.6 1654.2L826.2 1730.5" fill="none" stroke="#330" stroke-width="1.1" stroke-dasharray="3.2 2.2"/>
<path d="M491.5 1397.4L491.6 1654.2" fill="none" stroke="#442" stroke-width="1"/>
<path d="M849.5 1445.1L826.2 1730.5M132.6 1445.1L156.2 1730.5" fill="none" stroke="#221" stroke-width="1.1"/>
<g fill="none" stroke-width="1.1" opacity=".85"><path d="M517.6 1820.4q-40.3-2.6-80.3-7.8M192.3 1741q-9-6.4-15.4-15.2M487.2 1655.2l13.4 1M779.2 1719.7q14.1 7.1 26.4 16.8" stroke="#3e3"/><path d="M559.7 1808.1q-92.3-1.9-182.9-19.3-44.9-8.5-88.2-23.2-21.9-7.4-42.4-18.4-10.2-5.5-19.1-12.9-8.7-6.9-12.5-17.1M456 1662.3q68.7 3.2 136.5 14.9M675 1696q26.8 7.6 52.4 18.9 12.5 5.6 24 13.1 11.8 7.2 19.5 18.6" stroke="#3e3"/><path d="M628.7 1788q-51.2 5.2-102.6 2.7-49-2.1-97.5-9.4-49.2-7.1-96.6-21.9-23.5-7.2-44.8-19.2-10.3-5.7-17.9-14.6-8.1-9.7-2.1-20.4M410.1 1672.7q87.1-.9 172.7 15.2 42.6 7.7 83.2 22.6 20.5 7.3 38.2 19.9 9.1 6.3 12.7 16.6 1.4 10.8-7.5 17.5" stroke="#5e2"/><path d="M613 1762.5q-21.8 5.2-44.1 6.5-21.2 1.5-42.3 1.1-41.4-.8-82.3-7-42.1-5.7-81.7-20.8-10-4-18.9-9.9-4.5-3-8.1-7.1-3.1-3.5-3.5-8.2 .2-5.8 4.8-9.5 3.9-3.3 8.5-5.4 9-4.1 18.5-6.3 41.5-8.7 84-7.2 42.1 .6 83.8 7 41.5 5.7 80.6 20.5 9.8 3.9 18.7 9.6 4.3 2.7 7.8 6.4 3.6 3.6 4.5 8.5 .4 5.9-4.2 10-3.6 3.2-7.9 5.3-8.8 4.2-18.2 6.5" stroke="#b4ff00"/></g>
<path d="M156.2 1730.5L490.8 1828.2L826.2 1730.5" fill="none" stroke="#220" stroke-width="1.3" stroke-dasharray="3.2 1.4"/>
<g><path d="M832.2 1657.5q-33.8-34.7-73.2-62.7-39.2-28-84.6-43.8-94.4-31.1-182.9 14.1-17.8-22.4-39.3-41.3-20.6-18.2-45.2-30.1-53.5-24.7-107.8-1.6-26.6 12-48.8 31.1-20.7 17.6-38.2 38.4-35.4 42.5-62.5 90.9 41.7-27.5 91.3-32 49.3-3 95.2 15.7 44.8 18.3 83.3 47.8 38.1 29 71.2 63.5 29.8-51.5 67.4-97.4 18.9-22.9 41.1-42.6 20.3-18.3 44.3-31.1 26.8-14.5 57.1-15.4 29.3 .1 54.7 14.8 25.3 15 44.5 37.3 18.1 20.8 32.4 44.4z" fill="#00bfff"/><path d="M474.4 1731.2q-32.9-32.2-70.7-58.5-37.4-26.2-80.5-41.2-91-30.4-172.3 20.2l-.5-.4q27.8-49.6 64.5-92.9 18.4-21.3 40.2-39.1 21.4-17.4 46.7-28.2 54.5-22 107.4 3.7 24.5 12.3 45 30.7 20.3 18.3 37.3 39.6 89.5-45.7 184.7-13.5 44.1 15.7 82.4 42.9 38.1 27 70.8 60.3l1.6 .8q-14.9-24.4-34.1-45.7-18.6-20.8-42.8-34.7-24.5-13.9-52.6-14.2-27.6 .5-52.5 12.6-26.5 13.1-48.5 32.7-20.8 18.3-38.7 39.4-34.6 41.3-62.5 87.5l-24.9-2z" fill="#00d4ff"/><path d="M467.3 1724.4q-31.8-30.2-68.2-54.8-36.4-24.7-78-38.8-86.7-28.2-165 17.7l-2.7-2.4q27.9-48.9 64.8-91.4 18.4-20.9 40.4-38.1 20.5-16.2 44.6-26.1 54.9-21.4 107.7 5.1 24.6 12.7 45.1 31.5 19.2 17.6 35.5 38 87.4-44.8 180.9-14.8 44.2 15 82.5 41.7 36.9 25.5 68.8 57.1l4.9 2.7q-15-24-34.3-44.7-18-19.5-41.2-32.5-50.9-26.2-103-1.5-25.1 12.1-46.2 30.3-20.7 17.6-38.5 38.2-34.7 40.3-62.4 85.7l-35.7-2.9z" fill="#00e9ff"/><path d="M459.9 1717.6q-31.6-29.2-67.8-52.5-34.3-22.3-73.1-35-82.2-26.1-157.5 15.3l-5.1-4.4q27.8-48.1 64.7-89.5 18.4-20.4 40.3-37 20.5-15.7 44.5-25.1 53.9-19.7 105.2 6.3 24.6 12.8 45 31.5 19.2 17.6 35.4 37.9 84.7-43.5 175.9-16.4 43.8 13.9 82 39.6 36.6 24.5 68.4 55.1l8.3 4.5q-14.6-22.6-33-42.1-18.2-19.3-41.5-32-50.5-25-101.7-.6-25.2 12.2-46.4 30.5-19.5 16.7-36.4 36-33.4 38.4-60.4 81.6l-46.8-3.7z" fill="#0ff"/><path d="M452.2 1710.7q-29.7-26.4-63.2-47.6-33.4-21.2-71.1-33.3-78-24.6-150.7 12.5-4.1-2.9-7.7-6.5 27.9-47.4 65-88 18.5-19.9 40.4-35.9 20.6-15.1 44.6-23.8 53.4-17.7 103.4 8.5 23.4 12.5 43.1 30.5 19.2 17.6 35.5 38 82.6-42.5 171.9-17.5 42.5 12.7 79.8 36.7 36.7 23.5 68.5 53.3l11.8 6.4q-14.6-22.1-33.2-41-18.3-18.8-41.6-30.7-48.7-22.5-97.6 .4-23.9 11.2-44.1 28.1-19.4 16.1-36.3 34.8-33.3 37.4-60.2 79.8-29.2-1.9-58.3-4.7z" fill="#00ffe1"/><path d="M444.1 1703.7q-28.5-24.5-60.6-44-31.5-19.2-66.6-30.2-73.9-23-143.6 9.7-5.8-3.7-10.6-8.5 27.8-46.5 64.8-86 18.5-19.4 40.3-34.9 20.6-14.5 44.5-22.6 53.5-16.4 102.8 10.6 23.4 12.9 42.9 31.2 18.1 16.8 33.5 36.1 80.4-41.5 167.9-18.7 42.3 12 79.7 35.3 35.4 22.1 66.3 50.2 8 3.7 15.4 8.2-14.7-21.6-33.3-39.8-17.7-17.5-39.9-28.5-47.6-21.5-95.4 .4-23.7 10.9-43.9 27.6-18.1 14.7-33.9 31.8-33.2 36.4-60 77.8-35.2-2.1-70.3-5.7z" fill="#00ffc2"/><path d="M435.6 1696.7q-27.3-22.6-57.9-40.4-30.3-17.7-64-27.8-68.5-20.3-134 7.7-7.6-4.5-13.8-10.7 27.9-45.8 65.1-84.4 18.5-18.9 40.4-33.7 20.7-14 44.6-21.3 52.9-14.5 100.9 12.7 43.6 26 74.6 66.3 78.2-40.5 163.7-19.8 41 10.8 77.4 32.6 35.4 21 66.3 48.2 9.9 4.4 19.2 10.1-14.9-21.2-33.7-38.9-17.2-16.2-38.5-26.3-45.7-19.9-91.6 .3-23.8 10.5-44.1 26.9-18.1 14.5-34 31.5-31.9 34.5-57.8 73.7-41.5-2.4-82.8-6.7z" fill="#00ffa3"/><path d="M426.7 1689.5q-26.3-20.6-55.5-36.8-28.4-15.8-59.5-24.7-63.5-18.3-125 5.3-9.8-5.2-17.6-13 27.9-44.8 65-82.3 18.5-18.3 40.3-32.6 20.6-13.4 44.3-20.1 51.9-13 98.5 13.6 43.4 26 74.3 66.2 76-39.4 159.4-20.8 39.6 9.6 75.1 29.8 35.2 19.9 66 46.2 12.2 5 23.3 12-14.3-19.6-32.1-36.1-17.2-15.9-38.4-25.7-44.6-18.9-89.4 .3-22.3 9.6-41.6 24.6-18 13.9-33.8 30.3-31.8 33.4-57.6 71.7-48-2.6-95.7-7.9z" fill="#00ff84"/><path d="M417.1 1682.2q-48.3-37.1-106.4-54.5-58.8-16.7-116.5 2.7-12.2-5.7-21.7-15.2 27.1-42.7 62.9-78.4 17.5-17.3 38.1-30.8 20.6-13.6 44.3-20.5 50.5-13.1 96.4 11.8 43.5 24.9 74.6 64.4l8.4 .6q73.1-35.8 152.5-18.3 38.5 9.2 73.2 28.4 32.9 18.2 62 42 14.5 5.6 27.5 14-14.4-19.2-32.5-35.1-16.6-14.6-36.8-23.6-44-17.8-87.7 1.1-41.8 19.2-73.4 52.9-30.5 31.5-55.4 67.7-54.9-2.8-109.5-9.2z" fill="#0f6"/><path d="M406.8 1674.8q-44.6-32.1-97.2-47.4-53.7-15-107.1 .3-15.1-6.3-26.6-17.7 27.3-42.1 63.3-76.8 17.6-16.8 38.3-29.7 19.8-12.4 42.3-18.5 49.7-12.1 94.8 12.5 41.2 23.6 71.1 60.6l17.9 1.2q70-31.9 145.1-15.5 36.1 8.4 69 25.8 31.6 16.7 59.8 38.9 16.9 6.2 31.8 16-13.7-17.7-30.7-32.3-16.6-14.4-36.8-23-42.7-16.8-85.2 1.1-40.1 17.9-70.7 49.5-30.3 30.4-55 65.6-62.3-3-124.1-10.6z" fill="#00ff47"/><path d="M395.5 1667.2q-40.8-27.3-88-40.4-47.7-12.8-95.7-1.6-18.5-6.8-32.4-20.5 26.5-39.8 61.1-72.7 17.6-16.6 38.2-29.2 19.8-12.2 42.2-18.1 47.3-11.2 90.5 11.2 41.2 22.4 71.2 58.6l27.7 1.8q66.7-27.9 137.3-12.7 33.7 7.6 64.6 23.2 30.3 15.3 57.4 35.7 19.5 6.7 36.6 18.1-13.9-17.2-31-31.2-16-13.1-35.2-20.9-40.8-15.3-81.3 1-40 17.1-70.7 48.3-29 28.5-52.7 61.5-70.2-3.1-139.8-12.1z" fill="#00ff28"/><path d="M382.8 1659.3q-36.7-22.5-78.4-33.2-40.7-10.3-82-3.1-11-4.2-21.3-9.7-10.4-5.2-18.1-13.8 26.5-38.8 60.9-70.7 33.8-31.9 78.1-44.4 46-10.5 88.2 10.9 39.8 21.1 69.2 55.5l38.2 2.6q62.5-23.9 128-10.3 63.2 14.8 115.7 53.3 22.4 7.2 41.7 20.3-26.4-32.8-64.9-48.9-39.9-14.2-79.5 1.7-37.1 15.8-66.1 44-29 27.6-52.7 59.7-78.8-3.1-157-13.9z" fill="#00ff09"/><path d="M368.1 1651q-31.2-17-65.7-25.4-33.3-8.1-67.4-4.5-13.4-4.5-26.1-10.7-12.9-5.7-22.2-16.1 25.8-36.9 59.1-67.1 33-30.7 76.2-42.8 44.9-10.3 86.4 10 38.8 19.9 67.7 52.8l49.3 3.4q57.9-19.9 118.1-7.9 59.1 13 108.9 47.6 12.8 4.2 25.1 9.6 11.9 5.1 22.1 13-26-31-63.4-45.8-37.9-12.8-75.4 1.6-37.1 15-66.1 42.7-27.5 25.7-50.3 55.7-88.6-3.2-176.3-16.1z" fill="#0f0"/><path d="M349.7 1641.9q-46.8-22-98.3-21.9-16.7-4.9-32.7-11.9-7.9-3.4-15.3-8-7.5-4.3-12.9-11.1 25.9-36.1 59.3-65.3 31.6-28 72.2-39.3 43.8-10.1 84.6 9.1 37.7 18.8 66.1 50 30.6 1.6 61.1 4.3 53.7-16.1 108.7-5.3 54 11.5 100.4 41.6 14.5 4.5 28.5 10.5 13.4 5.4 24.7 14.4-25.7-29.2-61.9-42.6-37-11.7-73.4 2.3-35.6 14.3-63.7 40.6-26.1 23.8-47.9 51.7-100.4-3.2-199.5-19.1z" fill="#0f0"/><path d="M194.5 1583.8q24.9-34 56.8-61.4 31.5-27.5 71.8-38.2 42.5-9.5 82.1 8.7 36.3 17.5 64 47 37.1 1.8 74 5.3 65.9-16.3 130.3 5.5 31.2 10.7 59.8 27.3 16 4.6 31.4 10.9 15.3 5.8 27.7 16.2-25.3-27.3-60.3-39.4-34.8-10.3-69.1 2.2-34 12.9-61.2 37.3-26 22.7-47.6 49.6-93.5-2.6-186.1-16.2-23.1-3.4-46-7.8-22.2-6.5-45-9.9-22.4-5.6-44-13.6-10.8-4-20.9-9.3-10.6-5.1-17.7-14.2z" fill="#0f0"/><path d="M198.5 1578.5q24.2-32 54.8-57.7 30.8-26.3 69.8-36.6 40.2-9.1 78.2 7 36.4 16.3 64.3 45.1 44.2 2 88.2 6.5 62.5-12.3 122.8 8.9 15 5.2 29.3 12l14.8 7.5 14.1 4.1q14.8 4.4 29 10.5 13.8 5.5 24.7 15.4-25.1-25.6-59.1-36.3-33.1-8.8-65.4 2.6-32.8 12.2-59.2 35.1-24.7 21.1-45.5 46-93.8-2.2-186.6-15.5-46-6.5-91.2-17.4-22.5-5.5-44.3-13.5-10.9-3.9-21.1-9.3-10.7-5.1-17.6-14.4z" fill="#0f0"/><path d="M202.6 1573.2q24.2-31.1 54.9-55.8 30.1-24.5 67.7-33.7 39.2-8.2 76.1 7.5 34 15.1 60.6 41.4 52.2 2.3 104.2 8 58.6-8.1 114.2 12.4 13.8 5 27 11.4 14 3.5 27.9 7.9 13.4 4.2 26.2 9.9 13.2 5.2 23.1 15.2-23.9-22.9-55.4-32.6-31.7-8.4-62.9 2-31 10.8-56.5 31.8-24.5 19.9-45 43.8-94.8-1.9-188.7-15.1-45.9-6.3-91-17.1-22.5-5.4-44.3-13.3-10.9-3.9-21.1-9.4-10.5-4.9-17-14.3z" fill="#0f0"/><path d="M206.9 1567.9q23.4-29.2 52.8-52.2 29.3-23.2 65.5-32 36.9-7.8 72 5.9 34.1 13.9 60.8 39.4 42.6 1.7 85 5.7l22.4 2.3 11.1 1.2q4.5 .9 8.9 .3 20-1.1 39.8 1.3 21.8 2.6 42.8 9.1 10.5 3.3 20.7 7.3 8.9 2.7 18 4.7 20.3 5.1 39.9 12.4 9.6 3.6 18.6 8.4 8.8 4.4 15 11.9-23.5-21.2-53.9-29.5-29.8-7.1-59.1 2.4-29.6 10-54.2 29.6-23.2 18.1-42.8 40-94-1.4-187.2-14-47.2-6.3-93.5-17.1-22.6-5.4-44.5-13.2-11.2-4-21.7-9.6-10.4-4.8-16.4-14.3z" fill="#0f0"/><path d="M211.4 1562.5q23.4-28.2 52.7-50.1 27.6-20.7 61.1-28.7 35.7-7.6 69.9 5.1 32.8 12.7 58.8 36.5 42 1.6 83.8 5.4l41.7 4.3q20.3 3 40.8 4.2 21.7 2.2 42.6 8.2 19.3 4.4 38.5 8.9 20.7 5 40.7 12.4 9.9 3.7 19.1 8.7 8.9 4.4 14.5 12.3-23.1-19.3-52.3-26.3-27.8-5.8-55 2.7-28.2 9.2-51.9 27.4-21.7 16.4-40.3 36.3-94.8-1-188.7-13.4-46.6-6-92.4-16.5-23.2-5.3-45.7-13.2-11-3.9-21.4-9.3-10.8-4.9-16.5-14.9z" fill="#0f0"/><path d="M216 1557.2q22.7-26.4 50.9-46.8 27-19.5 59.3-26.9 33.7-6.9 66.2 4.3 31.8 11.6 57.3 33.9 84.2 2.8 167.5 14.9 41.3 5.9 81.8 15.8 20.1 5 39.5 12.2 9.4 3.5 18.2 8.4 9.1 4.4 14.1 13-22.1-17.1-49.2-23-27.1-5.1-53.4 3.2-25.8 8.3-47.8 24.3-20.5 14.9-38.2 33-95.6-.5-190.4-12.8-46.9-5.9-93.1-16.3-22.8-5.1-44.9-12.8-11.3-3.9-21.9-9.6-5-2.6-9.5-6.2-4.5-3.4-6.4-8.6z" fill="#0f0"/><path d="M220.8 1551.8q21.8-24.4 48.6-43.1 26.9-18.9 58.9-25.6 32.5-6.1 63.8 4.6 29.2 10.5 53.2 30.4 84.2 2.5 167.5 14.4 40.7 5.7 80.7 15.3 20.5 4.9 40.2 12.2 9.6 3.6 18.5 8.6 9.4 4.5 13.4 13.6-43.9-30.5-95.3-16.7-24.5 7.5-45.6 22.1-19.2 13.2-36 29.5-95.4 0-190.1-11.8-47.6-5.7-94.4-16-23.3-5.1-45.9-12.9-11.1-3.8-21.5-9.2-5.3-2.8-9.9-6.5-4.6-3.5-6.1-8.9z" fill="#0f0"/><path d="M225.9 1546.4q21.8-23.5 48.7-41.1 25.2-16.5 54.8-22.4 30.3-5.5 59.8 3.8 28.1 9.4 51.5 27.7 83.3 2.3 165.8 13.7 41.9 5.6 83 15.4 19.9 4.8 39.2 11.9 9.8 3.6 18.8 8.8 4.4 2.5 8 5.9 3.9 3.4 4.4 8.4-40.9-25.5-87.5-13.6-21.8 6.2-41 18.4-19.1 12-35.7 27.3-96.8 .6-192.9-11-47.8-5.6-94.7-15.8-22.9-5-45.1-12.5-11.4-3.8-22-9.4-5.1-2.6-9.4-6.3-4.7-3.6-5.7-9.2z" fill="#07ff00"/><path d="M231.2 1540.9q20.2-20.6 44.4-36.2 24.4-15.8 52.7-21.6 29.2-5.6 57.8 2.7 27 8.3 49.7 25 83.6 1.9 166.4 13.2 41.2 5.4 81.6 14.9 20.3 4.7 39.8 11.9 10 3.6 19.1 8.9 4.6 2.7 8.2 6.6 3.5 3.7 2.8 8.6-38.6-21.1-81.2-10-38.8 11.9-69.3 39.1-97.2 1.3-193.9-10-48.2-5.4-95.6-15.4-23.3-4.9-45.9-12.4-11.2-3.8-21.7-9.1-5.2-2.8-9.7-6.6-4.9-3.7-5.2-9.6z" fill="#21ff00"/><path d="M236.7 1535.5q20.2-19.7 44.4-34.1 22.5-13.5 48.3-18.5 27-4.9 53.5 2 25.8 7.2 47.8 22.3 83.9 1.6 167.2 12.7 41.2 5.3 81.7 14.7 20.3 4.7 39.9 11.9 9.8 3.6 18.7 9.1 4.4 2.7 7.6 6.7 3.3 4.3 1 9.1-34.9-16.2-72.2-7-35 9.8-63.2 32.9-98.1 2.2-195.7-8.8-48.5-5.3-96.3-15.1-23.7-4.9-46.7-12.4-11.4-3.7-22-9.2-5.3-2.7-9.7-6.7-4.7-3.8-4.3-9.6z" fill="#3aff00"/><path d="M242.7 1529.9q19.4-17.9 42.4-30.8 21.8-12.2 46.3-16.6 50.7-7 93.8 21.2 84.5 1.2 168.4 12.1 41.2 5.3 81.6 14.5 20.3 4.7 39.8 11.9 9.8 3.6 18.4 9.2 4.5 2.8 7.2 7.3 2.3 5.2-1.7 9.3-30.5-11.5-62.2-4.1-30.5 7.8-56 26.5-98.5 3.2-196.5-7.4-49-4.9-97.4-14.5-24.3-4.8-48-12.3-11.7-3.7-22.7-9.3-5.4-2.7-9.9-6.8-5-4.2-3.5-10.2z" fill="#53ff00"/><path d="M249 1524.4q18.6-16.1 40.3-27.6 20-10.4 42.1-14.3 47-6.7 87.9 17.6 85.3 .8 170 11.6 41.8 5.3 82.8 14.7 20.5 4.6 40.1 12.2 9.8 3.7 18 10 9.5 8.7-.7 16.3-26.3-7.2-52.8-1-24.2 5.9-45.3 19.3-100.8 4.6-201.1-5.9-49.3-4.8-97.8-14.1-24.6-4.7-48.5-12.2-11.9-3.7-23-9.3-5.4-2.8-9.8-7-4.9-4.5-2.2-10.3z" fill="#6cff00"/><path d="M412.9 1496.7q86.4 .3 172.1 11 42.3 5.1 83.8 14.7 21 4.7 40.9 12.9 10.3 3.8 17.3 11.8 3.1 5.1-1.1 9.6-3.8 3.6-8.6 5.5-38.2-4.8-72.3 13.4-144.6 8.8-287.6-14.3-36.3-5.6-71.4-16.6-8.8-2.9-17.1-6.8-8.2-3.4-13.7-10.2-3.5-6.4 2.7-10.6l6.3-4.7 12.7-8.5q31.7-20.4 69.1-22.9 35.5-1.1 66.9 15.7z" fill="#85ff00"/><path d="M405.9 1493.2q121.2-.9 240.3 21 30.4 5.4 58.9 17 7.3 3 13.2 8.2 6.3 6.5-.3 12.6-12.5 8.7-27.9 9.6-8.3 .9-16.4 3-6.9 2.3-14 2.8l-29.1 2.5q-29.7 1.8-59.4 1.8-60.6 0-120.9-5.3-59.9-4.8-118.9-16.5-29.7-5.4-57.3-17.3-7.2-3.1-12.3-8.8-4.5-7.5 3.6-12.3 12-8.6 25.2-15.3 57.1-28.9 115.3-3z" fill="#9eff00"/><path d="M398 1489.9q117.8-1.7 233.8 18.2 29.2 5 57.3 14.4 7.1 2.4 13.7 5.8 6.7 3 10.8 8.9 1.9 3.7-.6 7-2.2 2.8-5.5 4.4-6.1 3.3-12.9 5.1-28.1 7.2-57.1 8.9-28.6 2.2-57.2 2.4-117.7 1.5-233.6-18.6-29.6-5.1-58-15.1-7-2.5-13.4-6.3-7.2-3.2-9-10.4 .6-4.5 4.6-6.9l7-4.5 10.6-5.9q53.2-28.3 109.5-7.4z" fill="#b7ff00"/><path d="M388.9 1486.7q113.5-2.5 225.6 15 28.3 4.5 56 12.1 13.9 3.7 26.7 10.2 6.8 3 9.8 9.5 .6 3.7-2.3 6.2-2.4 2.2-5.4 3.7-13.5 5.9-28.1 8-13.4 2.4-26.9 3.7-28 2.7-56.1 3.2-112.9 2.2-224.4-15.4-28.7-4.6-56.7-12.5-13.9-3.8-26.4-10.8-3.2-1.9-5.7-4.7-2.6-2.6-2-6.2 3.3-6.1 10.2-8.6 24.5-14.2 52.4-18.2 27.2-3.5 53.3 4.8z" fill="#d0ff00"/><path d="M377.8 1483.7q109.4-3.7 217.9 11.7 27.1 3.8 53.7 10 13.3 3 26.1 7.4 6.7 2.3 13 5.4 6.1 2.7 10.1 7.8 2.1 3.4-.2 6.7-2.3 2.7-5.5 4.3-6.3 3.1-13 4.9-13.3 3.4-26.8 5.1-26.4 3.3-53 4.2-109.3 3.5-217.6-11.9-27.1-3.8-53.7-10-13.2-3.1-26-7.5-6.5-2.3-12.8-5.5-6-2.7-9.6-8-1.8-4 1.3-7.1 2.8-2.6 6.3-4.2l13.2-5.7q12.1-5.1 25.1-7.8 25.7-5.4 51.5 .2z" fill="#e9ff00"/><path d="M652.4 1539.8q-52.4 6.7-105.4 5.5-52.7-.6-105.2-5.4-52.4-4.4-103.8-15.3-13.2-2.9-26.1-7.1-12.4-3.4-22.5-11.2-5.5-6.1 1.3-11 5.5-3.5 11.9-5.2 12.3-3.9 24.8-6.9 13.2-2.6 26.5-2.3 13.3 .5 26.6-.6 26-1.1 52-.7 52.1 .6 104 5.4 52.4 4.3 103.8 15.2 12.8 2.8 25.2 6.8 12.5 3.4 22.9 10.8 6.4 5.5 .3 11.1-5.3 3.8-11.7 5.6-12.1 3.6-24.6 5.3z" fill="#fffb00"/><path d="M645.6 1533.5q-50.4 6.3-101.1 5.1-50.6-.5-101-5.1-50.3-4.2-99.7-14.5-12.3-2.7-24.3-6.4-12.3-3.3-22.4-10.7-5.9-5.8 .8-10.7 5.2-3.4 11.3-5 11.8-3.4 24-5 50.4-6.2 101.2-5 50.2 .6 100.2 5.1 49.9 4.2 98.8 14.3 12.4 2.7 24.4 6.5 12.1 3.2 22.4 10.3 6.4 5.3 .4 10.7-5.2 3.6-11.3 5.3-11.7 3.4-23.7 5.1z" fill="#ffe200"/><path d="M638.5 1527.1q-48.2 5.9-96.7 4.8-48.4-.5-96.5-4.8-48.1-3.9-95.5-13.7-11.8-2.5-23.4-6.1-11.8-3.1-21.6-10.1-5.7-5.4 .6-10.1 5-3.2 10.8-4.8 11.3-3.2 22.9-4.7 48.4-5.9 97.2-4.8 48.3 .6 96.3 4.9 47.8 4 94.8 13.6 11.8 2.6 23.3 6.1 11.7 3.1 21.5 10 5.8 5.4-.4 10.2-4.9 3.2-10.6 4.7-11.2 3.3-22.7 4.8z" fill="#ffc900"/><path d="M631.1 1520.7q-45.9 5.5-92.1 4.5-46-.5-91.8-4.5-45.9-3.7-91-12.9-11.4-2.4-22.4-5.7-11.1-2.9-20.6-9.3-5.8-4.8-.2-9.6 4.9-3.2 10.5-4.7 10.8-3.1 21.9-4.5 46.3-5.6 92.9-4.6 45.5 .6 90.8 4.6 45.9 3.7 90.9 12.8 11.4 2.4 22.4 5.7 11.1 2.9 20.6 9.2 5.9 4.7 .6 9.6-4.7 3.2-10.2 4.7-11 3.2-22.3 4.7z" fill="#ffaf00"/><path d="M623.3 1514.2q-44.2 5.3-88.8 4.2-43.5-.5-86.8-4.3-43.4-3.5-85.9-12.1-11.1-2.3-21.8-5.6-10.4-2.7-19-8.9-4.8-5.1 1.2-9 4.5-2.7 9.7-4 10.3-2.9 21-4.2 43.6-5.2 87.6-4.2 43.3 .5 86.5 4.3 43.5 3.5 86.4 12.1 10.7 2.2 21.2 5.4 10.6 2.7 19.6 8.8 5.4 4.9-.5 9.2-4.6 2.8-9.8 4.2-10.2 2.8-20.6 4.1z" fill="#ff9600"/><path d="M615 1507.7q-41.6 4.9-83.5 3.9-40.9-.5-81.7-4-40.8-3.3-80.9-11.3-10.1-2-20-5-10-2.5-18.5-8.3-5-4.4 .4-8.4 4.3-2.6 9.3-3.9 9.8-2.7 19.8-4 41.3-4.8 82.9-3.8 41 .4 81.9 4 41.1 3.2 81.6 11.3 10 2.1 19.9 5 10 2.5 18.3 8.3 5 4.6-.6 8.5-4.4 2.6-9.3 3.9-9.7 2.6-19.6 3.8z" fill="#ff7400"/><path d="M606.3 1501.2q-38.8 4.4-78 3.5-38.1-.4-76.2-3.7-38.6-3-76.6-10.5-9.7-2-19.2-4.9-9.1-2.3-16.6-7.6-4.3-4.6 1.4-7.9 4.2-2.3 8.8-3.5 9.1-2.3 18.3-3.5 38.4-4.3 77.1-3.5 38.6 .5 76.9 3.8 38.6 3 76.5 10.5 9.4 1.9 18.6 4.7 9.4 2.3 17.2 7.8 4.2 4.5-1.4 7.8-4 2.3-8.5 3.4-9 2.4-18.3 3.6z" fill="#ff4e00"/><path d="M597 1494.5q-35.9 4-72.1 3.2-35.8-.4-71.5-3.5-35.6-2.8-70.6-9.6-8.9-1.8-17.6-4.4-8.6-2.1-15.5-7.4-3.3-4.4 2.1-7 3.9-2 8.1-3 8.5-2.1 17.2-3.2 35.9-3.9 72-3.1 35.3 .4 70.5 3.4 35.7 2.8 70.9 9.7 8.6 1.8 17.1 4.3 8.6 2.1 15.8 7.2 3.8 4.2-1.5 7.1-3.7 2-7.9 3.1-8.4 2.2-17 3.2z" fill="#ff2800"/><path d="M586.9 1487.8q-32.7 3.6-65.6 2.8-32.6-.4-65.1-3.1-32.5-2.5-64.4-8.7-8.2-1.6-16.2-3.9-7.8-1.9-14.2-6.5-3.4-4 1.6-6.5 3.5-1.8 7.3-2.7 7.7-2 15.6-2.9 33-3.6 66.1-2.9 32.4 .4 64.7 3.2 32.3 2.5 64.1 8.6l15.7 3.9q8 1.9 14.6 6.4 3.6 3.8-1.1 6.5-3.6 1.9-7.5 2.9-7.7 1.9-15.6 2.9z" fill="#ff1300"/><path d="M575.8 1480.9q-58.3 5.3-116.6-.3-29.3-2.2-58.2-7.7l-14.4-3.5q-7-1.7-12.7-5.9-2.7-3.7 1.9-5.7 3.3-1.6 6.9-2.4 6.8-1.6 13.8-2.4 58.4-5.2 116.9 .3 29 2.3 57.4 7.7l14.1 3.4q7.1 1.7 13 5.9 2.8 3.5-1.5 5.6-3.2 1.6-6.7 2.5-6.9 1.7-13.9 2.5z" fill="#ff0700"/><path d="M563.2 1473.8q-50.7 4.5-101.4-.3-25.2-1.9-50.1-6.6l-12.4-3q-6.1-1.4-11-5.1-2-3.4 2.1-4.9l5.8-2 12.1-2q50.3-4.4 100.6 .3 25.2 1.9 50 6.5 12.8 1.7 23.7 8 2.5 3-1.4 4.9l-5.9 2.1q-5.9 1.4-12.1 2.1z" fill="#fe0000"/><path d="M548.4 1466.4q-41.5 3.6-83-.3-20.5-1.5-40.7-5.3-10.5-1.3-19.2-6.7-1.3-2.6 2-3.8l4.8-1.6 10-1.6q41.1-3.5 82.2 .3 20.6 1.5 41 5.3 10.3 1.3 19.1 6.5 1.8 2.6-1.6 4l-4.6 1.5-10 1.7z" fill="#fa0000"/><path d="M529.4 1458.4q-29.2 2.5-58.4-.2-14.6-1.1-29.1-3.7-7.4-.9-13.5-4.7-.8-2 1.5-2.7l3.6-1.1 6.9-1.1q29.2-2.4 58.3 .2 14.5 1.1 28.8 3.7 7.3 .9 13.6 4.6 1.1 1.9-1.3 2.8l-3.4 1.1-7 1.1z" fill="#f70000"/></g>
<path d="M497.2 1736.6q-34.1-35.5-73.6-65-38.7-29.3-83.9-47-46.3-18.1-95.7-14-48.2 5.3-88.6 32.1M484.2 1740.9q29.4-50.7 66.3-96.1 18.4-22.3 39.7-41.7 21.2-19.3 46.4-32.9 26.3-14.2 56-15.5 29.2-.3 54.7 14 25.5 14.5 44.9 36.6 19.1 21.6 34 46.2M503.7 1726.1q-34.1-35.5-73.6-64.9-38.9-29.2-84.1-46.9-46.5-18-96-13.7-48.3 5.5-88.8 32.5M477.8 1734.5q25.5-43.9 56.6-84.1 29.6-38.9 68.1-68.9 19.7-15.1 42.7-24.4 23.2-9.3 48.1-8.4 24.6 1.4 46.4 13.2 21 11.6 37.9 28.7M781.2 1594.3q22.2 23.6 39 51.3M510.2 1715.9q-34.2-35.5-73.7-64.9-39-29.1-84.3-46.6-46.6-17.9-96.2-13.4-48.4 5.7-89.1 32.9M471.3 1728.2q24.9-42.7 55-81.9 29.6-39.3 68.1-69.8 19.8-15.2 42.8-24.8 22.5-9.3 46.8-9 24.7 .7 46.8 12 21.1 11 38.2 27.7M778.7 1592.3q20 22.2 35.5 47.6M516.7 1706q-34.2-35.5-73.8-64.8-39-29.1-84.4-46.4-46.7-17.8-96.4-13.2-48.7 5.9-89.4 33.3M464.9 1722.2q24.8-42.7 54.9-81.9 29-38.4 66.6-68.5 19.8-15.5 42.9-25.4 22.5-9.5 46.9-9.5 24.7 .4 46.9 11.4 21.3 10.8 38.5 27.3M772.6 1586.7q20 22.2 35.6 47.7M523.2 1696.4q-34.3-35.4-73.9-64.6-39.7-29.6-86-46.9-46.2-17.1-95.1-12.3-48.9 6-89.7 33.6M458.5 1716.3q24.8-42.7 54.8-81.8 29-38.4 66.6-68.4 19.8-15.5 42.9-25.3 21.9-9.2 45.6-9.5 24 .1 45.8 10.2 21.4 10.2 38.7 26.3M770 1585.3q17.9 20.5 32.2 43.7M529.7 1687.1q-35-36.1-75.6-65.6-39.1-28.8-84.5-45.6-47-17.2-96.7-11.9-48.2 6.5-88.6 33.8M452.1 1710.6q24.7-42.7 54.8-81.7 28.4-37.6 65-67.1 19.1-15.2 41.5-25.2 21.8-9.8 45.7-10.7 24.1-.5 46.1 9.1 21.5 9.6 39.1 25.3M765.1 1581.3q17.2 20 31.1 42.5M536.1 1678.2q-35-36.1-75.6-65.6-39.1-28.6-84.6-45.3-47.2-17.2-96.9-11.7-48.4 6.6-88.9 34M445.7 1705q24.7-42.6 54.7-81.6 28.4-37.5 65-67 19.2-15.2 41.5-25.1 21.3-9.5 44.4-10.6 24.1-.8 46.2 8.5 21.6 9.3 39.3 24.9M761.4 1579q15.8 18.8 28.8 39.7M542.6 1669.6q-35-36-75.7-65.5-39.2-28.6-84.7-45.2-47.3-17-97.1-11.4-48.6 6.7-89.2 34.3M439.3 1699.7q24.1-41.4 53.1-79.5 28.4-37.9 65-67.7 19.2-15.5 41.6-25.7 21.2-9.7 44.5-11.1 24.1-1.2 46.4 7.9 20.9 8.7 38.2 23.4M756.5 1575.5q15.2 18.2 27.7 38.3M549 1661.3q-35-36-75.7-65.4-39.2-28.5-84.8-45-47.4-17-97.3-11.2-48.7 6.9-89.4 34.6M433 1694.5q24-41.4 53-79.4 27.8-37 63.4-66.4 18.6-15.1 40.2-25.5 21.2-10.2 44.6-12.3 24.1-1.7 46.7 6.8 21 8.2 38.5 22.4M752.8 1573.6q13.8 16.9 25.4 35.5M555.4 1653.3q-35-35.9-75.7-65.2-39.3-28.5-85-44.9-47.5-16.9-97.4-11-48.8 7-89.7 34.8M426.7 1689.5q24-41.3 52.9-79.3 27.8-36.9 63.4-66.3 18.6-15.1 40.2-25.4 20.6-9.9 43.2-12.2 23.4-2 45.5 5.7 21.8 7.9 40 22.4M750.3 1573.4q11.8 14.9 22 31.1M561.8 1645.7q-35-35.9-75.7-65.1-39.4-28.5-85.1-44.8-47.6-16.8-97.6-10.8-49 7.1-89.9 35M420.4 1684.7q23.3-40.1 51.3-77.1 27.8-37.3 63.4-67.1 18.6-15.3 40.2-25.9 20.6-10.1 43.3-12.7 23.4-2.3 45.6 5.2 21.1 7.3 38.9 20.9M745.4 1570.4q11.2 14.3 20.9 29.6M568.2 1638.4q-35-35.9-75.8-65-40-28.9-86.6-45.2-47-16.1-96.3-10.1-49.1 7.3-90.1 35.3M414.1 1680.1q23.3-40.1 51.2-77.1 27.2-36.4 61.9-65.7 17.9-15 38.7-25.6 20.6-10.6 43.5-13.8 23.3-2.9 45.8 3.9 21.2 6.8 39.1 19.9M741.8 1569.2q9.8 12.9 18.5 26.5M574.6 1631.4q-35-35.8-75.8-64.9-40.1-28.9-86.7-45-47.8-16.3-97.9-9.8-48.4 7.6-88.9 35.3M407.9 1675.6q23.2-40.1 51.1-77 27.2-36.3 61.8-65.6 18-14.9 38.7-25.6 20-10.2 42.1-13.5 22.6-3.1 44.5 2.9 21.3 6.2 39.4 18.9M736.9 1566.6q9.3 12.2 17.5 25M581 1624.8q-35.1-35.8-75.9-64.8-40.1-28.9-86.7-44.9-48-16.3-98-9.6-48.6 7.6-89.2 35.4M401.6 1671.3q23.2-40 51.1-76.9 26.6-35.4 60.2-64.2 18-15.2 38.8-26.1 19.9-10.4 42.1-14 22.6-3.5 44.7 2.4 21.3 5.8 39.6 18.3M732.1 1564.2q8.6 11.4 16.3 23.5M587.3 1618.4q-35.1-35.7-75.8-64.7-40.2-28.7-86.9-44.7-48-16.2-98.1-9.5-48.7 7.8-89.4 35.6M395.4 1667.2q23.2-40 51.1-76.8 26.5-35.4 60.1-64.1 17.3-14.6 37.2-25.3 20-10.7 42.2-14.6 45.1-6.4 83.2 18.9M728.5 1563.6q7.3 9.9 14 20.2M593.6 1612.5q-35.1-35.7-75.8-64.6-40.2-28.8-86.9-44.7-48.1-16.1-98.3-9.3-48.8 7.8-89.6 35.7M389.3 1663.3q22.4-38.8 49.3-74.6 26.5-35.8 60.2-64.9 17.3-14.7 37.2-25.6 19.3-10.6 40.8-14.9 44.9-7.6 83.6 16.7M723.7 1561.5q6.7 9.2 12.8 18.7M599.9 1606.8q-35.1-35.6-75.9-64.5-40.2-28.7-86.9-44.5-48.2-16.1-98.4-9.2-48.8 7.9-89.8 35.8M383.1 1659.5q22.5-38.7 49.3-74.5 25.9-34.9 58.5-63.4 17.3-15 37.3-26.2 18.6-10.4 39.4-15 44.7-8.9 84 14.5M721.3 1563l9.3 13.7M606.1 1601.5q-35-35.6-75.8-64.4-40.2-28.6-87-44.4-48.2-16-98.5-9.1-48.9 7.9-90 35.9M377 1655.9q22.4-38.7 49.2-74.4 25.9-34.8 58.5-63.3 17.3-15 37.2-26.1 18.6-10.4 39.4-15 43.9-8.8 82.8 13.7M716.5 1561.3l8.2 12.1M612.4 1596.5q-35.7-36.2-77.4-65.4-40.3-28.3-87-43.7-47.6-15.4-97.1-8.5-49 8-90.2 36M370.9 1652.5q22.4-38.6 49.2-74.3 25.2-33.9 56.8-61.9 16.6-14.6 35.7-25.7 18.6-10.8 39.5-16 43.7-9.9 83.2 11.5M714.1 1563.2l4.7 7M618.6 1591.9q-35.7-36.2-77.4-65.3-40.3-28.3-87-43.6-47.7-15.4-97.2-8.5-49.1 8.1-90.3 36.1M364.8 1649.3q22.3-38.6 49.1-74.2 25.2-33.9 56.8-61.9 16.6-14.5 35.7-25.6 18-10.4 38-15.6 42.8-10.4 82 9.7M708.2 1560.2l4.7 6.9M624.8 1587.6q-35.7-36.2-77.4-65.2-40.3-28.3-87-43.6-47.7-15.3-97.3-8.3-49.2 8-90.5 36.1M358.8 1646.2q21.6-37.4 47.4-72 25.2-34.2 56.8-62.5 16.6-14.7 35.7-26 17.9-10.7 38-16.2 41.9-10.7 80.9 8.1M703.5 1559l3.5 5.3M630.9 1583.6q-35-35.5-75.7-64-40.3-28.5-87.1-44.1-47.1-15.4-96.1-9.2-48.6 7.3-89.8 34.2M352.8 1643.3q21.6-37.3 47.3-71.9 24.6-33.2 55.1-61 16-14.3 34.2-25.6 18-11 38.2-17.1 41.6-11.8 81.1 5.9M637 1579.9q-34.3-34.7-74.1-62.8-39-27.8-84.1-43.6-95.9-32-183.1 18.9M346.8 1640.6q21.5-37.3 47.3-71.8 24.5-33.2 55-60.9 16-14.3 34.2-25.5 17.3-10.7 36.6-16.7 40.8-12.2 80 4.3M643.1 1576.6q-33.6-33.9-72.5-61.6-37.7-27-81.1-43.1-44.3-16.2-91.3-13.6-46.7 3.5-87.7 25.9M340.8 1638.1q20.9-36.1 45.6-69.6 24.5-33.5 55.1-61.6 15.9-14.5 34.1-25.9 17.3-10.9 36.7-17.1 39.8-12.5 78.7 2.6M649.1 1573.6q-32.2-32.5-69.2-59.3-37-27-79.7-43.6-42.9-16.6-88.9-15.6-45.2 1.8-85.9 21.7M334.9 1635.7q20.8-36 45.5-69.5 24.5-33.4 55-61.5 15.3-13.8 32.6-24.9 17.3-11.1 36.7-17.6 39.7-13 78.9 1.6M655.2 1570.9q-31.5-31.7-67.6-58-35.8-26.2-76.7-42.9-41.6-16.9-86.4-17.5-44.5 .1-85.3 18.2M329 1633.5q20.8-36 45.5-69.4 23.8-32.5 53.3-59.9 29.7-28.3 67.8-42.9 39.5-14.1 79.1-.5M661.1 1568.5q-30.7-30.9-65.9-56.8-34.4-25.3-73.7-42.1-40.1-17.1-83.7-19.1-43.1-1.5-83.4 14.1M323.2 1631.5q20.7-35.9 45.3-69.3 23.2-31.6 51.7-58.5 29.7-28.5 67.8-43.6 38.7-14.3 77.9-2M667.1 1566.5q-30.1-30.2-64.3-55.6-33-24.5-70.6-41.2-38.8-17.3-81.1-20.7-41.7-3-81.4 10.3M317.3 1629.6q20.7-35.8 45.3-69.2 23.1-31.5 51.6-58.3 29.1-27.9 66.3-43.1 37.8-14.5 76.6-3.5M673 1564.8q-29.4-29.5-62.7-54.3-32.3-24.2-69-41-36.8-16.8-76.9-21.5-40.3-4.2-79.3 6.8M311.5 1627.9q20-34.6 43.7-66.9 23.1-31.9 51.5-59 29.1-28.2 66.3-43.9 36.9-14.7 75.2-4.8M678.8 1563.4q-28.6-28.7-60.9-53-31-23.4-66-40.1-35.4-16.8-74.1-22.6-38.9-5.5-77.1 3.3M305.8 1626.4q19.9-34.6 43.5-66.8 22.5-31 49.9-57.4 28.5-28 64.8-44.1 36.7-15.7 75.4-6.9M684.6 1562.3q-27.1-27.2-57.7-50.5-30.2-23.3-64.4-40.2-34-16.9-71.4-23.7-37.4-6.6-74.8 .1M300 1625q20-34.5 43.5-66.7 22.4-30.9 49.9-57.3 27.8-27.3 63.1-43.4 35.8-15.8 74.1-8.2M690.4 1561.6q-26.4-26.5-56-49.3-28.9-22.3-61.4-39-32.6-16.9-68.5-24.6-35.3-7.5-71.1-3.1M294.3 1623.8q19.3-33.3 41.9-64.5 22.3-31.1 49.7-57.8 27.8-27.6 63.2-44.2 35-15.9 72.7-9.4M696.2 1561.1q-25.7-25.7-54.4-48-27.5-21.4-58.2-37.8-31.3-16.7-65.7-25.3-33.9-8.3-68.7-5.8M288.7 1622.8q19.2-33.3 41.7-64.4 22.3-31.1 49.7-57.8 27.2-26.9 61.6-43.4 34.1-16 71.4-10.6M701.9 1561q-48.1-49.2-107.8-83.2-29.9-16.6-62.8-25.9-31.8-8.9-64.8-8.3M283.1 1621.9q19.1-33.2 41.6-64.2 21.7-30.2 48.1-56.2 26.5-26.6 60-43.5 34-16.8 71.5-12.5M707.5 1561.2q-46.2-47.1-103-80.5-28.5-16.4-59.9-26.3-30.3-9.5-62.1-10.6M277.5 1621.2q19-33.2 41.5-64.1 21-29.2 46.4-54.6 26.5-26.9 60-44.2 33.2-16.9 70.1-13.7M713.1 1561.7q-44.2-45-98.1-77.7-26.5-15.7-55.5-26-29-10.3-59.6-13M271.9 1620.7q19-33.1 41.4-64.1 21-29.1 46.4-54.5 25.9-26.2 58.4-43.4 32.4-16.9 68.7-14.7M718.7 1562.5q-41.7-42.3-91.8-73.9-25.8-15.9-54-26.9-26.9-10.4-55.5-14.5M266.4 1620.3q18.3-31.9 39.8-61.8 20.9-29.4 46.3-55 25.2-25.9 56.8-43.3 32.2-17.7 68.8-16.5M724.2 1563.6q-39.7-40.2-86.9-70.9-47.2-30.8-102.3-42.4M260.9 1620.1q18.3-31.9 39.7-61.7 20.3-28.5 44.7-53.4 25.2-26.2 56.7-44 30.8-17.3 66-17.5M729.6 1565q-37.6-38.1-82.1-67.8-43.8-29.4-94.9-42.8M255.4 1620q17.6-30.7 38.1-59.5 20.3-28.6 44.6-53.8 24.6-25.8 55.2-43.8 30.6-18 66-19.2M735 1566.7q-35.5-36-77.2-64.6-40.6-27.9-87.5-42.7M250 1620.1q17.6-30.6 38-59.4 20.2-28.6 44.5-53.7 23.9-25.1 53.6-42.9 29.9-18 64.5-20M740.4 1568.6q-32.8-33.1-70.9-60.1-37.8-27.1-81.5-43.1M244.6 1620.3q17.6-30.5 37.9-59.2 19.6-27.6 42.9-52.1 23.9-25.4 53.5-43.5 29.2-17.9 63.1-20.8M745.7 1570.9q-30.8-31-66-56.7-33.9-24.8-72.5-41.2M239.3 1620.7q17.5-30.5 37.8-59.1 18.9-26.7 41.3-50.4 23.2-24.9 51.9-43.2 29-18.6 63.1-22.4M751 1573.5q-28-28.2-59.7-52.1-30.5-23.1-64.9-39.7M234 1621.2q17.4-30.4 37.7-59 18.8-26.6 41.2-50.3 23.2-24.9 51.8-43.1 27.7-17.7 60.1-22.1M756.2 1576.3q-25.2-25.3-53.3-47.2-27.7-21.7-58.8-38.3M228.7 1621.9q32.5-58.2 77.2-107.5 22.6-24.4 50.3-42.8 27.5-18.3 60.1-23.6M761.3 1579.4q-44.1-45.1-98-77.7M223.5 1622.8q31.9-57.1 75.5-105.7 21.9-24 48.7-42.4 26.8-18.5 58.6-24.9M766.4 1582.8q-38.3-39-83.9-69.1M218.3 1623.8q31.8-57 75.3-105.5 21.9-24 48.6-42.3 25.5-17.6 55.6-24.4M771.5 1586.5q-32.4-32.8-69.9-59.6M213.1 1624.9q31.2-55.8 73.7-103.6 21.2-23.5 47-41.8 25.4-18.2 55.6-25.8M776.5 1590.5q-25.6-25.9-54.3-48.2M208 1626.2q30.6-54.7 71.9-101.7 21.2-23.8 47-42.4 24.7-18 54-26.2M781.4 1594.7q-19.2-19.4-40.2-37M202.9 1627.6q30-53.6 70.3-99.8 20.5-23.3 45.3-41.9 24-18 52.6-27M786.3 1599.1q-12-12.1-24.7-23.5M197.9 1629.2q29.9-53.5 70.1-99.6 19.8-22.5 43.7-40.7 23.3-17.8 51-27.3M791.2 1603.9l-9.3-9.1M192.9 1630.9q29.3-52.3 68.4-97.7 19.8-22.8 43.6-41.2 22.6-17.6 49.5-27.4M796 1608.9l-17-16.4M187.9 1632.8q28.7-51.2 66.8-95.9 19.1-22.2 42-40.4 21.9-17.6 47.9-28.1M800.7 1614.1q-15.6-15.7-32.2-30.2M183 1634.8q28.1-50.1 65.1-94 18.5-21.6 40.4-39.7 21.9-18.1 47.9-29.3M805.3 1619.6q-21.1-21.4-44.2-40.4M178.2 1636.9q27.9-50 64.8-93.7 18.5-21.6 40.4-39.7 20.5-17 44.8-28M810 1625.3q-27.8-28.3-59.4-52.3M173.3 1639.2q26.8-47.8 61.7-90.1 17.8-21.2 38.8-39.3 20.5-17.8 44.8-29.7M814.5 1631.3q-34.8-35.7-75.7-64.2M168.5 1641.6q26.8-47.7 61.6-89.9 17.1-20.4 37.2-38 19.8-17.4 43.2-29.5M819 1637.5q-39.7-40.9-87.5-72M163.8 1644.1q26.1-46.6 59.8-87.9 16.5-19.8 35.7-37.1 19.1-17.3 41.6-29.7M823.5 1643.9q-46.9-48.7-105.2-82.6M159 1646.8q25.5-45.5 58.3-85.9 16.4-20.1 35.5-37.5 18.5-16.9 40.1-29.4M827.8 1650.6q-26.1-26.7-55.6-49.7-28.7-22.4-61-39.2M154.4 1649.6q24.8-44.3 56.6-83.9 16.3-20.2 35.4-37.9 17.8-16.5 38.5-29" fill="none" stroke="#000" stroke-opacity=".78" stroke-width="1.5"/>
<path d="M490.7 1747.5q-34.1-35.6-73.5-65.1-38.7-29.4-83.8-47.2-45.5-18-94.1-14.5-48.7 4.8-89.6 31.8M490.7 1747.5q29.4-50.7 66.3-96.1 18.4-22.4 39.7-41.8 21.2-19.4 46.4-33 26.2-14.3 55.9-15.6 29.1-.3 54.6 13.9 25.4 14.5 44.7 36.5 19 21.5 33.9 46.1M832.2 1657.5q-29.4-30.1-62.9-55.3-33.2-25-71.1-42M149.7 1652.5q24.3-43.2 55-81.9 15.7-19.6 33.9-36.9 17.1-16.3 36.9-29" fill="none" stroke="#000" stroke-width="1.5" stroke-linejoin="round"/>
<g font-size="11.9" fill="#111"><path d="M151.1 1663.6h-4" stroke="#000" stroke-width="2"/><text transform="translate(141.1,1674.1) scale(1.702,1)" text-anchor="end">23</text><path d="M146.6 1609.2h-4" stroke="#000" stroke-width="2"/><text transform="translate(136.6,1619.7) scale(1.702,1)" text-anchor="end">38.5</text><path d="M142.1 1554.9h-4" stroke="#000" stroke-width="2"/><text transform="translate(132.1,1565.4) scale(1.702,1)" text-anchor="end">54</text><path d="M137.6 1500.5h-4" stroke="#000" stroke-width="2"/><text transform="translate(127.6,1511) scale(1.702,1)" text-anchor="end">69.5</text><path d="M133.1 1446.1h-4" stroke="#000" stroke-width="2"/><text transform="translate(123.1,1456.6) scale(1.702,1)" text-anchor="end">85</text><circle cx="490.8" cy="1828.7" r="1.7"/><text transform="translate(499.3,1839.7) scale(1.702,1)">25.00</text><circle cx="574.6" cy="1804.3" r="1.7"/><text transform="translate(583.1,1815.3) scale(1.702,1)">30.00</text><circle cx="658.5" cy="1779.8" r="1.7"/><text transform="translate(667,1790.8) scale(1.702,1)">35.00</text><circle cx="742.3" cy="1755.4" r="1.7"/><text transform="translate(750.8,1766.4) scale(1.702,1)">40.00</text><circle cx="826.2" cy="1731" r="1.7"/><text transform="translate(834.7,1742) scale(1.702,1)">45.00</text><circle cx="490.8" cy="1828.7" r="1.7"/><text transform="translate(481.3,1839.7) scale(1.702,1)" text-anchor="end">1.00</text><circle cx="407.1" cy="1804.3" r="1.7"/><text transform="translate(397.6,1815.3) scale(1.702,1)" text-anchor="end">2.25</text><circle cx="323.5" cy="1779.9" r="1.7"/><text transform="translate(314,1790.9) scale(1.702,1)" text-anchor="end">3.50</text><circle cx="239.8" cy="1755.4" r="1.7"/><text transform="translate(230.3,1766.4) scale(1.702,1)" text-anchor="end">4.75</text><circle cx="156.2" cy="1731" r="1.7"/><text transform="translate(146.7,1742) scale(1.702,1)" text-anchor="end">6.00</text></g>
<text transform="translate(872.5,1823.2) scale(1.555,1)" font-size="18" text-anchor="end">B: Temperature</text>
<text transform="translate(115,1823.2) scale(1.555,1)" font-size="18">E: Beef extract</text>
<text transform="translate(484,1434) scale(1.11,1)" font-size="57" font-weight="bold" text-anchor="middle">d</text>
<text transform="translate(34.6,1593.3) rotate(-90) scale(0.579,1)" font-size="29.7" text-anchor="middle">EI24 (%)</text>
</g>
<g id="pi">
<path d="M977.4 1448.3L1321.5 1401.2L1664.9 1448.3L1642.5 1729.5L1320.8 1825.8L1000 1729.5z" fill="#ff0"/>
<path d="M977.4 1448.3L1321.5 1401.2L1664.9 1448.3M1000 1729.5L1321.6 1654.3L1642.5 1729.5" fill="none" stroke="#330" stroke-width="1.1" stroke-dasharray="3.2 2.2"/>
<path d="M1321.5 1401.2L1321.6 1654.3" fill="none" stroke="#442" stroke-width="1"/>
<path d="M1664.9 1448.3L1642.5 1729.5M977.4 1448.3L1000 1729.5" fill="none" stroke="#221" stroke-width="1.1"/>
<g fill="none" stroke-width="1.1" opacity=".85"><path d="M1354.5 1815.7q-33.5 .9-67 .1M1302 1658.9q21.8 .1 43.5 1M1618.8 1723.9q4.3 4.7 6.3 10.8" stroke="#3e3"/><path d="M1410.4 1799q-87.7 7.6-175.6 1M1031.3 1738.9q-3.2-9.2 2.5-17.3M1263.4 1667.9q67.8-1.9 135.3 4.5M1556.6 1709.3q11.8 6 20.4 15.8 8.9 11.4 1.5 23.5" stroke="#3e3"/><path d="M1525.4 1745.9q-6.2 6.9-14.5 11.2-7.4 4-15.2 6.9-15.1 5.6-30.7 9.2-30.1 6.9-60.9 10.1-63.7 6.7-127.6 3.9-64-2-126.4-16.2-16-3.8-31.5-9.6-14.9-5.2-27.4-14.5-7.1-5.2-9.4-13.5-1-8.2 4.8-14.2 11.3-10.8 26.2-16.1M1192.7 1684.5q91.1-11.3 182.5-3 46.8 3.7 92.3 15.1 21.9 5.4 42 15.6 10.1 4.9 17 13.6 6.9 10.4-1.1 20.1" stroke="#5e2"/><path d="M1458.1 1740.6q-8.2 7.6-18.7 11.2-10.1 3.9-20.6 6.5-20.3 4.8-41 7.1-41.7 4.7-83.6 3.5-42.8-.9-84.7-8.8-20.2-3.7-39.1-11.2-9.9-3.8-17.6-10.9-7.8-8.6-.1-17.3 8.3-7.6 19-11.2 10.3-3.9 21-6.5 20.7-4.8 41.8-7.1 41.2-4.5 82.7-3.2 42.2 .9 83.7 8.6 20.5 3.8 39.8 11.5 9.5 3.7 16.9 10.5 8.1 8.5 .5 17.3" stroke="#b4ff00"/></g>
<path d="M1000 1729.5L1320.8 1825.8L1642.5 1729.5" fill="none" stroke="#220" stroke-width="1.3" stroke-dasharray="3.2 1.4"/>
<g><path d="M1648.8 1650q-30.1-38.3-67.6-69.3-37.3-31.1-83.6-45.3-48.4-13.4-96 2.7-45 16.6-80 49.6-32.9-38.3-76.8-62.9-44.5-24.2-94.8-18.2-50.4 8.4-90.8 40.3-38.3 29.8-68.4 68.1 20-18.6 44.6-30.3 23.2-10.8 48.7-12.1 26.9-.9 52.4 8 23.8 8.5 45 22.3 43.1 28.8 77.2 68 33.7 38 62.1 80.1 29.9-44.6 66.5-83.7 34.5-37.6 79.1-62.1 23.8-12.6 50.5-16.5 25-3.5 49.3 3.4 24.9 7.3 45.6 22.9 20.5 15.4 37 35z" fill="#0bf"/><path d="M1310.1 1735.7q-29.1-41.6-64.1-78.5-33.1-35.4-74.6-60.5-22-12.9-46.6-19.6-23.7-6.3-48-3.9-24.5 2.7-46.5 13.9-21.6 11.3-39.5 27.9 31.7-40.4 72.6-71.2 39.7-30.1 88.7-37.5 50.3-5.2 94.6 19.6 42.7 24.4 74.9 61.8 36.5-34.5 83.8-50.8 47-14.7 94.3-.9 46.3 14.8 83.5 46.4 36.3 30.4 65.6 67.6-16.5-19.7-37-35.1-20-14.9-43.9-22.3-24.2-7.2-49.3-4.2-24.2 3.2-46.3 13.9-44.4 22.5-78.8 58.7-34 34.8-62 74.7l-21.4 0z" fill="#00d0ff"/><path d="M1305.7 1729.4q-29.1-40.8-64-76.7-33.1-34.5-74.4-58.3-22-12.3-46.5-18.3-22.7-5.3-45.9-2.7-24.5 3-46.3 14.6-20.6 11.1-37.8 27 31.7-40.4 72.6-71.2 39.7-30.1 88.7-37.5 50.3-5.2 94.6 19.6 42.7 24.4 74.9 61.8 36.5-34.5 83.8-50.8 47-14.7 94.3-.9 46.3 14.8 83.5 46.4 36.3 30.4 65.6 67.6-16.5-19.7-37-35-19.3-14.4-42.1-21.9-47.8-13.7-93.3 7.3-44.2 21.1-78.5 56.2-34 33.9-61.9 72.8l-30.3 0z" fill="#00e6ff"/><path d="M1301.1 1723.2q-28.1-38.7-61.7-72.7-33-34.1-74.3-57.3-21.9-12-46.3-17.5-22.7-5-45.7-2.1-23.5 3.3-44.5 14.4-20.6 11.1-37.8 27 31.6-40.3 72.5-71.1 39.6-30.1 88.5-37.6 50.2-5.3 94.5 19.3 42.6 24.3 74.8 61.5l1.1 0q35.8-33.6 82-49.9 46.9-15 94.2-1.5 46.4 14.3 83.6 45.7 36.6 30.3 66 67.6-15.9-18.6-35.3-33.4-19.1-14.5-41.8-22.1-46.2-13.9-90.7 5.3-43.9 19.7-78.1 53.7-33.7 32.7-61.5 70.7l-39.5 0z" fill="#00fbff"/><path d="M1296.4 1716.9q-28-37.8-61.5-70.9-33-33-74-55-42.3-22.7-89.7-17.1-46.3 8.4-80.4 41.1 30.8-39.3 70.5-69.6 38.6-30 86.6-38.5 50-6.8 94.8 16.8 42.8 23.3 75.1 59.9l8.3 .1q35.2-32 80.2-47.1 45.9-14.1 92.1-1 44.9 13.9 81.3 43.9 36.2 29.3 65 65.8-16-18.1-35.5-32.2-18.5-13.3-40.2-20.2-45.3-12.9-88.8 5.9-42.4 18.9-75.7 51.5-32.4 30.8-59.2 66.6l-48.9 0z" fill="#00ffe5"/><path d="M1291.6 1710.6q-27.9-36.9-61.3-69-32.9-32-73.7-52.7-41.5-21-87.4-14.7-45 8.9-78.4 40.8 30.1-38.3 68.4-68.1 38.7-30.5 86.7-39.7 48.9-7.4 93.2 14.7 42.9 22.2 75.4 58.1l15.6 .3q35.6-31.3 80.8-45.1 44.4-12.2 88.5 .8 43.9 13.7 79.6 43 18.4 14.6 34.9 31.5 14.9 14.5 27.4 31-15.5-16.9-34.3-29.9-18.7-13-40.5-19.5-43.6-11.4-85.4 6.3-41.2 18.1-73.8 49.3-31.1 29.1-57.1 62.9-29.3 .5-58.6 0z" fill="#00ffc6"/><path d="M1286.7 1704.3q-27.8-36-61.1-67.1-31.9-30.1-71.3-49.4-41.6-20.3-87-13.3-43.9 9.3-76.5 40.5 30.1-38.3 68.5-68.1 37.7-29.8 84.7-39.4 48.7-8 93.3 13.5 41.8 21.1 73.8 55.4l23.1 .4q35-29.5 78.9-42.2 43.3-11.2 86.3 1.3 42.3 13.2 77.1 41.1 17.2 13.4 32.7 28.8l16.3 17q7.2 6.7 12.2 15-29.8-32.4-71.4-45.7-42.3-11.1-83.1 5.5-39.5 16.7-71.2 45.9-31 27.9-56.8 60.8-34.3 .6-68.5 0z" fill="#00ffa6"/><path d="M1281.7 1697.9q-27.8-35-60.9-65-31.8-29.1-70.9-47-40.7-18.6-84.6-11-42.7 9.7-74.5 40.1 30.1-38.3 68.5-68.1 36.9-29.1 82.6-39 47.5-8.6 91.6 11.4 41.9 19.9 74.1 53.5l30.9 .6q33.8-27.3 75.5-39 42.3-10.8 84.4 1.2 42.4 13 77.1 40.7 17.3 13.3 32.8 28.6l14.3 14.7 6.7 7.2q3.1 3.2 4.7 7.3-29.6-30.7-70.3-42.7-40.6-9.8-79.5 5.8-38.3 15.8-69.2 43.6-29.7 26.2-54.7 57.1-39.3 .9-78.6 0z" fill="#00ff87"/><path d="M1276.5 1691.5q-26.9-33.1-58.9-61.3-31.8-28.6-71-45.7-40.1-17.3-82.7-9.3-41.8 10-73.1 39.8 29.3-37.2 66.4-66.5 36-28.9 80.6-39.8 47.3-9.9 91.8 8.9 42 18.8 74.4 51.7l38.9 .7q34.1-26.4 75.9-36.8 40.6-9 80.6 2.7 39.9 12.4 73.1 38 17.2 13 32.7 28l14.3 14.4 6.2 6.4q3.2 3.3 4.5 7.6-29.5-29-69.2-39.6-38.8-8.4-75.8 6.1-37 15-67.1 41.4-28.5 24.4-52.4 53.3-44.6 1.2-89.2 0z" fill="#00ff68"/><path d="M1271.1 1685.1q-26.7-32.1-58.5-59.2-31.7-27.5-70.5-43.2-40.1-16-82.1-6.6-39.5 10.6-69.2 38.9 28.5-36.1 64.3-64.9 35.9-29.3 80.6-40.9 46-10.4 89.9 6.8 42.1 17.6 74.7 49.7l47.3 .9q33.5-24.8 74.1-34 39.8-8 78.6 3.6 38.7 12.2 71 36.9 16.1 12 30.7 25.7l14.3 14.1 6.2 6.2q2.8 3.3 3.6 7.5-28.5-26.5-66-36.1-36.6-7.7-71.9 5.2-35.5 13.5-64.8 38-28.3 23.4-52.2 51.4-50 1.5-100.1 0z" fill="#00ff48"/><path d="M1265.6 1678.7q-26.7-31.3-58.5-57.3-31-25.7-68.4-40-39.5-14.6-80.2-4.9-38.6 10.8-67.7 38.5 28.5-36.1 64.2-64.9 35.1-28.5 78.6-40.4 44.7-10.9 87.9 4.8 42.2 16.3 75 47.6 28 .1 55.9 1.1 32.4-22.7 71-30.9 39-7.5 77 3.9 37.7 11.9 69.3 35.7 15 11 28.7 23.6l14.4 13.9q7.6 4.9 9.1 13.6-27.5-24.1-62.8-32.7-35.6-7.3-69.8 5-34.2 12.7-62.5 35.8-27 21.6-49.9 47.5-55.6 1.9-111.3 .1z" fill="#00ff29"/><path d="M1259.9 1672.2q-26.5-30.1-58-54.9-29.9-23.8-65.7-36.8-37.4-13.1-75.9-4.5-37.3 9.9-66 35.9l.4-1.7q27.6-34.2 62.1-61.5 34.3-27.4 76.4-38.9 43.6-10.8 86.1 3.9 41 15.1 73.3 44.8 32.4 .1 64.9 1.3 31.7-21 69.1-28.1 36.8-6.3 72.7 4.2 36.2 11.1 66.9 33.4 14.9 10.7 28.5 22.9 6.9 6.5 14 12.7 8.1 5.2 8.7 14.4-27.1-22.3-61.3-29.6-33.5-6-65.7 5.3-32.8 11.8-60.1 33.4-25.6 19.8-47.5 43.7-61.4 2.3-122.9 .1z" fill="#00ff0a"/><path d="M1254 1665.7q-25.6-28.2-55.9-51.3-29.2-22.5-63.8-34.5-35.7-12.1-72.5-4.3-35.4 8.8-63.2 32.6l.7-3.5q27-32.4 60.3-58.1 33.6-26.2 74.6-37.1 42.7-10.2 84.3 3.9 38.9 14.1 70 41.6 37.2-.1 74.3 1.5 31.3-19.5 67.6-25.5 36.1-5.2 71 5.5 33.8 10.8 62.8 31.4 14.9 10.5 28.6 22.6 6.3 6.1 13.4 11.2 7.2 5.4 6.5 13.9-26.1-20-58.3-26.2-31.6-5.3-62.1 4.9-30.2 10.4-55.9 29.5-25.5 18.8-47.4 41.7-67.5 2.9-135 .2z" fill="#0f0"/><path d="M1247.9 1659.2q-24.6-26.2-53.4-47.5-28.1-20.9-61.3-32.2-33.7-11.1-68.4-4.5-34.2 7.6-61.7 29.6-.2-2.9 1-5.5 26.9-31.4 60.1-55.9 32.7-24.3 72.1-34.2 40.5-9.1 80 3.7 37.5 12.9 67.9 38.7 42.2-.2 84.3 1.7 63-36.4 132.8-16.6 32.6 10.3 60.7 29.9 14.9 10.3 28.5 22.1 3.2 3.2 6.9 5.4l5.9 4.6q6.4 5.6 4.4 13.5-53.4-36.9-115.4-17.7-29 9.9-53.8 28-23 16.5-42.9 36.6-73.9 3.5-147.7 .3z" fill="#0f0"/><path d="M1241.5 1652.6q-23.6-24.2-51.1-43.8-27.3-19.6-59.2-29.9-66.9-19.3-123.3 22-.7-3.5 .9-6.7l4.4-5.2 6.3-6.6 14.5-14.2q13.8-13 29-24.1 31.9-24 70.2-34.3 39.3-9.8 78.3 1.4 37.6 11.7 68.3 36.7 47.4-.4 94.7 1.9 61.4-32.6 127.9-13 31.6 10.2 58.9 29.2 13.8 9.4 26.6 20.3 6.9 3.4 12.2 8.9 5.5 6 2.2 13.3-50.6-32-107.9-14.8-26.4 8.5-49.3 24.1-22.8 15.4-42.7 34.4-80.4 4.2-160.9 .4z" fill="#0f0"/><path d="M1234.8 1645.9q-22.6-22.2-48.8-40-25.4-17.6-54.8-27-63.4-18.6-118.2 18.5-2.2-6.9 3.4-11.7l6.2-6.5 12.4-12q13.8-12.8 29.1-23.9 31-23 68.1-33.3 38.2-9.8 76.3 .4 36.6 10.5 66.7 33.9 52.9-.6 105.8 2.3 59.4-28.7 122.4-9.4 30.5 9.9 56.9 28.1l14.3 10.3q4.7 4.2 10.4 7 6.7 3.5 11.5 9.2 4.6 6.6 0 13.2-48.1-27.4-101.1-11.6-25.2 7.9-47.3 22.4-20.4 13.3-38.4 29.7-87.4 5-174.9 .4z" fill="#0f0"/><path d="M1227.7 1639.2q-21.7-20.4-46.6-36.6-24.6-16.1-52.8-24.5-58.4-16.2-109.8 15.7-2.9-5.2 .3-10.3 3.2-4.1 7.1-7.6l12.4-11.7q13.8-12.5 29-23.2 30.2-21.7 66-31.2 36.1-9 72.2-.2 35.4 9.4 64.9 31.2 58.8-.9 117.5 2.6 57.1-24.7 116.4-6 29.1 9.7 54.5 26.9l12.3 8.6q5.6 3.3 11.5 6.4 6.4 3.5 10.2 9.5 3.1 7.1-2.6 12.8-44.1-22.3-91.8-9.1-45.3 14.3-80.8 46.1-94.9 6-189.9 .6z" fill="#0f0"/><path d="M1583.2 1598.2q-41.3-17.9-84.8-5.7-40 12.3-72.3 39.1-102.9 7.2-205.9 .8-20.7-18.5-44.3-33-22.8-14.1-48.6-21.6-54.1-14.8-103 12.5-3.7-4.7-1.4-10.2 2.4-4.5 6.6-7.7l12.4-11.4q13-11.4 27.1-21.2 28.6-20.1 62.1-29.5 35.2-9.3 70.7-1.6 34.5 8.2 63.5 28.5 65.2-1.1 130.3 3.1 54.9-20.7 110.6-2.2 26.8 9.1 50.4 24.8 5.6 4.3 12 7 6.3 2.7 11.9 6.5 6.3 3.8 8.4 10.6 .2 7-5.7 11.2z" fill="#0f0"/><path d="M1575.4 1595q-36.5-13.1-74-3.3-36.1 10.1-66 32.8-111.5 8.7-223.2 1-19.6-16.5-41.8-29.3-20.9-12.2-44.2-18.7-49.5-13.4-95.5 9.4-7.3-7.8 0-15.6l12.9-11.8q12.9-11.1 26.9-20.7 28.5-19.7 61.8-28.8 33.9-8.7 68.2-1.5 32 7.2 59.5 25.2 72.1-1.5 144.1 3.6 52.8-16.8 105.1 1.8 24.9 9.1 47.3 23.4 12.5 4 22.7 12.1 5.6 4.6 4.3 11.3-2.5 5.9-8.1 9.1z" fill="#0f0"/><path d="M1566.2 1592.1q-31.3-8.7-62.8-.9-30.9 8-57.3 25.9-121.2 10.5-242.6 1.4-35.8-29.2-80.1-41.7-44-11.1-85.7 6.8-9-6.8-3.1-15.8 6.2-6.3 13.2-11.8 11.9-10 24.8-18.6 26.7-18.1 57.6-26.8 31.9-8.7 64.4-3.3 32 5.9 59.8 22.9 79.8-2 159.4 4.2 50.2-12.5 98.8 5.9 12.5 4.7 24.3 11 5.3 3.2 11 5.4l9.7 3.6q12.1 4 19.9 13.6 3 6.3-2 11.5-4.1 4.1-9.3 6.7z" fill="#0f0"/><path d="M1555.1 1589.5q-26-4.6-51.7 1.7-23.6 5.9-44.6 18.1-132.3 13.1-264.8 2.1-32.5-24.4-71.6-34.9-39-9.6-76.8 4-3.6-2.3-6.2-5.6-2.7-3.3-2-7.5 1.4-4.2 4.9-6.9l5.8-4.8q11.9-9.9 24.8-18.5 25.7-17.3 55.4-26.1 63.1-16.7 120.1 15.7 88.7-2.7 177.1 5.1 46.9-8.1 91 9.9l12.2 5.3q4.9 2.6 10.4 3.9 10.8 3.1 20.9 8.1 5.5 2.7 9.8 6.9 4.7 4.3 3 10.2-2.7 5.3-8 8.3-4.6 2.9-9.7 5z" fill="#0f0"/><path d="M1539.7 1587.7q-33.5-1.1-64 13.1-73.5 9-147.6 9.1-72.6 .7-144.8-5.9-29-19.5-62.9-28-33.1-7.7-65.7 1.5-7.5-3.4-11.6-10.3-1.4-4 1-7.6 2.1-3.1 5.2-5.2 11.9-9.3 24.5-17.7 24.8-16.6 53.4-25.3 59.6-16.5 114.8 12 93.2-3.3 186.2 5.1 12 1.7 24.1 .8 11.6-.1 23.2 1.5 11.9 1.7 23.4 5 10.8 3.6 21.7 7 11.7 2.8 23 6.9 10.8 3.5 19.8 10.4 5.2 4 4.2 10.3-2.4 5.4-7.6 8.4-9.6 5.7-20.3 8.9z" fill="#0bff00"/><path d="M1170.6 1596.3q-24.5-14.4-52.2-20.7-26.3-5.8-52.7-.8-7-2.7-12.9-7.4-7.2-5.4-3.1-12.9 2.7-3.4 6.4-5.7 3.5-2 6.7-4.5l10.4-7.3q24.1-16.1 51.8-24.9 56.4-16.8 110 7.9 92.8-3.7 185.2 4.2 46.6 3.7 92.3 13.5 22.7 4.3 42.7 15.5 5.3 3.1 7 8.8 .2 6.1-5.2 9.6-9.2 6.4-20 9.7-45.3 12.9-92.3 16.5-45.1 4.3-90.3 5.3-92.1 2.5-183.8-6.8z" fill="#25ff00"/><path d="M1154.4 1587.9q-35.2-17.1-74.2-15-7.1-2.3-13.8-5.6-6.8-2.9-11.4-8.6-3.6-7.7 4-12.7 6-3.8 12-7.5 22.9-15.7 49.2-24.9 54.1-18.1 107.1 3.1 94.5-4.3 188.7 3.6 46.5 3.6 92.1 13.2 11.6 2.6 22.9 6.4 11.1 3.3 20.6 10 5.5 3.8 4.7 10-2.2 5.4-7.5 8.2-10.1 5.8-21.3 8.9-46.4 12-94.3 15.4-45.8 3.9-91.9 4.6-93.8 1.9-186.9-9.1z" fill="#3eff00"/><path d="M1218.8 1513.5q64.7-3.3 129.4-.9 64.1 1.8 127.4 11.4 32.2 4.1 62.2 16.2 7.9 3.1 12.3 10.1 1.5 4.2-1.4 7.7-2.5 2.8-5.8 4.8-14.1 7.6-29.9 10.9-31.5 7.3-63.7 10.5-30.6 3.3-61.4 4.8-64.5 3.2-129.1 .7-63.1-2-125.4-11.5-16.7-2.7-33.2-6.7-15.4-3.5-29.6-10.2-8.2-3.3-11.2-11.1-.1-4.3 3.2-7.2 2.9-2.7 6.5-4.5 7.9-3.6 15.2-8.3l12.3-6.7q59.2-30.2 122.2-10z" fill="#58ff00"/><path d="M1208.9 1510.5q125.2-7.9 249.6 7.4 31.2 3.9 61.2 12.8 7.8 2.5 15 6.2 3.5 1.8 6.5 4.5 3 2.5 3.4 6.3-.3 4.1-3.6 6.7-2.9 2.6-6.4 4.3-6.8 3.5-14.2 5.7-29.8 8.6-60.7 12-30.6 3.8-61.3 5.6-125 7.6-249.1-8-31.1-3.9-61.1-13.1-7.4-2.5-14.2-6.3-3.4-1.9-6.1-4.6-3-3-2.4-7.1 3.6-7.2 11.5-10.2 7-2.8 13.6-6.1 27.7-15.3 58.9-20 30.1-4.1 59.4 3.9z" fill="#71ff00"/><path d="M1196.9 1507.7q121.5-8.7 242.7 4.3 30.3 3.3 60.1 10.2 14.8 3.3 28.6 9.8 7.7 3 10.1 10.4-.1 3.9-3.2 6.4-2.8 2.5-6.1 4.2-14 6.6-29.3 9.7-14.9 3.4-30 5.6-28.9 4.2-58.1 6.2-121.6 8.7-242.8-4.5-30-3.3-59.4-10.2-14.7-3.3-28.3-9.8-3.6-1.8-6.6-4.5-2.9-2.5-3.2-6.1 2-7.3 9.5-10.3 7.3-3.7 15.2-6 6.8-2.3 13.4-5.5 14-5.8 28.8-9 29.2-6.3 58.6-.9z" fill="#8bff00"/><path d="M1527.2 1544.8q-12.7 7.7-27.4 10.8-14.4 3.5-28.9 5.7-29.2 4.5-58.6 6.6-58.9 4.3-117.9 3.4-59.2-.7-118.1-7-29.2-3.1-57.8-9.4-14-3-27.3-8.4-7-2.6-12-8-3.7-7.1 3.8-11.6 13.4-7.8 28.7-10.8 7.5-1.9 14.7-4.5l14.1-3.5q14.8-2.9 29.9-2.9 13.8 .6 27.4-1.1 58.2-4.2 116.4-3.3 58.8 .6 117.3 6.8 29.7 3.1 58.8 9.3 14.2 3 27.6 8.4 7 2.6 12.2 7.8 4.5 6.8-2.9 11.7z" fill="#a4ff00"/><path d="M1520.6 1539.5q-12.4 7.4-26.8 10.3-13.9 3.3-28 5.5-28.3 4.3-56.9 6.3-57 4.1-114.2 3.2-57.4-.6-114.5-6.7-28.3-3-56.1-8.9-13.7-2.9-26.6-8.1-6.6-2.5-11.5-7.4-4.2-6.9 3.2-11.4 13-7.5 27.8-10.4 13.8-3.3 27.9-5.4 27.8-4.2 55.8-6.2 56.5-4 113.2-3.2 57.3 .6 114.1 6.6 28.3 2.9 56.1 8.8 13.9 2.8 27.1 8 6.9 2.4 12.1 7.4 4.7 6.8-2.7 11.6z" fill="#beff00"/><path d="M1513.8 1534.1q-12.2 7.1-26.1 9.9-13.5 3.2-27.2 5.2-27.4 4.1-55 6.1-55.2 3.9-110.5 3-55.5-.6-110.8-6.4-27.4-2.8-54.3-8.5-13.3-2.8-25.9-7.7-6.5-2.4-11.3-7.1-4.1-6.6 3-11 12.5-7.2 26.8-10 13.4-3.1 27-5.1 27-4 54.1-5.9 55-3.9 110-3.1 55.6 .6 110.8 6.3 27.4 2.8 54.3 8.4 13.5 2.8 26.3 7.7 6.6 2.4 11.6 7.1 4.4 6.6-2.8 11.1z" fill="#d7ff00"/><path d="M1506.8 1528.7q-11.9 6.8-25.4 9.5-13.1 3-26.4 5-26.4 3.9-53.1 5.7-53.3 3.7-106.6 2.9-53.6-.6-106.9-6.1-26.5-2.7-52.6-8.1-12.9-2.6-25.1-7.4-6.4-2.2-11.2-7-3.7-6.4 3.3-10.5 12.4-6.8 26.3-9.5 13.1-3 26.4-4.9 26.2-3.8 52.7-5.6 52.5-3.6 105.1-2.8 53.9 .5 107.4 6 26.4 2.7 52.5 8.1 12.9 2.6 25.3 7.4 6.3 2.2 11.1 6.8 4.2 6.3-2.8 10.5z" fill="#f1ff00"/><path d="M1499.4 1523.4q-11.5 6.4-24.6 8.9-12.6 2.9-25.4 4.8-25.5 3.7-51.2 5.4-51.3 3.5-102.6 2.7-51.6-.5-102.9-5.7-25.6-2.6-50.7-7.7-12.8-2.6-24.9-7.3-6.1-2.1-10.5-6.7-2.3-2.8-.7-5.9 1.7-2.5 4.3-4 11.7-6.4 24.9-8.9 12.6-2.9 25.4-4.7 25.3-3.6 50.8-5.4 51.6-3.5 103.3-2.7 51.2 .6 102.2 5.8 25.5 2.6 50.6 7.8 12.5 2.5 24.3 7 6.1 2.1 10.7 6.5 3.9 6.1-3 10.1z" fill="#fff400"/><path d="M1491.8 1518q-11.2 6-23.8 8.4-12.1 2.8-24.5 4.6-24.5 3.4-49.2 5.1-49.1 3.3-98.4 2.6-49.5-.5-98.7-5.5-24.6-2.4-48.8-7.3-12.3-2.4-24-6.9-5.9-2-10.3-6.3-3.2-5.9 3.3-9.5 11.3-6 23.9-8.4 12.1-2.7 24.4-4.5 24.4-3.4 48.9-5.1 49-3.3 98.1-2.6 49.4 .5 98.7 5.4 24.7 2.4 49 7.3 12.1 2.4 23.7 6.7 5.9 2 10.5 6.2 4 5.9-2.8 9.8z" fill="#ffda00"/><path d="M1483.8 1512.5q-10.8 5.8-22.9 8-11.7 2.6-23.5 4.3-23.5 3.3-47.1 4.8-47 3.2-94 2.5-47.4-.5-94.4-5.2-23.6-2.3-46.8-6.9-11.8-2.2-23.1-6.4-5.7-2-9.9-6.1-2.2-2.4-.8-5.3 1.6-2.4 4.1-3.8 11-5.7 23.2-8 11.7-2.6 23.6-4.2 23.5-3.3 47.3-4.8 47.1-3.1 94.3-2.4 47.4 .5 94.6 5.3 23.5 2.3 46.6 7 11.4 2.2 22.3 6.3 5.4 1.9 9.6 5.9 3.3 5.6-3.1 9z" fill="#ffc000"/><path d="M1475.5 1507.1q-10.4 5.4-22 7.5-11.2 2.5-22.5 4-22.3 3.1-44.9 4.6-44.7 2.9-89.5 2.2-45.7-.4-91.2-4.9-22.3-2.2-44.2-6.5-10.9-2.1-21.3-5.9-5.4-1.9-9.5-5.7-3.3-5.4 3-8.7 10.4-5.3 22-7.5 10.7-2.3 21.5-3.8 22.4-3.2 44.9-4.6 45-3 90.1-2.4 45.5 .5 90.7 4.9 22.6 2.2 44.9 6.6 11 2.1 21.5 5.9 5.3 1.8 9.4 5.6 3.4 5.4-2.9 8.7z" fill="#ffa600"/><path d="M1466.7 1501.6q-10 5.1-21 7.1-10.6 2.2-21.4 3.7-21.2 2.9-42.6 4.2-42.3 2.8-84.7 2.2-43.3-.5-86.4-4.7-21.2-2-42-6.1-10.6-2-20.8-5.7-5-1.7-8.8-5.3-2.9-5.2 3.2-8.1 10-5 21.2-7 10.2-2.2 20.6-3.6 21.4-2.9 42.9-4.3 43-2.8 86-2.1 42.6 .4 85 4.6 21.4 2 42.6 6.1 10.4 2 20.3 5.7 5.1 1.7 9 5.3 2.7 5.2-3.1 8z" fill="#ff8c00"/><path d="M1457.3 1496.1q-9.4 4.7-19.9 6.6-10 2.1-20.2 3.4-20 2.7-40.1 4-40.5 2.5-81.2 1.9-40.6-.4-81-4.4-19.8-1.9-39.3-5.7-9.9-1.8-19.3-5.3-4.8-1.6-8.3-5.1-2.1-4.9 3.4-7.4 9.3-4.5 19.6-6.4 10.1-2.1 20.3-3.5 20.4-2.7 40.9-3.9 40-2.6 80.2-1.9 40.3 .4 80.4 4.3 20.3 1.9 40.2 5.7 9.8 1.9 19.1 5.3 4.8 1.6 8.4 5 2.4 4.8-3.2 7.4z" fill="#ff6500"/><path d="M1447.4 1490.6q-18 7.5-37.7 9.2-18.7 2.5-37.5 3.6-37.8 2.4-75.8 1.8-37.9-.4-75.6-4-18.9-1.8-37.6-5.4-9.1-1.7-17.8-4.9-4.5-1.5-7.6-4.8-1.8-4.6 3.5-6.8 18.1-7.3 37.8-9.1 18.6-2.4 37.4-3.6 37.6-2.3 75.4-1.7 37.8 .4 75.5 4 18.6 1.7 36.9 5.2 9.2 1.7 18.1 4.8 4.5 1.5 8 4.7 2.4 4.6-3 7z" fill="#ff3f00"/><path d="M1436.7 1485.1q-16.8 6.8-35 8.4-17.3 2.2-34.7 3.2-35 2.2-70 1.6-35-.3-69.9-3.6-17.5-1.6-34.8-4.9-8.5-1.6-16.6-4.5-4.2-1.3-7.2-4.3-1.7-4.4 3.3-6.4 16.7-6.6 34.7-8.2 17.3-2.2 34.7-3.3 35-2.2 70.1-1.6 35.2 .3 70.2 3.6 17.2 1.6 34.2 4.9 8.5 1.5 16.7 4.4 4.1 1.3 7.2 4.2 2.2 4.3-2.9 6.5z" fill="#ff1900"/><path d="M1425.1 1479.5q-15.4 6.1-32.2 7.5-15.7 2-31.6 2.9-31.8 1.9-63.7 1.5-31.9-.4-63.7-3.3-16-1.5-31.8-4.4-7.8-1.4-15.3-4-3.9-1.2-6.7-4.1-1.4-4 3.2-5.7 15.4-6 32-7.4 15.9-2 32-3 31.7-1.8 63.4-1.4 31.8 .4 63.5 3.3 15.8 1.4 31.4 4.3 7.9 1.4 15.4 4 3.9 1.2 6.8 3.8 2.1 4-2.7 6z" fill="#ff0e00"/><path d="M1412.3 1473.8q-14 5.4-29 6.6-14.1 1.8-28.3 2.6-28.3 1.7-56.7 1.3-28.9-.3-57.7-3-14.2-1.3-28.2-3.9-6.9-1.2-13.5-3.5-3.5-1.1-5.9-3.6-1.2-3.6 3-5.1 13.7-5.1 28.3-6.4 14.3-1.8 28.7-2.6 28.4-1.7 57-1.3 28.6 .3 57 2.9 14.2 1.3 28.2 3.9 7 1.2 13.7 3.5 3.5 1.1 6.1 3.5 1.5 3.5-2.7 5.1z" fill="#ff0200"/><path d="M1397.7 1468.1q-11.9 4.5-24.6 5.5-12.5 1.6-25.1 2.3-24.5 1.4-49 1.1-24.9-.3-49.7-2.5-12.3-1.1-24.5-3.3-6-1.1-11.8-3.1-3-.9-5.3-3-1.1-3.2 2.7-4.4 12-4.5 24.8-5.5 12.1-1.5 24.3-2.2 24.8-1.5 49.7-1.1 24.8 .2 49.6 2.5 12.3 1.1 24.5 3.3 6 1.1 11.7 3 3 .9 5.2 3 1.1 3.1-2.5 4.4z" fill="#fc0000"/><path d="M1380.4 1462.3q-9.8 3.5-20.3 4.4l-19.8 1.8q-20.2 1.1-40.4 .8-20.3-.2-40.5-1.9-10.2-.9-20.4-2.8-5-.8-9.8-2.5-2.4-.7-4.1-2.5-.5-2.5 2.4-3.4 9.9-3.6 20.4-4.5l20.1-1.7q20.1-1.2 40.2-.9 20.2 .2 40.2 2 10.2 .9 20.2 2.7 4.9 .9 9.7 2.5 2.5 .7 4.3 2.5 .8 2.5-2.2 3.5z" fill="#f90000"/><path d="M1357.8 1456.2q-14 4.1-28.8 4.3-14.2 .8-28.5 .6-14.4-.2-28.7-1.4l-14.2-1.9-6.8-1.8q-4.9-1.7-.9-4.1 13.8-4 28.3-4.3 14.4-.8 28.7-.6 14.4 .2 28.7 1.4l14.2 1.9 6.8 1.7q5.1 1.7 1.2 4.2z" fill="#f50000"/></g>
<path d="M1327 1742q-29.4-43.7-64.7-82.8-34.3-38.6-77.6-66.5-22-13.8-46.9-21.6-25-7.8-51.1-5.9-25.7 2.1-48.8 13.7-22.7 11.6-41.4 29.1M1314.6 1742q29.2-43.4 64.8-81.6 17.7-18.8 37.8-35.1 19.9-16.3 42.6-28.1 23.4-12.3 49.4-16.3 26.2-3.7 51.6 3.7 25.4 7.8 46.4 24 19.9 15.3 35.9 34.4M1333.2 1733.2q-29.4-43.5-64.7-82.5-34.3-38.4-77.6-66-22.7-14.2-48.4-21.8-24.4-7.1-49.8-5.2-25.8 2.4-48.9 14.2-22.8 11.7-41.5 29.3M1308.4 1733.2q29.8-44.2 66.4-82.9 17.7-18.5 37.7-34.5 19.9-15.9 42.7-27.4 24-12.2 50.7-15.6 25.6-2.9 50.2 4.8 24.8 8 45.3 24 19.9 15.4 36 34.7M1339.4 1724.7q-29.4-43.4-64.7-82.2-34.3-38.2-77.7-65.6-22.7-14-48.4-21.5-24.5-7-49.9-4.9-25.9 2.6-49 14.5-22.9 12-41.7 29.7M1302.2 1724.6q29.8-44 66.4-82.5 17.7-18.5 37.8-34.4 19.9-15.8 42.6-27.1 24.1-12.1 50.8-15.3 25.7-2.7 50.4 5.1 24.8 8.3 45.4 24.3 20 15.6 36.2 35M1345.6 1716.5q-29.4-43.3-64.7-81.9-34.9-38.7-79.2-66.1-22.8-13.7-48.4-20.7-24.6-6.6-49.9-4.1-25.9 3-49 15.3-22.3 12-40.6 29.4M1296 1716.3q29.2-43 64.9-80.7 17.7-18.5 37.8-34.5 20-15.9 42.8-27.4 23.5-11.8 49.5-15.3 25.1-3.1 49.4 3.9 24.9 7.6 45.8 23.2 20.2 15 36.6 34M1351.8 1708.5q-29.4-43.2-64.7-81.6-35-38.6-79.2-65.7-22.9-13.5-48.5-20.4-24.7-6.5-50-3.7-26 3.1-49.1 15.6-22.3 12.1-40.7 29.6M1289.8 1708.2q29.2-42.8 64.9-80.4 17.7-18.4 37.8-34.3 19.4-15.3 41.4-26.4 22.9-11.6 48.3-15.4 25.2-3.5 49.7 3.1 24.3 7 44.9 21.7 20.4 14.4 37 33.1M1358 1700.7q-29.4-43-64.8-81.2-34.9-38.4-79.2-65.3-22.9-13.4-48.5-20.1-24.7-6.4-50.1-3.5-26.1 3.4-49.2 15.9-22.4 12.3-40.9 30M1283.6 1700.4q28.6-41.8 63.4-78.5 17.8-18.6 37.9-34.6 18.7-14.9 40-25.9 22.9-12 48.5-16.2 24.5-3.7 48.6 2.1 24.5 6.2 45.4 20.4 20.5 14 37.3 32.3M1364.2 1693.3q-29.4-42.9-64.8-81-34.9-38.2-79.3-64.8-22.9-13.3-48.5-19.9-25.5-6.4-51.5-3-26.2 3.8-49.3 16.7-21.7 12.3-39.7 29.5M1277.5 1692.7q28.5-41.6 63.3-78.1 33.6-35.9 76.5-59.3 22.4-11.8 47.2-16.3 24.6-4.1 48.9 1.3 24.6 5.9 45.7 19.8 19.9 13.2 36.4 30.5M1370.3 1686q-30-43.6-66.3-82.2-34.9-37.7-79.2-63.6-22.9-13-48.5-19.1-24.9-5.9-50.2-2.4-26.2 3.9-49.4 17-21.7 12.4-39.8 29.8M1271.3 1685.4q28-40.6 61.9-76.4 33.5-36 76.5-59.7 22.5-11.9 47.4-16.4 23.9-4.2 47.7 .7 23.9 5.3 44.7 18.3 20.2 12.7 36.9 29.6M1376.5 1679.1q-29.4-42.6-64.8-80.3-35-38-79.3-64-22.4-12.8-47.3-19.1-24.9-6.1-50.4-3-25.6 3.4-48.4 15.6-21.9 11.9-40.2 28.8M1265.2 1678.2q27.9-40.5 61.8-76 33-35.2 75.2-58.6 21.8-11.6 46-16.4 23.3-4.5 46.6-.3 24.1 4.6 45.1 17.1 20.3 12.1 37.2 28.7M1382.6 1672.3q-29.4-42.4-64.8-79.9-33.8-36.5-76.4-62-22.4-13-47.4-19.7-24.3-6.3-49.3-4-25 2.7-47.6 13.9-22.1 11.1-40.6 27.5M1259.1 1671.3q27.9-40.3 61.8-75.7 32.5-34.4 73.7-57.4 21.2-11.4 44.7-16.4 23.4-4.9 46.9-1.1 23.4 4.1 44.1 15.7 20.5 11.6 37.6 27.8M1388.7 1665.9q-28.7-41.4-63.2-78.1-33.9-36.6-76.5-62.3-21.8-12.7-46.1-19.5-23.7-6.6-48.2-4.8-25.1 2-47.9 12.7-22.3 10.5-41 26.5M1253 1664.6q27.3-39.3 60.3-73.8 31.9-34 72.3-57 21.2-11.8 44.9-17.2 22.7-5.1 45.7-2 23.5 3.4 44.4 14.5 20.6 11.1 38 26.8M1394.8 1659.7q-28.1-40.3-61.7-76.1-33.3-36.2-75.1-61.9-21.2-12.6-44.8-19.8-23.7-7.1-48.5-6-25.1 1.4-48.2 11.5-21.7 9.7-40.2 24.7M1246.9 1658.2q26.6-38.3 58.7-72 32-34.1 72.4-57.4 20.7-11.5 43.6-17.1 22.7-5.4 45.9-2.7 23.6 3 44.7 13.8 20 10.3 37 25.1M1400.8 1653.8q-28-40.2-61.6-75.9-32.7-35.3-73.6-60.5-21.3-12.8-44.9-20.1-22.5-6.8-45.9-6.3-24.5 .7-47.3 9.8-21.9 8.9-40.7 23.3M1240.9 1651.9q26.6-38 58.7-71.6 31.3-33.3 70.9-56.2 20.7-11.7 43.6-17.4 22.1-5.4 44.7-3.1 22.9 2.5 43.7 12.5 20.1 9.7 37.3 24.1M1406.9 1648.1q-28.1-40.1-61.6-75.5-32.2-34.5-72.2-59.3-20.6-12.5-43.6-19.9-22.4-7.1-46-7-23.9 .3-46.3 8.7-22 8.3-40.9 22.2M1234.8 1646q26.6-38 58.7-71.4 30.8-32.5 69.5-55 20-11.4 42.3-17.3 21.4-5.5 43.4-4 22.3 1.8 42.7 10.8 20.3 9 37.7 22.8M1412.9 1642.7q-27.4-39-60-73.7-31.6-33.9-70.8-58.7-20.6-12.8-43.7-20.5-21.8-7.2-44.8-7.7-47.6 .3-86.7 27.9M1228.8 1640.2q25.9-36.9 57.1-69.4 30.3-32.1 68.1-54.7 19.4-11.2 40.9-17.5 21.5-6.1 43.8-5.2 22.2 1.2 42.9 9.6 20.5 8.4 38 21.8M1418.9 1637.5q-26.7-37.9-58.5-71.7-31.6-34.1-70.8-59.1-20-12.5-42.3-20.2-21.2-7.4-43.6-8.4-46.8-.9-86 25M1222.8 1634.7q25.9-36.7 57.1-69.2 29.7-31.2 66.5-53.4 19.5-11.4 41.1-17.7 20.8-6.1 42.4-5.5 44.4 2.4 80.2 29.1M1424.9 1632.6q-26.7-37.8-58.5-71.4-31-33.3-69.3-57.8-19.4-12.2-40.9-20-21.2-7.6-43.8-9-46-1.7-85.2 23M1216.8 1629.5q25.3-35.7 55.5-67.3 29.7-31.5 66.6-53.8 18.9-11.1 39.7-17.6 20.8-6.4 42.6-6.2 43.6 1.6 79.4 27M1430.8 1627.9q-26-36.7-56.8-69.5-30.5-32.7-67.9-57.2-19.4-12.4-41-20.5-20.6-7.7-42.5-9.6-45.3-2.9-84.6 20.1M1210.9 1624.5q25.2-35.6 55.5-67.1 29.1-30.6 65.1-52.6 18.8-11.2 39.7-17.8 20.2-6.3 41.3-6.5 42.8 .8 78.5 24.9M1436.7 1623.5q-26-36.5-56.8-69.1-29.8-32-66.3-56-37-24.6-80.9-30.3-44.5-4.1-83.8 17.3M1205 1619.7q24.6-34.6 53.9-65.2 28.5-30.1 63.6-52.1 36.1-22.7 78.4-25.5 42.8-1 79.2 21.8M1442.6 1619.4q-25.3-35.5-55.2-67.3-29.3-31.4-64.9-55.3-36.4-24.7-79.6-31.3-43.7-5.3-83.1 14.5M1199 1615.1q24.6-34.4 53.9-64.9 27.9-29.3 62.2-50.8 35.4-22.6 77.1-26 42-1.8 78.3 19.8M1448.5 1615.5q-25.3-35.3-55.2-67-28.6-30.6-63.4-54-35.7-24.4-78.3-31.5-42.2-5.8-80.8 12M1193.2 1610.8q23.9-33.4 52.3-63.1 27.9-29.4 62.1-51.1 34.9-22.4 75.9-26.4 41.2-2.5 77.3 17.8M1454.4 1611.9q-24.7-34.3-53.6-65.1-28.1-30.1-61.9-53.3-35.2-24.5-77.2-32.5-41.3-6.8-79.9 9.4M1187.3 1606.7q23.9-33.2 52.3-62.8 27.3-28.6 60.6-49.9 34.2-22.1 74.5-26.7 39.7-3.2 75.1 15.1M1460.2 1608.6q-24.7-34.2-53.6-64.9-27.4-29.2-60.4-52-33.9-23.7-74.3-32.4-40.5-7.7-79.1 6.9M1181.5 1602.9q23.2-32.3 50.7-61 27.3-28.8 60.6-50.3 33.6-21.8 73.2-27 38.9-3.8 74.1 13.2M1466 1605.4q-24-33.1-52-62.9-27.4-29.4-60.4-52.3-33.3-23.5-73-32.5-39-8.1-76.8 4.7M1175.7 1599.3q23.2-32.1 50.6-60.7 26.1-27.4 57.7-48.1 32.9-22 71.9-28.1 38.7-4.9 74.4 11.1M1471.7 1602.6q-23.3-32.1-50.4-61.1-26.8-28.8-58.8-51.5-32.8-23.5-71.7-33.4-38.3-8.9-75.9 2.4M1169.9 1595.9q22.6-31.1 49.1-58.8 26-27.6 57.6-48.5 31.7-21.2 69.1-28.1 38-5.9 73.5 8.5M1477.4 1600q-23.2-32-50.3-60.8-26.2-28-57.3-50.2-31.5-22.7-68.9-33.1-37.5-9.7-74.8 .1M1164.2 1592.7q22.5-30.9 49-58.5 25.4-26.7 56.1-47.2 31.1-21 67.7-28.3 37.2-6.5 72.5 6.7M1483.1 1597.6q-22.5-30.9-48.7-58.9-25.5-27.4-55.8-49.4-30.9-22.7-67.6-33.7-36.6-10.5-73.8-2.2M1158.5 1589.8q21.8-29.9 47.4-56.7 24.8-26.2 54.6-46.5 30.4-21 66.4-29.1 36.3-7.5 71.4 4.2M1488.8 1595.5q-22.5-30.8-48.7-58.6-24.9-26.6-54.3-48.1-30.3-22.4-66.1-33.7-35.2-10.6-71.3-3.9M1152.8 1587.1q21.8-29.8 47.4-56.4 24.2-25.4 53-45.3 29.8-20.7 65-29.2 35.5-7.9 70.3 2.6M1494.4 1593.7q-21.8-29.8-47.1-56.8-24.2-26-52.7-47.3-29.7-22.3-64.8-34.2-34.5-11.3-70.2-5.9M1147.1 1584.7q21.2-28.8 45.8-54.7 24.2-25.5 53.1-45.5 29.2-20.4 63.6-29.3 33.9-8.2 67.7 .6M1500 1592.1q-21.2-28.8-45.5-54.9-24.2-26.2-52.7-47.6-28.5-21.5-61.9-33.5-33.7-12-69.1-8M1141.5 1582.4q21.1-28.6 45.8-54.3 23.5-24.7 51.4-44.3 28.6-20.1 62.2-29.3 33.2-8.6 66.6-.9M1505.6 1590.7q-21.2-28.6-45.5-54.7-23.6-25.3-51.2-46.1-27.8-21.1-60.4-33.4-32.3-11.9-66.5-9.3M1135.9 1580.5q20.5-27.7 44.2-52.6 22.9-24.2 50-43.5 27.9-20.1 60.8-30 32.3-9.3 65.4-3.1M1511.1 1589.6q-20.5-27.6-43.9-52.8-22.9-24.7-49.6-45.3-27.2-21-59.1-33.7-30.8-12.2-63.9-11.2M1130.4 1578.7q20.4-27.6 44.1-52.3 22.2-23.4 48.4-42.2 27.3-19.9 59.4-30 31.6-9.6 64.2-4.4M1516.6 1588.7q-19.8-26.6-42.3-50.9-22.3-24.1-48.1-44.4-26.6-20.9-57.7-34.1-30.1-12.6-62.7-12.7M1124.9 1577.1q19.7-26.5 42.5-50.5 22.2-23.4 48.4-42.4 26-19.1 56.4-29.4 30.8-10.3 63.1-6.5M1522 1588.1q-19.7-26.5-42.2-50.7-21.6-23.3-46.6-43-25.2-20-54.7-33.1-29.4-13.1-61.5-14.4M1119.4 1575.8q19.7-26.4 42.5-50.2 21.5-22.7 46.8-41.2 26-19.2 56.4-29.8 29.4-10 60.3-7.2M1527.4 1587.7q-37.1-50.9-85.6-90.8-24.7-19.9-53.3-33.4-28-13.1-58.9-15.7M1113.9 1574.7q19.1-25.4 40.9-48.4 21-22.1 45.3-40.4 25.4-19.1 55-30.2 28.7-10.5 59.1-8.9M1532.8 1587.5q-36.5-49.8-84.1-89.2-23.9-19.4-51.7-32.9-26.7-12.9-56.1-16.4M1108.5 1573.8q18.4-24.4 39.4-46.6 20.9-22.2 45.2-40.6 24.1-18.2 52.1-29.4 27.8-11.1 57.8-10.7M1538.1 1587.6q-35.3-48-80.9-86.3-23.3-19.3-50.3-33-26-13.2-54.8-17.7M1103.2 1573.2q35-47.8 81.4-84.5 23.4-18.2 50.6-29.8 27.1-11.4 56.6-12.2M1543.4 1587.9q-34.7-47-79.3-84.7-22-18.3-47.3-31.7-24.7-13.1-52.1-18.5M1097.8 1572.8q34.5-46.8 79.9-83 22.7-17.7 49.1-29.4 26.4-11.6 55.2-13.2M1548.7 1588.5q-33.6-45.2-76.2-81.8-21.4-18.1-45.9-31.7-24-13.3-50.7-19.5M1092.5 1572.5q33.9-45.7 78.2-81.3 22.1-17.4 47.7-29.1 25-11.5 52.4-14M1553.9 1589.3q-32.4-43.4-73.1-78.9-20.7-17.8-44.4-31.5-22.6-13.2-47.9-20.1M1087.3 1572.5q32.7-43.9 75.1-78.6 21.4-17.2 46.1-29.2 24.3-11.7 51.1-15.2M1559.1 1590.3q-31.2-41.6-70-76-19.5-16.9-41.4-30.4-22-13.5-46.6-21.3M1082 1572.7q32.2-42.9 73.5-77 20.8-16.8 44.7-28.8 22.9-11.4 48.2-15.7M1564.2 1591.5q-30.5-40.5-68.4-74.3-18.8-16.4-39.9-29.7-20.7-13-43.7-21.1M1076.9 1573.2q30.9-41.2 70.3-74.3 20.2-16.6 43.2-28.7 22.2-11.8 46.8-16.8M1569.3 1593q-29.3-38.8-65.3-71.3-35.2-32.3-79.2-50.5M1071.7 1573.8q30.3-40.2 68.8-72.7 19.4-16.1 41.6-28.2 20.9-11.3 44-16.9M1574.3 1594.7q-28-37-62.2-68.3-33.4-31.1-74.8-49.9M1066.6 1574.7q29.1-38.5 65.7-69.9 18.8-15.9 40.1-28.1 20.2-11.5 42.5-17.7M1579.3 1596.6q-26.8-35.2-59.1-65.3-32.2-30.3-71.9-49.6M1061.5 1575.7q28.5-37.5 64.1-68.2 34.7-30.5 78.2-45.1M1584.3 1598.7q-25.6-33.4-56.1-62.2-30.3-29-67.4-48.5M1056.5 1577q27.3-35.7 61-65.4 33.4-29.8 75.3-45.4M1589.2 1601q-24.3-31.5-53-59.1-28.5-27.6-63-47.2M1051.6 1578.4q26.6-34.7 59.3-63.7 31.6-28.3 70.9-44.3M1594 1603.6q-22.9-29.8-49.9-56-26.7-26.2-58.6-45.6M1046.6 1580.1q25.4-33 56.3-60.8 30.4-27.7 67.9-44.3M1598.9 1606.4q-21.7-28.1-46.9-53-24.8-24.6-54.1-43.6M1041.7 1581.9q24.2-31.2 53.2-57.8 29.2-27 64.9-44.1M1603.6 1609.3q-20.3-26.2-43.8-49.7-22.9-23.1-49.7-41.6M1036.9 1584q23.5-30.3 51.6-56.2 27.3-25.4 60.4-42.4M1608.4 1612.5q-37.2-48.8-86.1-85.7M1032.1 1586.3q22.2-28.6 48.5-53.3 26.1-24.6 57.4-41.8M1613.1 1615.9q-34.4-44.8-78.6-79.9M1027.3 1588.7q21.6-27.6 47-51.6 24.2-23 52.9-39.7M1617.7 1619.5q-31.5-40.8-71.2-73.8M1022.6 1591.4q20.3-25.9 43.9-48.7 22.3-21.4 48.5-37.9M1622.3 1623.3q-28.6-36.8-63.7-67.4M1017.9 1594.2q19-24.1 40.9-45.6 21-20.5 45.5-36.8M1626.8 1627.3q-25.6-32.8-56.3-60.7M1013.3 1597.2q34.5-44.9 80.3-78M1631.3 1631.4q-21.9-27.8-47.5-52.4M1008.7 1600.4q31.8-40.9 72.8-72.4M1635.8 1635.8q-18.8-23.8-40.3-45.2M1004.1 1603.8q29.5-37.8 66.9-67.6M1640.2 1640.3q-15.6-19.6-33-37.6M999.6 1607.3q27.2-34.5 60.9-62.6M1644.5 1645.1q-11.6-14.6-24.2-28.4M995.2 1611.1q24.2-30.6 53.5-56.3" fill="none" stroke="#000" stroke-opacity=".78" stroke-width="1.5"/>
<path d="M1320.8 1751q-29.5-43.8-64.7-83.1-34.3-38.7-77.5-66.9-22-13.9-46.8-21.9-25-7.9-51.1-6.3-25.6 2-48.6 13.5-22.7 11.4-41.3 28.7M1320.8 1751q29.2-43.5 64.8-81.9 17.7-18.9 37.8-35.3 19.8-16.4 42.6-28.4 23.2-12.3 49.2-16.5 26.1-3.9 51.5 3.3 25.3 7.6 46.4 23.7 19.7 15.1 35.7 34.1M1648.8 1650q-8.3-10.4-17-20.3M990.8 1615q21.8-27.3 47.6-50.9" fill="none" stroke="#000" stroke-width="1.5" stroke-linejoin="round"/>
<g font-size="11.7" fill="#111"><path d="M995.1 1663.6h-4" stroke="#000" stroke-width="2"/><text transform="translate(985.1,1674.1) scale(1.656,1)" text-anchor="end">24</text><path d="M990.8 1610h-4" stroke="#000" stroke-width="2"/><text transform="translate(980.8,1620.5) scale(1.656,1)" text-anchor="end">39.25</text><path d="M986.5 1556.5h-4" stroke="#000" stroke-width="2"/><text transform="translate(976.5,1567) scale(1.656,1)" text-anchor="end">54.5</text><path d="M982.2 1502.9h-4" stroke="#000" stroke-width="2"/><text transform="translate(972.2,1513.4) scale(1.656,1)" text-anchor="end">69.75</text><path d="M977.9 1449.3h-4" stroke="#000" stroke-width="2"/><text transform="translate(967.9,1459.8) scale(1.656,1)" text-anchor="end">85</text><circle cx="1320.8" cy="1826.3" r="1.7"/><text transform="translate(1329.3,1837.3) scale(1.656,1)">0.00</text><circle cx="1401.2" cy="1802.2" r="1.7"/><text transform="translate(1409.7,1813.2) scale(1.656,1)">1.50</text><circle cx="1481.7" cy="1778.1" r="1.7"/><text transform="translate(1490.2,1789.1) scale(1.656,1)">3.00</text><circle cx="1562.1" cy="1754.1" r="1.7"/><text transform="translate(1570.6,1765.1) scale(1.656,1)">4.50</text><circle cx="1642.5" cy="1730" r="1.7"/><text transform="translate(1651,1741) scale(1.656,1)">6.00</text><circle cx="1320.8" cy="1826.3" r="1.7"/><text transform="translate(1311.3,1837.3) scale(1.656,1)" text-anchor="end">1.00</text><circle cx="1240.6" cy="1802.2" r="1.7"/><text transform="translate(1231.1,1813.2) scale(1.656,1)" text-anchor="end">2.25</text><circle cx="1160.4" cy="1778.2" r="1.7"/><text transform="translate(1150.9,1789.2) scale(1.656,1)" text-anchor="end">3.50</text><circle cx="1080.2" cy="1754.1" r="1.7"/><text transform="translate(1070.7,1765.1) scale(1.656,1)" text-anchor="end">4.75</text><circle cx="1000" cy="1730" r="1.7"/><text transform="translate(990.5,1741) scale(1.656,1)" text-anchor="end">6.00</text></g>
<text transform="translate(1688,1820.8) scale(1.514,1)" font-size="17.8" text-anchor="end">C: Starch conc.</text>
<text transform="translate(919,1820.8) scale(1.514,1)" font-size="17.8">D: Ammonium nitrate</text>
<text transform="translate(1311.5,1440) scale(1.11,1)" font-size="57" font-weight="bold" text-anchor="middle">i</text>
</g>
<g id="pe">
<path d="M134.7 1904.5L492.8 1857.1L850.1 1904.5L826.8 2187.5L492.1 2284.4L158.2 2187.5z" fill="#ff0"/>
<path d="M134.7 1904.5L492.8 1857.1L850.1 1904.5M158.2 2187.5L492.9 2111.8L826.8 2187.5" fill="none" stroke="#330" stroke-width="1.1" stroke-dasharray="3.2 2.2"/>
<path d="M492.8 1857.1L492.9 2111.8" fill="none" stroke="#442" stroke-width="1"/>
<path d="M850.1 1904.5L826.8 2187.5M134.7 1904.5L158.2 2187.5" fill="none" stroke="#221" stroke-width="1.1"/>
<g fill="none" stroke-width="1.1" opacity=".85"><path d="M503.8 2281l-26.3-.8M490.9 2112.3l4.9 .2" stroke="#3e3"/><path d="M552.9 2266.8q-69.4 1-138.6-5M167.6 2190.2l-1.6-4.4M455.3 2120.3q49.2 .9 98.2 5.3M771.7 2175q7.5 4 14.1 9.3 6.4 5 10.5 12" stroke="#3e3"/><path d="M632.6 2243.7q-57.6 7.1-115.7 6.6-53.2-.2-106.1-5.5-54.3-5.1-107.3-17.9-26.1-6.2-50.6-17.1-12.4-5.4-22.4-14.5-5.1-4.7-6.7-11.4-1-6.6 3.2-12M403.4 2132.1q94.7-3.3 188.6 10 46.5 6.4 91.4 20.4 21.8 6.5 40.8 19 4.9 3.5 8.7 8.3 3.4 4.1 4 9.4 .3 5.7-3.2 10.3-3 4-7.2 7" stroke="#5e2"/><path d="M643 2210.1q-22.7 9.9-47.3 13.2-23.5 3.6-47.3 5-46.9 2.7-93.8-.6-47.6-2.8-94-13.2-23.7-5-45.2-15.7-5.6-2.9-10.3-7.1-4.7-4.1-5.2-10.1 .7-6.3 6-10.1 4.2-3.3 9-5.6 23-9.7 47.8-12.9 23.6-3.6 47.6-4.9 46.1-2.5 92.1 .7 48.3 2.8 95.5 13.6 23.1 4.9 44.1 15.5 5.4 2.9 9.9 7.1 4.3 3.7 5.1 9.3-.3 6-5 9.9-4.1 3.5-9 5.9" stroke="#b4ff00"/></g>
<path d="M158.2 2187.5L492.1 2284.4L826.8 2187.5" fill="none" stroke="#220" stroke-width="1.3" stroke-dasharray="3.2 1.4"/>
<g><path d="M834.6 2092.6q-34.4-35-75.6-61.4-40.4-26.1-87.3-36.4-48.1-10-95.6 3-45.4 13.2-83.2 41.7-34.1-41.3-80.1-68.5-46.2-26.5-99-20.9-26.9 3.5-51.4 15.3-23.1 11-43.3 26.6-40 31.6-71.1 72 44.8-29.2 98.2-27.3 52.1 3.9 97 31.2 44.9 26.8 82.1 63.8 35.8 35.2 66.8 74.8 30.2-46.7 67.1-88.2 35.8-41.4 82.7-69.3 24.8-14.3 52.9-19.6 27.1-4.7 53.7 2.4 26 7.5 47.6 23.8 21.4 16.2 38.5 37z" fill="#00ffcd"/><path d="M479.5 2191q-31.6-38.9-68.5-72.7-36-33.3-79.1-56.6-43.9-24-93.7-25.2-49 .7-90.2 27.5 31.9-41.6 73.3-73.6 21.2-16.1 45.4-27 23.6-10.6 49.2-13.6 54.2-4.8 100.9 23.5 43.4 26.8 76.1 66.2 39.5-29.8 87.2-42.8 46.7-11.7 93.7-1.5 46.9 10.9 87.3 37.3 40 26.1 73.5 60.1-17.7-21.6-40.2-38.2-20.9-15.4-45.8-22.5-25.4-6.9-51.4-2.9-25.5 4.3-48.4 16.3-46.5 25.5-82.3 65-35.3 38.1-64.5 81.3l-22.5-.6z" fill="#00ffb1"/><path d="M474.2 2184.6q-31.5-38-68.2-70.8-35-31.5-76.6-53.4-43.8-23.4-93.3-23.9-47.9 1.3-88.1 27.5 31.9-41.6 73.3-73.6 21.2-16.1 45.4-27 23.6-10.6 49.2-13.6 54.2-4.8 100.9 23.5 43.4 26.8 76.1 66.2 39.5-29.8 87.2-42.8 46.7-11.7 93.7-1.5 46.9 10.9 87.3 37.3 40 26.1 73.5 60.1-17.1-20.7-38.5-36.9-20.8-15.7-45.7-23.3-25.3-7.3-51.4-3.7-25.4 3.9-48.3 15.6-46.5 24.9-82.2 64-34.1 36.2-62.3 77.2l-32-.9z" fill="#00ff95"/><path d="M468.8 2178.2q-30.6-36.1-66.1-67.3-35.1-31-76.7-52.2-43.2-22.2-91.5-22.1-47 1.7-86.5 27.4 31.9-41.6 73.3-73.6 21.2-16.1 45.4-27 23.6-10.6 49.2-13.6 54.2-4.8 100.9 23.5 43.4 26.8 76.1 66.2 39.5-29.8 87.2-42.8 46.7-11.7 93.7-1.5 46.9 10.9 87.3 37.3 40 26.1 73.5 60.1-17.1-20.8-38.5-37-20-15.1-43.8-22.7-25.2-7.7-51.4-4.4-24.1 3.3-46.1 13.8-46.4 23.5-82.1 61.6-34 35.3-62.2 75.5l-41.7-1.2z" fill="#00ff7a"/><path d="M463.3 2171.8q-30.5-35.2-65.9-65.3-34.8-30.1-76.2-50.1-42.1-20.5-88.8-19.8-45.9 2.3-84.4 27.4 32.6-42.5 75.2-75 41-31.7 92.1-39.1 53.9-5.1 100.5 22.8 43.3 26.4 75.9 65.4l2.9 .1q39.6-29.5 87.4-41.9 46.8-11.3 93.9-.6 47 11.3 87.3 38.2 38.8 25.6 71.4 58.7-16.4-19.9-36.8-35.7-19.9-15.4-43.7-23.4-48.7-14.5-95.2 6.9-46.2 22.1-81.8 59.1-34.1 34.4-62.2 73.8l-51.6-1.5z" fill="#00ff5e"/><path d="M457.6 2165.4q-30.5-34.5-65.9-63.7-34-28.3-74-46.9-41.4-19.4-86.9-18.1-45 2.7-82.8 27.3 31.9-41.5 73.1-73.5 41.1-32.3 92.3-40.4 52.7-5.7 98.9 20.6 43.5 25.4 76.3 63.8l10.6 .4q39-27.9 85.5-39.3 47-10.6 93.8 .7 45.7 11.6 85 37.7 38.6 25.6 71.1 58.6-16.4-19.9-36.8-35.7-19.1-14.7-41.9-22.8-48.3-15.2-94.9 5.5-44.7 20.5-79.5 55.6-34 33.4-62.1 72-30.9-.5-61.8-1.8z" fill="#00ff42"/><path d="M451.7 2158.9q-30.3-33.4-65.5-61.6-33.7-27.2-73.4-44.7-40.4-17.7-84.3-15.8-43.7 3.2-80.5 27.2 31.9-41.5 73.2-73.6 40.3-31.5 90.4-40 51.4-6.4 97.1 18.4 43.7 24.3 76.7 62.1l18.6 .7q39.5-27.1 86.2-37.2 45.3-8.9 90.2 2.3 44.6 11.7 83.1 37.4 37.8 25.1 70 57.2-15.7-18.8-35-33.8-19-14.8-41.6-23-46.6-15.4-92.3 3.6-44.3 19.2-78.9 53.1-33.8 32.3-61.7 69.8-36.2-.4-72.3-2.1z" fill="#00ff26"/><path d="M445.7 2152.4q-29.3-31.5-63.2-58-33.8-26.7-73.5-43.3-40.4-16.9-84.1-14-41.7 4-76.9 26.9 31.1-40.5 71.2-72 39.2-31.4 88.3-41 51.2-7.8 97.5 15.9 43.9 23.3 77.1 60.4l26.9 1.1q38.9-25.5 84.4-34.6 44.3-8 88 3.2 43.3 11.5 80.7 36.2 19.1 12.3 36.7 26.8l17.2 14.9q6.8 6.7 14.3 12.6-15.9-18.3-35.3-32.7-18.4-13.6-40-21-44.6-13.9-88.2 3.4-42.8 17.8-76.5 49.8-33.8 31.2-61.6 67.8-41.5-.3-83-2.4z" fill="#00ff0b"/><path d="M439.4 2145.9q-29.2-30.7-63.1-56.2-32.8-24.9-71.1-40.1-39.7-15.7-82-12.4-40.8 4.4-75.2 26.8 31.1-40.5 71.2-72.1 38.5-30.6 86.3-40.6 50-8.4 95.7 13.8 44.1 22.2 77.5 58.6l35.5 1.4q37.6-23.5 81-31.6 43.5-7.5 86.2 3.5 42.2 11.2 78.8 35 18 11.4 34.6 24.7l17.3 14.6q7 6.7 14.8 12.4-15.3-16.9-33.8-30.2-18.5-13.3-40.1-20.3-43.7-12.9-86.2 4-41.3 17.1-74.1 47.6-32.3 29.4-59.1 63.8-47.1-.2-94.2-2.7z" fill="#0f0"/><path d="M433 2139.3q-29-29.5-62.5-53.8-32.7-23.8-70.5-37.8-80.1-28.5-152 16.3 30.2-39.2 68.7-70.1 38.1-31.1 85.9-42 49.4-9.4 95.3 11.6 43.9 21.1 77.3 56.6l44.5 1.7q37-21.9 79.5-29 41.5-6.3 82.2 4.2 41 10.9 76.8 33.7 17.9 11.2 34.5 24.4l17.4 14.5q6.5 5.3 13.2 10.3-30.2-33.5-72.8-47.5-42-11.5-82.7 4.5-40.1 16.2-72.3 45.4-31 27.6-57 60.1-52.8-.1-105.5-3.1z" fill="#0f0"/><path d="M426.3 2132.7q-28.9-28.6-62.3-51.7-31.6-22.1-68-34.7-78.3-25.9-148 17.7 30.2-39.2 68.7-70.1 37.3-30.3 83.8-41.6 49.4-10.1 95.5 10.4 42.8 19.9 75.6 53.8 26.9 .7 53.8 2.1 73.9-41.2 156-21.6 39.7 10.5 74.6 32.3 17.9 11.1 34.5 24.1l15.1 12.3q3.6 3 7.7 5.3 3.4 2.2 6.4 5.2-29.3-30.8-69.4-43.9-40.7-11.1-80.4 3.7-38.4 14.9-69.6 42.1-30.8 26.5-56.6 58.1-58.7 0-117.4-3.5z" fill="#0f0"/><path d="M419.4 2126.1q-27.9-26.7-59.9-48.1-31.5-21.3-67.7-33.1-76.4-23.3-143.8 19.1 29.4-38.1 66.6-68.5 37.2-30.8 83.8-42.7 48.1-10.6 93.6 8.2 42.9 18.7 76 51.9 31.7 .8 63.4 2.5 72.7-37.9 152.1-17.9 38.4 10.5 72.2 31.6 16.7 10.3 32.3 22.3 6.9 5.5 13.9 10.9 7.8 3.8 13.9 10.1-29-29.2-68.2-40.8-38.9-9.7-76.7 4.1-37.1 14.1-67.5 39.9-29.6 24.7-54.4 54.3-64.9 .2-129.6-3.8z" fill="#0f0"/><path d="M412.2 2119.4q-26.8-24.7-57.4-44.5-30.6-19.9-65.4-30.7-73.1-21.5-138.3 17.8l-.6-1.2q29.4-37.5 66.6-67.2 36.3-29.4 81.5-40.9 46.9-10.3 91.5 7.5 41.6 17.6 74.1 49.1 36.8 .8 73.5 3 70.8-34.3 146.9-14.5 36 10 68.1 29.5 15.6 9.4 30.1 20.2 7.2 6.2 15.4 10.7 7.8 3.9 13.6 10.4-28.8-27.4-67-37.7-37-8.4-72.8 4.4-35.9 13.3-65.4 37.7-28.3 23-52.2 50.6-71.2 .5-142.2-4.2z" fill="#0f0"/><path d="M404.6 2112.6q-26.7-23.7-57.2-42.3-28.8-17.5-61-27-68-18.9-129.6 15.4l-1.9-3.3q28.8-35.7 64.9-63.9 34.8-27.4 77.7-38.5 44.7-10.3 87.9 5.5 42 16.3 74.9 47.2 42.1 .8 84.2 3.4 68.6-30.4 141.1-11 34.9 9.8 65.9 28.5 15.6 9.3 30.2 20.1 3.2 2.8 7.1 4.5l7.2 3.8q6.9 3.7 11.6 9.9-27.8-25-63.7-34.2-36-7.9-70.9 4.3-34.5 12.4-63.1 35.4-26.9 21.3-49.8 46.8-77.8 .9-155.5-4.6z" fill="#0f0"/><path d="M396.6 2105.8q-24.7-21-52.6-37.4-27.7-16.5-58.7-25.3-63.6-17.6-122.4 12.2-2.3-2.3-3.4-5.4 27.9-33.7 62.6-60.1 34.9-26.9 77.5-37.3 43.7-9.4 85.7 5.9 39.5 15.2 70.9 43.7 47.9 .8 95.6 4 66-26.6 134.7-7.8 33.5 9.6 63.5 27.4 14.3 8.4 27.8 18.2 7.3 2.9 14.1 6.9 7 3.8 11.3 10.3-26.7-22.4-60.4-30.7-33.7-7.1-66.6 3.5-32.9 11.1-60.6 32.2-26.8 20.2-49.6 44.7-84.8 1.3-169.4-5z" fill="#0f0"/><path d="M388.2 2098.9q-23.8-19.2-50.4-34.1-25.9-14.5-54.5-22.3-58.7-15.6-113.8 9.6-3.8-3.1-5.3-7.7 27.9-32.7 62.5-57.9 33.1-24.4 73-34 42.4-9.2 83.4 5.1 38.2 14.1 69 40.9 53.8 .8 107.5 4.6 63.4-22.8 128.2-4.4 31.4 9.1 59.7 25.6l15.1 9.2q5.3 4.1 11.7 6.3 7.3 3 14.1 7.3 6.6 3.7 10.1 10.3-26.2-20.6-58.7-27.6-31.7-5.9-62.5 3.8-31.4 10.2-58.1 29.9-25.3 18.4-47 40.9-92.2 1.7-184-5.5z" fill="#0f0"/><path d="M379.1 2091.8q-44-34.7-97.8-49.8-53.6-13.7-104.7 7-5.7-3.8-7.5-10.1 27.1-30.8 60.5-54.5 32.4-23.1 71.1-32.1 40.3-8.5 79.5 4.4 37.3 12.9 67.5 38.2 60.3 .7 120.5 5.2 60.5-18.8 121.4-.9 28.8 8.6 55 23.4l14.9 8.9 12 4.7q6.9 2.9 13.2 7.1 6.3 3.7 8.8 10.5-53.3-38.4-116.2-20.2-29 9.3-53.9 26.9-24 16.8-44.8 37.4-99.9 2.3-199.5-6.1z" fill="#0f0"/><path d="M369.3 2084.7q-40.6-29.8-89-43-48.6-12.2-95.8 4.2-8.1-4.1-10.4-12.6 27.1-29.6 60.3-52.1 31.4-21.4 68.5-29.4 38-7.4 75 4.1 35.8 11.8 65.3 35.4 67.4 .6 134.6 6 56.2-14.6 111.9 1.9 27.7 8.3 52.9 22.3 6.2 4 13.2 5.9l12.6 5.1q6.5 2.8 12.2 6.9 6.2 3.9 7.6 10.7-50.6-33.3-108.8-17.1-27.6 8.4-51.6 24.6-22.6 15.1-42.3 33.8-108.3 3-216.2-6.7z" fill="#0f0"/><path d="M358.6 2077.4q-37.1-25.1-80.4-36.1-42.7-10.3-84.8 1.7-4.9-2.5-9-6-4.6-3.6-5-9.2 25.3-26.8 56-47.3 30.6-20.5 66.4-28.5 36.9-7.5 73 3 34.8 10.6 63.7 32.7 75.3 .4 150.2 7 52.7-10.6 104.1 5.5 12.9 4 25.3 9.3l12.7 5.9q4.9 3 10.5 4.4 12.7 3.7 24.7 9.3 5.8 2.8 10.9 6.8 5.6 4 5.6 10.6-47.6-28.4-101-14.1-26.1 7.5-49 22.2-21.2 13.4-39.8 30.2-117.3 3.9-234.1-7.4z" fill="#04ff00"/><path d="M346.4 2069.8q-32.4-19.8-69.2-28.8-36.8-8.6-73.6-.6-6.6-2.8-12.3-7-6.4-4.1-6.4-11.2 25.3-25.8 55.9-45.1 28.8-18.2 62.1-25.3 34.7-6.8 68.8 2.3 33.6 9.5 61.9 30 45.2 .2 90.5 2.5l45.8 3 22.3 1.9q10.8 1.5 21.6-.4 45.4-3.3 88.3 12.1 11.3 4.3 22.4 8.9 10.3 2.6 20.4 6 10.6 3.5 20.4 8.8 4.8 2.7 8.6 6.7 3.9 4.1 2.3 9.4-44.7-23.8-93.7-10.9-45.9 14-82.1 46-127.3 5-254-8.3z" fill="#1bff00"/><path d="M332.2 2061.8q-27.6-14.7-58-21.4-29-6.3-58.3-2.3-8.8-3.1-16.7-8-3.8-2.3-6.7-5.7-2.9-3.5-1.9-7.8 24.6-24.1 54.1-41.9 28.1-16.9 60.3-23.3 32.7-6 65 2.3 31.5 8.5 58.4 26.9 90.7-.2 180.9 9 11.9 1.5 23.9 .9 11.2 .2 22.2 1.6 22.1 2.8 43.2 9.9 10.4 3.5 21.3 5.8 10.6 2.7 21 6.2 10.6 3.5 20.2 9 4.7 2.7 8 6.9 3.3 4.7 .3 9.7-41.5-19.2-85.8-7.8-41.4 12-74.8 39.5-138.7 6.4-276.6-9.5z" fill="#32ff00"/><path d="M313.6 2053q-38.8-17.2-81.1-16.4-11.8-3.4-22.8-8.7-5.6-2.7-10.1-6.7-4.9-4.3-3-10.3 23.7-22.1 51.7-38.3 27.1-15.6 57.8-21.4 31.5-5.5 62.6 2.2 29 7.4 54.2 23.6 90.1-.4 179.8 8.4 45.6 4.4 90.5 13.1 22.2 4.3 43.6 11.4 10.4 3.4 19.8 9.1 4.9 2.9 7.6 7.9 1.8 5.4-2.5 9.3-37.8-14.6-77.1-4.6-36.4 10-66.6 32.8-152.7 8.2-304.4-11.4z" fill="#48ff00"/><path d="M202.9 2005.3q22.9-20.3 49.6-35 25.3-13.8 53.5-19.1 59.5-9.1 111.1 22.3 90.8-.8 181.1 7.9 45.6 4.3 90.7 13 22.2 4.2 43.6 11.4 10.9 3.5 20.3 10 11 8.8 0 17.3-32.2-9.9-65.1-2.3-32 7.9-59.4 26.4-110.9 6.8-221.9-1.1-55.2-3.6-109.8-12.1-27.4-4.2-54.2-11.4-13.1-3.5-25.5-9-6-2.7-11-6.9-6-4.8-3-11.4z" fill="#5fff00"/><path d="M410.9 1970q92.6-1.2 184.8 7.6 45.4 4.2 90.2 12.9 22.4 4.2 43.9 11.8 11.1 3.5 19.8 11.2 4.6 4.8 1.1 10.3-3.5 4.2-8.6 6.5-26.7-5.7-53.3 .3-25.6 5.9-48.3 19.1-167.5 12.4-334-10.6-21-3.2-41.8-7.7-19.8-4.1-38.7-11.5-10.2-3.4-17.1-11.4-3.3-6.5 2.9-10.7l6.5-5.1q16.3-12.7 34.4-22.5 79.2-42 158.2-.2z" fill="#76ff00"/><path d="M404.3 1966.5q94.6-1.6 188.8 7.3 46.6 4.2 92.4 13.4 22.9 4.3 44.4 12.9 5.4 2.3 10.1 5.6 5.4 3.3 5.7 9.3-2 5.9-7.9 8.6-4.8 2.7-9.9 4.5-37.5-2.8-71.6 13.5-83 7.9-166.4 5.6-82.1-1.5-163.5-11.7-41.4-4.9-81.6-16.2-9.8-2.9-19.1-7.4-4.7-2.3-8.5-5.7-4.5-3.8-2.8-9.1 3.2-5.3 9-8.3l8.6-6 15.1-9.5q36.7-21.7 79-24.3 41.3-1.2 78.2 17.5z" fill="#8cff00"/><path d="M397 1963.1q68-1.4 135.9 2.5 67.1 3.4 133.3 14.5 16.9 3 33.5 7.3 16.4 3.8 31.3 11.8 4 2.2 6.7 5.8 2.7 3.9 0 7.8-5.8 6.3-14.2 8.8-15.6 5.6-32 8.3-66.5 10.5-134 10.9-68.3 1.3-136.5-2.8-66.5-3.6-132.2-15-17-3.1-33.6-7.7-16.5-3.8-30.6-13-4.8-3.3-4.3-8.8 1.9-4.7 6.5-7.2l13-8.6q13.4-8.4 27.9-14.7 64.8-28.1 129.3 .1z" fill="#a3ff00"/><path d="M389.1 1959.8q66.2-1.8 132.4 1.6 65.1 3 129.5 12.8 33 4.6 64.2 15.6 8.1 2.9 14.4 8.5 3.5 3.2 2.1 7.6-1.8 3.5-5.3 5.5-14.3 7.7-30.5 10.5-31.9 6.4-64.4 8.8-32.4 2.6-64.9 3.5-66.2 1.7-132.4-1.9-64.8-3-128.9-13-33.1-4.6-64.3-16.3-8.4-3-13.7-9.9-1.9-4.3 1.4-7.7 3-2.8 6.7-4.9 13.4-8.8 28-15.6 61.8-29 125.7-5.1z" fill="#b9ff00"/><path d="M380 1956.6q128.4-4.9 255.8 11.9 31.9 4.2 62.7 13 7.8 2.4 15.2 5.8 7.7 2.9 11.2 9.9 .5 4.5-3.4 7.2-3 2.3-6.5 3.9-7.1 3.1-14.6 5.1-30.9 7.5-62.7 10-31.4 3-63 4-127.7 4.6-254.4-12.4-31.9-4.2-62.6-13.4-7.7-2.4-14.8-6-3.6-1.8-6.6-4.5-3-2.5-3-6.2 1-4.1 4.7-6.3l7-4 12.9-7.1q59-30.2 122.1-10.9z" fill="#d0ff00"/><path d="M369.5 1953.6q124.3-5.7 247.8 8.9 30.6 3.7 60.7 10.6 15.2 3.4 29.5 9.8 3.6 1.7 6.7 4.2 3.2 2.4 3.6 6.1-.7 4.1-4.4 6.3-2.9 2.1-6.3 3.5-15.1 5.9-31.2 8.5-14.9 2.6-30 4.3-29.9 3.3-59.9 4.6-124 5.4-247.1-9.3-30.9-3.8-61.1-10.9-15-3.4-28.7-10-3.4-1.7-6.2-4.3-3.2-2.7-2.5-6.6 3.7-6.6 11.4-8.9 27.2-14.5 57.4-19.7 30.5-4.7 60.3 2.9z" fill="#e7ff00"/><path d="M692.6 2000q-29.6 8-60.2 10.4-29.9 2.9-60 4-59.7 2.1-119.4-.5-59.3-2.2-118.2-10-29.5-3.7-58.2-11.2-14.8-3.2-26.9-12-3.2-2.9-1.9-6.9 1.8-3.1 5-4.8 6.2-3.6 13.1-5.5 28.4-12.5 59.2-14.4 15.7-.8 31.2 1.7l28.2-1.4q59.3-2.1 118.6 .4 59.8 2.2 119.2 10 29.3 3.7 57.8 11.1 14.8 3.2 27.1 11.6 6.3 6.6-1.7 11.8-6.1 3.7-12.9 5.7z" fill="#fdff00"/><path d="M685.1 1994.2q-28.6 7.7-58.2 10-28.9 2.7-57.9 3.7-57.6 2-115.2-.4-57.3-2.2-114.1-9.5-28.6-3.6-56.4-10.8-14.1-3-25.8-11.1-3.4-2.7-2.4-6.6 1.6-3.2 4.9-4.9 5.9-3.4 12.6-5.3 15.1-4 30.3-7.5 13.5-2.7 27.3-2.9 14.9-.4 29.8-1.7l27.2-1.4q57.5-2 115 .4 58 2.1 115.5 9.6 28.3 3.5 55.8 10.6 14.2 3.1 26 11.1 6 6.4-1.8 11.3-5.9 3.5-12.6 5.4z" fill="#ffea00"/><path d="M677.4 1988.4q-27.6 7.3-56.2 9.5-27.8 2.6-55.8 3.5-55.4 1.9-110.8-.4-55.1-2-109.9-9-27.5-3.4-54.4-10.2-13.7-2.9-25.1-10.6-5.8-6.5 2.2-11 5.7-3.3 12.1-5.1 27.5-7.2 56-9.4 27.3-2.5 54.6-3.5 55.6-1.9 111.2 .4 55.3 2 110.2 9 27.5 3.4 54.3 10.1 13.8 2.9 25.5 10.6 6.1 6.2-1.7 11-5.8 3.3-12.2 5.1z" fill="#ffd300"/><path d="M669.4 1982.6q-26.6 6.9-54.1 9-26.7 2.4-53.5 3.3-53.2 1.8-106.3-.4-53.7-1.9-107-8.7-26.2-3.3-51.9-9.8-13.1-2.7-23.9-10.3-2.9-2.5-1.7-5.9 1.7-2.8 4.5-4.3 5.7-3 11.9-4.7 26.8-6.8 54.4-8.9 26.4-2.4 52.9-3.3 52.9-1.7 105.7 .4 53.3 1.9 106.2 8.6 26.3 3.2 52.1 9.6 13.2 2.8 24.3 10.1 5.8 6-1.8 10.5-5.6 3.1-11.8 4.8z" fill="#ffbc00"/><path d="M661 1976.8q-25.5 6.4-51.9 8.4-25.5 2.3-51.2 3.2-50.8 1.6-101.5-.4-51.4-1.9-102.4-8.3-25.2-3-49.7-9.1-12.5-2.6-22.9-9.6-5.2-5.9 2.3-9.9 5.3-2.9 11.2-4.5 25.7-6.5 52.2-8.4 25.3-2.3 50.8-3.1 50.8-1.7 101.5 .3 51.2 1.9 101.9 8.2 25.3 3.1 49.9 9.1 12.6 2.6 23.1 9.6 5.5 5.8-1.9 9.9-5.4 3-11.4 4.6z" fill="#ffa500"/><path d="M652.3 1970.9q-24.5 6.1-49.6 7.9-24.3 2.2-48.8 3-48.3 1.5-96.6-.4-48.9-1.7-97.5-7.7-24-2.9-47.6-8.7-12.1-2.4-22.2-9.2-2.7-2.1-1.8-5.3 1.6-2.6 4.4-4 5.2-2.7 10.9-4.2 24.2-6 49.1-7.8 24.3-2.2 48.6-3 48.6-1.6 97.2 .4 48.9 1.7 97.4 7.7 24.1 2.9 47.6 8.7 11.9 2.4 21.9 9 5 5.5-2.1 9.3-5.2 2.8-10.9 4.3z" fill="#ff8e00"/><path d="M643 1965q-23.2 5.7-47.1 7.4-23 2-46.2 2.7-45.7 1.5-91.4-.3-46.4-1.6-92.4-7.2-23.3-2.8-46-8.3-11.6-2.2-21-8.8-2.5-2.3-1-5.2 1.7-2.3 4.4-3.5 4.9-2.4 10.2-3.8 22.7-5.5 46-7.2 23.1-2 46.2-2.8 46.3-1.5 92.6 .4 46.5 1.6 92.7 7.3 22.8 2.7 45.1 8.1 11.4 2.3 20.8 8.7 2.6 2.1 1.5 5-1.6 2.4-4.3 3.7-4.8 2.4-10.1 3.8z" fill="#ff6d00"/><path d="M633.3 1959.1q-21.9 5.2-44.5 6.8-21.7 1.9-43.5 2.6-43 1.3-86-.4-43.7-1.5-87-6.7-22-2.5-43.5-7.6-10.8-2.1-19.8-8.1-4.1-5 2.5-8.1 4.7-2.4 9.9-3.7 21.4-5.1 43.4-6.7 21.8-2 43.7-2.7 43.8-1.3 87.6 .4 43.5 1.5 86.6 6.7 21.7 2.5 42.9 7.5 10.8 2.1 19.9 8.1 2.6 2 1.5 4.9-1.5 2.3-4.1 3.4-4.6 2.3-9.6 3.6z" fill="#ff4a00"/><path d="M623 1953.1q-20.6 4.8-41.7 6.3-20.3 1.7-40.7 2.3-40.8 1.3-81.7-.3-40.6-1.5-80.9-6.3-20.4-2.3-40.4-7.1-10.1-1.9-18.4-7.6-2.3-2.1-.7-4.6 1.6-1.9 3.8-2.9 4.4-2.1 9.2-3.2 20.2-4.8 41-6.2 20.6-1.8 41.2-2.4 40.6-1.2 81.2 .3 40.7 1.4 81.2 6.3 20.3 2.3 40.1 7 10.1 1.9 18.5 7.4 2.4 1.9 1.2 4.6-1.5 2.1-3.9 3.1-4.3 2.1-9 3.3z" fill="#ff2800"/><path d="M611.9 1947.1q-37.7 7.5-76.3 7.8-37.7 1.1-75.4-.3-38.1-1.3-75.9-5.8-18.7-2.2-37-6.6-9.4-1.7-16.9-7.1-2-2-.3-4.2 1.7-1.7 3.8-2.6 4.1-1.8 8.4-2.8 37.4-7.5 75.7-7.8 37.8-1.1 75.5 .3 37.9 1.3 75.5 5.8 18.7 2.1 37 6.4 9.3 1.8 17 6.9 2.3 1.8 .9 4.3-1.4 1.7-3.6 2.7-4 1.9-8.4 3z" fill="#ff1400"/><path d="M599.8 1940.9q-34.4 6.8-69.6 7.1-34.3 1-68.6-.3-34.7-1.2-69.2-5.2-17.1-2-33.9-5.9-8.6-1.5-15.6-6.4-1.9-1.8-.4-3.8 1.5-1.5 3.4-2.4 3.9-1.7 8-2.6 34.6-6.7 69.9-7 34.1-1 68.3 .3 34.6 1.2 69.1 5.3 17 1.9 33.8 5.8 8.4 1.5 15.4 6.3 2 1.8 .5 3.9-1.4 1.5-3.3 2.3-3.8 1.7-7.8 2.6z" fill="#ff0900"/><path d="M586.5 1934.8q-30.8 5.9-62.2 6.1-30.6 .9-61.2-.3-31-1-61.7-4.5-15.4-1.7-30.5-5.2-7.9-1.3-14.3-5.8-1.6-1.7-.1-3.4 1.5-1.4 3.3-2.1l7-2.3q30.8-5.8 62.2-6 30.7-.9 61.4 .3 30.7 1 61.3 4.5 15.3 1.7 30.4 5.2 7.7 1.3 14.1 5.5 2.4 3.8-2.6 5.6l-7.1 2.4z" fill="#f00"/><path d="M571.4 1928.4q-26.6 5-53.9 5.2-26.8 .8-53.6-.2-26.7-.9-53.1-3.9-13.5-1.5-26.7-4.5-6.7-1.2-12-5.1-1.1-3.4 3.1-4.5l6.2-2q26.5-4.9 53.6-5.1 26.7-.8 53.5 .3 26.7 .8 53.3 3.9 13.3 1.4 26.3 4.4 6.7 1.2 12.1 4.9 1.7 3.4-2.8 4.7l-6 1.9z" fill="#fc0000"/><path d="M553.6 1921.9q-21.7 4-43.9 4.2-21.8 .6-43.6-.3-22-.7-43.9-3.2-10.9-1.1-21.6-3.6-5.4-.9-9.7-4.1-.8-2.7 2.6-3.6l5.1-1.6q21.9-3.9 44.3-4.1 21.6-.6 43.3 .2 21.9 .8 43.7 3.2 10.8 1.2 21.5 3.6 5.4 .9 9.7 4.1 1 2.8-2.5 3.7l-5 1.5z" fill="#f90000"/><path d="M530.6 1915q-30.9 4.5-62.2 2.7-15.5-.5-30.8-2.3-7.6-.8-15.2-2.5-3.9-.6-6.9-3-.3-2 2.2-2.5l3.6-1q30.7-4.5 61.9-2.7 15.3 .5 30.6 2.2 7.8 .9 15.3 2.6 3.9 .6 7 2.9 .5 1.9-2 2.5l-3.5 1.1z" fill="#f60000"/></g>
<path d="M498.5 2196.8q-32.4-41.5-70.4-78-36.5-35.3-80.3-60.8-22.5-12.8-47.1-20.8-24.6-7.9-50.5-8.8-52.4-.7-96.3 28.2M485.6 2198.4q30.4-46.9 67.6-88.4 18.5-20.5 39.4-38.3 20.1-17.2 43.1-30.1 24.3-13.8 51.7-19 27.3-4.8 54 2.4 26.6 7.7 48.6 24.5 21.5 16.3 38.6 37.2M505 2187.3q-32.5-41.3-70.5-77.6-36.5-35.1-80.3-60.3-22.6-12.7-47.2-20.5-24.7-7.7-50.6-8.4-52.6-.3-96.5 28.9M479.1 2190.5q28.5-43.7 62.8-82.8 33.6-39 76.7-67 22.4-14.2 47.9-21.6 25.1-7.1 51.1-4 26 3.5 48.8 16.8 21.5 12.6 39 30.3M810.1 2066.9q6.5 6.8 12.5 14M511.5 2178.1q-32.5-41.2-70.6-77.2-37.1-35.6-81.9-60.7-23.2-12.7-48.6-20.2-24.1-7-49.1-7.2-52.1 .5-95.4 29.7M472.7 2182.7q28.4-43.4 62.8-82.4 33.6-38.8 76.7-66.6 22.4-14 47.9-21.2 24.5-6.8 49.8-3.9 25.4 3.3 47.8 15.9 21.6 12.2 39.3 29.7M806.3 2063.7l10.2 11.7M517.9 2169.2q-32.4-41-70.5-76.9-37.2-35.3-82-60.1-23.3-12.6-48.7-19.9-24.1-6.8-49.2-6.9-52.3 1-95.6 30.4M466.2 2175.2q28.5-43.3 62.8-82.1 33.1-37.9 75.2-65.2 21.9-13.7 46.6-21.1 23.9-6.9 48.6-4.8 25.5 2.6 48.2 14.6 21.8 11.6 39.7 28.6M800.2 2058.2l10.3 11.8M524.4 2160.5q-32.5-40.8-70.6-76.4-37.2-35.2-82.1-59.7-23.3-12.5-48.7-19.6-24.2-6.7-49.3-6.5-52.5 1.3-95.8 31.1M459.8 2167.9q27.8-42.2 61.2-80 33.1-38.1 75.3-65.6 21.9-13.8 46.6-21.3 24-7.1 48.8-5.1 24.9 2.4 47.1 13.7 21.9 11.3 40 28.1M797.6 2056.8l6.9 8M530.8 2152.1q-32.4-40.7-70.6-76.1-37.2-34.9-82.1-59.1-23.4-12.4-48.8-19.3-24.9-6.7-50.7-6.2-51.9 2.2-94.7 31.8M453.4 2160.8q27.7-42.1 61.2-79.7 32.5-37.2 73.7-64.2 21.3-13.5 45.3-21.1 23.3-7.3 47.6-6 24.9 1.7 47.5 12.4 22.1 10.7 40.4 27M791.6 2051.7l6.9 8M537.3 2144q-32.5-40.5-70.7-75.7-37.9-35.4-83.7-59.5-23.3-11.9-48.8-18.5-24.3-6.2-49.3-5.5-52.1 2.5-94.9 32.5M447 2153.8q27.7-41.8 61.1-79.3 32-36.3 72.3-62.8 21.3-13.6 45.4-21.4 23.3-7.3 47.7-6.2 25 1.6 47.7 12.2 21.4 10.2 39.3 25.8M787.9 2049.5l4.6 5.4M543.7 2136.1q-32.5-40.3-70.7-75.2-37.9-35.2-83.7-59-23.4-11.9-48.9-18.2-24.3-6.1-49.4-5.2-52.2 2.9-95.1 33.1M440.7 2147.1q27-40.7 59.4-77.2 32-36.5 72.4-63.2 20.6-13.3 43.9-21.1 23.4-7.8 48-7 24.3 1 46.6 10.8 21.6 9.6 39.7 24.7M781.8 2044.8l4.6 5.4M550.1 2128.6q-32.5-40.2-70.7-74.9-37.9-35-83.8-58.5-23.4-11.7-48.9-17.9-25.1-6.1-50.9-4.8-51.6 3.6-93.9 33.7M434.3 2140.6q27-40.6 59.5-76.9 31.9-36.3 72.3-62.8 20.7-13.2 44-20.9 22.7-7.3 46.6-6.7 24.4 .9 46.8 10.6 20.9 9.1 38.6 23.5M556.5 2121.3q-32.5-40-70.7-74.5-38-34.8-83.8-58-23.5-11.6-49-17.6-25.2-5.9-50.9-4.5-51.8 4-94.2 34.3M428 2134.3q26.3-39.4 57.8-74.8 31.4-35.8 70.8-62.2 20.8-13.6 44.2-21.6 22-7.5 45.3-7.6 23.7 .3 45.8 8.8 21.8 8.6 40.3 23M562.8 2114.2q-33.1-40.6-72.2-75.5-38-34.2-83.8-56.8-23.5-11.2-49-16.9-25.2-5.5-50.9-3.7-51.1 4.6-92.9 34.7M421.6 2128.2q26.3-39.3 57.8-74.5 31.4-35.6 70.9-61.8 20.1-13 42.6-20.8 22.1-7.7 45.5-7.8 23.7 0 45.9 8.5 21.2 8.2 39.3 21.8M569.2 2107.5q-33.1-40.5-72.3-75.1-38-34.1-83.8-56.3-47.5-23.2-100-20.1-51.3 5-93.1 35.4M415.3 2122.2q26.3-39.1 57.8-74.1 30.8-34.7 69.3-60.4 20.1-13.1 42.7-21.1 21.5-7.5 44.2-8 46.6 .3 84.3 28M575.5 2101q-33.1-40.3-72.2-74.7-38.1-33.8-83.9-55.8-47.6-22.9-100.1-19.5-51.4 5.3-93.3 35.9M409 2116.5q26.3-38.9 57.8-73.8 30.1-33.8 67.7-59 19.5-12.8 41.3-20.8 21.5-7.9 44.3-8.8 46.7-.4 84.9 26.7M581.8 2094.8q-33.1-40.1-72.2-74.3-38.7-34.2-85.4-56-47.8-22.2-100.1-18.1-50.7 6-92.1 36.3M402.8 2111q25.6-37.8 56.1-71.8 30.1-34 67.8-59.3 19.5-12.9 41.3-21 20.8-7.7 43-9 45.8-1.3 84 24.4M588.1 2088.9q-32.4-39.1-70.6-72.5-38.1-33.8-84-55.6-46.5-22-97.7-19.4-50.1 4.5-91.6 33.1M396.5 2105.7q25.6-37.7 56.1-71.5 29.5-33.1 66.2-57.9 18.9-12.5 39.9-20.7 20.8-8 43.1-9.7 45.8-2.1 84.4 23.1M594.4 2083.3q-32.4-39-70.6-72.2-36.9-32.4-81-53.7-45.8-22.2-96.6-20.5-49.5 3.4-91.1 30.7M390.3 2100.6q25.6-37.5 56-71.2 29-32.2 64.7-56.5 18.8-12.6 39.9-20.9 20.2-7.9 41.7-9.8 45.1-3 83.6 20.8M600.7 2077.9q-31.8-37.9-69.1-70.4-36.2-31.9-79.5-53.2-44.6-21.9-94.1-21.6-48.8 1.9-90.6 27.5M384.1 2095.7q24.9-36.4 54.4-69.1 28.9-32.4 64.7-56.9 18.2-12.3 38.5-20.5 20.1-8.3 41.8-10.5 44.2-3.8 82.6 18.6M606.9 2072.8q-31.1-36.9-67.4-68.6-36.3-32-79.6-53.4-43.3-21.4-91.5-21.9-48.1 .9-89.9 25M377.9 2091q24.9-36.3 54.4-68.8 28.3-31.5 63.1-55.5 18.2-12.3 38.5-20.7 20.2-8.4 41.9-10.8 43.4-4 81.5 17.4M613.1 2068q-31.1-36.8-67.4-68.3-35-30.6-76.5-51.4-42.7-21.5-90.3-22.9-46.8-.2-88 22M371.8 2086.4q24.1-35.1 52.7-66.7 28.3-31.6 63.1-55.8 18.2-12.4 38.6-21 19.5-8.1 40.5-10.8 42.6-4.7 80.5 15.3M619.2 2063.4q-30.3-35.7-65.7-66.5-34.4-30.1-75.1-50.9-41.3-21.2-87.6-23.8-46.1-1.4-87.4 19M365.7 2082.1q24.1-34.9 52.6-66.4 27.7-30.7 61.6-54.4 35.2-25 77.6-32 41.8-5.4 79.6 13.2M625.4 2059.2q-29.7-34.8-64.1-64.8-33.8-29.6-73.6-50.3-40.1-21-85-24.6-45.4-2.7-86.8 16.1M359.6 2078q24.1-34.8 52.6-66.1 27.6-30.6 61.5-54.1 34.6-24.3 76.2-31.4 41-5.6 78.4 12.1M631.5 2055.2q-29-33.8-62.5-63.1-33.1-29.1-72.1-49.7-39.4-21-83.8-25.4-44.6-3.6-85.8 13.9M353.5 2074.1q24.1-34.7 52.6-65.8 27-29.7 59.9-52.7 34-24 74.8-31.6 40.1-6.2 77.3 10.2M637.6 2051.5q-28.3-32.9-60.9-61.4-32.5-28.6-70.5-49.1-38.8-21-82.6-26.2-43.2-4.3-83.7 11.2M347.5 2070.4q23.3-33.6 50.9-63.8 27-29.8 59.9-53 33.4-23.8 73.4-31.8 39.3-6.8 76.2 8.3M643.6 2048q-28.2-32.6-60.8-61-31.8-27.8-69-47.9-37.5-20.4-79.7-26.1-41.7-5-81.4 8.6M341.4 2066.9q23.4-33.4 50.9-63.5 26.4-29 58.3-51.6 32.8-23.5 72-32 39.3-7.4 76.5 7M649.7 2044.8q-27.6-31.7-59.2-59.2-31.2-27.3-67.5-47.3-36.2-20-77-26.6-40.9-6-80.6 6M335.5 2063.5q22.6-32.3 49.2-61.4 26.3-29.1 58.3-51.9 32.1-23.2 70.5-32.1 38.5-8 75.4 5.2M655.7 2041.9q-26.9-30.7-57.6-57.5-30.5-26.8-65.9-46.6-35.6-20-75.7-27.2-39.5-6.7-78.2 3.7M329.5 2060.4q22.6-32.1 49.2-61.1 25.7-28.3 56.7-50.5 31.4-22.8 69.1-32.2 37.6-8.5 74.2 3.4M661.6 2039.3q-26.8-30.6-57.5-57.2-29.2-25.4-62.8-44.6-34.2-19.6-72.8-27.5-38.8-7.6-77.3 1.3M323.6 2057.5q22.6-32 49.1-60.8 25-27.4 55.1-49.1 30.8-22.5 67.6-32.3 36.8-9 73.1 1.7M667.5 2036.9q-26.1-29.6-55.8-55.5-28.5-24.9-61.3-43.8-33.6-19.6-71.4-28-37.4-8.1-74.9-.9M317.7 2054.8q21.9-31 47.5-58.9 25-27.5 55-49.3 30.2-22.2 66.2-32.3 35.9-9.4 71.9 0M673.4 2034.8q-25.4-28.6-54.2-53.8-27.8-24.4-59.7-43.1-32.9-19.5-70.1-28.5-35.9-8.4-72.3-2.8M311.8 2052.2q21.9-30.8 47.4-58.5 24.4-26.7 53.5-48 29.5-21.8 64.7-32.2 35.1-9.9 70.6-1.6M679.3 2033q-24.7-27.7-52.6-52.2-27.1-23.8-58.1-42.3-31.6-19-67.2-28.5-35.2-9.2-71.3-5M306 2049.9q21.1-29.7 45.8-56.6 24.3-26.7 53.4-48.2 29.5-22 64.7-32.6 34.4-9.9 69.3-2.4M685.1 2031.4q-23.9-26.8-50.9-50.4-26.5-23.3-56.6-41.6-30.3-18.5-64.3-28.5-33.8-9.7-68.8-7.1M300.2 2047.7q21.1-29.5 45.7-56.3 23.7-25.8 51.8-46.8 28.9-21.6 63.2-32.5 33.6-10.2 68.1-3.9M690.9 2030.1q-23.2-25.8-49.3-48.8-25.8-22.7-55-40.8-29.6-18.3-62.8-28.7-32.4-9.9-66.2-8.6M294.4 2045.8q21.1-29.4 45.7-56 23-25.1 50.2-45.4 28.2-21.3 61.7-32.5 32.8-10.5 66.8-5.3M696.6 2029.1q-22.5-24.9-47.6-47.1-25.1-22.2-53.4-40-28.3-17.8-59.9-28.5-31.7-10.5-65-10.4M288.7 2044q20.4-28.3 44-54 23-25.2 50.2-45.7 27.5-20.9 60.2-32.3 32-10.9 65.5-6.7M702.3 2028.3q-43.3-48.9-97.8-84.6-27.6-17.7-58.4-28.6-29.6-10.4-60.9-11.6M283 2042.4q20.3-28.2 43.9-53.7 22.3-24.3 48.6-44.2 26.9-20.6 58.7-32.2 31.2-11.1 64.1-8M708 2027.8q-42.1-47.2-94.6-82.1-26.2-17.1-55.4-28.1-28.9-11-59.7-13.3M277.3 2041q19.7-27.1 42.3-51.8 22.3-24.3 48.6-44.4 26.2-20.2 57.1-32 30.4-11.4 62.8-9.2M713.6 2027.6q-40.8-45.5-91.4-79.6-25.5-16.9-53.9-28.2-27.5-10.9-56.8-14.1M271.7 2039.8q19.6-27 42.2-51.5 21.6-23.5 46.9-43 25.6-19.8 55.6-31.7 29.7-11.6 61.5-10.4M719.1 2027.5q-39.4-43.8-88.1-77-24.1-16.2-50.8-27.5-26.1-11-54.1-15.3M266.1 2038.8q18.9-25.9 40.6-49.6 21.6-23.6 46.9-43.2 24.9-19.4 54-31.5 29-11.8 60.1-11.5M724.7 2027.8q-38.2-42.1-84.9-74.5-23.4-16-49.4-27.4-24.7-10.9-51.2-15.8M260.5 2038q18.9-25.8 40.6-49.3 20.9-22.8 45.2-41.8 24.3-19.1 52.5-31.2 28.2-12 58.8-12.5M730.2 2028.3q-36.3-39.8-80.1-70.9-43.9-31.4-96.2-44.1M255 2037.4q35.5-49.6 82.6-88.2 24.2-19.5 52.5-32.1 27.4-12.1 57.3-13.5M735.6 2029q-34.9-38.1-76.8-68.2-41.3-29.9-90.3-43.8M249.5 2036.9q34.9-48.5 80.9-86.5 23.5-19 51-31.6 26.6-12.3 55.9-14.5M741 2030q-33.6-36.4-73.6-65.6-39.3-28.9-85.8-43.5M244 2036.6q34.3-47.4 79.3-84.8 22.8-18.5 49.4-31.2 25.9-12.3 54.5-15.2M746.4 2031.3q-32.3-34.8-70.4-63-36.7-27.3-79.8-42.5M238.6 2036.5q33.7-46.4 77.6-83 22.2-18.2 47.8-30.8 25.2-12.5 53.1-16.1M751.7 2032.8q-30.2-32.5-65.6-59.2-34.7-26.4-75.3-42.4M233.2 2036.6q33.1-45.3 76-81.3 21.4-17.7 46.2-30.4 24.5-12.4 51.6-16.7M757 2034.5q-28.9-30.9-62.4-56.5-32.1-24.7-69.2-40.7M227.9 2036.9q32.4-44.3 74.2-79.7 20.8-17.2 44.7-29.8 23.1-12.1 48.6-17.1M762.2 2036.4q-26.8-28.5-57.6-52.6-30.1-23.6-64.6-39.9M222.6 2037.3q31.2-42.4 71-76.6 20.1-17 43.2-29.8 23-12.7 48.6-18.4M767.4 2038.6q-24.8-26.1-52.9-48.6-28-22.5-60-38.9M217.3 2037.9q30.6-41.3 69.4-74.9 20.1-17.1 43.1-30 21.6-12 45.6-18M772.5 2041.1q-23.4-24.6-49.7-45.9-25.3-20.6-53.8-36.3M212.1 2038.7q29.9-40.3 67.7-73.2 19.4-16.6 41.5-29.4 20.9-12 44.1-18.4M777.6 2043.7q-41.9-44.7-94.2-76.5M206.9 2039.7q29.3-39.3 66.1-71.5 18.7-16.2 39.9-28.7 20.2-12 42.6-18.8M782.6 2046.6q-38.2-40.4-84.8-70.5M201.8 2040.8q28.6-38.2 64.4-69.8 34.5-30.8 77.9-46.5M787.6 2049.7q-34.4-36.1-75.5-64.1M196.7 2042.1q27.3-36.4 61.2-66.7 33.8-30.8 76.3-47.3M792.5 2053q-30.4-31.7-66.1-57.3M191.6 2043.5q26.7-35.3 59.6-65 32.5-29.7 73.2-46.5M797.4 2056.6q-25.8-26.7-55.3-49.2M186.6 2045.2q26-34.4 57.9-63.3 30.7-28.1 68.6-45.1M802.2 2060.4q-21.7-22.3-45.9-41.8M181.6 2047q24.8-32.5 54.8-60.2 30-28 67-45.6M807 2064.3q-16.8-17.1-35.2-32.7M176.7 2048.9q24.1-31.5 53.1-58.4 28.7-27 63.9-44.5M811.7 2068.5q-12.5-12.7-25.9-24.6M171.8 2051q23.4-30.4 51.5-56.7 26.8-25.2 59.2-42.6M816.4 2072.9l-15.2-14.8M166.9 2053.3q22.2-28.6 48.4-53.6 26.1-25 57.6-42.7M821 2077.6l-9.1-9M162.1 2055.8q21.5-27.7 46.8-51.9 24.2-23.3 53-40.5M825.6 2082.4q-11.7-11.9-24.2-22.9M157.4 2058.4q20.7-26.8 45.1-50.2 22.9-22.1 49.9-38.9M830.1 2087.4q-18.6-18.8-39.2-35.5M152.6 2061.1q19.5-24.9 42.1-47 21.5-21.2 46.7-37.8" fill="none" stroke="#000" stroke-opacity=".78" stroke-width="1.5"/>
<path d="M492.1 2206.5q-32.5-41.7-70.5-78.3-36.4-35.6-80.2-61.3-22.4-13-47-21.1-24.6-8.1-50.4-9.2-52.2-1.1-96 27.4M492.1 2206.5q30.4-47 67.6-88.8 18.4-20.5 39.4-38.5 20-17.3 43-30.4 24.3-13.9 51.6-19.2 27.3-5 54 2 26.5 7.5 48.5 24.1 21.3 16.2 38.4 36.9M834.6 2092.6q-27.3-27.5-58.7-50.1M148 2064q18.7-23.9 40.4-45.3 20.2-19.9 43.6-36" fill="none" stroke="#000" stroke-width="1.5" stroke-linejoin="round"/>
<g font-size="11.8" fill="#111"><path d="M153.1 2121.2h-4" stroke="#000" stroke-width="2"/><text transform="translate(143.1,2131.7) scale(1.713,1)" text-anchor="end">30</text><path d="M148.7 2067.2h-4" stroke="#000" stroke-width="2"/><text transform="translate(138.7,2077.7) scale(1.713,1)" text-anchor="end">43.75</text><path d="M144.2 2013.3h-4" stroke="#000" stroke-width="2"/><text transform="translate(134.2,2023.8) scale(1.713,1)" text-anchor="end">57.5</text><path d="M139.7 1959.4h-4" stroke="#000" stroke-width="2"/><text transform="translate(129.7,1969.9) scale(1.713,1)" text-anchor="end">71.25</text><path d="M135.2 1905.5h-4" stroke="#000" stroke-width="2"/><text transform="translate(125.2,1916) scale(1.713,1)" text-anchor="end">85</text><circle cx="492.1" cy="2284.9" r="1.7"/><text transform="translate(500.6,2295.9) scale(1.713,1)">0.00</text><circle cx="575.8" cy="2260.7" r="1.7"/><text transform="translate(584.3,2271.7) scale(1.713,1)">1.50</text><circle cx="659.5" cy="2236.4" r="1.7"/><text transform="translate(668,2247.4) scale(1.713,1)">3.00</text><circle cx="743.1" cy="2212.2" r="1.7"/><text transform="translate(751.6,2223.2) scale(1.713,1)">4.50</text><circle cx="826.8" cy="2188" r="1.7"/><text transform="translate(835.3,2199) scale(1.713,1)">6.00</text><circle cx="492.1" cy="2284.9" r="1.7"/><text transform="translate(482.6,2295.9) scale(1.713,1)" text-anchor="end">1.00</text><circle cx="408.6" cy="2260.7" r="1.7"/><text transform="translate(399.1,2271.7) scale(1.713,1)" text-anchor="end">2.25</text><circle cx="325.2" cy="2236.5" r="1.7"/><text transform="translate(315.7,2247.5) scale(1.713,1)" text-anchor="end">3.50</text><circle cx="241.7" cy="2212.2" r="1.7"/><text transform="translate(232.2,2223.2) scale(1.713,1)" text-anchor="end">4.75</text><circle cx="158.2" cy="2188" r="1.7"/><text transform="translate(148.7,2199) scale(1.713,1)" text-anchor="end">6.00</text></g>
<text transform="translate(869,2279.4) scale(1.565,1)" font-size="17.9" text-anchor="end">C: Starch conc.</text>
<text transform="translate(115,2279.4) scale(1.565,1)" font-size="17.9">E: Beef extract</text>
<text transform="translate(484.5,1896.5) scale(1.11,1)" font-size="57" font-weight="bold" text-anchor="middle">e</text>
<text transform="translate(36.7,2051.5) rotate(-90) scale(0.575,1)" font-size="29.6" text-anchor="middle">EI24 (%)</text>
</g>
<g id="pj">
<path d="M967.2 1916L1301.1 1869.7L1634.1 1916L1612.4 2192.4L1300.4 2287.1L989.2 2192.4z" fill="#ff0"/>
<path d="M967.2 1916L1301.1 1869.7L1634.1 1916M989.2 2192.4L1301.1 2118.5L1612.4 2192.4" fill="none" stroke="#330" stroke-width="1.1" stroke-dasharray="3.2 2.2"/>
<path d="M1301.1 1869.7L1301.1 2118.5" fill="none" stroke="#442" stroke-width="1"/>
<path d="M1634.1 1916L1612.4 2192.4M967.2 1916L989.2 2192.4" fill="none" stroke="#221" stroke-width="1.1"/>
<g fill="none" stroke-width="1.1" opacity=".85"><path d="M1345.1 2273.5q-56.6-.4-112.8-7.1M1042 2208.5q-5.9-5-10-11.4-4.1-6.4-4-13.9M1290.6 2121l25.8 1.1M1562.9 2180.6q12.4 8 18.7 21.1" stroke="#3e3"/><path d="M1416.7 2251.7q-93.6 9.5-186.8-3.7-47.6-6.1-93.1-21.1-22.7-7.2-42.3-20.6-9.8-6.6-14.2-17.3-2.8-11.2 5.6-19.5M1241.1 2132.7q82.1-2.7 163 11.5 40.5 6.8 78.9 21.4 19.9 7.3 35.9 21.1 8 6.9 9.2 17.2-.6 10.1-8.6 16.6" stroke="#5e2"/><path d="M1413.6 2225q-41.6 8.8-84.2 8.4-42.4 .1-84.3-6.2-20.9-3.1-41.3-8.4-20.1-5-38.4-14.6-9.5-4.7-15.7-13.2-5.4-10.5 3.9-18.4 8.2-6.6 18.2-10 9.4-3.5 19.1-5.7 41.4-8.7 83.8-8.3 41.4-.1 82.3 5.9 21.3 3.1 42.2 8.5 19.9 4.9 38.2 14.2 10.1 4.8 16.7 13.7 5.5 10.2-3.4 18.1-8.1 6.8-18.1 10.2-9.3 3.5-19 5.8" stroke="#b4ff00"/></g>
<path d="M989.2 2192.4L1300.4 2287.1L1612.4 2192.4" fill="none" stroke="#220" stroke-width="1.3" stroke-dasharray="3.2 1.4"/>
<g><path d="M1618.3 2117.2q-29.6-36.9-65.6-67.6-34.7-29.9-76.9-47.3-44.2-17.7-91.3-11.2-45.6 7.8-83.4 34.8-18.2-19.9-40.2-35.5-20.2-14.4-43.9-22.1-50.7-14.9-98.1 9.3-23.4 12-43.3 29.3-19.1 16.6-35.5 35.7-31.6 37.3-56.5 79.4 36.1-33.4 84.1-42.8 47.1-6.7 90.5 13.1 42.9 19.8 77.9 51.6 34.8 31.1 64.2 67.4 27.9-45.7 62.6-86.4 17.6-20.5 38-38.2 19-16.6 41.1-28.7 23.9-13.1 51-15.8 25.7-1.9 49.4 8 24.5 10.8 43.7 29.4 17.9 17.2 32.2 37.6z" fill="#00ff76"/><path d="M1287.6 2196.1q-29.3-34.2-63.9-62.8-34.1-28.5-75.3-45-42-16.4-86.1-8.1-42.9 9.9-75.8 39.3l-.6-1.3q26.4-44.1 60.4-82.6 32.5-37.7 76.8-60 47.8-22.6 97.8-6 23.5 8.4 43.6 23.4 19.9 14.7 36.6 32.9 39.4-28.2 87.1-35.3 46.3-5.4 89.6 12.5 43.4 18.4 78.9 49.9 33.6 29.4 61.6 64.2-14.9-21.3-33.8-39.1-18.6-17.6-42-27.8-23.8-10-49.4-8.1-24.8 2.4-46.9 13.7-23.3 11.8-43 28.8-19.2 16.3-35.8 35.1-32 36.4-58.1 77.3l-21.7-1z" fill="#00ff5c"/><path d="M1282 2189.8q-28.3-32.2-61.6-59.1-33.2-27.1-73-42.7-41.1-15.8-84.1-8-40.9 9-72.8 36.2l-1.5-3.1q26.5-43.5 60.6-81.1 32.7-36.9 77-58 47.3-20.8 95.9-3.8 23.6 8.8 43.7 24.1 18.9 14.2 34.9 31.6 39.3-28.1 86.9-35.3 46.1-5.4 89.2 12.3 43.4 18.2 78.7 49.4 33.7 29.4 61.8 64.2-14.8-21.2-33.8-38.9-17.9-16.8-40.3-26.8-47.5-19.1-94 3.4-23.1 11.1-42.8 27.5-19.1 15.7-35.7 34-32 35.5-58 75.6l-31.1-1.5z" fill="#00ff43"/><path d="M1276.2 2183.4q-28.1-31.2-61.2-56.9-31.4-24.7-68.7-38.9-39.1-14.8-80.3-8.1-39.7 7.8-71.4 33.4l-2.4-4.8q26.4-42.7 60.4-79.3 32.7-36 76.7-55.9 47.4-19.7 95.4-1.9 22.5 8.8 41.7 23.4 18.7 14.2 34.7 31.5 37.8-27.1 83.6-34.8 46.1-6.4 89.5 10.6 43.5 17.5 79 48.3 17.8 15 33.9 31.8 14.2 15.3 28 31-14.4-19.9-32.6-36.5-17.3-15.8-38.7-25.5-46.5-18.8-92.3 2.6-23.1 10.7-42.8 26.8-17.9 14.5-33.6 31.3-32 34.5-58 73.9l-40.9-2z" fill="#00ff29"/><path d="M1270.3 2177q-27.3-29.3-59.2-53.4-30.6-23.4-66.7-36.7-78.6-26.6-145.5 22.7-2.3-3-3.4-6.6 26.4-42 60.6-77.8 32.7-35.1 76.7-53.7 46.9-18 93.6 .1 43.2 18.8 74.7 54.3 37.8-27 83.4-34.8 44.9-6.3 87.4 9.7 42.2 16.4 76.9 45.5 17.7 14.6 33.8 30.9l15.9 16.9q6.5 7.8 13.8 15-14.5-19.4-32.6-35.3-17.4-15.3-38.8-24.2-44.6-16.7-88.2 3.3-42.1 20.2-74 54.7-31.8 33.5-57.6 71.8-25.4-.7-50.8-2.4z" fill="#00ff10"/><path d="M1264.1 2170.5q-26.1-27.2-56.6-49.6-29.6-21.9-64.2-34.4-74.8-25.1-139.8 19.8-3.3-3.7-4.7-8.4 25.7-40.1 58.8-74.2 32.8-34.8 76.9-52.8 46-17.1 91.8 .7 43.3 18.8 74.8 54.3 36.9-26.4 81.4-34.5 44.6-6.8 87.1 8.6 41.9 15.7 76.6 44.3 17.7 14.2 33.7 30.3l15.9 16.6q6.5 7.4 13.6 14.2-14.6-18.9-32.9-34.2-16.9-14.1-37.3-22.2-43.9-15.7-86.6 3.9-40.8 19.6-71.9 52.7-30.5 31.6-55.5 67.9-30.6-.8-61.1-3z" fill="#0f0"/><path d="M1257.7 2164q-25.2-25.3-54.3-46-28.7-20.5-62-32.1-70.7-23.1-133.1 17.2-4.4-4.4-6.1-10.3 25.6-39.1 58.6-72.3 32.7-33.8 76.4-50.6 46.1-15.9 91.3 2.6 41.9 18.9 72.6 53.4 37-26.5 81.7-34.5 43.7-6.7 85.5 8.1 42.1 15.5 76.9 43.9 16.7 13.3 31.8 28.3l16 16.4q6.6 6.9 13.5 13.6-14.1-17.6-31.5-31.8-17-13.8-37.5-21.6-42.1-14.3-82.9 3.7-40.7 18.9-71.8 51.5-29.3 29.9-53.4 64-35.9-.8-71.7-3.5z" fill="#0f0"/><path d="M1250.9 2157.5q-24.3-23.6-52.2-42.7-27.1-18.6-58.2-29.2-66.9-21.8-127.1 14.3-5.8-5-7.7-12.3 25.6-38.3 58.7-70.5 32.9-32.9 76.5-48.5 45.5-14.1 89.3 4.6 40.8 18.9 70.9 52.7 36.1-25.8 79.6-34.2 43.4-7.2 85.1 7 41.9 14.8 76.6 42.5 16.6 13 31.7 27.7l15.9 16q3.2 3.8 7.1 6.7 3.5 2.8 6.3 6.4-14.2-17.1-31.7-30.6-16.5-12.7-36-19.7-41.3-13.3-81.1 4.3-38.1 17.5-67.6 47.4-29.2 28.8-53.2 62.2-41.5-.9-82.9-4.1z" fill="#0f0"/><path d="M1243.9 2150.8q-23.2-21.6-49.7-39-26.1-17.2-55.7-26.9-62.5-19.6-119.7 11.8-7.4-5.5-9.6-14.2 25.8-37.6 58.8-68.9 32.4-31.2 74.7-45.5 44.6-13.3 87.4 5.1 40.9 18.9 71 52.7 36.2-25.9 79.8-34.2 42.5-7 83.5 6.5 40.7 14 74.7 40.5 16.7 12.7 31.9 27.2l15.9 15.8q3.5 3.3 7.4 6.2 3.4 2.9 6 6.4-13.7-15.7-30.4-28.2-16.5-12.4-36.1-19-39.2-12-77.2 4.1-37.9 16.7-67.4 46.1-27.9 27-51 58.3-47.2-.8-94.3-4.8z" fill="#0f0"/><path d="M1236.4 2144.1q-22.2-19.8-47.4-35.5-25.1-15.8-53.4-24.6-57.5-17.1-111 9.6-9.2-5.9-11.7-16.3 25.7-36.8 58.9-67.1 32.4-30.2 74.6-43.2 44-11.6 85.5 6.9 39.8 19 69.2 52 35.3-25.2 77.6-33.8 42.1-7.6 83 5.3 40.4 13.2 74.4 39 16.5 12.4 31.6 26.4l15.9 15.5q8 4.8 13.4 12.4-26.1-30.1-63.3-43.7-38-11.6-75.1 3.4-36.4 15.3-65 42.8-27.8 26-50.8 56.3-53.3-.6-106.4-5.4z" fill="#0f0"/><path d="M1228.5 2137.3q-21.3-18-45.3-32.2-22.5-13.4-47.6-21-53.7-16.2-104.8 6.5-5.2-3.4-9.4-8.1-4.1-4.4-4.8-10.3 25.1-35 57.1-63.6 31.8-29.1 72.8-41.6 42.9-11.4 83.7 6.2 38.7 17.8 67.7 49.3l7.8 .3q34.9-23.8 76.4-31.3 40.5-6.4 79.6 5.9 39.4 12.8 72.7 37.8 16.6 12.2 31.8 26.2l7.9 7.5q2.7 3.1 6.2 5.3 8.2 4.8 13.2 12.8-25.9-28.5-62.2-40.7-36.4-10.2-71.8 3.7-35.2 14.6-63.2 40.7-26.6 24.3-48.8 52.8-59.6-.5-119-6.2z" fill="#0f0"/><path d="M1220 2130.4q-38.7-31.9-86.3-46.9-48.8-14.2-96.1 4.2-6.2-3.7-11.4-8.8-5.2-4.9-5.7-11.9 25.1-34.1 57.1-61.8 31.2-27.3 70.8-38.7 41-10.2 80 5.9 37.6 16.7 66.1 46.6l16.1 .6q34.3-22.1 74.6-28.6 39.4-5.5 77.3 6.6 38.1 12.6 70.4 36.5 15.4 11.2 29.6 24 6.7 7 14.8 12.1 8.1 4.9 12.6 13.1-25.5-26.6-60.6-37.6-35.5-9.2-69.7 4.3-33.8 13.8-60.8 38.5-25.2 22.5-46.4 48.9-66.4-.3-132.4-7z" fill="#0f0"/><path d="M1210.8 2123.3q-36.2-27.8-80-40.6-43.2-11.8-85.6 2.2-7.6-3.9-14-9.6-6.4-5.4-6.8-13.5 24.4-32.2 55.2-58.3 30.4-26.1 68.8-37 39.9-10 78.1 5.2 36.6 15.5 64.5 43.9l24.7 .9q33.9-20.6 73.2-26 37.5-4.4 73.6 7.1 36.9 12.2 68.4 35.1 15.4 11 29.6 23.6 6.5 6.1 14.3 10.5 7.7 4.8 11.4 12.9-25.4-25-59.5-34.7-33.7-7.9-66.1 4.6-31.3 12.5-56.8 34.6-25.2 21.5-46.3 47.1-73.6 0-146.7-8z" fill="#0f0"/><path d="M1200.6 2116.1q-33-23.3-71.7-33.9-37.6-9.8-75.2 .1-9-4.1-16.7-10.2-8.3-5.8-8.5-15.5 24.4-31.4 55.2-56.3 29.7-24.4 66.7-34.3 38.9-9.1 76 5.6 34.3 14.5 61 40.5l33.7 1.3q59.9-34.1 127.1-19.7 32.1 7.8 60.5 24.6 27.6 16.4 51.5 37.8 7 3.4 13.2 8.1 6.4 4.6 8.8 11.9-24.4-22.7-56.4-31.3-31.6-7.2-62.3 3.8-31.2 11.6-56.6 33.1-24 19.8-44.2 43.4-81.3 .4-162.1-9z" fill="#0f0"/><path d="M1188.9 2108.5q-28.5-18-61-26.5-31.9-8.1-64.2-2.1-10.6-4.2-20.1-10.6-4.7-3.3-8.2-7.8-3.5-4.6-2.6-10.2 23.5-29.3 53-52.7 28.9-23.2 64.6-32.6 36.7-8.7 72.2 4.2 34.2 13.3 61.1 38.5l43.2 1.6q56.7-29.9 119.3-17 30.8 7 58.2 22.6 26.3 14.9 49.3 34.5 7.9 3.6 14.9 8.8 7.4 4.9 9.4 13.3-24-21-55-28.3-29.7-6-58.5 4-29.8 10.8-54.4 30.9-22.6 18.1-41.9 39.8-90 1-179.3-10.4z" fill="#0f0"/><path d="M1174.9 2100.5q-23.2-12.7-48.9-19-24.7-5.9-50-3.4-12.8-4.4-24.6-11.3-6-3.4-10.7-8.5-5-5.3-3.6-12.2 22.9-27.7 51.4-49.5 28.2-22 62.8-30.8 35.9-8.2 70.6 4.2 32.2 12.1 57.9 35.2 26.6 .5 53.2 2 53.8-26 112.2-14.1 28.6 6.3 54.3 20.1 25.1 13.5 47.3 31.5 9 3.8 17 9.5 8.4 5.3 9.8 14.7-23.1-18.7-52.1-25.1-29.1-5.3-57.1 4.5-27.5 9.9-50.6 27.9-21.5 16.6-39.9 36.5-100 1.6-199-12.2z" fill="#0f0"/><path d="M1093.5 2077.3q-16.5-4.7-32-12.1-8.1-3.8-14.7-9.7-7.2-6-5.1-14.7 22.8-26.6 51.1-47.4 26.6-19.6 58.6-27.7 33.6-7.7 66.5 2.9 32.1 11 57.9 33.2 31.9 .4 63.8 2.4 51.1-22.4 105.7-11.1 52 12.5 94.1 45.8 9.9 4 18.8 9.9 4.6 3 8 7.3 3.2 4.1 2.7 9.2-46.4-34.1-101.4-18-26 8.6-48.1 24.8-21.2 15.4-39.5 34.3-73.5 1.5-146.8-5.2-35.7-3.2-71.1-8.9-9.3-1.5-17.9-5.5-8.5-3-17.2-5.1-16.4-4-33.4-4.4z" fill="#01ff00"/><path d="M1046.4 2035.5q22.1-24.9 49.2-44 25.9-18.5 56.7-26 32.8-7.2 64.8 2.8 29.9 10 54.4 30 37.6 .5 75.2 3 47.1-18.4 96.7-8.6 48.2 10.9 88.1 40.4 11 4 21 10.3 5.3 3.2 9.1 8 3.8 4.7 2.3 10.4-44.9-29.9-96.4-14.5-23.6 7.7-44 21.9-19.9 13.8-37.2 30.8-90.4 2.4-180.2-7.7-44.7-4.9-88.5-14.9-22-5-42.9-13.2-10.5-4-19.7-10.3-4.8-3.3-7.9-8.1-3.1-5-.7-10.3z" fill="#16ff00"/><path d="M1267.1 1994.9q43.8 .3 87.4 3.5 57-18.8 113.8 1.1 27.8 10 52.6 26.3 3.6 2.3 7.7 3.5l5.9 2.4q6 2.6 11.6 5.9 6 3.4 10.5 8.6 4.7 5.6 1.8 12.2-41.5-24.9-88.1-12-22.4 6.8-42 19.6-18.8 12.3-35.2 27.6-76.5 2.5-152.7-4-37.8-3.2-75.3-9.1-37.3-5.6-73.4-16.7-19.1-5.4-35.1-16.9-4.7-3.6-6.5-9.1-1.3-5.8 3.2-9.7l11.8-11.7q26.9-26.3 60.9-42.1 36.1-16.3 75.1-9.9 36.5 7.5 66 30.5z" fill="#2bff00"/><path d="M1262.4 1991.5q50.5 .2 100.9 4.2 54.1-14.8 107 4.5 13 4.7 25.3 11l11.8 6.4q5.5 3.7 11.9 5.5 12.8 4.2 24.3 11.2 5.7 3.4 9.4 8.9 3.5 6.1-.6 11.8-38.8-20.5-81.1-8.9-39.8 12.7-70.9 41-74.8 3-149.5-2.8-37.7-2.9-75.1-8.4-36.6-5.1-72.1-14.9-18.3-5-35.1-13.8-8.8-4.3-13.5-12.7-1.8-4.7 .9-8.9l6.4-6.6q26.8-26.8 60.8-43.4 34.9-16.7 73.1-12 36.4 5.9 66.1 27.9z" fill="#3fff00"/><path d="M1257.5 1988.1q58-.1 115.8 5.1 51.1-10.7 99.8 8.1 12 4.5 23.4 10.4 5.7 3.4 12.1 5l10.7 3.7q11.8 4.1 22 11 5.4 3.6 7.9 9.4 1.5 6.4-3.4 10.9-35.7-16-73.4-5.8-35.5 10.6-64 34.5-73.6 3.6-147.2-1.5-73.6-4.2-145.2-21-18.2-4.5-35.4-11.9-8.6-3.6-15.8-9.5-8.5-6.6-4-15.6 25.5-26.5 58.3-43.4 33.9-17.4 71.7-14.5 36.4 4.2 66.7 25.1z" fill="#54ff00"/><path d="M1252.3 1984.7q40.7-.2 81.5 2.2l39.3 2.9q9.9 1.7 19.7 .3 9.3-1 18.5-.9 41 1.1 78 18.9 19.3 4.7 37.2 12.9 9.3 3.9 15.8 11.4 5.5 9.6-4.1 16.2-32-11.7-64.9-3-30.6 8.7-56 28-73.1 4.3-146.1-.3-72-3.6-142.5-18.7-18.3-4.1-35.9-10.5-8.5-3.1-16.4-7.5-8.2-4.1-12.1-12-1.5-5.3 2.3-9.5l7-6.4 13.8-11.3q14-10.7 29.6-18.8 69.3-34.5 135.3 6.1z" fill="#69ff00"/><path d="M1246.6 1981.4q40.5-.5 81 1.7l40.4 2.8 21.5 2.1q9 1.4 18.1 1.2 21-.1 41.4 4.7 9.7 2.3 19.1 5.6 9 2.8 18.3 4.8 19.6 4.7 37.7 13.4 9.7 4.1 14.7 13 1.5 5.1-2.1 9.2-3.2 3.5-7.4 5.8-27-7.3-54.1-.6-25.6 6.7-47.6 21.4-72.2 5.2-144.6 1.3-70.4-3.1-139.7-16.3-18.3-3.7-36.1-9.2-17.2-4.7-31.8-14.6-3.8-2.7-5.9-6.9-1.9-4.5 .8-8.5 5.8-6.8 13.3-12 14-11.1 29.6-19.7 67-36.2 133.4 .8z" fill="#7eff00"/><path d="M1240.6 1978.1q82.3-1.5 164.1 8.2 40.6 4.7 80.2 14.6 20.1 4.7 38.2 14.5 4.7 2.6 8.2 6.6 3.6 4 2.2 9-2.1 4.9-6.8 7.6-4.1 2.7-8.7 4.6-41.4-5.3-77.8 15.8-141.7 12.4-281.9-11-35.2-5.4-67.8-19.1-8.3-3.5-14.4-10.1-5.5-8.6 3-14.9 13.6-11.2 28.6-20.2 30.4-18.6 65.8-21.1 35.6-1.3 67.1 15.5z" fill="#93ff00"/><path d="M1234 1974.9q85.3-2.1 170.1 8 42.3 4.7 83.4 15.8 10.7 3 20.8 7.2 9.9 3.7 17.4 11 4.2 4.6 1.8 10.1-2.7 4.4-7.3 7-9.2 5.1-19.4 7.9-20.7 .3-40.1 7.7-4.8 1.5-9.9 1.8l-9.9 1.1-17.5 1.6q-37.6 2.9-75.3 2.9-75.1 .2-149.6-9-38.1-4.6-75.3-14.2-18.5-4.5-35-13.9-4.1-2.5-7.1-6.1-3.3-4.1-1.5-8.8 2.4-4.4 6.7-6.9l7.1-5.1q30.9-22.8 68.6-29.3 37.6-5 72 11.2z" fill="#a7ff00"/><path d="M1226.6 1971.7q58.4-1.8 116.6 2.1 57.5 3.4 113.9 14.4 28.5 4.9 54.5 17.4 6.8 3.3 10.5 9.7 1.9 7.7-5.5 12-12.1 7.3-26.1 10.3-28 6.7-56.6 9.1-28.4 2.7-56.9 3.5-57.8 1.6-115.4-2.3-57.7-3.5-114.3-14.8-14.5-3-28.7-7.4-13.6-3.9-25.8-11-7-3.7-8.6-11.1 1.5-7.3 8.6-10.6 11.8-7.7 24.2-14.4 53.4-28 109.6-6.9z" fill="#bcff00"/><path d="M1218.2 1968.7q112.4-5 223.3 13.2 27.9 4.6 54.4 14.3 6.9 2.6 13 6.5 6.6 3.5 8.1 10.4-1.5 7.2-8.6 10.4-6.1 3.3-12.7 5.3-26.7 7.9-54.5 10.6-27.4 3.1-55 4.2-112.4 4.7-223.2-13.8-27.9-4.6-54.2-14.6-6.7-2.7-12.5-6.8-6.8-4-6.3-11.2 3.1-6.6 10-9.5 6.3-2.8 12.1-6.5 24.7-14.1 52.8-17.8 27.2-3.2 53.3 5.3z" fill="#d1ff00"/><path d="M1208.1 1965.9q109.4-5.9 217.7 10.1 26.9 4 53 11.6 13.2 3.7 25 10.8 6.6 3.5 7.1 10.6-2.3 6.5-9 9.3-13 6.3-27.2 9-12.9 2.8-26.1 4.6-26.1 3.5-52.4 4.8-108.4 5.6-215.7-10.3-26.9-4-53-11.6-13.1-3.7-24.7-10.6-6.7-3.5-7.4-10.6 2.2-6.5 8.8-9.4 13.1-5.8 26.1-11.7 12.2-5 25-7.6 26.5-5.3 52.8 1z" fill="#e6ff00"/><path d="M1449.3 2025.1q-53 7.1-106.5 6.7-51.9 .1-103.6-4.5-53.1-3.9-104.6-17.3-12.9-3.4-24.5-9.7-6.3-3.1-8.7-9.3 .1-6.9 6.9-10.1 6.2-3.5 13-5.6 6.6-1.8 13-4.4 11.2-4.2 22.9-6.4 14.1-2.6 28.4-1.9 12.6 1.3 25.2-.2 25.9-1.4 51.9-1.5 52.2-.1 104.2 4.5 52.3 3.9 103.1 16.9 12.7 3.4 24.4 9.3 6.2 2.9 9.8 8.6 1.7 6.9-5 10.7-11.5 6.7-24.7 9.4-12.5 3-25.2 4.8z" fill="#fbff00"/><path d="M1444.4 2019.1q-51.3 6.7-103.1 6.3-50.1 .1-100.1-4.2-51.4-3.8-101.3-16.5-12.5-3.3-23.9-9.4-6.1-2.9-8.6-8.9 .1-6.6 6.6-9.7 11.2-5.8 23.6-8.4 12.1-2.7 24.4-4.6 50.7-6.4 101.7-6.1 50.8-.2 101.3 4.3 50.7 3.7 100 16.2 12.5 3.3 24 9.2 6.1 2.8 9 8.6 .9 6.6-5.5 9.9-11.1 6.1-23.7 8.7-12.1 2.8-24.4 4.6z" fill="#fe0"/><path d="M1439.4 2013q-49.6 6.4-99.5 6.1-49.3 .1-98.3-4.2-49.3-3.6-97.2-15.9-11.9-3.1-22.7-8.9-6-2.8-8.1-8.8 .6-6.2 6.8-9 11-5.6 23.2-8 11.5-2.6 23.1-4.2 48.9-6.2 98.1-5.9 49.2-.1 98.2 4.1 49.1 3.6 96.7 15.6 12.1 3.1 23.1 8.8 5.8 2.7 8.7 8.2 .6 6.4-5.6 9.4-10.8 5.9-22.9 8.4-11.7 2.7-23.6 4.3z" fill="#ffd900"/><path d="M1434.1 2007q-47.6 6-95.7 5.7-47.4 .1-94.6-4-47.5-3.4-93.7-15.1-11.5-3-22-8.5-5.8-2.6-7.9-8.4 .5-5.9 6.4-8.5 10.6-5.4 22.2-7.7 11.1-2.4 22.4-4 47.2-6 94.8-5.7 47.5-.1 94.9 4 47.3 3.4 93.3 14.9 11.6 3 22.2 8.4 5.7 2.6 8.3 8.1 .1 6.2-6 9-10.3 5.3-21.8 7.6-11.3 2.6-22.8 4.2z" fill="#ffc400"/><path d="M1428.7 2000.9q-45.8 5.7-91.9 5.4-45.4 .1-90.7-3.8-45.7-3.3-90.1-14.3-11.1-2.8-21.3-8.1-5.6-2.5-7.7-7.9 .5-5.9 6.4-8.4 20.8-8.9 43.5-11 45.7-5.7 91.7-5.3 45.2-.1 90.1 3.8 45.5 3.3 89.8 14.2 11.1 2.8 21.2 8 5.5 2.5 7.8 7.7 .1 5.9-5.8 8.5-10 5.1-21.1 7.2-10.9 2.5-21.9 4z" fill="#ffaf00"/><path d="M1423 1994.7q-43.7 5.4-87.8 5.1-43.5 .1-86.7-3.5-43.7-3.1-86.3-13.5-10.7-2.7-20.5-7.7-5.4-2.3-7.5-7.5 .3-5.6 6-7.9 19.8-8.5 41.5-10.5 43.9-5.4 88.1-5.1 43.4 0 86.6 3.7 43.7 3.1 86.1 13.5 10.5 2.7 20.2 7.6 5.2 2.3 7.4 7.3-.1 5.6-5.8 8-19.7 8.5-41.3 10.5z" fill="#ff9a00"/><path d="M1417.1 1988.6q-82.9 9-166.1 1.4-41.7-2.9-82.3-12.6-10.3-2.6-19.7-7.3-5.2-2.1-7.3-7.1 .2-5.2 5.6-7.5 18.9-8 39.5-9.9 82.9-9 166-1.4 41.8 2.9 82.6 12.7 10.2 2.5 19.5 7.1 5.2 2.2 7.4 7.1-.3 5.4-5.7 7.6-18.9 8-39.5 9.9z" fill="#ff8100"/><path d="M1410.9 1982.4q-79.2 8.4-158.6 1.2-39.3-2.8-77.6-11.9-9.6-2.4-18.4-6.8-5-2.1-6.8-6.9 .8-5 6-7 18.1-7.3 37.6-9.1 79.1-8.3 158.4-1.1 39.1 2.8 77.2 11.9 9.7 2.3 18.5 6.7 4.8 2 6.8 6.7-.4 5-5.5 7-18 7.5-37.6 9.3z" fill="#ff6200"/><path d="M1404.4 1976.1q-74.5 7.8-149.3 1.1-37-2.5-73.1-11-9.1-2.2-17.5-6.3-4.8-1.9-6.5-6.4 .6-4.7 5.4-6.6 17.1-6.8 35.5-8.5 74.2-7.7 148.7-1.1 37.2 2.5 73.4 11 9.1 2.2 17.6 6.3 4.6 1.9 6.6 6.2-.2 4.8-5.3 6.7-17 7-35.5 8.6z" fill="#ff4200"/><path d="M1397.5 1969.8q-69.6 7.2-139.4 1-35-2.3-69.1-10.3-8.6-2.1-16.5-6-4.4-1.8-5.6-6.1 1.2-4.3 5.7-5.9 16-6.1 33.2-7.6 69.4-7.1 138.9-1 34.8 2.3 68.8 10.2 8.5 2.1 16.4 5.8 4.4 1.8 6.1 5.9-.6 4.4-5.2 6.1-16 6.4-33.3 7.9z" fill="#ff2300"/><path d="M1390 1963.4q-64.8 6.6-129.7 .8-32.2-2.1-63.6-9.4-7.9-1.9-15.1-5.5-4.3-1.8-5-5.9 1.6-3.8 5.7-5.2 15-5.4 30.9-6.9 64.1-6.3 128.4-.7 32.3 2.1 63.7 9.4 8.1 1.9 15.4 5.5 4.1 1.6 5.3 5.5-1.1 4-5.3 5.4-14.8 5.6-30.7 7z" fill="#ff1300"/><path d="M1382 1956.9q-59 5.9-118.1 .8-29.4-2-58.1-8.5-7.2-1.7-13.9-5-4-1.5-4.7-5.3 1.4-3.4 5.1-4.7 13.6-4.9 28.1-6.2 58.8-5.8 117.8-.7 29.5 2 58.2 8.5 7.3 1.7 14 5 3.8 1.5 4.6 5.2-1.2 3.4-4.9 4.7-13.6 5-28.1 6.2z" fill="#ff0900"/><path d="M1373.1 1950.3q-52.6 5.2-105.3 .7-26.5-1.7-52.4-7.6-6.4-1.5-12.4-4.4-3.5-1.3-4-4.7 1.3-3 4.6-4.1 12.4-4.4 25.5-5.5 52.6-5.1 105.2-.6 26.5 1.8 52.2 7.6 6.5 1.5 12.4 4.4 3.4 1.4 4 4.6-1.2 3-4.5 4.1-12.3 4.4-25.3 5.5z" fill="#f00"/><path d="M1363.1 1943.6q-45.7 4.3-91.6 .4-22.8-1.4-45.1-6.5-5.6-1.3-10.8-3.8-3.2-1.2-3.1-4.2 1.4-2.5 4.3-3.3 10.7-3.7 22-4.6 45.5-4.3 91.1-.4 22.7 1.4 44.9 6.4 5.6 1.3 10.8 3.8 6.8 4-.5 7.5-10.7 3.7-22 4.7z" fill="#fc0000"/><path d="M1351.3 1936.5q-37.5 3.5-75 .3-18.7-1.2-36.9-5.3-4.6-1-8.8-3.2-2.7-1.1-2-3.6 1.5-1.7 3.8-2.4 8.7-2.8 17.8-3.6 37.2-3.4 74.5-.3 18.5 1.2 36.6 5.3 4.7 1 8.9 3.1 5.2 3.5-1 6.1-8.7 2.8-17.9 3.6z" fill="#f90000"/><path d="M1336.1 1928.9q-26.3 2.4-52.7 .2-13.2-.8-26.1-3.7-3.3-.7-6.3-2.2-3.5-2.6 1-4.2 6.3-2 12.9-2.6 26.3-2.3 52.7-.1 13.2 .8 26 3.7 3.2 .7 6.2 2.2 3.5 2.5-1 4.2-6.2 2-12.7 2.5z" fill="#f70000"/></g>
<path d="M1306.4 2201.7q-30-37-65.6-68.5-35.3-31.7-78.5-51-44.3-19.6-91.8-11.6-23.3 4.5-44.1 15.9-20.2 11.2-37.4 26.8M1294.3 2204q28.1-45.9 63-86.8 17.1-19.8 36.8-37 19.1-16.9 41.5-29 23.7-13.1 50.6-15.9 25.9-2.2 49.8 7.8 24.3 10.5 43.5 28.8 18.6 17.7 33.3 38.6M1312.4 2192.4q-29.9-37-65.6-68.5-35.3-31.6-78.6-50.8-44.4-19.5-92-11.4-23.4 4.6-44.2 16.1-20.4 11.3-37.7 26.9M1288.3 2197q26.3-43 58.5-81.6 15.9-18.9 34-35.7 18-16.8 38.9-29.8 21.3-13.4 45.8-19.2 24.3-5.4 48.5 .4 24.7 6.4 45 21.8 19.2 14.7 34.6 33.4M1597.8 2091.5l9.4 12.5M1318.5 2183.3q-30-36.9-65.7-68.3-35.4-31.7-78.7-50.8-44.6-19.4-92.3-11.1-23.4 4.7-44.3 16.3-20.4 11.4-37.8 27M1282.3 2190.1q26.3-42.9 58.5-81.5 15.9-18.9 33.9-35.6 17.5-16.2 37.6-28.9 21.4-13.7 45.9-19.7 24.4-5.7 48.7-.2 24 5.9 44 20.6 19.4 14.2 34.9 32.6M1594.4 2087.9l7.3 9.8M1324.5 2174.5q-30-36.9-65.7-68.2-35.5-31.6-78.8-50.6-44.7-19.4-92.5-10.9-23.5 4.8-44.5 16.4-20.5 11.4-37.9 27.2M1276.3 2183.5q25.7-41.9 57-79.8 15.9-19 34-35.9 17.4-16.4 37.6-29.3 21.4-13.9 46-20.2 23.7-5.8 47.6-1 24.1 5.3 44.3 19.6 19.6 13.7 35.3 31.8M1588.8 2081.7l7.4 9.9M1330.5 2166.1q-30.6-37.7-67.2-69.5-35.5-31.3-78.9-49.8-44.8-18.8-92.5-9.9-23.5 5.1-44.5 17-19.9 11.3-36.9 26.7M1270.3 2177q25.7-41.9 57-79.6 15.9-19 34-35.9 17.4-16.4 37.6-29.3 20.8-13.5 44.7-19.8 23.1-5.9 46.5-1.8 24.2 4.8 44.6 18.6 19.7 13.3 35.6 31.1M1586.5 2079.9l4.1 5.7M1336.5 2157.8q-30.6-37.6-67.3-69.4-35.5-31.2-78.9-49.6-45-18.8-92.7-9.7-23.6 5.2-44.6 17.1-20 11.4-37 26.8M1264.4 2170.8q25.6-41.9 56.9-79.6 29.8-36.7 68.7-63.3 20.3-13.5 43.6-20.4 23-6.8 46.8-3.5 24.2 3.9 45 17 19.9 12.6 35.9 29.8M1580.9 2074.1l4.2 5.7M1342.5 2149.9q-30.6-37.6-67.3-69.3-35.5-31.2-79-49.6-45.1-18.7-92.9-9.4-23.7 5.2-44.8 17.2-20 11.4-37.1 26.9M1258.4 2164.8q25-40.9 55.4-77.8 29.9-37 68.9-64.1 20.2-13.7 43.6-20.9 23.1-7 46.9-3.9 23.6 3.4 44.1 15.7 20 12.1 36.2 29.1M1348.5 2142.3q-30.7-37.6-67.3-69.3-35.6-31.2-79.1-49.4-45.3-18.7-93.1-9.3-23.7 5.3-44.9 17.3-20.1 11.5-37.2 27.1M1252.5 2159q25-40.9 55.4-77.8 29.8-36.9 68.8-63.9 19.7-13.3 42.3-20.5 22.4-7 45.8-4.6 23.6 2.8 44.3 14.7 20.1 11.6 36.5 28.2M1354.4 2134.9q-30.6-37.6-67.3-69.2-35.6-31.1-79.1-49.3-45.4-18.6-93.3-9.1-23.8 5.3-45 17.4-20.2 11.6-37.4 27.2M1246.6 2153.3q24.9-40.7 55.3-77.6 29.3-36.3 67.4-63 19.7-13.5 42.4-20.9 22.5-7.3 45.9-5.2 23.7 2.6 44.5 14.3 19.5 11 35.5 26.7M1360.4 2127.8q-30.6-37.5-67.3-69.1-35.7-31.1-79.3-49.2-45.4-18.5-93.4-9-23.9 5.4-45.1 17.6-20.2 11.6-37.5 27.2M1240.7 2147.9q24.9-40.7 55.3-77.6 28.8-35.5 65.9-61.9 19.2-13.2 41.1-20.9 21.8-7.6 44.8-6.4 23.7 1.7 44.9 12.7 19.6 10.3 35.9 25.5M1366.3 2121q-30.6-37.5-67.3-69.1-36.3-31.6-80.7-49.6-45.6-18.1-93.4-8-23.3 5.5-44 17.4-20.3 11.6-37.6 27.3M1234.8 2142.7q24.3-39.7 53.8-75.7 28.8-35.9 66-62.7 19.1-13.4 41.1-21.4 21.2-7.6 43.6-6.9 23.1 1 43.9 11 20.5 9.9 37.4 25.2M1372.3 2114.5q-30.7-37.5-67.4-69-36.3-31.6-80.8-49.6-45.7-18-93.5-7.8-23.3 5.5-44.1 17.4-20.4 11.7-37.8 27.4M1229 2137.7q24.2-39.7 53.7-75.7 28.2-35.1 64.5-61.5 19.2-13.7 41.2-21.9 21.2-7.8 43.8-7.4 23 .7 44 10.4 19.8 9.4 36.4 23.9M1378.2 2108.2q-30.7-37.4-67.4-68.9-36.3-31.5-80.8-49.4-45.8-18-93.7-7.7-23.4 5.5-44.2 17.4-20.4 11.8-37.9 27.5M1223.2 2132.9q23.6-38.7 52.1-73.8 28.3-35.4 64.6-62.3 18.6-13.4 39.9-21.8 21.2-8.3 43.9-8.5 23 .2 44.2 9.5 20 8.8 36.7 22.9M1384 2102.3q-30.6-37.5-67.3-68.9-36.3-31.5-80.9-49.3-45.8-17.9-93.8-7.6-23.4 5.5-44.3 17.5-20.5 11.8-38 27.6M1217.3 2128.3q23.7-38.6 52.2-73.8 27.7-34.6 63.1-61.1 18.6-13.7 39.9-22.3 20.6-8.3 42.7-8.9 22.3-.4 43.2 7.8 20 8.1 36.9 21.7M1389.9 2096.6q-30.6-37.4-67.3-68.8-36.4-31.4-80.9-49.2-46-17.9-94-7.5-23.5 5.6-44.4 17.6-20.5 11.7-38.1 27.6M1211.6 2123.9q23.5-38.6 52-73.7 27.2-33.8 61.7-60 18-13.4 38.5-22.2 20.6-8.7 42.9-9.9 22.3-1 43.4 6.8 20.1 7.6 37.2 20.8M1395.7 2091.2q-30.5-37.4-67.3-68.7-36.3-31.4-80.9-49.2-46.1-17.8-94.1-7.4-23.5 5.6-44.5 17.7-20.6 11.8-38.2 27.6M1205.8 2119.7q23.5-38.5 52-73.6 27.1-33.8 61.6-60 18-13.3 38.6-22.1 19.9-8.5 41.5-9.9 21.7-1.1 42.3 5.9 20.2 7.1 37.4 19.9M1401.6 2086.1q-31.2-38.1-68.8-69.8-36.4-31.2-80.9-48.4-46.2-17.4-94.1-6.5-23.6 5.8-44.5 18-19.9 11.6-37.1 27M1200.1 2115.7q22.9-37.5 50.4-71.7 26.6-33.4 60.2-59.6 17.4-13.3 37.3-22.4 19.9-9.2 41.6-11.4 21.7-1.9 42.6 4.4 20.3 6.3 37.7 18.5M1407.4 2081.3q-30.6-37.3-67.3-68.6-35.8-30.8-79.6-48.5-45.5-17.9-93.2-8.3-45.7 11-81.1 42.1M1194.3 2111.9q22.9-37.4 50.5-71.6 26.5-33.4 60.1-59.5 17.4-13.3 37.3-22.4 19.2-8.9 40.3-11.2 43.3-3.6 79.3 21.1M1413.1 2076.7q-29.9-36.5-65.7-67.2-34.7-30.1-76.9-48-44-18.5-91.1-11.2-45.8 8.9-82 38.7M1188.7 2108.3q22.8-37.4 50.3-71.5 26-32.6 58.7-58.4 17.4-13.4 37.3-22.8 18.6-8.7 39-11.5 42.4-4.6 78.4 18.4M1418.9 2072.5q-29.3-35.7-64.3-65.9-34.1-29.8-75.5-48.1-42.7-18.6-88.8-13.1-45.2 7.1-81.6 35.1M1183 2105q22.2-36.4 48.8-69.7 26-32.9 58.6-59 16.8-13.2 35.9-22.6 18.7-9.2 39.2-12.5 42.2-5.6 78.8 16.6M1424.6 2068.5q-28.7-34.9-62.7-64.6-33.6-29.5-74.2-48-42-19-87.7-14.8-44.6 5.7-81.1 32.2M1177.4 2101.8q22.1-36.4 48.7-69.6 25.4-32.1 57.2-57.8 16.7-13.4 35.9-23 18-9.1 37.8-12.7 41.3-6.7 77.9 13.9M1430.3 2064.8q-28.1-34.1-61.2-63.2-33-29.2-72.8-48-40.7-19.1-85.4-16.5-43.9 4-80.5 28.6M1171.8 2098.8q21.5-35.3 47.2-67.7 25.3-32.4 57.1-58.4 16.1-13 34.5-22.7 18-9.5 37.9-13.6 41.2-7.7 78.3 12M1435.9 2061.4q-28-34.1-61.1-63.2-31.8-28.1-69.9-46.6-39.4-19.1-83-18.1-43.2 2.3-80 25.2M1166.2 2096q21.5-35.3 47.1-67.6 24.8-31.6 55.6-57.2 16.2-13.2 34.6-23.1 17.3-9.3 36.6-13.7 40.2-8.7 77.2 9.5M1441.6 2058.2q-27.4-33.2-59.7-61.7-31.1-27.8-68.4-46.5-38.1-19.1-80.6-19.6-42.4 .7-79.4 21.8M1160.6 2093.4q21.5-35.2 47.1-67.5 24.2-30.8 54.1-56 15.5-12.8 33.1-22.6 17.4-9.8 36.7-14.7 40.1-9.6 77.6 7.6M1447.2 2055.4q-26.7-32.5-58.1-60.4-30.6-27.5-67.1-46.4-37.4-19.3-79.4-20.9-41-.5-77.4 18.4M1155.1 2091q20.8-34.1 45.5-65.6 24.2-31 54.1-56.5 30.3-26.3 68.4-37.8 39.2-10.5 76.6 5.2M1452.7 2052.8q-26-31.6-56.5-59-30-27.2-65.7-46.2-36.1-19.3-76.9-22.2-40.2-1.9-76.7 15.2M1149.6 2088.8q20.8-34.1 45.4-65.5 23.6-30.2 52.6-55.2 30.3-26.6 68.5-38.6 38.4-10.8 75.5 3.6M1458.3 2050.5q-25.4-30.8-55-57.6-29.4-26.9-64.3-45.9-34.8-19.2-74.3-23.4-39.5-3.3-76 12M1144.1 2086.8q20.2-33 43.9-63.6 23.6-30.5 52.6-55.8 29.6-26.3 67.1-38.9 37.4-11.6 74.4 1.3M1463.8 2048.5q-25.4-30.8-55-57.6-28.1-25.6-61.3-44.3-34.2-19.4-73.1-24.5-38-4.2-73.9 9.1M1138.7 2085q20.1-33 43.8-63.5 23-29.7 51.1-54.5 29-26.1 65.7-39.3 36.5-12.2 73.3-.9M1469.3 2046.7q-24.8-30-53.5-56.2-27.5-25.2-59.8-43.9-33-19.2-70.5-25.4-37.3-5.5-73.1 6.1M1133.3 2083.4q20.1-33 43.7-63.4 22.9-29.7 51-54.4 28.5-25.6 64.3-38.9 35.8-12.4 72.1-2.2M1474.7 2045.3q-23.4-28.4-50.4-53.5-26.9-25.1-58.4-44.1-31.7-19.2-68-26.7-36.4-7-72.2 2.5M1127.9 2082q20-32.9 43.7-63.3 22.3-28.9 49.5-53.1 27.8-25.4 62.8-39.1 34.9-13 71.1-4.3M1480.1 2044q-23.4-28.3-50.3-53.3-25.7-24-55.5-42.4-31.1-19.3-66.7-27.6-35-7.7-69.9 .1M1122.6 2080.7q19.4-31.8 42.1-61.3 22.3-29.1 49.4-53.6 27.3-25.1 61.5-39.3 34-13.6 69.9-6.4M1485.5 2043.1q-22.8-27.5-48.8-51.9-25.1-23.6-54-42-29.9-19-64-28-34.2-8.7-69-2.7M1117.3 2079.7q19.3-31.8 42-61.3 21.7-28.2 47.9-52.2 26.7-24.9 60.1-39.4 33.9-14.4 70-8.1M1490.8 2042.4q-22.1-26.7-47.3-50.5-24.3-23.1-52.5-41.4-28.6-18.7-61.2-28.4-32.8-9.5-66.7-5.4M1112 2078.8q18.7-30.7 40.5-59.3 21.6-28.4 47.8-52.7 26.2-24.6 58.7-39.5 33-14.9 68.8-10M1496.1 2042q-21.4-25.9-45.7-49-23.8-22.7-51.1-40.9-27.9-18.7-59.8-29-31.5-10-64.3-7.5M1106.8 2078.2q18.6-30.7 40.4-59.2 21-27.7 46.3-51.4 25.5-24.3 57.2-39.5 32.3-15.4 67.7-11.9M1501.3 2041.9q-20.7-25.1-44.1-47.6-23.1-22.3-49.6-40.3-26.7-18.3-57.1-29.1-30.1-10.6-61.9-9.9M1101.6 2077.7q18.6-30.6 40.3-59.1 20.4-26.8 44.8-50 25.5-24.5 57.2-40.2 30.8-15 65-12.9M1506.5 2042q-39.6-49.1-90.7-85.8-26-18.3-55.7-29.6-28.7-10.9-59.3-11.5M1096.4 2077.4q17.9-29.6 38.8-57.1 20.4-27 44.7-50.5 24.9-24.2 55.8-40.1 30.7-15.8 65.1-14.6M1511.7 2042.4q-38.4-47.6-87.6-83.7-24.8-17.8-53-29.5-27.3-11.2-56.8-13.3M1091.2 2077.3q18-29.5 38.8-57 19.7-26.2 43.2-49 24.3-24 54.3-40.1 29.9-16.1 63.8-16.2M1516.8 2043q-37.2-46-84.6-81.5-23.5-17.3-50.1-29.2-26-11.5-54.3-15M1086.1 2077.4q17.3-28.5 37.3-55.1 19.7-26.3 43.1-49.4 23.7-23.6 52.8-40 29.2-16.4 62.6-17.7M1521.9 2043.9q-35.5-43.8-80.1-78.3-22.9-17.3-48.7-29.7-24.7-11.8-51.7-16.5M1081.1 2077.6q17.2-28.4 37.1-54.9 19.1-25.5 41.6-48 23.1-23.2 51.4-39.7 28.5-16.7 61.3-19.2M1527 2045.1q-34.4-42.3-77.1-76-21.6-16.7-45.9-29.2-23.4-12-49-17.7M1076.1 2078.1q17.1-28.4 37-54.9 19-25.5 41.6-47.9 22.5-22.6 49.8-38.9 27.2-16.2 58.6-19.7M1532 2046.5q-33.2-40.8-74.1-73.7-20.3-16-43-28.4-22.1-12.1-46.4-18.8M1071.1 2078.7q32.5-55.2 77-101.2 21.9-22.2 48.4-38.6 26.4-16.5 57.2-21M1536.9 2048.1q-31.3-38.5-69.6-70.1-38.2-32-85.2-48.2M1066.1 2079.5q32-54.2 75.4-99.6 21.3-21.9 46.9-38.3 25.8-16.6 55.9-22.2M1541.8 2050q-30.1-36.9-66.5-67.7-35.9-30.5-79.7-47.6M1061.2 2080.4q31.4-53.1 73.8-97.9 21.3-22.1 46.9-38.9 24.5-16.1 53.1-22.3M1546.7 2052.2q-28.9-35.5-63.5-65.2-33.5-29-74-46.8M1056.3 2081.6q30.9-52.2 72.2-96.4 20.7-21.7 45.4-38.4 23.9-16.2 51.8-23.3M1551.5 2054.5q-27-33.1-59-61.4-31.7-28.1-69.8-46.7M1051.5 2082.9q29.7-50.3 69.2-93.2 20-21.5 43.9-38.5 23.8-17 51.8-25.1M1556.3 2057.2q-25.1-30.9-54.6-57.6-29.3-26.7-64.1-45.6M1046.7 2084.4q29.1-49.3 67.6-91.6 19.4-21 42.4-37.9 23.1-17.1 50.4-26M1561.1 2060q-23.9-29.2-51.7-54.8-26.8-24.9-58.4-43.5M1041.9 2086q28.6-48.2 66.1-89.9 19.3-21.2 42.3-38.4 21.9-16.4 47.6-25.6M1565.7 2063.1q-22-26.9-47.2-50.8-24.4-23.2-52.6-41.4M1037.2 2087.8q28-47.2 64.5-88.1 18.7-20.8 40.8-37.8 21.3-16.5 46.2-26.3M1570.4 2066.4q-39.6-49.6-91.2-86.5M1032.5 2089.8q27.4-46.2 62.9-86.4 18.1-20.3 39.4-37.2 20.6-16.4 44.7-26.7M1575 2070q-35.8-44.6-81.1-79.4M1027.8 2092q26.9-45.2 61.4-84.8 17.5-19.8 37.9-36.4 19.9-16.4 43.3-27.2M1579.5 2073.7q-31.8-39.4-70.9-71.5M1023.2 2094.3q26.3-44.2 59.8-83 16.9-19.3 36.5-35.7 18.7-15.8 40.4-26.9M1584 2077.7q-27.7-34.2-60.8-63.2M1018.7 2096.7q25.6-43.1 58.2-81.2 16.2-18.7 35-34.9 18-15.6 39-27M1588.5 2081.9q-23.5-28.9-50.9-54.3M1014.1 2099.4q25.1-42.2 56.7-79.5 15.6-18.2 33.5-34.1 17.4-15.4 37.6-27.1M1592.9 2086.3q-19.2-23.5-40.8-44.8M1009.7 2102.2q24.4-41.1 55.1-77.8 29.3-35.6 68.2-60.3M1597.2 2091q-14.1-17.3-29.4-33.4M1005.2 2105.1q23.3-39.1 52.2-74.3 28.3-34.8 65.3-60M1601.6 2095.8q-9.6-11.6-19.6-22.8M1000.8 2108.2q22.7-38.1 50.7-72.5 27.1-33.7 62.3-58.9M1605.8 2100.9l-9.7-11.7M996.4 2111.4q22.1-37 49.2-70.6 26-32.6 59.4-57.6M1610 2106.1l-15.3-18M992.1 2114.8q20.9-35.1 46.3-67.1 24.9-31.7 56.5-56.8M1614.2 2111.6q-14-17.2-29.1-33.2M987.8 2118.4q20.3-34.1 44.8-65.3 23.8-30.5 53.6-55.1" fill="none" stroke="#000" stroke-opacity=".78" stroke-width="1.5"/>
<path d="M1300.3 2211.3q-29.9-37-65.5-68.6-35.2-31.7-78.3-51.1-44.2-19.7-91.6-11.9-23.2 4.5-44 15.8-20.2 11.1-37.3 26.5M1300.3 2211.3q28.1-46 63.1-86.9 17.1-19.8 36.7-37.1 19.1-16.8 41.5-29.1 23.7-13 50.5-15.9 25.8-2.2 49.7 7.7 24.3 10.5 43.4 28.7 18.5 17.6 33.1 38.5M1618.3 2117.2q-20.7-25.5-44.3-48.4M983.6 2122q19.1-32 41.9-61.6 22.6-29.6 50.7-54" fill="none" stroke="#000" stroke-width="1.5" stroke-linejoin="round"/>
<g font-size="11.5" fill="#111"><path d="M984.5 2127.6h-4" stroke="#000" stroke-width="2"/><text transform="translate(974.5,2138.1) scale(1.634,1)" text-anchor="end">34</text><path d="M980.3 2075h-4" stroke="#000" stroke-width="2"/><text transform="translate(970.3,2085.5) scale(1.634,1)" text-anchor="end">46.75</text><path d="M976.1 2022.3h-4" stroke="#000" stroke-width="2"/><text transform="translate(966.1,2032.8) scale(1.634,1)" text-anchor="end">59.5</text><path d="M971.9 1969.6h-4" stroke="#000" stroke-width="2"/><text transform="translate(961.9,1980.1) scale(1.634,1)" text-anchor="end">72.25</text><path d="M967.7 1917h-4" stroke="#000" stroke-width="2"/><text transform="translate(957.7,1927.5) scale(1.634,1)" text-anchor="end">85</text><circle cx="1300.4" cy="2287.6" r="1.7"/><text transform="translate(1308.9,2298.6) scale(1.634,1)">1.00</text><circle cx="1378.4" cy="2263.9" r="1.7"/><text transform="translate(1386.9,2274.9) scale(1.634,1)">2.25</text><circle cx="1456.4" cy="2240.2" r="1.7"/><text transform="translate(1464.9,2251.2) scale(1.634,1)">3.50</text><circle cx="1534.4" cy="2216.5" r="1.7"/><text transform="translate(1542.9,2227.5) scale(1.634,1)">4.75</text><circle cx="1612.4" cy="2192.9" r="1.7"/><text transform="translate(1620.9,2203.9) scale(1.634,1)">6.00</text><circle cx="1300.4" cy="2287.6" r="1.7"/><text transform="translate(1290.9,2298.6) scale(1.634,1)" text-anchor="end">1.00</text><circle cx="1222.6" cy="2263.9" r="1.7"/><text transform="translate(1213.1,2274.9) scale(1.634,1)" text-anchor="end">2.25</text><circle cx="1144.8" cy="2240.2" r="1.7"/><text transform="translate(1135.3,2251.2) scale(1.634,1)" text-anchor="end">3.50</text><circle cx="1067" cy="2216.6" r="1.7"/><text transform="translate(1057.5,2227.6) scale(1.634,1)" text-anchor="end">4.75</text><circle cx="989.2" cy="2192.9" r="1.7"/><text transform="translate(979.7,2203.9) scale(1.634,1)" text-anchor="end">6.00</text></g>
<text transform="translate(1686.5,2282.1) scale(1.494,1)" font-size="17.5" text-anchor="end">D: Ammonium nitrate</text>
<text transform="translate(951.5,2282.1) scale(1.494,1)" font-size="17.5">E: Beef extract</text>
<text transform="translate(1306.5,1891.5) scale(1.11,1)" font-size="57" font-weight="bold" text-anchor="middle">j</text>
</g>

</svg>
</body></html>
